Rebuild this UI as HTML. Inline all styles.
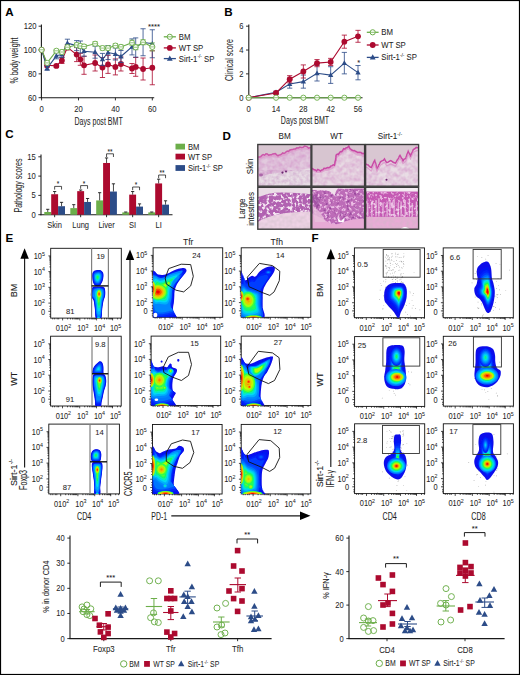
<!DOCTYPE html>
<html><head><meta charset="utf-8"><style>
html,body{margin:0;padding:0;background:#fff;}
svg{display:block;font-family:"Liberation Sans", sans-serif;fill:#1e1e1e;}
text{stroke:#1e1e1e;stroke-width:0.05px;}
.bt text{stroke-width:0.1px;}
</style></head><body>
<svg width="520" height="675" viewBox="0 0 520 675">
<defs>
<filter id="bl" x="-5%" y="-5%" width="110%" height="110%"><feGaussianBlur stdDeviation="0.55"/></filter>
<filter id="bl2"><feGaussianBlur stdDeviation="0.35"/></filter>
<filter id="tp" x="0" y="0" width="100%" height="100%" color-interpolation-filters="sRGB"><feTurbulence type="fractalNoise" baseFrequency="0.22" numOctaves="2" seed="2"/><feColorMatrix type="matrix" values="0 0 0 0 0.78 0 0 0 0 0.43 0 0 0 0 0.73 0.75 0 0 0 -0.22"/><feComposite in2="SourceGraphic" operator="in"/></filter>
<filter id="tp2" x="0" y="0" width="100%" height="100%" color-interpolation-filters="sRGB"><feTurbulence type="fractalNoise" baseFrequency="0.3" numOctaves="2" seed="5"/><feColorMatrix type="matrix" values="0 0 0 0 0.63 0 0 0 0 0.27 0 0 0 0 0.63 1 0 0 0 -0.3"/><feComposite in2="SourceGraphic" operator="in"/></filter>
<filter id="tw" x="0" y="0" width="100%" height="100%" color-interpolation-filters="sRGB"><feTurbulence type="fractalNoise" baseFrequency="0.3" numOctaves="2" seed="9"/><feColorMatrix type="matrix" values="0 0 0 0 0.98 0 0 0 0 0.94 0 0 0 0 0.97 1.38 0 0 0 -0.41"/><feComposite in2="SourceGraphic" operator="in"/></filter>
<filter id="tg" x="0" y="0" width="100%" height="100%" color-interpolation-filters="sRGB"><feTurbulence type="fractalNoise" baseFrequency="0.3" numOctaves="1" seed="11"/><feColorMatrix type="matrix" values="0 0 0 0 0.78 0 0 0 0 0.73 0 0 0 0 0.76 0.87 0 0 0 -0.26"/><feComposite in2="SourceGraphic" operator="in"/></filter>
<filter id="th" x="0" y="0" width="100%" height="100%" color-interpolation-filters="sRGB"><feTurbulence type="fractalNoise" baseFrequency="0.3" numOctaves="2" seed="4"/><feColorMatrix type="matrix" values="0 0 0 0 0.96 0 0 0 0 0.9 0 0 0 0 0.95 6 0 0 0 -3.0"/><feGaussianBlur stdDeviation="0.35"/><feComposite in2="SourceGraphic" operator="in"/></filter>
<filter id="th2" x="0" y="0" width="100%" height="100%" color-interpolation-filters="sRGB"><feTurbulence type="fractalNoise" baseFrequency="0.35" numOctaves="2" seed="8"/><feColorMatrix type="matrix" values="0 0 0 0 0.93 0 0 0 0 0.75 0 0 0 0 0.9 5 0 0 0 -2.5"/><feGaussianBlur stdDeviation="0.3"/><feComposite in2="SourceGraphic" operator="in"/></filter>
<filter id="td" x="0" y="0" width="100%" height="100%" color-interpolation-filters="sRGB"><feTurbulence type="fractalNoise" baseFrequency="0.3" numOctaves="2" seed="13"/><feColorMatrix type="matrix" values="0 0 0 0 0.5 0 0 0 0 0.18 0 0 0 0 0.55 4 0 0 0 -2.2"/><feComposite in2="SourceGraphic" operator="in"/></filter>
<clipPath id="c1"><rect x="257.8" y="144.5" width="53.2" height="41.7"/></clipPath>
<clipPath id="c2"><rect x="311.8" y="144.5" width="52.8" height="41.7"/></clipPath>
<clipPath id="c3"><rect x="365.6" y="144.5" width="53" height="41.7"/></clipPath>
<clipPath id="c4"><rect x="257.8" y="187.3" width="53.2" height="41.9"/></clipPath>
<clipPath id="c5"><rect x="311.8" y="187.3" width="52.8" height="41.9"/></clipPath>
<clipPath id="c6"><rect x="365.6" y="187.3" width="53" height="41.9"/></clipPath>
<clipPath id="c7"><rect x="50.7" y="248.3" width="70.6" height="69.8"/></clipPath>
<clipPath id="c8"><rect x="50.6" y="336.2" width="70.6" height="69.8"/></clipPath>
<clipPath id="c9"><rect x="48.8" y="424.1" width="70.6" height="69.8"/></clipPath>
<clipPath id="c10"><rect x="153.1" y="247.8" width="69.6" height="69.5"/></clipPath>
<clipPath id="c11"><rect x="241.2" y="247.8" width="69.6" height="69.5"/></clipPath>
<clipPath id="c12"><rect x="151.1" y="336.1" width="69.6" height="69.5"/></clipPath>
<clipPath id="c13"><rect x="241.2" y="336.1" width="69.6" height="69.5"/></clipPath>
<clipPath id="c14"><rect x="152.5" y="424.5" width="69.6" height="69.5"/></clipPath>
<clipPath id="c15"><rect x="241.2" y="424.4" width="69.6" height="69.5"/></clipPath>
<clipPath id="c16"><rect x="354.4" y="247.9" width="70.1" height="69.8"/></clipPath>
<clipPath id="c17"><rect x="443.2" y="247.9" width="70.1" height="69.8"/></clipPath>
<clipPath id="c18"><rect x="354.6" y="336.6" width="70.1" height="69.8"/></clipPath>
<clipPath id="c19"><rect x="443.3" y="336.3" width="70.1" height="69.8"/></clipPath>
<clipPath id="c20"><rect x="354.6" y="423.8" width="70.1" height="69.8"/></clipPath>
<clipPath id="c21"><rect x="443.3" y="423.8" width="70.1" height="69.8"/></clipPath>
</defs>
<rect x="0" y="0" width="520" height="675" fill="#fff"/>
<text x="5.3" y="15.9" font-size="11.6" font-weight="bold" fill="#000">A</text>
<text x="224.3" y="15.7" font-size="11.6" font-weight="bold" fill="#000">B</text>
<text x="5.3" y="138.3" font-size="11.6" font-weight="bold" fill="#000">C</text>
<text x="222.6" y="139.7" font-size="11.6" font-weight="bold" fill="#000">D</text>
<text x="5.6" y="242.3" font-size="11.6" font-weight="bold" fill="#000">E</text>
<text x="311.4" y="242.1" font-size="11.6" font-weight="bold" fill="#000">F</text>
<line x1="41.4" y1="24.5" x2="41.4" y2="98.2" stroke="#1a1a1a" stroke-width="1.1"/>
<line x1="40.9" y1="97.7" x2="154.2" y2="97.7" stroke="#1a1a1a" stroke-width="1.1"/>
<line x1="38.6" y1="97.7" x2="41.4" y2="97.7" stroke="#1a1a1a" stroke-width="0.9"/>
<text transform="translate(36.4 97.7) scale(0.9 1)" font-size="8.5" text-anchor="end" dy="3.02">60</text>
<line x1="38.6" y1="73.87" x2="41.4" y2="73.87" stroke="#1a1a1a" stroke-width="0.9"/>
<text transform="translate(36.4 73.87) scale(0.9 1)" font-size="8.5" text-anchor="end" dy="3.02">80</text>
<line x1="38.6" y1="50.03" x2="41.4" y2="50.03" stroke="#1a1a1a" stroke-width="0.9"/>
<text transform="translate(36.4 50.03) scale(0.9 1)" font-size="8.5" text-anchor="end" dy="3.02">100</text>
<line x1="38.6" y1="26.2" x2="41.4" y2="26.2" stroke="#1a1a1a" stroke-width="0.9"/>
<text transform="translate(36.4 26.2) scale(0.9 1)" font-size="8.5" text-anchor="end" dy="3.02">120</text>
<line x1="41.6" y1="97.7" x2="41.6" y2="100.4" stroke="#1a1a1a" stroke-width="0.9"/>
<text transform="translate(41.6 108.5) scale(0.9 1)" font-size="8.5" text-anchor="middle" dy="3.02">0</text>
<line x1="78.5" y1="97.7" x2="78.5" y2="100.4" stroke="#1a1a1a" stroke-width="0.9"/>
<text transform="translate(78.5 108.5) scale(0.9 1)" font-size="8.5" text-anchor="middle" dy="3.02">20</text>
<line x1="115.4" y1="97.7" x2="115.4" y2="100.4" stroke="#1a1a1a" stroke-width="0.9"/>
<text transform="translate(115.4 108.5) scale(0.9 1)" font-size="8.5" text-anchor="middle" dy="3.02">40</text>
<line x1="152.3" y1="97.7" x2="152.3" y2="100.4" stroke="#1a1a1a" stroke-width="0.9"/>
<text transform="translate(152.3 108.5) scale(0.9 1)" font-size="8.5" text-anchor="middle" dy="3.02">60</text>
<text transform="translate(14.2 60.5) rotate(-90) scale(0.7 1)" font-size="10.1" text-anchor="middle" dy="3.59">% body weight</text>
<text transform="translate(98.6 121.3) scale(0.7 1)" font-size="10.1" text-anchor="middle" dy="3.59">Days post BMT</text>
<text transform="translate(154 26.6)" font-size="7.8" text-anchor="middle" dy="2.77">****</text>
<path d="M47.14 63.3V67.3M44.54 63.3H49.74M44.54 67.3H49.74" stroke="#ac0a2f" stroke-width="0.9" opacity="0.9" fill="none"/>
<path d="M56.36 64.4V67.4M53.76 64.4H58.96M53.76 67.4H58.96" stroke="#ac0a2f" stroke-width="0.9" opacity="0.9" fill="none"/>
<path d="M61.89 57.5V63.5M59.29 57.5H64.49M59.29 63.5H64.49" stroke="#ac0a2f" stroke-width="0.9" opacity="0.9" fill="none"/>
<path d="M67.43 44.9V49.9M64.83 44.9H70.03M64.83 49.9H70.03" stroke="#ac0a2f" stroke-width="0.9" opacity="0.9" fill="none"/>
<path d="M76.66 47.6V61.6M74.06 47.6H79.25M74.06 61.6H79.25" stroke="#ac0a2f" stroke-width="0.9" opacity="0.9" fill="none"/>
<path d="M80.34 53.3V65.3M77.75 53.3H82.94M77.75 65.3H82.94" stroke="#ac0a2f" stroke-width="0.9" opacity="0.9" fill="none"/>
<path d="M84.03 56.3V74.3M81.44 56.3H86.63M81.44 74.3H86.63" stroke="#ac0a2f" stroke-width="0.9" opacity="0.9" fill="none"/>
<path d="M95.11 55V71M92.51 55H97.7M92.51 71H97.7" stroke="#ac0a2f" stroke-width="0.9" opacity="0.9" fill="none"/>
<path d="M102.48 57.5V77.5M99.89 57.5H105.08M99.89 77.5H105.08" stroke="#ac0a2f" stroke-width="0.9" opacity="0.9" fill="none"/>
<path d="M108.02 55.4V73.4M105.42 55.4H110.62M105.42 73.4H110.62" stroke="#ac0a2f" stroke-width="0.9" opacity="0.9" fill="none"/>
<path d="M115.4 58.9V74.9M112.8 58.9H118M112.8 74.9H118" stroke="#ac0a2f" stroke-width="0.9" opacity="0.9" fill="none"/>
<path d="M120.94 57V71M118.34 57H123.53M118.34 71H123.53" stroke="#ac0a2f" stroke-width="0.9" opacity="0.9" fill="none"/>
<path d="M132 63.5V73.5M129.41 63.5H134.6M129.41 73.5H134.6" stroke="#ac0a2f" stroke-width="0.9" opacity="0.9" fill="none"/>
<path d="M135.69 57.5V76.3M133.09 57.5H138.29M133.09 76.3H138.29" stroke="#ac0a2f" stroke-width="0.9" opacity="0.9" fill="none"/>
<path d="M143.07 58V80M140.47 58H145.67M140.47 80H145.67" stroke="#ac0a2f" stroke-width="0.9" opacity="0.9" fill="none"/>
<path d="M152.3 50.75V84.75M149.7 50.75H154.9M149.7 84.75H154.9" stroke="#ac0a2f" stroke-width="0.9" opacity="0.9" fill="none"/>
<polyline points="41.6,49.8 47.14,65.3 56.36,65.9 61.89,60.5 67.43,47.4 76.66,54.6 80.34,59.3 84.03,65.3 95.11,63 102.48,67.5 108.02,64.4 115.4,66.9 120.94,64 132,68.5 135.69,66.9 143.07,69 152.3,67.75" fill="none" stroke="#ac0a2f" stroke-width="1.1"/>
<circle cx="41.6" cy="49.8" r="2.9" fill="#ac0a2f" stroke="none" stroke-width="1"/>
<circle cx="47.14" cy="65.3" r="2.9" fill="#ac0a2f" stroke="none" stroke-width="1"/>
<circle cx="56.36" cy="65.9" r="2.9" fill="#ac0a2f" stroke="none" stroke-width="1"/>
<circle cx="61.89" cy="60.5" r="2.9" fill="#ac0a2f" stroke="none" stroke-width="1"/>
<circle cx="67.43" cy="47.4" r="2.9" fill="#ac0a2f" stroke="none" stroke-width="1"/>
<circle cx="76.66" cy="54.6" r="2.9" fill="#ac0a2f" stroke="none" stroke-width="1"/>
<circle cx="80.34" cy="59.3" r="2.9" fill="#ac0a2f" stroke="none" stroke-width="1"/>
<circle cx="84.03" cy="65.3" r="2.9" fill="#ac0a2f" stroke="none" stroke-width="1"/>
<circle cx="95.11" cy="63" r="2.9" fill="#ac0a2f" stroke="none" stroke-width="1"/>
<circle cx="102.48" cy="67.5" r="2.9" fill="#ac0a2f" stroke="none" stroke-width="1"/>
<circle cx="108.02" cy="64.4" r="2.9" fill="#ac0a2f" stroke="none" stroke-width="1"/>
<circle cx="115.4" cy="66.9" r="2.9" fill="#ac0a2f" stroke="none" stroke-width="1"/>
<circle cx="120.94" cy="64" r="2.9" fill="#ac0a2f" stroke="none" stroke-width="1"/>
<circle cx="132" cy="68.5" r="2.9" fill="#ac0a2f" stroke="none" stroke-width="1"/>
<circle cx="135.69" cy="66.9" r="2.9" fill="#ac0a2f" stroke="none" stroke-width="1"/>
<circle cx="143.07" cy="69" r="2.9" fill="#ac0a2f" stroke="none" stroke-width="1"/>
<circle cx="152.3" cy="67.75" r="2.9" fill="#ac0a2f" stroke="none" stroke-width="1"/>
<path d="M47.14 66.3V70.3M44.54 66.3H49.74M44.54 70.3H49.74" stroke="#2c4c88" stroke-width="0.9" opacity="0.9" fill="none"/>
<path d="M56.36 52.8V58.8M53.76 52.8H58.96M53.76 58.8H58.96" stroke="#2c4c88" stroke-width="0.9" opacity="0.9" fill="none"/>
<path d="M61.89 51.6V57.6M59.29 51.6H64.49M59.29 57.6H64.49" stroke="#2c4c88" stroke-width="0.9" opacity="0.9" fill="none"/>
<path d="M67.43 39.2V47.2M64.83 39.2H70.03M64.83 47.2H70.03" stroke="#2c4c88" stroke-width="0.9" opacity="0.9" fill="none"/>
<path d="M76.66 40.6V50.6M74.06 40.6H79.25M74.06 50.6H79.25" stroke="#2c4c88" stroke-width="0.9" opacity="0.9" fill="none"/>
<path d="M80.34 41V53M77.75 41H82.94M77.75 53H82.94" stroke="#2c4c88" stroke-width="0.9" opacity="0.9" fill="none"/>
<path d="M84.03 46.2V56.2M81.44 46.2H86.63M81.44 56.2H86.63" stroke="#2c4c88" stroke-width="0.9" opacity="0.9" fill="none"/>
<path d="M95.11 46.2V58.2M92.51 46.2H97.7M92.51 58.2H97.7" stroke="#2c4c88" stroke-width="0.9" opacity="0.9" fill="none"/>
<path d="M102.48 53.4V65.4M99.89 53.4H105.08M99.89 65.4H105.08" stroke="#2c4c88" stroke-width="0.9" opacity="0.9" fill="none"/>
<path d="M108.02 45.5V59.5M105.42 45.5H110.62M105.42 59.5H110.62" stroke="#2c4c88" stroke-width="0.9" opacity="0.9" fill="none"/>
<path d="M115.4 48V60M112.8 48H118M112.8 60H118" stroke="#2c4c88" stroke-width="0.9" opacity="0.9" fill="none"/>
<path d="M120.94 50.5V62.5M118.34 50.5H123.53M118.34 62.5H123.53" stroke="#2c4c88" stroke-width="0.9" opacity="0.9" fill="none"/>
<path d="M132 38.9V54.9M129.41 38.9H134.6M129.41 54.9H134.6" stroke="#2c4c88" stroke-width="0.9" opacity="0.9" fill="none"/>
<path d="M135.69 37.9V57.1M133.09 37.9H138.29M133.09 57.1H138.29" stroke="#2c4c88" stroke-width="0.9" opacity="0.9" fill="none"/>
<path d="M143.07 28.75V55.75M140.47 28.75H145.67M140.47 55.75H145.67" stroke="#2c4c88" stroke-width="0.9" opacity="0.9" fill="none"/>
<path d="M152.3 29.75V57.75M149.7 29.75H154.9M149.7 57.75H154.9" stroke="#2c4c88" stroke-width="0.9" opacity="0.9" fill="none"/>
<polyline points="41.6,49.8 47.14,68.3 56.36,55.8 61.89,54.6 67.43,43.2 76.66,45.6 80.34,47 84.03,51.2 95.11,52.2 102.48,59.4 108.02,52.5 115.4,54 120.94,56.5 132,46.9 135.69,47.5 143.07,42.25 152.3,43.75" fill="none" stroke="#2c4c88" stroke-width="1.1"/>
<path d="M41.6 46.95L44.24 51.7L38.96 51.7Z" fill="#2c4c88"/>
<path d="M47.14 65.45L49.78 70.2L44.5 70.2Z" fill="#2c4c88"/>
<path d="M56.36 52.95L59 57.7L53.72 57.7Z" fill="#2c4c88"/>
<path d="M61.89 51.75L64.53 56.5L59.25 56.5Z" fill="#2c4c88"/>
<path d="M67.43 40.35L70.07 45.1L64.79 45.1Z" fill="#2c4c88"/>
<path d="M76.66 42.75L79.3 47.5L74.02 47.5Z" fill="#2c4c88"/>
<path d="M80.34 44.15L82.98 48.9L77.7 48.9Z" fill="#2c4c88"/>
<path d="M84.03 48.35L86.67 53.1L81.39 53.1Z" fill="#2c4c88"/>
<path d="M95.11 49.35L97.75 54.1L92.47 54.1Z" fill="#2c4c88"/>
<path d="M102.48 56.55L105.12 61.3L99.84 61.3Z" fill="#2c4c88"/>
<path d="M108.02 49.65L110.66 54.4L105.38 54.4Z" fill="#2c4c88"/>
<path d="M115.4 51.15L118.04 55.9L112.76 55.9Z" fill="#2c4c88"/>
<path d="M120.94 53.65L123.58 58.4L118.3 58.4Z" fill="#2c4c88"/>
<path d="M132 44.05L134.64 48.8L129.37 48.8Z" fill="#2c4c88"/>
<path d="M135.69 44.65L138.33 49.4L133.06 49.4Z" fill="#2c4c88"/>
<path d="M143.07 39.4L145.71 44.15L140.44 44.15Z" fill="#2c4c88"/>
<path d="M152.3 40.9L154.94 45.65L149.66 45.65Z" fill="#2c4c88"/>
<path d="M47.14 61.4V64.4M44.54 61.4H49.74M44.54 64.4H49.74" stroke="#6cae4a" stroke-width="0.9" opacity="0.9" fill="none"/>
<path d="M56.36 49.3V52.3M53.76 49.3H58.96M53.76 52.3H58.96" stroke="#6cae4a" stroke-width="0.9" opacity="0.9" fill="none"/>
<path d="M61.89 50V54M59.29 50H64.49M59.29 54H64.49" stroke="#6cae4a" stroke-width="0.9" opacity="0.9" fill="none"/>
<path d="M67.43 45.2V49.2M64.83 45.2H70.03M64.83 49.2H70.03" stroke="#6cae4a" stroke-width="0.9" opacity="0.9" fill="none"/>
<path d="M76.66 43V47M74.06 43H79.25M74.06 47H79.25" stroke="#6cae4a" stroke-width="0.9" opacity="0.9" fill="none"/>
<path d="M80.34 44V48M77.75 44H82.94M77.75 48H82.94" stroke="#6cae4a" stroke-width="0.9" opacity="0.9" fill="none"/>
<path d="M84.03 44.5V48.5M81.44 44.5H86.63M81.44 48.5H86.63" stroke="#6cae4a" stroke-width="0.9" opacity="0.9" fill="none"/>
<path d="M95.11 41.75V45.75M92.51 41.75H97.7M92.51 45.75H97.7" stroke="#6cae4a" stroke-width="0.9" opacity="0.9" fill="none"/>
<path d="M102.48 46.1V50.1M99.89 46.1H105.08M99.89 50.1H105.08" stroke="#6cae4a" stroke-width="0.9" opacity="0.9" fill="none"/>
<path d="M108.02 46.1V50.1M105.42 46.1H110.62M105.42 50.1H110.62" stroke="#6cae4a" stroke-width="0.9" opacity="0.9" fill="none"/>
<path d="M115.4 43.6V47.6M112.8 43.6H118M112.8 47.6H118" stroke="#6cae4a" stroke-width="0.9" opacity="0.9" fill="none"/>
<path d="M120.94 44.9V48.9M118.34 44.9H123.53M118.34 48.9H123.53" stroke="#6cae4a" stroke-width="0.9" opacity="0.9" fill="none"/>
<path d="M132 40.25V45.25M129.41 40.25H134.6M129.41 45.25H134.6" stroke="#6cae4a" stroke-width="0.9" opacity="0.9" fill="none"/>
<path d="M135.69 44.75V49.75M133.09 44.75H138.29M133.09 49.75H138.29" stroke="#6cae4a" stroke-width="0.9" opacity="0.9" fill="none"/>
<path d="M143.07 39.75V44.75M140.47 39.75H145.67M140.47 44.75H145.67" stroke="#6cae4a" stroke-width="0.9" opacity="0.9" fill="none"/>
<path d="M152.3 42.9V50.9M149.7 42.9H154.9M149.7 50.9H154.9" stroke="#6cae4a" stroke-width="0.9" opacity="0.9" fill="none"/>
<polyline points="41.6,49.8 47.14,62.9 56.36,50.8 61.89,52 67.43,47.2 76.66,45 80.34,46 84.03,46.5 95.11,43.75 102.48,48.1 108.02,48.1 115.4,45.6 120.94,46.9 132,42.75 135.69,47.25 143.07,42.25 152.3,46.9" fill="none" stroke="#6cae4a" stroke-width="1.1"/>
<circle cx="41.6" cy="49.8" r="2.6" fill="white" stroke="#6cae4a" stroke-width="0.9"/>
<line x1="39" y1="49.8" x2="44.2" y2="49.8" stroke="#6cae4a" stroke-width="0.7"/>
<circle cx="47.14" cy="62.9" r="2.6" fill="white" stroke="#6cae4a" stroke-width="0.9"/>
<line x1="44.54" y1="62.9" x2="49.74" y2="62.9" stroke="#6cae4a" stroke-width="0.7"/>
<circle cx="56.36" cy="50.8" r="2.6" fill="white" stroke="#6cae4a" stroke-width="0.9"/>
<line x1="53.76" y1="50.8" x2="58.96" y2="50.8" stroke="#6cae4a" stroke-width="0.7"/>
<circle cx="61.89" cy="52" r="2.6" fill="white" stroke="#6cae4a" stroke-width="0.9"/>
<line x1="59.29" y1="52" x2="64.49" y2="52" stroke="#6cae4a" stroke-width="0.7"/>
<circle cx="67.43" cy="47.2" r="2.6" fill="white" stroke="#6cae4a" stroke-width="0.9"/>
<line x1="64.83" y1="47.2" x2="70.03" y2="47.2" stroke="#6cae4a" stroke-width="0.7"/>
<circle cx="76.66" cy="45" r="2.6" fill="white" stroke="#6cae4a" stroke-width="0.9"/>
<line x1="74.06" y1="45" x2="79.25" y2="45" stroke="#6cae4a" stroke-width="0.7"/>
<circle cx="80.34" cy="46" r="2.6" fill="white" stroke="#6cae4a" stroke-width="0.9"/>
<line x1="77.75" y1="46" x2="82.94" y2="46" stroke="#6cae4a" stroke-width="0.7"/>
<circle cx="84.03" cy="46.5" r="2.6" fill="white" stroke="#6cae4a" stroke-width="0.9"/>
<line x1="81.44" y1="46.5" x2="86.63" y2="46.5" stroke="#6cae4a" stroke-width="0.7"/>
<circle cx="95.11" cy="43.75" r="2.6" fill="white" stroke="#6cae4a" stroke-width="0.9"/>
<line x1="92.51" y1="43.75" x2="97.7" y2="43.75" stroke="#6cae4a" stroke-width="0.7"/>
<circle cx="102.48" cy="48.1" r="2.6" fill="white" stroke="#6cae4a" stroke-width="0.9"/>
<line x1="99.89" y1="48.1" x2="105.08" y2="48.1" stroke="#6cae4a" stroke-width="0.7"/>
<circle cx="108.02" cy="48.1" r="2.6" fill="white" stroke="#6cae4a" stroke-width="0.9"/>
<line x1="105.42" y1="48.1" x2="110.62" y2="48.1" stroke="#6cae4a" stroke-width="0.7"/>
<circle cx="115.4" cy="45.6" r="2.6" fill="white" stroke="#6cae4a" stroke-width="0.9"/>
<line x1="112.8" y1="45.6" x2="118" y2="45.6" stroke="#6cae4a" stroke-width="0.7"/>
<circle cx="120.94" cy="46.9" r="2.6" fill="white" stroke="#6cae4a" stroke-width="0.9"/>
<line x1="118.34" y1="46.9" x2="123.53" y2="46.9" stroke="#6cae4a" stroke-width="0.7"/>
<circle cx="132" cy="42.75" r="2.6" fill="white" stroke="#6cae4a" stroke-width="0.9"/>
<line x1="129.41" y1="42.75" x2="134.6" y2="42.75" stroke="#6cae4a" stroke-width="0.7"/>
<circle cx="135.69" cy="47.25" r="2.6" fill="white" stroke="#6cae4a" stroke-width="0.9"/>
<line x1="133.09" y1="47.25" x2="138.29" y2="47.25" stroke="#6cae4a" stroke-width="0.7"/>
<circle cx="143.07" cy="42.25" r="2.6" fill="white" stroke="#6cae4a" stroke-width="0.9"/>
<line x1="140.47" y1="42.25" x2="145.67" y2="42.25" stroke="#6cae4a" stroke-width="0.7"/>
<circle cx="152.3" cy="46.9" r="2.6" fill="white" stroke="#6cae4a" stroke-width="0.9"/>
<line x1="149.7" y1="46.9" x2="154.9" y2="46.9" stroke="#6cae4a" stroke-width="0.7"/>
<line x1="163.8" y1="36.8" x2="175.9" y2="36.8" stroke="#6cae4a" stroke-width="1.3"/>
<circle cx="169.8" cy="36.8" r="2.6" fill="white" stroke="#6cae4a" stroke-width="1"/>
<line x1="167.2" y1="36.8" x2="172.4" y2="36.8" stroke="#6cae4a" stroke-width="0.8"/>
<text transform="translate(178.8 36.8) scale(0.95 1)" font-size="8.2" dy="2.91">BM</text>
<line x1="163.8" y1="47.9" x2="175.9" y2="47.9" stroke="#ac0a2f" stroke-width="1.3"/>
<circle cx="169.8" cy="47.9" r="2.9" fill="#ac0a2f" stroke="none" stroke-width="1"/>
<text transform="translate(178.8 47.9) scale(0.95 1)" font-size="8.2" dy="2.91">WT SP</text>
<line x1="163.8" y1="58.6" x2="175.9" y2="58.6" stroke="#2c4c88" stroke-width="1.3"/>
<path d="M169.8 55.47L172.7 60.69L166.9 60.69Z" fill="#2c4c88"/>
<text transform="translate(178.8 58.6) scale(0.95 1)" font-size="8.2" dy="2.91">Sirt-1<tspan font-size="5.08" dy="-3.28">-/-</tspan><tspan dy="3.28"> SP</tspan></text>
<line x1="248.8" y1="24.5" x2="248.8" y2="98.2" stroke="#1a1a1a" stroke-width="1.1"/>
<line x1="248.3" y1="97.7" x2="362.5" y2="97.7" stroke="#1a1a1a" stroke-width="1.1"/>
<line x1="246" y1="97.7" x2="248.8" y2="97.7" stroke="#1a1a1a" stroke-width="0.9"/>
<text transform="translate(243.5 97.7) scale(0.9 1)" font-size="8.5" text-anchor="end" dy="3.02">0</text>
<line x1="246" y1="73.86" x2="248.8" y2="73.86" stroke="#1a1a1a" stroke-width="0.9"/>
<text transform="translate(243.5 73.86) scale(0.9 1)" font-size="8.5" text-anchor="end" dy="3.02">2</text>
<line x1="246" y1="50.02" x2="248.8" y2="50.02" stroke="#1a1a1a" stroke-width="0.9"/>
<text transform="translate(243.5 50.02) scale(0.9 1)" font-size="8.5" text-anchor="end" dy="3.02">4</text>
<line x1="246" y1="26.18" x2="248.8" y2="26.18" stroke="#1a1a1a" stroke-width="0.9"/>
<text transform="translate(243.5 26.18) scale(0.9 1)" font-size="8.5" text-anchor="end" dy="3.02">6</text>
<line x1="248.7" y1="97.7" x2="248.7" y2="100.4" stroke="#1a1a1a" stroke-width="0.9"/>
<text transform="translate(248.7 108.5) scale(0.9 1)" font-size="8.5" text-anchor="middle" dy="3.02">0</text>
<line x1="276.03" y1="97.7" x2="276.03" y2="100.4" stroke="#1a1a1a" stroke-width="0.9"/>
<text transform="translate(276.03 108.5) scale(0.9 1)" font-size="8.5" text-anchor="middle" dy="3.02">14</text>
<line x1="303.36" y1="97.7" x2="303.36" y2="100.4" stroke="#1a1a1a" stroke-width="0.9"/>
<text transform="translate(303.36 108.5) scale(0.9 1)" font-size="8.5" text-anchor="middle" dy="3.02">28</text>
<line x1="330.68" y1="97.7" x2="330.68" y2="100.4" stroke="#1a1a1a" stroke-width="0.9"/>
<text transform="translate(330.68 108.5) scale(0.9 1)" font-size="8.5" text-anchor="middle" dy="3.02">42</text>
<line x1="358.01" y1="97.7" x2="358.01" y2="100.4" stroke="#1a1a1a" stroke-width="0.9"/>
<text transform="translate(358.01 108.5) scale(0.9 1)" font-size="8.5" text-anchor="middle" dy="3.02">56</text>
<text transform="translate(229.4 60) rotate(-90) scale(0.7 1)" font-size="10.1" text-anchor="middle" dy="3.59">Clinical score</text>
<text transform="translate(305 120.2) scale(0.7 1)" font-size="10.1" text-anchor="middle" dy="3.59">Days post BMT</text>
<path d="M276.03 91.14V93.53M273.43 91.14H278.63M273.43 93.53H278.63" stroke="#2c4c88" stroke-width="0.9" opacity="0.9" fill="none"/>
<path d="M289.69 79.82V88.16M287.09 79.82H292.29M287.09 88.16H292.29" stroke="#2c4c88" stroke-width="0.9" opacity="0.9" fill="none"/>
<path d="M303.36 75.05V88.16M300.76 75.05H305.96M300.76 88.16H305.96" stroke="#2c4c88" stroke-width="0.9" opacity="0.9" fill="none"/>
<path d="M317.02 65.52V81.01M314.42 65.52H319.62M314.42 81.01H319.62" stroke="#2c4c88" stroke-width="0.9" opacity="0.9" fill="none"/>
<path d="M330.68 66.71V83.4M328.08 66.71H333.28M328.08 83.4H333.28" stroke="#2c4c88" stroke-width="0.9" opacity="0.9" fill="none"/>
<path d="M344.35 52.4V73.86M341.75 52.4H346.95M341.75 73.86H346.95" stroke="#2c4c88" stroke-width="0.9" opacity="0.9" fill="none"/>
<path d="M358.01 65.52V79.82M355.41 65.52H360.61M355.41 79.82H360.61" stroke="#2c4c88" stroke-width="0.9" opacity="0.9" fill="none"/>
<polyline points="248.7,97.7 276.03,92.34 289.69,83.99 303.36,81.61 317.02,73.26 330.68,75.05 344.35,63.13 358.01,72.67" fill="none" stroke="#2c4c88" stroke-width="1.1"/>
<path d="M248.7 94.85L251.34 99.6L246.06 99.6Z" fill="#2c4c88"/>
<path d="M276.03 89.48L278.67 94.24L273.39 94.24Z" fill="#2c4c88"/>
<path d="M289.69 81.14L292.33 85.89L287.05 85.89Z" fill="#2c4c88"/>
<path d="M303.36 78.76L306 83.51L300.72 83.51Z" fill="#2c4c88"/>
<path d="M317.02 70.41L319.66 75.16L314.38 75.16Z" fill="#2c4c88"/>
<path d="M330.68 72.2L333.32 76.95L328.04 76.95Z" fill="#2c4c88"/>
<path d="M344.35 60.28L346.99 65.03L341.71 65.03Z" fill="#2c4c88"/>
<path d="M358.01 69.82L360.65 74.57L355.37 74.57Z" fill="#2c4c88"/>
<path d="M276.03 91.74V94.12M273.43 91.74H278.63M273.43 94.12H278.63" stroke="#ac0a2f" stroke-width="0.9" opacity="0.9" fill="none"/>
<path d="M289.69 75.65V82.8M287.09 75.65H292.29M287.09 82.8H292.29" stroke="#ac0a2f" stroke-width="0.9" opacity="0.9" fill="none"/>
<path d="M303.36 64.92V78.03M300.76 64.92H305.96M300.76 78.03H305.96" stroke="#ac0a2f" stroke-width="0.9" opacity="0.9" fill="none"/>
<path d="M317.02 59.56V66.71M314.42 59.56H319.62M314.42 66.71H319.62" stroke="#ac0a2f" stroke-width="0.9" opacity="0.9" fill="none"/>
<path d="M330.68 58.36V65.52M328.08 58.36H333.28M328.08 65.52H333.28" stroke="#ac0a2f" stroke-width="0.9" opacity="0.9" fill="none"/>
<path d="M344.35 35.12V48.23M341.75 35.12H346.95M341.75 48.23H346.95" stroke="#ac0a2f" stroke-width="0.9" opacity="0.9" fill="none"/>
<path d="M358.01 30.35V42.27M355.41 30.35H360.61M355.41 42.27H360.61" stroke="#ac0a2f" stroke-width="0.9" opacity="0.9" fill="none"/>
<polyline points="248.7,97.7 276.03,92.93 289.69,79.22 303.36,71.48 317.02,63.13 330.68,61.94 344.35,41.68 358.01,36.31" fill="none" stroke="#ac0a2f" stroke-width="1.1"/>
<circle cx="248.7" cy="97.7" r="2.9" fill="#ac0a2f" stroke="none" stroke-width="1"/>
<circle cx="276.03" cy="92.93" r="2.9" fill="#ac0a2f" stroke="none" stroke-width="1"/>
<circle cx="289.69" cy="79.22" r="2.9" fill="#ac0a2f" stroke="none" stroke-width="1"/>
<circle cx="303.36" cy="71.48" r="2.9" fill="#ac0a2f" stroke="none" stroke-width="1"/>
<circle cx="317.02" cy="63.13" r="2.9" fill="#ac0a2f" stroke="none" stroke-width="1"/>
<circle cx="330.68" cy="61.94" r="2.9" fill="#ac0a2f" stroke="none" stroke-width="1"/>
<circle cx="344.35" cy="41.68" r="2.9" fill="#ac0a2f" stroke="none" stroke-width="1"/>
<circle cx="358.01" cy="36.31" r="2.9" fill="#ac0a2f" stroke="none" stroke-width="1"/>
<polyline points="248.7,97.7 276.03,97.7 289.69,97.7 303.36,97.7 317.02,97.7 330.68,97.7 344.35,97.7 358.01,97.7" fill="none" stroke="#6cae4a" stroke-width="1.1"/>
<circle cx="248.7" cy="97.7" r="2.6" fill="white" stroke="#6cae4a" stroke-width="0.9"/>
<line x1="246.1" y1="97.7" x2="251.3" y2="97.7" stroke="#6cae4a" stroke-width="0.7"/>
<circle cx="276.03" cy="97.7" r="2.6" fill="white" stroke="#6cae4a" stroke-width="0.9"/>
<line x1="273.43" y1="97.7" x2="278.63" y2="97.7" stroke="#6cae4a" stroke-width="0.7"/>
<circle cx="289.69" cy="97.7" r="2.6" fill="white" stroke="#6cae4a" stroke-width="0.9"/>
<line x1="287.09" y1="97.7" x2="292.29" y2="97.7" stroke="#6cae4a" stroke-width="0.7"/>
<circle cx="303.36" cy="97.7" r="2.6" fill="white" stroke="#6cae4a" stroke-width="0.9"/>
<line x1="300.76" y1="97.7" x2="305.96" y2="97.7" stroke="#6cae4a" stroke-width="0.7"/>
<circle cx="317.02" cy="97.7" r="2.6" fill="white" stroke="#6cae4a" stroke-width="0.9"/>
<line x1="314.42" y1="97.7" x2="319.62" y2="97.7" stroke="#6cae4a" stroke-width="0.7"/>
<circle cx="330.68" cy="97.7" r="2.6" fill="white" stroke="#6cae4a" stroke-width="0.9"/>
<line x1="328.08" y1="97.7" x2="333.28" y2="97.7" stroke="#6cae4a" stroke-width="0.7"/>
<circle cx="344.35" cy="97.7" r="2.6" fill="white" stroke="#6cae4a" stroke-width="0.9"/>
<line x1="341.75" y1="97.7" x2="346.95" y2="97.7" stroke="#6cae4a" stroke-width="0.7"/>
<circle cx="358.01" cy="97.7" r="2.6" fill="white" stroke="#6cae4a" stroke-width="0.9"/>
<line x1="355.41" y1="97.7" x2="360.61" y2="97.7" stroke="#6cae4a" stroke-width="0.7"/>
<text transform="translate(358.6 62.5)" font-size="7.5" text-anchor="middle" dy="2.66">*</text>
<line x1="366.8" y1="32.3" x2="378.6" y2="32.3" stroke="#6cae4a" stroke-width="1.3"/>
<circle cx="372.7" cy="32.3" r="2.6" fill="white" stroke="#6cae4a" stroke-width="1"/>
<line x1="370.1" y1="32.3" x2="375.3" y2="32.3" stroke="#6cae4a" stroke-width="0.8"/>
<text transform="translate(381.3 32.3) scale(0.95 1)" font-size="8.2" dy="2.91">BM</text>
<line x1="366.8" y1="45" x2="378.6" y2="45" stroke="#ac0a2f" stroke-width="1.3"/>
<circle cx="372.7" cy="45" r="2.9" fill="#ac0a2f" stroke="none" stroke-width="1"/>
<text transform="translate(381.3 45) scale(0.95 1)" font-size="8.2" dy="2.91">WT SP</text>
<line x1="366.8" y1="57.4" x2="378.6" y2="57.4" stroke="#2c4c88" stroke-width="1.3"/>
<path d="M372.7 54.27L375.6 59.49L369.8 59.49Z" fill="#2c4c88"/>
<text transform="translate(381.3 57.4) scale(0.95 1)" font-size="8.2" dy="2.91">Sirt-1<tspan font-size="5.08" dy="-3.28">-/-</tspan><tspan dy="3.28"> SP</tspan></text>
<line x1="41" y1="154.5" x2="41" y2="215.2" stroke="#1a1a1a" stroke-width="1.1"/>
<line x1="40.5" y1="214.7" x2="172.5" y2="214.7" stroke="#1a1a1a" stroke-width="1.1"/>
<line x1="38.3" y1="214.7" x2="41" y2="214.7" stroke="#1a1a1a" stroke-width="0.9"/>
<text transform="translate(35.8 214.7) scale(0.9 1)" font-size="8.5" text-anchor="end" dy="3.02">0</text>
<line x1="38.3" y1="195.4" x2="41" y2="195.4" stroke="#1a1a1a" stroke-width="0.9"/>
<text transform="translate(35.8 195.4) scale(0.9 1)" font-size="8.5" text-anchor="end" dy="3.02">5</text>
<line x1="38.3" y1="176.1" x2="41" y2="176.1" stroke="#1a1a1a" stroke-width="0.9"/>
<text transform="translate(35.8 176.1) scale(0.9 1)" font-size="8.5" text-anchor="end" dy="3.02">10</text>
<line x1="38.3" y1="156.8" x2="41" y2="156.8" stroke="#1a1a1a" stroke-width="0.9"/>
<text transform="translate(35.8 156.8) scale(0.9 1)" font-size="8.5" text-anchor="end" dy="3.02">15</text>
<text transform="translate(18.6 185.5) rotate(-90) scale(0.7 1)" font-size="10.1" text-anchor="middle" dy="3.59">Pathology scores</text>
<rect x="44.3" y="212" width="6.9" height="2.7" fill="#6cae4a" stroke="none" stroke-width="1"/>
<line x1="47.75" y1="209.3" x2="47.75" y2="212" stroke="#1a1a1a" stroke-width="0.8"/>
<line x1="46.15" y1="209.3" x2="49.35" y2="209.3" stroke="#1a1a1a" stroke-width="0.9"/>
<rect x="51.2" y="194.24" width="6.9" height="20.46" fill="#ac0a2f" stroke="none" stroke-width="1"/>
<line x1="54.65" y1="191.54" x2="54.65" y2="194.24" stroke="#1a1a1a" stroke-width="0.8"/>
<line x1="53.05" y1="191.54" x2="56.25" y2="191.54" stroke="#1a1a1a" stroke-width="0.9"/>
<rect x="58.1" y="206.21" width="6.9" height="8.49" fill="#2c4c88" stroke="none" stroke-width="1"/>
<line x1="61.55" y1="202.35" x2="61.55" y2="206.21" stroke="#1a1a1a" stroke-width="0.8"/>
<line x1="59.95" y1="202.35" x2="63.15" y2="202.35" stroke="#1a1a1a" stroke-width="0.9"/>
<line x1="54.65" y1="214.7" x2="54.65" y2="217.2" stroke="#1a1a1a" stroke-width="0.9"/>
<text transform="translate(54.65 225) scale(0.8 1)" font-size="9.4" text-anchor="middle" dy="3.34">Skin</text>
<path d="M54.65 189.6V186.4H61.55V189.6" fill="none" stroke="#222" stroke-width="0.8"/>
<text transform="translate(58.1 184.1)" font-size="6.5" text-anchor="middle" dy="2.31">*</text>
<rect x="70.3" y="208.14" width="6.9" height="6.56" fill="#6cae4a" stroke="none" stroke-width="1"/>
<line x1="73.75" y1="204.66" x2="73.75" y2="208.14" stroke="#1a1a1a" stroke-width="0.8"/>
<line x1="72.15" y1="204.66" x2="75.35" y2="204.66" stroke="#1a1a1a" stroke-width="0.9"/>
<rect x="77.2" y="191.15" width="6.9" height="23.55" fill="#ac0a2f" stroke="none" stroke-width="1"/>
<line x1="80.65" y1="190" x2="80.65" y2="191.15" stroke="#1a1a1a" stroke-width="0.8"/>
<line x1="79.05" y1="190" x2="82.25" y2="190" stroke="#1a1a1a" stroke-width="0.9"/>
<rect x="84.1" y="201.96" width="6.9" height="12.74" fill="#2c4c88" stroke="none" stroke-width="1"/>
<line x1="87.55" y1="198.49" x2="87.55" y2="201.96" stroke="#1a1a1a" stroke-width="0.8"/>
<line x1="85.95" y1="198.49" x2="89.15" y2="198.49" stroke="#1a1a1a" stroke-width="0.9"/>
<line x1="80.65" y1="214.7" x2="80.65" y2="217.2" stroke="#1a1a1a" stroke-width="0.9"/>
<text transform="translate(80.65 225) scale(0.8 1)" font-size="9.4" text-anchor="middle" dy="3.34">Lung</text>
<path d="M80.65 188.8V185.6H87.55V188.8" fill="none" stroke="#222" stroke-width="0.8"/>
<text transform="translate(84.1 183.3)" font-size="6.5" text-anchor="middle" dy="2.31">*</text>
<rect x="96.2" y="200.42" width="6.9" height="14.28" fill="#6cae4a" stroke="none" stroke-width="1"/>
<line x1="99.65" y1="192.7" x2="99.65" y2="200.42" stroke="#1a1a1a" stroke-width="0.8"/>
<line x1="98.05" y1="192.7" x2="101.25" y2="192.7" stroke="#1a1a1a" stroke-width="0.9"/>
<rect x="103.1" y="162.98" width="6.9" height="51.72" fill="#ac0a2f" stroke="none" stroke-width="1"/>
<line x1="106.55" y1="157.96" x2="106.55" y2="162.98" stroke="#1a1a1a" stroke-width="0.8"/>
<line x1="104.95" y1="157.96" x2="108.15" y2="157.96" stroke="#1a1a1a" stroke-width="0.9"/>
<rect x="110" y="191.54" width="6.9" height="23.16" fill="#2c4c88" stroke="none" stroke-width="1"/>
<line x1="113.45" y1="183.82" x2="113.45" y2="191.54" stroke="#1a1a1a" stroke-width="0.8"/>
<line x1="111.85" y1="183.82" x2="115.05" y2="183.82" stroke="#1a1a1a" stroke-width="0.9"/>
<line x1="106.55" y1="214.7" x2="106.55" y2="217.2" stroke="#1a1a1a" stroke-width="0.9"/>
<text transform="translate(106.55 225) scale(0.8 1)" font-size="9.4" text-anchor="middle" dy="3.34">Liver</text>
<path d="M106.55 157V153.8H113.45V157" fill="none" stroke="#222" stroke-width="0.8"/>
<text transform="translate(110 151.5)" font-size="6.5" text-anchor="middle" dy="2.31">**</text>
<rect x="122.3" y="212.38" width="6.9" height="2.32" fill="#6cae4a" stroke="none" stroke-width="1"/>
<line x1="125.75" y1="212" x2="125.75" y2="212.38" stroke="#1a1a1a" stroke-width="0.8"/>
<line x1="124.15" y1="212" x2="127.35" y2="212" stroke="#1a1a1a" stroke-width="0.9"/>
<rect x="129.2" y="194.63" width="6.9" height="20.07" fill="#ac0a2f" stroke="none" stroke-width="1"/>
<line x1="132.65" y1="191.54" x2="132.65" y2="194.63" stroke="#1a1a1a" stroke-width="0.8"/>
<line x1="131.05" y1="191.54" x2="134.25" y2="191.54" stroke="#1a1a1a" stroke-width="0.9"/>
<rect x="136.1" y="206.59" width="6.9" height="8.11" fill="#2c4c88" stroke="none" stroke-width="1"/>
<line x1="139.55" y1="203.89" x2="139.55" y2="206.59" stroke="#1a1a1a" stroke-width="0.8"/>
<line x1="137.95" y1="203.89" x2="141.15" y2="203.89" stroke="#1a1a1a" stroke-width="0.9"/>
<line x1="132.65" y1="214.7" x2="132.65" y2="217.2" stroke="#1a1a1a" stroke-width="0.9"/>
<text transform="translate(132.65 225) scale(0.8 1)" font-size="9.4" text-anchor="middle" dy="3.34">SI</text>
<path d="M132.65 190.2V187H139.55V190.2" fill="none" stroke="#222" stroke-width="0.8"/>
<text transform="translate(136.1 184.7)" font-size="6.5" text-anchor="middle" dy="2.31">*</text>
<rect x="148.3" y="212.38" width="6.9" height="2.32" fill="#6cae4a" stroke="none" stroke-width="1"/>
<line x1="151.75" y1="212" x2="151.75" y2="212.38" stroke="#1a1a1a" stroke-width="0.8"/>
<line x1="150.15" y1="212" x2="153.35" y2="212" stroke="#1a1a1a" stroke-width="0.9"/>
<rect x="155.2" y="183.43" width="6.9" height="31.27" fill="#ac0a2f" stroke="none" stroke-width="1"/>
<line x1="158.65" y1="179.19" x2="158.65" y2="183.43" stroke="#1a1a1a" stroke-width="0.8"/>
<line x1="157.05" y1="179.19" x2="160.25" y2="179.19" stroke="#1a1a1a" stroke-width="0.9"/>
<rect x="162.1" y="204.66" width="6.9" height="10.04" fill="#2c4c88" stroke="none" stroke-width="1"/>
<line x1="165.55" y1="200.8" x2="165.55" y2="204.66" stroke="#1a1a1a" stroke-width="0.8"/>
<line x1="163.95" y1="200.8" x2="167.15" y2="200.8" stroke="#1a1a1a" stroke-width="0.9"/>
<line x1="158.65" y1="214.7" x2="158.65" y2="217.2" stroke="#1a1a1a" stroke-width="0.9"/>
<text transform="translate(158.65 225) scale(0.8 1)" font-size="9.4" text-anchor="middle" dy="3.34">LI</text>
<path d="M158.65 178.2V175H165.55V178.2" fill="none" stroke="#222" stroke-width="0.8"/>
<text transform="translate(162.1 172.7)" font-size="6.5" text-anchor="middle" dy="2.31">**</text>
<rect x="175.5" y="143.7" width="9.5" height="5.8" fill="#6cae4a" stroke="none" stroke-width="1"/>
<text transform="translate(188 146.6) scale(0.93 1)" font-size="8.2" dy="2.91">BM</text>
<rect x="175.5" y="153.7" width="9.5" height="5.8" fill="#ac0a2f" stroke="none" stroke-width="1"/>
<text transform="translate(188 156.6) scale(0.93 1)" font-size="8.2" dy="2.91">WT SP</text>
<rect x="175.5" y="165.1" width="9.5" height="5.8" fill="#2c4c88" stroke="none" stroke-width="1"/>
<text transform="translate(188 168) scale(0.93 1)" font-size="8.2" dy="2.91">Sirt-1<tspan font-size="5.08" dy="-3.28">-/-</tspan><tspan dy="3.28"> SP</tspan></text>
<text transform="translate(284.7 136.2) scale(0.95 1)" font-size="8.6" text-anchor="middle" dy="3.05">BM</text>
<text transform="translate(336.6 136.2) scale(0.95 1)" font-size="8.6" text-anchor="middle" dy="3.05">WT</text>
<text transform="translate(390 136.2) scale(0.95 1)" font-size="8.6" text-anchor="middle" dy="3.05">Sirt-1<tspan font-size="5.33" dy="-3.44">-/-</tspan></text>
<text transform="translate(250.4 166.4) rotate(-90) scale(0.95 1)" font-size="8.4" text-anchor="middle" dy="2.98">Skin</text>
<text transform="translate(242.3 208.8) rotate(-90) scale(0.95 1)" font-size="8.4" text-anchor="middle" dy="2.98">Large</text>
<text transform="translate(251.1 208.8) rotate(-90) scale(0.95 1)" font-size="8.4" text-anchor="middle" dy="2.98">intestines</text>
<g clip-path="url(#c1)">
<rect x="257.8" y="144.5" width="53.2" height="41.7" fill="#e8dee5" stroke="none" stroke-width="1"/>
<path d="M256 157.5L259.6 157L263.1 155.3L266 154.1L270 154.7L274 153.5L278 155.3L282.7 153.5L287.3 151.8L290.8 149.5L295.4 148.3L300 147.2L304.6 146.6L309.8 147.8L312 148L312 144L256 144Z" fill="#d8c6d1"/>
<path d="M256 157.5L259.6 157L263.1 155.3L266 154.1L270 154.7L274 153.5L278 155.3L282.7 153.5L287.3 151.8L290.8 149.5L295.4 148.3L300 147.2L304.6 146.6L309.8 147.8L312 148L312 168L300 170L290 171L280 172.5L270 174L262 176L256 178Z" fill="#e2cade"/>
<path d="M256 157.5L259.6 157L263.1 155.3L266 154.1L270 154.7L274 153.5L278 155.3L282.7 153.5L287.3 151.8L290.8 149.5L295.4 148.3L300 147.2L304.6 146.6L309.8 147.8L312 148L312 168L300 170L290 171L280 172.5L270 174L262 176L256 178Z" fill="#fff" filter="url(#tp)"/>
<path d="M256 157.5L259.6 157L263.1 155.3L266 154.1L270 154.7L274 153.5L278 155.3L282.7 153.5L287.3 151.8L290.8 149.5L295.4 148.3L300 147.2L304.6 146.6L309.8 147.8L312 148" fill="none" stroke="#dc9ccc" stroke-width="2.4" transform="translate(0 1.6)" opacity="0.8"/>
<path d="M256 157.1L257.2 157.4L258.4 157L259.6 157.1L260.8 156.6L261.9 155.3L263.1 154.6L264.6 155.2L266 153.8L267.3 153.9L268.7 155.2L270 154.7L271.3 154.8L272.7 153.9L274 153.7L275.3 153.6L276.7 154.9L278 155.8L279.2 154.9L280.4 154.7L281.5 154.2L282.7 152.9L283.9 153.4L285 152.8L286.1 151.9L287.3 151.1L288.5 151.5L289.6 150.2L290.8 149.8L292.3 149.6L293.9 149L295.4 148.9L296.9 147.8L298.5 148L300 147.1L301.5 147.6L303.1 147.3L304.6 146L305.9 146.4L307.2 146.8L308.5 148.2L309.8 147.7L312 148" fill="none" stroke="#cc58aa" stroke-width="1.5"/>
<rect x="257.8" y="170" width="53.2" height="17" fill="#fff" filter="url(#tp2)" opacity="0.45"/>
<circle cx="282.5" cy="172.6" r="1.1" fill="#6a2470"/><circle cx="286" cy="171.6" r="1" fill="#6a2470"/><ellipse cx="261" cy="175" rx="2" ry="1.4" fill="#9a4a98" opacity="0.7"/>
</g>
<g clip-path="url(#c2)">
<rect x="311.8" y="144.5" width="52.8" height="41.7" fill="#e8dae3" stroke="none" stroke-width="1"/>
<path d="M310 167L313 168.5L316.5 170.2L320.5 170.3L324 168.8L327.5 168L331 166.8L334.4 164.5L335.6 160L336.1 155.8L339.6 153L343.6 148.9L348.8 146.6L351 149L353.4 150.1L357.5 153L361 152.8L363.2 154.1L366 154L366 144L310 144Z" fill="#d7c5d0"/>
<path d="M310 167L313 168.5L316.5 170.2L320.5 170.3L324 168.8L327.5 168L331 166.8L334.4 164.5L335.6 160L336.1 155.8L339.6 153L343.6 148.9L348.8 146.6L351 149L353.4 150.1L357.5 153L361 152.8L363.2 154.1L366 154L366 186.5L310 186.5Z" fill="#fff" filter="url(#tp)"/>
<path d="M310 167L313 168.5L316.5 170.2L320.5 170.3L324 168.8L327.5 168L331 166.8L334.4 164.5L335.6 160L336.1 155.8L339.6 153L343.6 148.9L348.8 146.6L351 149L353.4 150.1L357.5 153L361 152.8L363.2 154.1L366 154" fill="none" stroke="#dc9ccc" stroke-width="2.4" transform="translate(0 1.6)" opacity="0.8"/>
<path d="M310 167.2L311.5 168.1L313 169L314.2 169.8L315.3 170L316.5 170.9L317.8 169.5L319.2 170.2L320.5 171L321.7 170L322.8 169.9L324 168.2L325.8 168.4L327.5 167.6L328.7 167.7L329.8 167.3L331 166L332.1 165.6L333.3 164.9L334.4 165.2L334.8 163.4L335.2 161L335.6 160.5L335.8 158L335.9 157.4L336.1 155.2L337.3 154.1L338.4 154.5L339.6 152.5L340.6 151.5L341.6 151.7L342.6 150.5L343.6 148.6L344.9 149.1L346.2 147.8L347.5 147.5L348.8 146.1L349.9 148.5L351 149.3L352.2 150.3L353.4 150.7L354.4 150.5L355.4 151.3L356.5 151.7L357.5 152.4L359.2 152.2L361 152.5L362.1 153.6L363.2 153.3L364.6 154.3L366 154" fill="none" stroke="#c94aa6" stroke-width="1.5"/>
</g>
<g clip-path="url(#c3)">
<rect x="365.6" y="144.5" width="53" height="41.7" fill="#e9dde5" stroke="none" stroke-width="1"/>
<path d="M364 164L367.2 164.5L371.2 168L374.7 160.5L377 168.5L380.5 162.2L384.5 159.3L386.8 162.8L390.8 161L395.5 163.3L400 155.3L403 160.5L405.8 158.2L408.2 151.2L410.5 155.8L413.3 149.5L416.2 147.8L420 147L420 144L364 144Z" fill="#d9c7d2"/>
<path d="M364 164L367.2 164.5L371.2 168L374.7 160.5L377 168.5L380.5 162.2L384.5 159.3L386.8 162.8L390.8 161L395.5 163.3L400 155.3L403 160.5L405.8 158.2L408.2 151.2L410.5 155.8L413.3 149.5L416.2 147.8L420 147L420 186.5L364 186.5Z" fill="#fff" filter="url(#tp)"/>
<path d="M364 163.8L365.6 163.9L367.2 164.7L368.2 164.9L369.2 166.3L370.2 167L371.2 167.6L371.8 166.8L372.4 165L372.9 164.2L373.5 162.6L374.1 161.3L374.7 160.4L375.1 162.2L375.5 162.8L375.9 164.2L376.2 166L376.6 167.6L377 168.6L377.6 167.3L378.2 166.9L378.8 164.9L379.3 164.7L379.9 163L380.5 161.8L381.5 161.1L382.5 160.6L383.5 160.3L384.5 159L385.3 160.5L386 161.8L386.8 162.7L388.1 162.2L389.5 161.2L390.8 160.6L392 161.3L393.1 162.3L394.3 162.7L395.5 163.1L396.1 162.2L396.8 161L397.4 159.7L398.1 159L398.7 157.8L399.4 156.2L400 155.4L400.6 156.4L401.2 157.8L401.8 158.6L402.4 159.2L403 161L403.9 159.4L404.9 158.9L405.8 158.5L406.2 156.7L406.6 155.9L407 154.2L407.4 153.7L407.8 152.6L408.2 151.3L408.8 152.7L409.4 153.3L409.9 154.8L410.5 155.9L411.1 154.6L411.6 153.2L412.2 152.4L412.7 151.2L413.3 149.5L414.8 148.8L416.2 147.4L417.5 147.7L418.7 147.4L420 147" fill="none" stroke="#c94aa6" stroke-width="1.5"/>
<path d="M364 164L367.2 164.5L371.2 168L374.7 160.5L377 168.5L380.5 162.2L384.5 159.3L386.8 162.8L390.8 161L395.5 163.3L400 155.3L403 160.5L405.8 158.2L408.2 151.2L410.5 155.8L413.3 149.5L416.2 147.8L420 147" fill="none" stroke="#d88cc4" stroke-width="1.2" transform="translate(0 3)" opacity="0.7"/>
<circle cx="386.5" cy="179.8" r="1" fill="#6a2470"/>
</g>
<g clip-path="url(#c4)">
<rect x="257.8" y="187.3" width="53.2" height="41.9" fill="#efd3e6" stroke="none" stroke-width="1"/>
<rect x="257.8" y="187.3" width="53.2" height="9" fill="#eadde6"/>
<path d="M256 198C 265 194, 275 192, 283 192.5C 292 192.6, 302 193, 312 194.5L312 211.5C 300 212, 290 212.5, 283 213.5C 272 215, 262 219, 256 223Z" fill="#b466b4"/>
<path d="M256 198C 265 194, 275 192, 283 192.5C 292 192.6, 302 193, 312 194.5L312 211.5C 300 212, 290 212.5, 283 213.5C 272 215, 262 219, 256 223Z" fill="#fff" filter="url(#tp2)" opacity="0.6"/>
<path d="M256 198C 265 194, 275 192, 283 192.5C 292 192.6, 302 193, 312 194.5L312 211.5C 300 212, 290 212.5, 283 213.5C 272 215, 262 219, 256 223Z" fill="#fff" filter="url(#th)"/>
<path d="M256 223C 262 219, 272 215, 283 213.5C 290 212.5, 300 212, 312 211.5L312 230L256 230Z" fill="#fff" filter="url(#tg)"/>
</g>
<g clip-path="url(#c5)">
<rect x="311.8" y="187.3" width="52.8" height="41.9" fill="#bd6cb8" stroke="none" stroke-width="1"/>
<rect x="311.8" y="187.3" width="52.8" height="41.9" fill="#fff" filter="url(#th2)"/>
<rect x="311.8" y="187.3" width="52.8" height="41.9" fill="#fff" filter="url(#td)" opacity="0.6"/>
<path d="M310 187L366 187L366 188.5C 355 188.5, 345 189, 338 188.5C 336 190, 335.5 193, 334.5 196C 333 194, 331 191, 326 190.5C 320 190, 314 190, 310 190Z" fill="#efe0ea"/>
<path d="M312 197L316 194L320 200L317 210Z" fill="#8a3c92" opacity="0.5"/>
<path d="M310 212C 316 216, 322 218, 328 222C 334 226, 340 224, 346 221C 352 219, 358 219, 366 219L366 230L310 230Z" fill="#e7aad5"/>
<path d="M312 205L320 212L326 222L315 222Z" fill="#e8c0dc" opacity="0.8"/>
<path d="M337.5 217.5L341 221L344.5 217.5L343.5 222.5L338.5 222Z" fill="#fff"/>
</g>
<g clip-path="url(#c6)">
<rect x="365.6" y="187.3" width="53" height="41.9" fill="#e9acd6" stroke="none" stroke-width="1"/>
<rect x="365.6" y="187.3" width="53" height="4.5" fill="#f3ecf1"/>
<rect x="365.6" y="191.6" width="53" height="25.3" fill="#c459b3"/>
<rect x="365.6" y="191.6" width="53" height="25.3" fill="#fff" filter="url(#th2)"/>
<path d="M367.8 203V216.5M371.9 201.5V216.5M376 200V216.5M378.9 198.5V216.5M383 203V216.5M387.1 201.5V216.5M390 200V216.5M394.1 198.5V216.5M398.2 203V216.5M401.1 201.5V216.5M405.2 200V216.5M409.3 198.5V216.5M412.2 203V216.5M416.3 201.5V216.5" stroke="#f2e0ee" stroke-width="1" opacity="0.9"/>
<rect x="365.6" y="217" width="53" height="12.5" fill="#fff" filter="url(#tg)"/>
<path d="M400 229.5C 403 226, 407 226, 410 229.5Z" fill="#fff"/>
</g>
<rect x="257.8" y="144.5" width="53.2" height="41.7" fill="none" stroke="#3c3c3c" stroke-width="1.4"/>
<rect x="257.8" y="187.3" width="53.2" height="41.9" fill="none" stroke="#3c3c3c" stroke-width="1.4"/>
<rect x="311.8" y="144.5" width="52.8" height="41.7" fill="none" stroke="#3c3c3c" stroke-width="1.4"/>
<rect x="311.8" y="187.3" width="52.8" height="41.9" fill="none" stroke="#3c3c3c" stroke-width="1.4"/>
<rect x="365.6" y="144.5" width="53" height="41.7" fill="none" stroke="#3c3c3c" stroke-width="1.4"/>
<rect x="365.6" y="187.3" width="53" height="41.9" fill="none" stroke="#3c3c3c" stroke-width="1.4"/>
<line x1="24.6" y1="252.2" x2="24.6" y2="467.5" stroke="#1a1a1a" stroke-width="1.15"/>
<path d="M24.6 248.2L28.8 258.7L20.4 258.7Z" fill="#000"/>
<line x1="130" y1="253.4" x2="130" y2="468.7" stroke="#1a1a1a" stroke-width="1.15"/>
<path d="M130 249.4L134.2 259.9L125.8 259.9Z" fill="#000"/>
<line x1="330.8" y1="252.8" x2="330.8" y2="467.1" stroke="#1a1a1a" stroke-width="1.15"/>
<path d="M330.8 248.8L335 259.3L326.6 259.3Z" fill="#000"/>
<line x1="171.3" y1="515.8" x2="302" y2="515.8" stroke="#1a1a1a" stroke-width="1.15"/>
<path d="M310.5 515.8L300 511.6L300 520Z" fill="#000"/>
<text transform="translate(159.2 516.5) scale(0.68 1)" font-size="10.2" text-anchor="middle" dy="3.62">PD-1</text>
<text transform="translate(84.2 516.5) scale(0.7 1)" font-size="10.2" text-anchor="middle" dy="3.62">CD4</text>
<text transform="translate(389.7 516.5) scale(0.7 1)" font-size="10.2" text-anchor="middle" dy="3.62">CD4</text>
<text transform="translate(478.5 516.5) scale(0.7 1)" font-size="10.2" text-anchor="middle" dy="3.62">CD8</text>
<g class="bt">
<text transform="translate(13.5 290.4) rotate(-90) scale(0.97 1)" font-size="9.3" text-anchor="middle" dy="3.3">BM</text>
<text transform="translate(13.6 378.8) rotate(-90) scale(0.97 1)" font-size="9.3" text-anchor="middle" dy="3.3">WT</text>
<text transform="translate(13.6 472.5) rotate(-90) scale(0.97 1)" font-size="9.3" text-anchor="middle" dy="3.3">Sirt-1<tspan font-size="5.77" dy="-3.72">-/-</tspan></text>
<text transform="translate(23.9 480) rotate(-90) scale(0.72 1)" font-size="10" text-anchor="middle" dy="3.55">Foxp3</text>
<text transform="translate(128.9 483.7) rotate(-90) scale(0.72 1)" font-size="10" text-anchor="middle" dy="3.55">CXCR5</text>
<text transform="translate(319.3 290.3) rotate(-90) scale(0.97 1)" font-size="9.3" text-anchor="middle" dy="3.3">BM</text>
<text transform="translate(319.4 379.5) rotate(-90) scale(0.97 1)" font-size="9.3" text-anchor="middle" dy="3.3">WT</text>
<text transform="translate(319.2 473.8) rotate(-90) scale(0.97 1)" font-size="9.3" text-anchor="middle" dy="3.3">Sirt-1<tspan font-size="5.77" dy="-3.72">-/-</tspan></text>
<text transform="translate(330.9 478.7) rotate(-90) scale(0.72 1)" font-size="10" text-anchor="middle" dy="3.55">IFN-γ</text>
</g>
<text transform="translate(188.2 241.2) scale(0.9 1)" font-size="9.6" text-anchor="middle" dy="3.41">Tfr</text>
<text transform="translate(276.7 241.2) scale(0.9 1)" font-size="9.6" text-anchor="middle" dy="3.41">Tfh</text>
<rect x="50.7" y="248.3" width="70.6" height="69.8" fill="none" stroke="#111" stroke-width="0.9"/>
<text transform="translate(44.9 255.9) scale(0.86 1)" font-size="8.6" text-anchor="end" dy="3.05">10<tspan font-size="6.19" dy="-3.44">5</tspan></text>
<text transform="translate(44.9 271.6) scale(0.86 1)" font-size="8.6" text-anchor="end" dy="3.05">10<tspan font-size="6.19" dy="-3.44">4</tspan></text>
<text transform="translate(44.9 287.3) scale(0.86 1)" font-size="8.6" text-anchor="end" dy="3.05">10<tspan font-size="6.19" dy="-3.44">3</tspan></text>
<text transform="translate(44.9 303.1) scale(0.86 1)" font-size="8.6" text-anchor="end" dy="3.05">10<tspan font-size="6.19" dy="-3.44">2</tspan></text>
<text transform="translate(45.1 311.9) scale(0.86 1)" font-size="8.6" text-anchor="end" dy="3.05">0</text>
<path d="M48.4 255.9H50.7M48.4 271.6H50.7M48.4 287.3H50.7M48.4 303.1H50.7M48.4 311.3H50.7M49.4 266.9H50.7M49.4 264.1H50.7M49.4 262.1H50.7M49.4 260.6H50.7M49.4 259.4H50.7M49.4 258.3H50.7M49.4 257.4H50.7M49.4 256.6H50.7M49.4 282.6H50.7M49.4 279.8H50.7M49.4 277.8H50.7M49.4 276.3H50.7M49.4 275.1H50.7M49.4 274H50.7M49.4 273.1H50.7M49.4 272.3H50.7M49.4 298.3H50.7M49.4 295.5H50.7M49.4 293.5H50.7M49.4 292H50.7M49.4 290.8H50.7M49.4 289.7H50.7M49.4 288.8H50.7M49.4 288H50.7M49.4 306.3H50.7M49.4 308.8H50.7M49.4 314.3H50.7M49.4 316.3H50.7M62.6 318.1V320.4M67.6 318.1V319.4M70.5 318.1V319.4M72.5 318.1V319.4M74.1 318.1V319.4M75.4 318.1V319.4M76.5 318.1V319.4M77.5 318.1V319.4M78.3 318.1V319.4M79.8 318.1V320.4M84.8 318.1V319.4M87.7 318.1V319.4M89.7 318.1V319.4M91.3 318.1V319.4M92.6 318.1V319.4M93.7 318.1V319.4M94.7 318.1V319.4M95.5 318.1V319.4M96.6 318.1V320.4M101.6 318.1V319.4M104.5 318.1V319.4M106.5 318.1V319.4M108.1 318.1V319.4M109.4 318.1V319.4M110.5 318.1V319.4M111.5 318.1V319.4M112.3 318.1V319.4M112.6 318.1V320.4M117.6 318.1V319.4M120.5 318.1V319.4M52.7 318.1V319.4M54.7 318.1V319.4M57.2 318.1V319.4M58.7 318.1V319.4" stroke="#111" stroke-width="0.75" fill="none"/>
<text transform="translate(57.9 327.9) scale(0.86 1)" font-size="8.6" text-anchor="middle" dy="3.05">0</text>
<text transform="translate(65.6 327.9) scale(0.86 1)" font-size="8.6" text-anchor="middle" dy="3.05">10<tspan font-size="6.19" dy="-3.44">2</tspan></text>
<text transform="translate(82.8 327.9) scale(0.86 1)" font-size="8.6" text-anchor="middle" dy="3.05">10<tspan font-size="6.19" dy="-3.44">3</tspan></text>
<text transform="translate(99.6 327.9) scale(0.86 1)" font-size="8.6" text-anchor="middle" dy="3.05">10<tspan font-size="6.19" dy="-3.44">4</tspan></text>
<text transform="translate(115.6 327.9) scale(0.86 1)" font-size="8.6" text-anchor="middle" dy="3.05">10<tspan font-size="6.19" dy="-3.44">5</tspan></text>
<g clip-path="url(#c7)"><g filter="url(#bl)">
<path d="M92.3 275C92.4 273.2 92.7 272.3 93.5 271.5C94.3 270.7 95.8 270.3 97 270.1C98.2 269.9 100 269.8 101 270.4C102 271 103 272.1 103.3 273.5C103.6 274.9 103.4 277.4 103.1 279C102.8 280.6 102.2 281.9 101.6 283C101 284.1 100.6 285.3 99.6 285.8C98.6 286.3 96.6 286.4 95.5 285.8C94.4 285.2 93.5 283.8 93 282C92.5 280.2 92.2 276.8 92.3 275Z" fill="#0a0aeb"/>
<path d="M92.6 275.1C92.6 273.4 93 272.6 93.7 271.8C94.4 271 95.8 270.6 97 270.4C98.2 270.3 99.8 270.2 100.8 270.7C101.8 271.3 102.7 272.3 103 273.7C103.4 275 103.1 277.4 102.8 278.9C102.6 280.4 102 281.6 101.4 282.7C100.8 283.8 100.5 284.9 99.5 285.4C98.5 285.8 96.6 286 95.6 285.4C94.6 284.8 93.7 283.5 93.2 281.8C92.7 280.1 92.5 276.8 92.6 275.1Z" fill="#0616f3"/>
<path d="M92.9 275.3C93 273.7 93.3 272.9 94 272.2C94.7 271.5 96 271.1 97.1 271C98.2 270.8 99.7 270.7 100.6 271.2C101.5 271.7 102.3 272.7 102.6 273.9C102.9 275.2 102.7 277.4 102.4 278.8C102.2 280.2 101.6 281.3 101.1 282.3C100.6 283.3 100.3 284.4 99.4 284.8C98.5 285.2 96.7 285.3 95.8 284.8C94.8 284.2 94 283 93.6 281.4C93.1 279.8 92.9 276.8 92.9 275.3Z" fill="#0222fb"/>
<path d="M93.4 275.4C93.4 274.1 93.7 273.3 94.3 272.7C95 272 96.1 271.7 97.1 271.5C98.1 271.4 99.5 271.3 100.3 271.8C101.1 272.2 101.9 273.1 102.1 274.3C102.4 275.4 102.2 277.4 102 278.6C101.8 279.9 101.2 280.9 100.8 281.8C100.3 282.7 100 283.7 99.2 284C98.4 284.4 96.8 284.6 95.9 284C95.1 283.5 94.4 282.5 93.9 281C93.5 279.6 93.3 276.8 93.4 275.4Z" fill="#003cff"/>
<path d="M93.9 275.7C93.9 274.4 94.2 273.8 94.7 273.2C95.3 272.6 96.3 272.3 97.2 272.2C98.1 272.1 99.3 272 100 272.4C100.7 272.8 101.4 273.6 101.6 274.6C101.9 275.6 101.7 277.4 101.5 278.5C101.3 279.6 100.8 280.5 100.4 281.3C100 282.1 99.7 282.9 99 283.3C98.3 283.6 96.9 283.7 96.1 283.3C95.3 282.8 94.7 281.8 94.4 280.6C94 279.3 93.8 276.9 93.9 275.7Z" fill="#0064ff"/>
<path d="M94.4 275.9C94.4 274.8 94.6 274.2 95.1 273.8C95.6 273.3 96.5 273 97.2 272.9C98 272.8 99 272.7 99.7 273.1C100.3 273.4 100.8 274.1 101 275C101.3 275.8 101.1 277.3 100.9 278.3C100.8 279.2 100.4 280 100 280.7C99.7 281.4 99.4 282.1 98.8 282.4C98.2 282.7 97 282.8 96.3 282.4C95.7 282 95.1 281.2 94.8 280.1C94.5 279 94.3 276.9 94.4 275.9Z" fill="#008dff"/>
<path d="M95 276.1C95 275.2 95.2 274.8 95.6 274.4C95.9 274 96.7 273.8 97.3 273.7C97.9 273.6 98.8 273.5 99.3 273.8C99.8 274.1 100.3 274.6 100.4 275.4C100.6 276.1 100.5 277.3 100.3 278.1C100.2 278.9 99.9 279.5 99.6 280.1C99.3 280.7 99.1 281.3 98.6 281.5C98.1 281.7 97.1 281.8 96.6 281.5C96 281.2 95.6 280.5 95.3 279.6C95 278.7 94.9 277 95 276.1Z" fill="#00b9fa"/>
<path d="M95.5 276.3C95.6 275.7 95.7 275.3 96 275C96.3 274.7 96.9 274.5 97.4 274.5C97.9 274.4 98.5 274.3 98.9 274.6C99.3 274.8 99.7 275.2 99.8 275.8C99.9 276.3 99.8 277.3 99.7 277.9C99.6 278.5 99.4 279 99.1 279.4C98.9 279.9 98.8 280.3 98.4 280.5C98 280.7 97.2 280.8 96.8 280.5C96.4 280.3 96 279.8 95.8 279.1C95.6 278.4 95.5 277 95.5 276.3Z" fill="#01e2ee"/>
<path d="M96.2 276.6C96.2 276.1 96.3 275.9 96.5 275.7C96.7 275.4 97.1 275.3 97.4 275.3C97.8 275.2 98.2 275.2 98.5 275.4C98.8 275.5 99 275.8 99.1 276.2C99.2 276.6 99.2 277.3 99.1 277.7C99 278.1 98.8 278.5 98.7 278.8C98.5 279.1 98.4 279.4 98.1 279.5C97.9 279.7 97.3 279.7 97 279.5C96.7 279.4 96.5 279 96.4 278.5C96.2 278 96.1 277.1 96.2 276.6Z" fill="#0bf299"/>
<path d="M96.8 276.9C96.8 276.6 96.9 276.5 97 276.3C97.1 276.2 97.3 276.2 97.5 276.1C97.7 276.1 98 276.1 98.1 276.2C98.3 276.3 98.4 276.4 98.5 276.6C98.5 276.9 98.5 277.2 98.4 277.5C98.4 277.7 98.3 277.9 98.2 278.1C98.1 278.2 98.1 278.4 97.9 278.5C97.7 278.6 97.4 278.6 97.3 278.5C97.1 278.4 97 278.2 96.9 277.9C96.8 277.7 96.8 277.1 96.8 276.9Z" fill="#21ff4a"/>
<path d="M91.2 291C91.5 289.5 91.5 288 92.6 287.2C93.7 286.4 96.1 286.4 98 286.4C99.9 286.4 102.8 286.4 104 287.2C105.2 288 105 289.5 105.2 291C105.4 292.5 105.3 294.7 105 296.3C104.7 297.9 104.1 298.5 103.6 300.6C103.1 302.8 102.6 306.2 102.2 309.2C101.8 312.2 102.2 317.2 101.2 318.8C100.2 320.4 97 320.4 96 318.8C95 317.2 95.3 312.2 94.9 309.2C94.5 306.2 94.2 302.8 93.6 300.6C92.9 298.5 91.4 297.9 91 296.3C90.6 294.7 90.9 292.5 91.2 291Z" fill="#0a0aeb"/>
<path d="M91.6 291.3C91.9 289.8 91.9 288.4 92.9 287.7C94 287 96.3 286.9 98 286.9C99.8 286.9 102.6 287 103.7 287.7C104.8 288.4 104.7 289.8 104.8 291.3C105 292.7 104.9 294.8 104.7 296.3C104.4 297.8 103.8 298.3 103.3 300.3C102.9 302.4 102.4 305.6 102 308.5C101.6 311.3 102 316 101.1 317.5C100.1 319 97.1 319 96.2 317.5C95.2 316 95.5 311.3 95.1 308.5C94.7 305.6 94.5 302.4 93.9 300.3C93.3 298.3 91.8 297.8 91.4 296.3C91.1 294.8 91.4 292.7 91.6 291.3Z" fill="#0616f3"/>
<path d="M92.1 291.6C92.3 290.2 92.3 288.9 93.3 288.2C94.3 287.5 96.4 287.5 98.1 287.5C99.8 287.5 102.4 287.5 103.4 288.2C104.5 288.9 104.3 290.2 104.5 291.6C104.6 292.9 104.5 294.8 104.3 296.3C104.1 297.7 103.5 298.2 103.1 300.1C102.6 302 102.2 305 101.8 307.7C101.5 310.4 101.8 314.8 100.9 316.2C100 317.7 97.2 317.7 96.3 316.2C95.4 314.8 95.7 310.4 95.3 307.7C95 305 94.8 302 94.2 300.1C93.6 298.2 92.2 297.7 91.9 296.3C91.5 294.8 91.8 292.9 92.1 291.6Z" fill="#0222fb"/>
<path d="M92.5 291.8C92.7 290.6 92.7 289.3 93.6 288.7C94.6 288 96.6 288 98.1 288C99.7 288 102.1 288 103.1 288.7C104.1 289.3 104 290.6 104.1 291.8C104.3 293.1 104.2 294.9 104 296.2C103.7 297.6 103.2 298 102.8 299.8C102.4 301.6 102 304.5 101.6 307C101.3 309.5 101.7 313.6 100.8 315C99.9 316.3 97.3 316.3 96.5 315C95.6 313.6 95.9 309.5 95.6 307C95.2 304.5 95 301.6 94.5 299.8C93.9 298 92.6 297.6 92.3 296.2C92 294.9 92.3 293.1 92.5 291.8Z" fill="#003cff"/>
<path d="M92.9 292.1C93.1 290.9 93.1 289.8 94 289.2C94.9 288.6 96.7 288.6 98.2 288.6C99.7 288.6 101.9 288.6 102.8 289.2C103.8 289.8 103.6 290.9 103.8 292.1C103.9 293.3 103.8 295 103.6 296.2C103.4 297.5 102.9 297.9 102.5 299.6C102.2 301.2 101.7 303.9 101.4 306.2C101.1 308.6 101.5 312.5 100.7 313.7C99.9 314.9 97.4 314.9 96.6 313.7C95.8 312.5 96.1 308.6 95.8 306.2C95.5 303.9 95.3 301.2 94.8 299.6C94.3 297.9 93.1 297.5 92.7 296.2C92.4 295 92.7 293.3 92.9 292.1Z" fill="#0064ff"/>
<path d="M93.3 292.4C93.5 291.3 93.5 290.2 94.3 289.7C95.2 289.1 96.9 289.1 98.2 289.1C99.6 289.1 101.7 289.1 102.5 289.7C103.4 290.2 103.3 291.3 103.4 292.4C103.5 293.5 103.5 295.1 103.3 296.2C103.1 297.4 102.6 297.8 102.3 299.3C101.9 300.9 101.5 303.3 101.2 305.5C101 307.7 101.3 311.3 100.5 312.4C99.8 313.6 97.5 313.6 96.8 312.4C96 311.3 96.3 307.7 96 305.5C95.7 303.3 95.5 300.9 95.1 299.3C94.6 297.8 93.5 297.4 93.2 296.2C92.9 295.1 93.1 293.5 93.3 292.4Z" fill="#008cff"/>
<path d="M94.6 290C95.3 288.7 97.5 288.2 98.8 288.2C100.1 288.2 101.9 288.7 102.6 290C103.3 291.3 103 293.5 102.8 296C102.6 298.5 101.7 301.5 101.3 305C100.9 308.5 101.1 315 100.4 317C99.7 319 97.9 319 97.2 317C96.5 315 96.5 308.5 96 305C95.5 301.5 94.6 298.5 94.4 296C94.2 293.5 93.9 291.3 94.6 290Z" fill="#008cff"/>
<path d="M95.3 291C95.9 289.9 97.7 289.5 98.8 289.5C99.9 289.5 101.4 289.9 102 291C102.5 292.1 102.3 293.9 102.1 296C102 298.1 101.2 300.6 100.9 303.5C100.6 306.4 100.7 311.9 100.1 313.5C99.6 315.2 98.1 315.2 97.5 313.5C96.9 311.9 96.9 306.4 96.5 303.5C96.1 300.6 95.3 298.1 95.1 296C94.9 293.9 94.7 292.1 95.3 291Z" fill="#00b5fa"/>
<path d="M95.9 291.8C96.4 290.9 97.9 290.6 98.8 290.6C99.7 290.6 101 290.9 101.4 291.8C101.9 292.7 101.7 294.3 101.6 296C101.4 297.7 100.8 299.8 100.5 302.2C100.3 304.7 100.4 309.2 99.9 310.6C99.4 311.9 98.2 311.9 97.7 310.6C97.2 309.2 97.2 304.7 96.9 302.2C96.5 299.8 95.9 297.7 95.8 296C95.6 294.3 95.4 292.7 95.9 291.8Z" fill="#00dff5"/>
<path d="M96.5 292.7C96.9 291.9 98.1 291.6 98.8 291.6C99.5 291.6 100.5 291.9 100.9 292.7C101.3 293.4 101.2 294.6 101 296C100.9 297.4 100.4 299.1 100.2 301C100 303 100.1 306.6 99.7 307.7C99.3 308.8 98.3 308.8 97.9 307.7C97.5 306.6 97.5 303 97.2 301C97 299.1 96.5 297.4 96.3 296C96.2 294.6 96 293.4 96.5 292.7Z" fill="#09efaa"/>
<path d="M97 293.4C97.3 292.9 98.2 292.7 98.8 292.7C99.4 292.7 100.1 292.9 100.4 293.4C100.7 294 100.6 294.9 100.5 296C100.4 297.1 100 298.4 99.9 299.8C99.7 301.3 99.8 304.1 99.5 305C99.2 305.8 98.4 305.8 98.1 305C97.8 304.1 97.8 301.3 97.6 299.8C97.4 298.4 97 297.1 96.9 296C96.8 294.9 96.7 294 97 293.4Z" fill="#13fd59"/>
<path d="M97.5 294.2C97.8 293.8 98.4 293.7 98.8 293.7C99.2 293.7 99.7 293.8 99.9 294.2C100.1 294.6 100.1 295.2 100 296C99.9 296.8 99.7 297.6 99.5 298.7C99.4 299.8 99.5 301.7 99.3 302.3C99.1 302.9 98.5 302.9 98.3 302.3C98.1 301.7 98.1 299.8 98 298.7C97.8 297.6 97.6 296.8 97.5 296C97.4 295.2 97.3 294.6 97.5 294.2Z" fill="#62ff2b"/>
<path d="M101.4 294C101.4 294.5 101.3 295.1 101.2 295.6C101.1 296.1 100.9 296.6 100.7 297C100.5 297.3 100.3 297.7 100 297.9C99.7 298.1 99.4 298.2 99.1 298.2C98.8 298.2 98.5 298.1 98.2 297.9C97.9 297.7 97.7 297.3 97.5 297C97.3 296.6 97.1 296.1 97 295.6C96.9 295.1 96.8 294.5 96.8 294C96.8 293.5 96.9 292.9 97 292.4C97.1 291.9 97.3 291.4 97.5 291C97.7 290.7 97.9 290.3 98.2 290.1C98.5 289.9 98.8 289.8 99.1 289.8C99.4 289.8 99.7 289.9 100 290.1C100.3 290.3 100.5 290.7 100.7 291C100.9 291.4 101.1 291.9 101.2 292.4C101.3 292.9 101.4 293.5 101.4 294Z" fill="#62ff2b"/>
<path d="M100.9 294C100.9 294.4 100.9 294.9 100.8 295.3C100.7 295.7 100.5 296 100.4 296.3C100.2 296.6 100 296.9 99.8 297.1C99.6 297.2 99.3 297.3 99.1 297.3C98.9 297.3 98.6 297.2 98.4 297.1C98.2 296.9 98 296.6 97.8 296.3C97.7 296 97.5 295.7 97.4 295.3C97.3 294.9 97.3 294.4 97.3 294C97.3 293.6 97.3 293.1 97.4 292.7C97.5 292.3 97.7 292 97.8 291.7C98 291.4 98.2 291.1 98.4 290.9C98.6 290.8 98.9 290.7 99.1 290.7C99.3 290.7 99.6 290.8 99.8 290.9C100 291.1 100.2 291.4 100.4 291.7C100.5 292 100.7 292.3 100.8 292.7C100.9 293.1 100.9 293.6 100.9 294Z" fill="#c1fb00"/>
<path d="M100.4 294C100.4 294.3 100.4 294.6 100.3 294.9C100.3 295.2 100.2 295.5 100 295.7C99.9 295.9 99.8 296.1 99.6 296.2C99.5 296.3 99.3 296.4 99.1 296.4C98.9 296.4 98.7 296.3 98.6 296.2C98.4 296.1 98.3 295.9 98.2 295.7C98 295.5 97.9 295.2 97.9 294.9C97.8 294.6 97.8 294.3 97.8 294C97.8 293.7 97.8 293.4 97.9 293.1C97.9 292.8 98 292.5 98.2 292.3C98.3 292.1 98.4 291.9 98.6 291.8C98.7 291.7 98.9 291.6 99.1 291.6C99.3 291.6 99.5 291.7 99.6 291.8C99.8 291.9 99.9 292.1 100 292.3C100.2 292.5 100.3 292.8 100.3 293.1C100.4 293.4 100.4 293.7 100.4 294Z" fill="#edba00"/>
<path d="M99.9 294C99.9 294.2 99.9 294.4 99.9 294.6C99.8 294.8 99.8 294.9 99.7 295.1C99.6 295.2 99.5 295.3 99.4 295.4C99.3 295.5 99.2 295.5 99.1 295.5C99 295.5 98.9 295.5 98.8 295.4C98.7 295.3 98.6 295.2 98.5 295.1C98.4 294.9 98.4 294.8 98.3 294.6C98.3 294.4 98.3 294.2 98.3 294C98.3 293.8 98.3 293.6 98.3 293.4C98.4 293.2 98.4 293.1 98.5 292.9C98.6 292.8 98.7 292.7 98.8 292.6C98.9 292.5 99 292.5 99.1 292.5C99.2 292.5 99.3 292.5 99.4 292.6C99.5 292.7 99.6 292.8 99.7 292.9C99.8 293.1 99.8 293.2 99.9 293.4C99.9 293.6 99.9 293.8 99.9 294Z" fill="#fb6400"/>
<path d="M99.4 294C99.4 294.1 99.4 294.2 99.4 294.2C99.4 294.3 99.4 294.4 99.3 294.4C99.3 294.5 99.3 294.6 99.2 294.6C99.2 294.6 99.1 294.6 99.1 294.6C99.1 294.6 99 294.6 99 294.6C98.9 294.6 98.9 294.5 98.9 294.4C98.8 294.4 98.8 294.3 98.8 294.2C98.8 294.2 98.8 294.1 98.8 294C98.8 293.9 98.8 293.8 98.8 293.8C98.8 293.7 98.8 293.6 98.9 293.6C98.9 293.5 98.9 293.4 99 293.4C99 293.4 99.1 293.4 99.1 293.4C99.1 293.4 99.2 293.4 99.2 293.4C99.3 293.4 99.3 293.5 99.3 293.6C99.4 293.6 99.4 293.7 99.4 293.8C99.4 293.8 99.4 293.9 99.4 294Z" fill="#f50000"/>
<path d="M100.1 317.5C100.1 317.7 100.1 317.8 100 318C99.9 318.1 99.8 318.2 99.6 318.3C99.5 318.5 99.3 318.6 99.1 318.6C98.9 318.7 98.7 318.7 98.5 318.7C98.3 318.7 98.1 318.7 97.9 318.6C97.7 318.6 97.5 318.5 97.4 318.3C97.2 318.2 97.1 318.1 97 318C96.9 317.8 96.9 317.7 96.9 317.5C96.9 317.3 96.9 317.2 97 317C97.1 316.9 97.2 316.8 97.4 316.7C97.5 316.5 97.7 316.4 97.9 316.4C98.1 316.3 98.3 316.3 98.5 316.3C98.7 316.3 98.9 316.3 99.1 316.4C99.3 316.4 99.5 316.5 99.6 316.7C99.8 316.8 99.9 316.9 100 317C100.1 317.2 100.1 317.3 100.1 317.5Z" fill="#006bff"/>
<path d="M99.8 317.5C99.8 317.6 99.8 317.8 99.7 317.9C99.7 318 99.6 318.1 99.4 318.2C99.3 318.3 99.2 318.4 99 318.4C98.8 318.5 98.7 318.5 98.5 318.5C98.3 318.5 98.2 318.5 98 318.4C97.8 318.4 97.7 318.3 97.6 318.2C97.4 318.1 97.3 318 97.3 317.9C97.2 317.8 97.2 317.6 97.2 317.5C97.2 317.4 97.2 317.2 97.3 317.1C97.3 317 97.4 316.9 97.6 316.8C97.7 316.7 97.8 316.6 98 316.6C98.2 316.5 98.3 316.5 98.5 316.5C98.7 316.5 98.8 316.5 99 316.6C99.2 316.6 99.3 316.7 99.4 316.8C99.6 316.9 99.7 317 99.7 317.1C99.8 317.2 99.8 317.4 99.8 317.5Z" fill="#008eff"/>
<path d="M99.5 317.5C99.5 317.6 99.5 317.7 99.5 317.8C99.4 317.9 99.3 318 99.2 318.1C99.1 318.1 99 318.2 98.9 318.2C98.8 318.3 98.6 318.3 98.5 318.3C98.4 318.3 98.2 318.3 98.1 318.2C98 318.2 97.9 318.1 97.8 318.1C97.7 318 97.6 317.9 97.5 317.8C97.5 317.7 97.5 317.6 97.5 317.5C97.5 317.4 97.5 317.3 97.5 317.2C97.6 317.1 97.7 317 97.8 316.9C97.9 316.9 98 316.8 98.1 316.8C98.2 316.7 98.4 316.7 98.5 316.7C98.6 316.7 98.8 316.7 98.9 316.8C99 316.8 99.1 316.9 99.2 316.9C99.3 317 99.4 317.1 99.5 317.2C99.5 317.3 99.5 317.4 99.5 317.5Z" fill="#00b3fa"/>
<path d="M99.3 317.5C99.3 317.6 99.2 317.7 99.2 317.7C99.2 317.8 99.1 317.9 99 317.9C99 318 98.9 318 98.8 318C98.7 318.1 98.6 318.1 98.5 318.1C98.4 318.1 98.3 318.1 98.2 318C98.1 318 98 318 98 317.9C97.9 317.9 97.8 317.8 97.8 317.7C97.8 317.7 97.7 317.6 97.7 317.5C97.7 317.4 97.8 317.3 97.8 317.3C97.8 317.2 97.9 317.1 98 317.1C98 317 98.1 317 98.2 317C98.3 316.9 98.4 316.9 98.5 316.9C98.6 316.9 98.7 316.9 98.8 317C98.9 317 99 317 99 317.1C99.1 317.1 99.2 317.2 99.2 317.3C99.2 317.3 99.3 317.4 99.3 317.5Z" fill="#00d9f6"/>
<path d="M99 317.5C99 317.5 99 317.6 98.9 317.6C98.9 317.7 98.9 317.7 98.8 317.8C98.8 317.8 98.7 317.8 98.7 317.8C98.6 317.9 98.6 317.9 98.5 317.9C98.4 317.9 98.4 317.9 98.3 317.8C98.3 317.8 98.2 317.8 98.2 317.8C98.1 317.7 98.1 317.7 98.1 317.6C98 317.6 98 317.5 98 317.5C98 317.5 98 317.4 98.1 317.4C98.1 317.3 98.1 317.3 98.2 317.2C98.2 317.2 98.3 317.2 98.3 317.2C98.4 317.1 98.4 317.1 98.5 317.1C98.6 317.1 98.6 317.1 98.7 317.2C98.7 317.2 98.8 317.2 98.8 317.2C98.9 317.3 98.9 317.3 98.9 317.4C99 317.4 99 317.5 99 317.5Z" fill="#07ecba"/>
</g></g>
<line x1="91.6" y1="248.3" x2="91.6" y2="318.1" stroke="#808080" stroke-width="1.2"/>
<line x1="108.4" y1="248.3" x2="108.4" y2="318.1" stroke="#808080" stroke-width="1.2"/>
<line x1="91.6" y1="285.9" x2="108.4" y2="285.9" stroke="#111" stroke-width="1.4"/>
<text transform="translate(100.6 255.9)" font-size="7.6" text-anchor="middle" dy="2.7">19</text>
<text transform="translate(70.3 311.2)" font-size="7.6" text-anchor="middle" dy="2.7">81</text>
<rect x="50.6" y="336.2" width="70.6" height="69.8" fill="none" stroke="#111" stroke-width="0.9"/>
<text transform="translate(44.8 343.8) scale(0.86 1)" font-size="8.6" text-anchor="end" dy="3.05">10<tspan font-size="6.19" dy="-3.44">5</tspan></text>
<text transform="translate(44.8 359.5) scale(0.86 1)" font-size="8.6" text-anchor="end" dy="3.05">10<tspan font-size="6.19" dy="-3.44">4</tspan></text>
<text transform="translate(44.8 375.2) scale(0.86 1)" font-size="8.6" text-anchor="end" dy="3.05">10<tspan font-size="6.19" dy="-3.44">3</tspan></text>
<text transform="translate(44.8 391) scale(0.86 1)" font-size="8.6" text-anchor="end" dy="3.05">10<tspan font-size="6.19" dy="-3.44">2</tspan></text>
<text transform="translate(45 399.8) scale(0.86 1)" font-size="8.6" text-anchor="end" dy="3.05">0</text>
<path d="M48.3 343.8H50.6M48.3 359.5H50.6M48.3 375.2H50.6M48.3 391H50.6M48.3 399.2H50.6M49.3 354.8H50.6M49.3 352H50.6M49.3 350H50.6M49.3 348.5H50.6M49.3 347.3H50.6M49.3 346.2H50.6M49.3 345.3H50.6M49.3 344.5H50.6M49.3 370.5H50.6M49.3 367.7H50.6M49.3 365.7H50.6M49.3 364.2H50.6M49.3 363H50.6M49.3 361.9H50.6M49.3 361H50.6M49.3 360.2H50.6M49.3 386.2H50.6M49.3 383.4H50.6M49.3 381.4H50.6M49.3 379.9H50.6M49.3 378.7H50.6M49.3 377.6H50.6M49.3 376.7H50.6M49.3 375.9H50.6M49.3 394.2H50.6M49.3 396.7H50.6M49.3 402.2H50.6M49.3 404.2H50.6M62.5 406V408.3M67.5 406V407.3M70.4 406V407.3M72.4 406V407.3M74 406V407.3M75.3 406V407.3M76.4 406V407.3M77.4 406V407.3M78.2 406V407.3M79.7 406V408.3M84.7 406V407.3M87.6 406V407.3M89.6 406V407.3M91.2 406V407.3M92.5 406V407.3M93.6 406V407.3M94.6 406V407.3M95.4 406V407.3M96.5 406V408.3M101.5 406V407.3M104.4 406V407.3M106.4 406V407.3M108 406V407.3M109.3 406V407.3M110.4 406V407.3M111.4 406V407.3M112.2 406V407.3M112.5 406V408.3M117.5 406V407.3M120.4 406V407.3M52.6 406V407.3M54.6 406V407.3M57.1 406V407.3M58.6 406V407.3" stroke="#111" stroke-width="0.75" fill="none"/>
<text transform="translate(57.8 415.8) scale(0.86 1)" font-size="8.6" text-anchor="middle" dy="3.05">0</text>
<text transform="translate(65.5 415.8) scale(0.86 1)" font-size="8.6" text-anchor="middle" dy="3.05">10<tspan font-size="6.19" dy="-3.44">2</tspan></text>
<text transform="translate(82.7 415.8) scale(0.86 1)" font-size="8.6" text-anchor="middle" dy="3.05">10<tspan font-size="6.19" dy="-3.44">3</tspan></text>
<text transform="translate(99.5 415.8) scale(0.86 1)" font-size="8.6" text-anchor="middle" dy="3.05">10<tspan font-size="6.19" dy="-3.44">4</tspan></text>
<text transform="translate(115.5 415.8) scale(0.86 1)" font-size="8.6" text-anchor="middle" dy="3.05">10<tspan font-size="6.19" dy="-3.44">5</tspan></text>
<g clip-path="url(#c8)"><g filter="url(#bl)">
<path d="M92.6 370C92.8 368.7 93.6 367.2 94.5 366C95.4 364.8 97.1 363.3 98 362.5C98.9 361.7 99.3 361.2 100 361.2C100.7 361.1 101.5 361.4 102 362.2C102.5 363 103.1 364.4 103.3 366C103.5 367.6 103.5 370.2 103.4 371.5C103.3 372.8 104.2 373.2 102.5 373.6C100.8 374 94.7 374.2 93 373.6C91.3 373 92.3 371.3 92.6 370Z" fill="#0a0aeb"/>
<path d="M93 369.9C93.2 368.8 93.9 367.4 94.8 366.2C95.6 365 97.2 363.7 98 362.9C98.9 362.2 99.3 361.7 99.9 361.7C100.5 361.7 101.3 361.9 101.8 362.6C102.3 363.4 102.8 364.7 103 366.2C103.2 367.6 103.2 370.2 103.1 371.3C103 372.5 103.9 373 102.2 373.3C100.6 373.6 94.9 373.9 93.4 373.3C91.8 372.7 92.7 371.1 93 369.9Z" fill="#0616f3"/>
<path d="M93.5 369.8C93.7 368.8 94.4 367.5 95.1 366.5C95.9 365.4 97.3 364.2 98.1 363.5C98.9 362.8 99.2 362.5 99.8 362.4C100.3 362.4 101 362.6 101.5 363.3C101.9 363.9 102.3 365.2 102.5 366.5C102.7 367.8 102.7 370 102.6 371.1C102.5 372.2 103.3 372.6 101.9 372.9C100.4 373.2 95.3 373.4 93.9 372.9C92.5 372.4 93.3 370.9 93.5 369.8Z" fill="#0222fb"/>
<path d="M94.2 369.7C94.4 368.8 94.9 367.7 95.6 366.8C96.2 365.9 97.5 364.8 98.1 364.2C98.8 363.6 99.1 363.3 99.6 363.3C100.1 363.2 100.7 363.4 101.1 364C101.5 364.6 101.9 365.7 102 366.8C102.2 367.9 102.2 369.9 102.1 370.8C102 371.8 102.7 372.1 101.4 372.4C100.2 372.6 95.7 372.8 94.5 372.4C93.3 371.9 94 370.7 94.2 369.7Z" fill="#003bff"/>
<path d="M94.9 369.6C95 368.8 95.5 367.9 96 367.2C96.6 366.4 97.6 365.5 98.2 365C98.8 364.5 99 364.2 99.4 364.2C99.8 364.2 100.3 364.3 100.6 364.8C101 365.3 101.3 366.2 101.4 367.2C101.6 368.1 101.6 369.8 101.5 370.5C101.4 371.3 102 371.6 101 371.8C99.9 372 96.1 372.2 95.1 371.8C94.1 371.5 94.7 370.4 94.9 369.6Z" fill="#0063ff"/>
<path d="M95.6 369.5C95.8 368.9 96.1 368.2 96.6 367.5C97 366.9 97.8 366.2 98.3 365.9C98.7 365.5 98.9 365.3 99.2 365.2C99.5 365.2 99.9 365.3 100.2 365.7C100.5 366.1 100.7 366.8 100.8 367.5C100.9 368.3 100.9 369.6 100.9 370.2C100.8 370.8 101.3 371.1 100.4 371.2C99.6 371.4 96.6 371.5 95.8 371.2C95 370.9 95.5 370.1 95.6 369.5Z" fill="#008aff"/>
<path d="M96.5 369.3C96.5 368.9 96.8 368.4 97.1 368C97.4 367.5 98 367 98.3 366.8C98.6 366.5 98.8 366.3 99 366.3C99.2 366.3 99.5 366.4 99.7 366.7C99.9 366.9 100.1 367.4 100.2 368C100.2 368.5 100.2 369.4 100.2 369.9C100.1 370.3 100.5 370.5 99.9 370.6C99.3 370.7 97.2 370.8 96.6 370.6C96 370.4 96.4 369.8 96.5 369.3Z" fill="#00b6fa"/>
<path d="M97.3 369.2C97.4 368.9 97.5 368.6 97.7 368.4C97.9 368.1 98.2 367.9 98.4 367.7C98.6 367.5 98.7 367.4 98.8 367.4C98.9 367.4 99.1 367.5 99.2 367.6C99.3 367.8 99.4 368.1 99.5 368.4C99.5 368.7 99.5 369.2 99.5 369.5C99.5 369.8 99.6 369.9 99.3 369.9C99 370 97.7 370 97.4 369.9C97.1 369.8 97.3 369.5 97.3 369.2Z" fill="#00e1f5"/>
<path d="M92.6 377C92.8 375.2 92.9 374.7 94 374.2C95.1 373.7 97.2 373.9 99 374C100.8 374.1 103.3 373.6 104.5 374.6C105.7 375.6 106 378.1 106.2 380C106.4 381.9 106 384.2 105.6 386C105.2 387.8 104.5 389.2 104 391C103.5 392.8 103.2 395 102.8 397C102.4 399 101.7 401.4 101.4 403C101.1 404.6 101.8 405.9 100.8 406.5C99.8 407.1 96.6 407.4 95.6 406.5C94.6 405.6 95.3 403.4 95 401C94.7 398.6 94 394.7 93.6 392C93.2 389.3 92.7 387.5 92.5 385C92.3 382.5 92.3 378.8 92.6 377Z" fill="#0a0aeb"/>
<path d="M93 377.4C93.2 375.7 93.3 375.2 94.3 374.7C95.3 374.3 97.4 374.5 99 374.6C100.7 374.6 103.1 374.2 104.2 375.1C105.4 376.1 105.7 378.4 105.8 380.2C106 382 105.6 384.2 105.3 385.9C104.9 387.6 104.2 388.9 103.7 390.6C103.3 392.3 103 394.4 102.6 396.3C102.2 398.2 101.6 400.4 101.3 401.9C101 403.4 101.6 404.7 100.7 405.2C99.8 405.8 96.7 406.1 95.8 405.2C94.9 404.4 95.6 402.3 95.3 400C94.9 397.8 94.3 394.1 93.9 391.6C93.5 389 93 387.3 92.9 384.9C92.7 382.6 92.8 379.1 93 377.4Z" fill="#0616f3"/>
<path d="M93.4 377.8C93.6 376.2 93.7 375.7 94.6 375.3C95.6 374.9 97.5 375.1 99.1 375.1C100.6 375.2 102.9 374.8 103.9 375.7C105 376.5 105.3 378.8 105.4 380.4C105.6 382.1 105.2 384.1 104.9 385.8C104.6 387.4 103.9 388.6 103.5 390.2C103.1 391.8 102.8 393.8 102.4 395.5C102 397.3 101.5 399.5 101.2 400.9C100.9 402.3 101.5 403.5 100.7 404C99.8 404.5 96.9 404.8 96 404C95.2 403.2 95.8 401.2 95.5 399.1C95.2 396.9 94.6 393.5 94.3 391.1C93.9 388.7 93.4 387.1 93.3 384.9C93.1 382.7 93.2 379.4 93.4 377.8Z" fill="#0222fb"/>
<path d="M93.8 378.2C94 376.7 94 376.3 94.9 375.8C95.8 375.4 97.6 375.6 99.1 375.7C100.5 375.7 102.7 375.3 103.7 376.2C104.7 377 104.9 379.1 105.1 380.7C105.2 382.3 104.9 384.1 104.6 385.7C104.3 387.2 103.6 388.3 103.2 389.8C102.9 391.3 102.6 393.2 102.2 394.8C101.9 396.5 101.4 398.5 101.1 399.8C100.8 401.1 101.4 402.2 100.6 402.7C99.8 403.2 97.1 403.5 96.3 402.7C95.5 402 96 400.2 95.8 398.1C95.5 396.1 94.9 392.9 94.6 390.7C94.2 388.4 93.8 386.9 93.7 384.8C93.5 382.8 93.6 379.7 93.8 378.2Z" fill="#003cff"/>
<path d="M94.1 378.6C94.3 377.2 94.4 376.8 95.2 376.4C96.1 376 97.8 376.2 99.1 376.2C100.5 376.3 102.4 375.9 103.4 376.7C104.3 377.5 104.6 379.4 104.7 380.9C104.8 382.4 104.5 384.1 104.2 385.6C103.9 387 103.4 388 103 389.4C102.6 390.9 102.4 392.5 102.1 394.1C101.7 395.6 101.2 397.5 101 398.7C100.7 400 101.3 401 100.5 401.5C99.8 401.9 97.2 402.2 96.5 401.5C95.7 400.7 96.3 399.1 96 397.2C95.7 395.3 95.2 392.3 94.9 390.2C94.6 388.1 94.2 386.7 94.1 384.8C93.9 382.8 94 380 94.1 378.6Z" fill="#0064ff"/>
<path d="M94.5 379C94.7 377.7 94.8 377.3 95.5 376.9C96.3 376.6 97.9 376.8 99.1 376.8C100.4 376.8 102.2 376.5 103.1 377.2C104 378 104.2 379.8 104.3 381.1C104.5 382.5 104.2 384.1 103.9 385.4C103.6 386.8 103.1 387.7 102.7 389C102.4 390.4 102.2 391.9 101.9 393.4C101.6 394.8 101.1 396.5 100.9 397.7C100.6 398.8 101.1 399.8 100.4 400.2C99.7 400.6 97.4 400.9 96.7 400.2C96 399.5 96.5 398 96.3 396.2C96 394.5 95.6 391.7 95.3 389.8C95 387.8 94.6 386.5 94.5 384.7C94.3 382.9 94.4 380.3 94.5 379Z" fill="#008cff"/>
<path d="M94.5 376.5C95.3 375.1 98 375.5 99.5 375.6C101 375.7 102.9 375.6 103.6 377C104.3 378.4 104 381.5 103.8 384C103.6 386.5 102.7 389.7 102.2 392C101.7 394.3 101.6 397 100.8 398C100 399 98.4 399 97.6 398C96.8 397 96.5 394.3 96 392C95.5 389.7 94.8 386.6 94.6 384C94.3 381.4 93.7 377.9 94.5 376.5Z" fill="#008cff"/>
<path d="M95.3 377.6C96 376.4 98.2 376.7 99.5 376.8C100.8 376.9 102.3 376.8 102.9 378C103.5 379.2 103.3 381.7 103.1 383.8C102.9 385.9 102.2 388.6 101.8 390.5C101.3 392.5 101.2 394.7 100.6 395.5C99.9 396.4 98.6 396.4 97.9 395.5C97.2 394.7 97 392.5 96.6 390.5C96.2 388.6 95.6 386 95.4 383.8C95.2 381.7 94.6 378.7 95.3 377.6Z" fill="#00b5fa"/>
<path d="M96 378.5C96.6 377.5 98.4 377.8 99.5 377.9C100.6 377.9 101.8 377.9 102.3 378.8C102.8 379.8 102.6 382 102.5 383.7C102.3 385.4 101.7 387.6 101.4 389.2C101 390.9 100.9 392.7 100.4 393.4C99.9 394.1 98.7 394.1 98.2 393.4C97.6 392.7 97.4 390.9 97.1 389.2C96.7 387.6 96.3 385.5 96.1 383.7C95.9 381.9 95.5 379.5 96 378.5Z" fill="#00dff5"/>
<path d="M96.7 379.4C97.2 378.6 98.7 378.8 99.5 378.9C100.3 378.9 101.4 378.9 101.8 379.7C102.2 380.4 102 382.2 101.9 383.6C101.8 385 101.3 386.7 101 388C100.7 389.3 100.7 390.8 100.2 391.4C99.8 391.9 98.9 391.9 98.4 391.4C98 390.8 97.8 389.3 97.5 388C97.3 386.7 96.9 385 96.8 383.6C96.6 382.1 96.3 380.2 96.7 379.4Z" fill="#09efaa"/>
<path d="M97.4 380.2C97.7 379.6 98.9 379.8 99.5 379.8C100.1 379.9 100.9 379.8 101.3 380.4C101.6 381 101.4 382.4 101.3 383.4C101.2 384.5 100.9 385.8 100.7 386.8C100.4 387.8 100.4 389 100.1 389.4C99.7 389.8 99 389.8 98.7 389.4C98.3 389 98.2 387.8 98 386.8C97.8 385.8 97.5 384.5 97.4 383.4C97.3 382.3 97 380.8 97.4 380.2Z" fill="#13fd59"/>
<path d="M98 381.1C98.2 380.6 99 380.8 99.5 380.8C100 380.8 100.5 380.8 100.7 381.2C100.9 381.6 100.9 382.6 100.8 383.3C100.7 384.1 100.5 385 100.3 385.7C100.2 386.4 100.1 387.2 99.9 387.5C99.7 387.8 99.2 387.8 98.9 387.5C98.7 387.2 98.6 386.4 98.5 385.7C98.3 385 98.1 384.1 98 383.3C98 382.5 97.8 381.5 98 381.1Z" fill="#62ff2b"/>
<path d="M101.9 380.5C101.9 381 101.8 381.5 101.7 381.9C101.6 382.3 101.4 382.7 101.2 383C101 383.4 100.8 383.7 100.5 383.8C100.2 384 99.9 384.1 99.6 384.1C99.3 384.1 99 384 98.7 383.8C98.4 383.7 98.2 383.4 98 383C97.8 382.7 97.6 382.3 97.5 381.9C97.4 381.5 97.3 381 97.3 380.5C97.3 380 97.4 379.5 97.5 379.1C97.6 378.7 97.8 378.3 98 378C98.2 377.6 98.4 377.3 98.7 377.2C99 377 99.3 376.9 99.6 376.9C99.9 376.9 100.2 377 100.5 377.2C100.8 377.3 101 377.6 101.2 378C101.4 378.3 101.6 378.7 101.7 379.1C101.8 379.5 101.9 380 101.9 380.5Z" fill="#62ff2b"/>
<path d="M101.4 380.5C101.4 380.9 101.4 381.3 101.3 381.6C101.2 381.9 101 382.2 100.9 382.5C100.7 382.8 100.5 383 100.3 383.1C100.1 383.3 99.8 383.3 99.6 383.3C99.4 383.3 99.1 383.3 98.9 383.1C98.7 383 98.5 382.8 98.3 382.5C98.2 382.2 98 381.9 97.9 381.6C97.8 381.3 97.8 380.9 97.8 380.5C97.8 380.1 97.8 379.7 97.9 379.4C98 379.1 98.2 378.8 98.3 378.5C98.5 378.2 98.7 378 98.9 377.9C99.1 377.7 99.4 377.7 99.6 377.7C99.8 377.7 100.1 377.7 100.3 377.9C100.5 378 100.7 378.2 100.9 378.5C101 378.8 101.2 379.1 101.3 379.4C101.4 379.7 101.4 380.1 101.4 380.5Z" fill="#c1fb00"/>
<path d="M100.9 380.5C100.9 380.8 100.9 381 100.8 381.3C100.8 381.5 100.7 381.8 100.5 382C100.4 382.2 100.3 382.3 100.1 382.4C100 382.5 99.8 382.6 99.6 382.6C99.4 382.6 99.2 382.5 99.1 382.4C98.9 382.3 98.8 382.2 98.7 382C98.5 381.8 98.4 381.5 98.4 381.3C98.3 381 98.3 380.8 98.3 380.5C98.3 380.2 98.3 380 98.4 379.7C98.4 379.5 98.5 379.2 98.7 379C98.8 378.8 98.9 378.7 99.1 378.6C99.2 378.5 99.4 378.4 99.6 378.4C99.8 378.4 100 378.5 100.1 378.6C100.3 378.7 100.4 378.8 100.5 379C100.7 379.2 100.8 379.5 100.8 379.7C100.9 380 100.9 380.2 100.9 380.5Z" fill="#edba00"/>
<path d="M100.4 380.5C100.4 380.7 100.4 380.8 100.4 381C100.3 381.2 100.3 381.3 100.2 381.4C100.1 381.5 100 381.6 99.9 381.7C99.8 381.8 99.7 381.8 99.6 381.8C99.5 381.8 99.4 381.8 99.3 381.7C99.2 381.6 99.1 381.5 99 381.4C98.9 381.3 98.9 381.2 98.8 381C98.8 380.8 98.8 380.7 98.8 380.5C98.8 380.3 98.8 380.2 98.8 380C98.9 379.8 98.9 379.7 99 379.6C99.1 379.5 99.2 379.4 99.3 379.3C99.4 379.2 99.5 379.2 99.6 379.2C99.7 379.2 99.8 379.2 99.9 379.3C100 379.4 100.1 379.5 100.2 379.6C100.3 379.7 100.3 379.8 100.4 380C100.4 380.2 100.4 380.3 100.4 380.5Z" fill="#fb6400"/>
<path d="M99.9 380.5C99.9 380.6 99.9 380.6 99.9 380.7C99.9 380.8 99.9 380.8 99.8 380.9C99.8 380.9 99.8 381 99.7 381C99.7 381 99.6 381 99.6 381C99.6 381 99.5 381 99.5 381C99.4 381 99.4 380.9 99.4 380.9C99.3 380.8 99.3 380.8 99.3 380.7C99.3 380.6 99.3 380.6 99.3 380.5C99.3 380.4 99.3 380.4 99.3 380.3C99.3 380.2 99.3 380.2 99.4 380.1C99.4 380.1 99.4 380 99.5 380C99.5 380 99.6 380 99.6 380C99.6 380 99.7 380 99.7 380C99.8 380 99.8 380.1 99.8 380.1C99.9 380.2 99.9 380.2 99.9 380.3C99.9 380.4 99.9 380.4 99.9 380.5Z" fill="#f50000"/>
</g></g>
<line x1="92" y1="336.2" x2="92" y2="406" stroke="#808080" stroke-width="1.2"/>
<line x1="108.25" y1="336.2" x2="108.25" y2="406" stroke="#808080" stroke-width="1.2"/>
<line x1="92" y1="373.75" x2="108.25" y2="373.75" stroke="#111" stroke-width="1.4"/>
<text transform="translate(100.2 344.5)" font-size="7.6" text-anchor="middle" dy="2.7">9.8</text>
<text transform="translate(70 399.5)" font-size="7.6" text-anchor="middle" dy="2.7">91</text>
<rect x="48.8" y="424.1" width="70.6" height="69.8" fill="none" stroke="#111" stroke-width="0.9"/>
<text transform="translate(43 431.7) scale(0.86 1)" font-size="8.6" text-anchor="end" dy="3.05">10<tspan font-size="6.19" dy="-3.44">5</tspan></text>
<text transform="translate(43 447.4) scale(0.86 1)" font-size="8.6" text-anchor="end" dy="3.05">10<tspan font-size="6.19" dy="-3.44">4</tspan></text>
<text transform="translate(43 463.1) scale(0.86 1)" font-size="8.6" text-anchor="end" dy="3.05">10<tspan font-size="6.19" dy="-3.44">3</tspan></text>
<text transform="translate(43 478.9) scale(0.86 1)" font-size="8.6" text-anchor="end" dy="3.05">10<tspan font-size="6.19" dy="-3.44">2</tspan></text>
<text transform="translate(43.2 487.7) scale(0.86 1)" font-size="8.6" text-anchor="end" dy="3.05">0</text>
<path d="M46.5 431.7H48.8M46.5 447.4H48.8M46.5 463.1H48.8M46.5 478.9H48.8M46.5 487.1H48.8M47.5 442.7H48.8M47.5 439.9H48.8M47.5 437.9H48.8M47.5 436.4H48.8M47.5 435.2H48.8M47.5 434.1H48.8M47.5 433.2H48.8M47.5 432.4H48.8M47.5 458.4H48.8M47.5 455.6H48.8M47.5 453.6H48.8M47.5 452.1H48.8M47.5 450.9H48.8M47.5 449.8H48.8M47.5 448.9H48.8M47.5 448.1H48.8M47.5 474.1H48.8M47.5 471.3H48.8M47.5 469.3H48.8M47.5 467.8H48.8M47.5 466.6H48.8M47.5 465.5H48.8M47.5 464.6H48.8M47.5 463.8H48.8M47.5 482.1H48.8M47.5 484.6H48.8M47.5 490.1H48.8M47.5 492.1H48.8M60.7 493.9V496.2M65.7 493.9V495.2M68.6 493.9V495.2M70.6 493.9V495.2M72.2 493.9V495.2M73.5 493.9V495.2M74.6 493.9V495.2M75.6 493.9V495.2M76.4 493.9V495.2M77.9 493.9V496.2M82.9 493.9V495.2M85.8 493.9V495.2M87.8 493.9V495.2M89.4 493.9V495.2M90.7 493.9V495.2M91.8 493.9V495.2M92.8 493.9V495.2M93.6 493.9V495.2M94.7 493.9V496.2M99.7 493.9V495.2M102.6 493.9V495.2M104.6 493.9V495.2M106.2 493.9V495.2M107.5 493.9V495.2M108.6 493.9V495.2M109.6 493.9V495.2M110.4 493.9V495.2M110.7 493.9V496.2M115.7 493.9V495.2M118.6 493.9V495.2M50.8 493.9V495.2M52.8 493.9V495.2M55.3 493.9V495.2M56.8 493.9V495.2" stroke="#111" stroke-width="0.75" fill="none"/>
<text transform="translate(56 503.7) scale(0.86 1)" font-size="8.6" text-anchor="middle" dy="3.05">0</text>
<text transform="translate(63.7 503.7) scale(0.86 1)" font-size="8.6" text-anchor="middle" dy="3.05">10<tspan font-size="6.19" dy="-3.44">2</tspan></text>
<text transform="translate(80.9 503.7) scale(0.86 1)" font-size="8.6" text-anchor="middle" dy="3.05">10<tspan font-size="6.19" dy="-3.44">3</tspan></text>
<text transform="translate(97.7 503.7) scale(0.86 1)" font-size="8.6" text-anchor="middle" dy="3.05">10<tspan font-size="6.19" dy="-3.44">4</tspan></text>
<text transform="translate(113.7 503.7) scale(0.86 1)" font-size="8.6" text-anchor="middle" dy="3.05">10<tspan font-size="6.19" dy="-3.44">5</tspan></text>
<g clip-path="url(#c9)"><g filter="url(#bl)">
<path d="M90.9 455C91.1 453.8 91.5 452 92.3 451C93.1 450 94.6 449.4 95.8 449.2C97 449 98.6 449.3 99.5 450C100.4 450.7 101 452.2 101.2 453.5C101.5 454.8 101.3 456.7 101 458C100.7 459.3 100.9 460.8 99.5 461.4C98.1 462 93.9 461.9 92.5 461.4C91.1 460.9 91.3 459.6 91 458.5C90.7 457.4 90.7 456.2 90.9 455Z" fill="#0a0aeb"/>
<path d="M91.1 455C91.3 453.8 91.7 452.1 92.5 451.2C93.2 450.3 94.7 449.7 95.8 449.5C96.9 449.3 98.5 449.6 99.3 450.3C100.2 450.9 100.7 452.3 100.9 453.6C101.2 454.9 101 456.6 100.7 457.9C100.5 459.1 100.7 460.6 99.3 461.1C98 461.6 94 461.6 92.7 461.1C91.3 460.6 91.5 459.4 91.2 458.3C91 457.3 90.9 456.2 91.1 455Z" fill="#0616f3"/>
<path d="M91.5 455C91.7 453.9 92 452.4 92.7 451.5C93.4 450.7 94.7 450.1 95.8 449.9C96.9 449.8 98.3 450 99.1 450.6C99.8 451.3 100.3 452.5 100.6 453.7C100.8 454.9 100.6 456.5 100.4 457.7C100.1 458.8 100.3 460.2 99.1 460.7C97.8 461.2 94.1 461.1 92.9 460.7C91.7 460.2 91.8 459 91.6 458.1C91.3 457.2 91.3 456.1 91.5 455Z" fill="#0222fb"/>
<path d="M91.9 455C92.1 454 92.4 452.6 93 451.9C93.7 451.1 94.8 450.6 95.8 450.4C96.8 450.3 98 450.5 98.7 451.1C99.5 451.6 99.9 452.8 100.1 453.8C100.3 454.9 100.2 456.4 99.9 457.4C99.7 458.5 99.9 459.7 98.7 460.1C97.6 460.6 94.3 460.5 93.2 460.1C92 459.8 92.2 458.7 92 457.8C91.8 457 91.7 456 91.9 455Z" fill="#003cff"/>
<path d="M92.4 455.1C92.5 454.2 92.8 452.9 93.3 452.2C93.9 451.6 95 451.1 95.8 451C96.6 450.9 97.8 451 98.4 451.5C99 452 99.4 453.1 99.6 454C99.8 454.9 99.7 456.2 99.5 457.2C99.3 458.1 99.4 459.2 98.4 459.6C97.4 460 94.5 459.9 93.5 459.6C92.5 459.2 92.6 458.3 92.4 457.5C92.2 456.8 92.2 455.9 92.4 455.1Z" fill="#0064ff"/>
<path d="M92.8 455.1C93 454.3 93.2 453.2 93.7 452.7C94.2 452.1 95.1 451.7 95.8 451.6C96.5 451.5 97.5 451.6 98 452.1C98.6 452.5 98.9 453.4 99.1 454.2C99.2 455 99.1 456.1 98.9 456.9C98.8 457.7 98.9 458.6 98 458.9C97.2 459.3 94.7 459.2 93.8 458.9C93 458.7 93.1 457.8 92.9 457.2C92.7 456.5 92.7 455.8 92.8 455.1Z" fill="#008dff"/>
<path d="M93.4 455.1C93.5 454.5 93.6 453.6 94.1 453.1C94.5 452.6 95.2 452.3 95.8 452.2C96.4 452.1 97.2 452.3 97.6 452.6C98.1 453 98.4 453.7 98.5 454.4C98.6 455 98.5 455.9 98.4 456.6C98.2 457.3 98.3 458 97.6 458.3C96.9 458.6 94.9 458.5 94.2 458.3C93.4 458 93.5 457.4 93.4 456.8C93.3 456.3 93.3 455.7 93.4 455.1Z" fill="#00b9fa"/>
<path d="M93.9 455.1C94 454.6 94.1 453.9 94.4 453.6C94.8 453.2 95.3 452.9 95.8 452.9C96.3 452.8 96.9 452.9 97.2 453.2C97.6 453.5 97.8 454 97.9 454.5C98 455.1 97.9 455.8 97.8 456.3C97.7 456.8 97.8 457.4 97.2 457.6C96.7 457.8 95.1 457.8 94.5 457.6C94 457.4 94 456.9 93.9 456.5C93.8 456.1 93.8 455.6 93.9 455.1Z" fill="#01e2ee"/>
<path d="M94.5 455.1C94.5 454.8 94.6 454.3 94.9 454.1C95.1 453.8 95.5 453.6 95.8 453.6C96.1 453.5 96.6 453.6 96.8 453.8C97 454 97.2 454.4 97.3 454.7C97.3 455.1 97.3 455.6 97.2 456C97.1 456.3 97.2 456.7 96.8 456.9C96.4 457 95.3 457 94.9 456.9C94.5 456.7 94.6 456.4 94.5 456.1C94.4 455.8 94.4 455.5 94.5 455.1Z" fill="#0bf299"/>
<path d="M95.1 455.2C95.1 455 95.2 454.7 95.3 454.6C95.4 454.4 95.6 454.3 95.8 454.3C96 454.3 96.2 454.3 96.4 454.4C96.5 454.5 96.6 454.7 96.6 454.9C96.6 455.1 96.6 455.4 96.6 455.6C96.5 455.8 96.6 456 96.4 456.1C96.1 456.2 95.5 456.2 95.3 456.1C95.1 456.1 95.1 455.9 95.1 455.7C95 455.5 95 455.4 95.1 455.2Z" fill="#21ff4a"/>
<path d="M91.8 465C91.9 463.4 92.1 462.7 93 462.2C93.9 461.7 95.6 462 97 462C98.4 462 100.7 461.6 101.6 462.4C102.5 463.2 102.5 465.1 102.5 467C102.5 468.9 102.1 471.5 101.8 474C101.5 476.5 101.1 479.7 100.8 482C100.5 484.3 100.3 485.9 100.2 488C100.1 490.1 101 493.4 100 494.5C99 495.6 95.4 495.6 94.5 494.5C93.6 493.4 94.5 490.4 94.4 488C94.3 485.6 94.1 482.7 93.8 480C93.5 477.3 92.9 474.5 92.6 472C92.3 469.5 91.7 466.6 91.8 465Z" fill="#0a0aeb"/>
<path d="M92.1 465.5C92.2 464 92.4 463.3 93.2 462.9C94.1 462.4 95.7 462.6 97 462.7C98.4 462.7 100.5 462.3 101.4 463C102.2 463.8 102.2 465.6 102.2 467.4C102.2 469.2 101.8 471.6 101.5 474C101.3 476.4 100.9 479.3 100.6 481.6C100.4 483.8 100.2 485.2 100 487.2C99.9 489.2 100.7 492.3 99.8 493.4C99 494.4 95.5 494.4 94.7 493.4C93.8 492.3 94.7 489.5 94.6 487.2C94.5 484.9 94.3 482.2 94 479.7C93.7 477.1 93.2 474.5 92.9 472.1C92.5 469.8 92 467 92.1 465.5Z" fill="#0616f3"/>
<path d="M92.4 466C92.5 464.6 92.7 464 93.5 463.5C94.3 463.1 95.8 463.3 97 463.3C98.3 463.4 100.3 463 101.1 463.7C101.9 464.4 101.9 466.1 101.9 467.8C101.9 469.5 101.5 471.8 101.3 474C101 476.2 100.6 479 100.4 481.1C100.2 483.2 100 484.6 99.9 486.4C99.8 488.3 100.5 491.2 99.7 492.2C98.9 493.2 95.6 493.2 94.8 492.2C94 491.2 94.8 488.6 94.7 486.4C94.6 484.3 94.5 481.7 94.2 479.3C93.9 477 93.4 474.4 93.1 472.2C92.8 470 92.4 467.5 92.4 466Z" fill="#0222fb"/>
<path d="M92.7 466.5C92.8 465.2 93 464.6 93.7 464.2C94.4 463.8 95.9 464 97.1 464C98.2 464 100.1 463.7 100.9 464.3C101.6 465 101.6 466.6 101.6 468.2C101.7 469.8 101.3 471.9 101 474C100.8 476.1 100.4 478.7 100.2 480.7C100 482.6 99.8 483.9 99.7 485.6C99.6 487.4 100.3 490.2 99.5 491.1C98.8 492 95.7 492 95 491.1C94.2 490.2 95 487.7 94.9 485.6C94.8 483.6 94.6 481.2 94.4 479C94.1 476.8 93.7 474.4 93.4 472.3C93.1 470.3 92.7 467.9 92.7 466.5Z" fill="#003cff"/>
<path d="M93 467C93.1 465.7 93.3 465.2 94 464.8C94.6 464.5 96 464.7 97.1 464.7C98.2 464.7 99.9 464.4 100.6 465C101.3 465.6 101.3 467.1 101.3 468.6C101.4 470.1 101 472.1 100.8 474C100.6 475.9 100.2 478.4 100 480.2C99.8 482 99.7 483.2 99.6 484.9C99.4 486.5 100.1 489.1 99.4 489.9C98.7 490.7 95.9 490.7 95.1 489.9C94.4 489.1 95.1 486.7 95 484.9C95 483 94.8 480.7 94.6 478.7C94.4 476.6 93.9 474.4 93.7 472.4C93.4 470.5 93 468.3 93 467Z" fill="#0064ff"/>
<path d="M93.3 467.5C93.4 466.3 93.6 465.9 94.2 465.5C94.8 465.1 96.1 465.3 97.1 465.4C98.1 465.4 99.7 465 100.4 465.6C101.1 466.2 101 467.6 101 469C101.1 470.4 100.7 472.2 100.5 474C100.3 475.8 100 478.1 99.8 479.8C99.6 481.4 99.5 482.6 99.4 484.1C99.3 485.6 99.9 488 99.2 488.8C98.6 489.5 96 489.5 95.3 488.8C94.6 488 95.3 485.8 95.2 484.1C95.1 482.3 95 480.2 94.8 478.3C94.6 476.4 94.2 474.4 93.9 472.6C93.7 470.8 93.3 468.7 93.3 467.5Z" fill="#008cff"/>
<path d="M93.8 465C94.3 463.6 96.2 463.8 97.3 463.8C98.4 463.8 100.1 463.6 100.6 465C101.1 466.4 100.7 469.5 100.5 472C100.3 474.5 99.7 476.7 99.4 480C99.1 483.3 99.4 490 98.8 492C98.2 494 96.5 494 96 492C95.5 490 95.8 483.3 95.5 480C95.2 476.7 94.8 474.5 94.5 472C94.2 469.5 93.3 466.4 93.8 465Z" fill="#008cff"/>
<path d="M94.4 466.2C94.8 465 96.4 465.1 97.3 465.1C98.2 465.1 99.6 465 100.1 466.2C100.5 467.3 100.1 469.9 100 472C99.8 474.1 99.3 475.9 99.1 478.7C98.8 481.5 99 487 98.6 488.7C98.1 490.4 96.7 490.4 96.2 488.7C95.8 487 96 481.5 95.8 478.7C95.6 475.9 95.2 474.1 95 472C94.7 469.9 94 467.3 94.4 466.2Z" fill="#00b5fa"/>
<path d="M94.9 467.1C95.2 466.2 96.5 466.3 97.3 466.3C98.1 466.3 99.2 466.2 99.6 467.1C100 468.1 99.7 470.3 99.5 472C99.4 473.7 99 475.2 98.8 477.5C98.6 479.9 98.7 484.5 98.3 485.9C97.9 487.2 96.8 487.2 96.4 485.9C96 484.5 96.2 479.9 96.1 477.5C95.9 475.2 95.6 473.7 95.4 472C95.2 470.3 94.6 468.1 94.9 467.1Z" fill="#00dff5"/>
<path d="M95.3 468.1C95.6 467.3 96.7 467.4 97.3 467.4C97.9 467.4 98.8 467.3 99.1 468.1C99.4 468.9 99.2 470.6 99.1 472C99 473.4 98.6 474.6 98.5 476.5C98.3 478.3 98.5 482 98.1 483.2C97.8 484.3 96.9 484.3 96.6 483.2C96.3 482 96.4 478.3 96.3 476.5C96.2 474.6 95.9 473.4 95.7 472C95.6 470.6 95.1 468.9 95.3 468.1Z" fill="#09efaa"/>
<path d="M95.8 469C96 468.4 96.8 468.5 97.3 468.5C97.8 468.5 98.5 468.4 98.7 469C98.9 469.6 98.8 470.9 98.7 472C98.6 473.1 98.3 474 98.2 475.4C98.1 476.8 98.2 479.7 97.9 480.5C97.7 481.4 97 481.4 96.7 480.5C96.5 479.7 96.6 476.8 96.5 475.4C96.4 474 96.2 473.1 96.1 472C96 470.9 95.6 469.6 95.8 469Z" fill="#13fd59"/>
<path d="M96.2 469.9C96.4 469.5 97 469.5 97.3 469.5C97.6 469.5 98.1 469.5 98.3 469.9C98.4 470.3 98.3 471.2 98.3 472C98.2 472.8 98 473.4 97.9 474.4C97.8 475.4 97.9 477.4 97.8 478C97.6 478.6 97.1 478.6 96.9 478C96.7 477.4 96.8 475.4 96.8 474.4C96.7 473.4 96.5 472.8 96.5 472C96.4 471.2 96.1 470.3 96.2 469.9Z" fill="#62ff2b"/>
<path d="M99.4 469.8C99.4 470.3 99.3 470.8 99.2 471.3C99.1 471.7 99 472.1 98.8 472.5C98.6 472.8 98.4 473.1 98.1 473.3C97.9 473.5 97.6 473.6 97.3 473.6C97 473.6 96.7 473.5 96.5 473.3C96.2 473.1 96 472.8 95.8 472.5C95.6 472.1 95.5 471.7 95.4 471.3C95.3 470.8 95.2 470.3 95.2 469.8C95.2 469.3 95.3 468.8 95.4 468.3C95.5 467.9 95.6 467.5 95.8 467.1C96 466.8 96.2 466.5 96.5 466.3C96.7 466.1 97 466 97.3 466C97.6 466 97.9 466.1 98.1 466.3C98.4 466.5 98.6 466.8 98.8 467.1C99 467.5 99.1 467.9 99.2 468.3C99.3 468.8 99.4 469.3 99.4 469.8Z" fill="#62ff2b"/>
<path d="M99 469.8C99 470.2 98.9 470.6 98.8 470.9C98.7 471.3 98.6 471.6 98.5 471.9C98.3 472.2 98.1 472.4 97.9 472.6C97.7 472.7 97.5 472.8 97.3 472.8C97.1 472.8 96.9 472.7 96.7 472.6C96.5 472.4 96.3 472.2 96.1 471.9C96 471.6 95.9 471.3 95.8 470.9C95.7 470.6 95.6 470.2 95.6 469.8C95.6 469.4 95.7 469 95.8 468.7C95.9 468.3 96 468 96.1 467.7C96.3 467.4 96.5 467.2 96.7 467C96.9 466.9 97.1 466.8 97.3 466.8C97.5 466.8 97.7 466.9 97.9 467C98.1 467.2 98.3 467.4 98.5 467.7C98.6 468 98.7 468.3 98.8 468.7C98.9 469 99 469.4 99 469.8Z" fill="#c1fb00"/>
<path d="M98.5 469.8C98.5 470.1 98.5 470.4 98.4 470.6C98.4 470.9 98.3 471.1 98.2 471.3C98 471.5 97.9 471.7 97.8 471.8C97.6 471.9 97.5 472 97.3 472C97.1 472 97 471.9 96.8 471.8C96.7 471.7 96.6 471.5 96.4 471.3C96.3 471.1 96.2 470.9 96.2 470.6C96.1 470.4 96.1 470.1 96.1 469.8C96.1 469.5 96.1 469.2 96.2 469C96.2 468.7 96.3 468.5 96.4 468.3C96.6 468.1 96.7 467.9 96.8 467.8C97 467.7 97.1 467.6 97.3 467.6C97.5 467.6 97.6 467.7 97.8 467.8C97.9 467.9 98 468.1 98.2 468.3C98.3 468.5 98.4 468.7 98.4 469C98.5 469.2 98.5 469.5 98.5 469.8Z" fill="#edba00"/>
<path d="M98.1 469.8C98.1 470 98 470.2 98 470.3C98 470.5 97.9 470.6 97.8 470.8C97.8 470.9 97.7 471 97.6 471.1C97.5 471.1 97.4 471.2 97.3 471.2C97.2 471.2 97.1 471.1 97 471.1C96.9 471 96.8 470.9 96.8 470.8C96.7 470.6 96.6 470.5 96.6 470.3C96.6 470.2 96.5 470 96.5 469.8C96.5 469.6 96.6 469.4 96.6 469.3C96.6 469.1 96.7 469 96.8 468.8C96.8 468.7 96.9 468.6 97 468.5C97.1 468.5 97.2 468.4 97.3 468.4C97.4 468.4 97.5 468.5 97.6 468.5C97.7 468.6 97.8 468.7 97.8 468.8C97.9 469 98 469.1 98 469.3C98 469.4 98.1 469.6 98.1 469.8Z" fill="#fb6400"/>
<path d="M97.6 469.8C97.6 469.9 97.6 470 97.6 470C97.6 470.1 97.6 470.2 97.5 470.2C97.5 470.3 97.5 470.3 97.4 470.3C97.4 470.4 97.3 470.4 97.3 470.4C97.3 470.4 97.2 470.4 97.2 470.3C97.1 470.3 97.1 470.3 97.1 470.2C97 470.2 97 470.1 97 470C97 470 97 469.9 97 469.8C97 469.7 97 469.6 97 469.6C97 469.5 97 469.4 97.1 469.4C97.1 469.3 97.1 469.3 97.2 469.3C97.2 469.2 97.3 469.2 97.3 469.2C97.3 469.2 97.4 469.2 97.4 469.3C97.5 469.3 97.5 469.3 97.5 469.4C97.6 469.4 97.6 469.5 97.6 469.6C97.6 469.6 97.6 469.7 97.6 469.8Z" fill="#f50000"/>
<path d="M98.8 493.6C98.8 493.8 98.8 493.9 98.7 494.1C98.6 494.2 98.5 494.3 98.3 494.4C98.2 494.6 98 494.7 97.8 494.7C97.6 494.8 97.4 494.8 97.2 494.8C97 494.8 96.8 494.8 96.6 494.7C96.4 494.7 96.2 494.6 96.1 494.4C95.9 494.3 95.8 494.2 95.7 494.1C95.6 493.9 95.6 493.8 95.6 493.6C95.6 493.4 95.6 493.3 95.7 493.1C95.8 493 95.9 492.9 96.1 492.8C96.2 492.6 96.4 492.5 96.6 492.5C96.8 492.4 97 492.4 97.2 492.4C97.4 492.4 97.6 492.4 97.8 492.5C98 492.5 98.2 492.6 98.3 492.8C98.5 492.9 98.6 493 98.7 493.1C98.8 493.3 98.8 493.4 98.8 493.6Z" fill="#006bff"/>
<path d="M98.5 493.6C98.5 493.7 98.5 493.9 98.4 494C98.4 494.1 98.3 494.2 98.1 494.3C98 494.4 97.9 494.5 97.7 494.5C97.5 494.6 97.4 494.6 97.2 494.6C97 494.6 96.9 494.6 96.7 494.5C96.5 494.5 96.4 494.4 96.3 494.3C96.1 494.2 96 494.1 96 494C95.9 493.9 95.9 493.7 95.9 493.6C95.9 493.5 95.9 493.3 96 493.2C96 493.1 96.1 493 96.3 492.9C96.4 492.8 96.5 492.7 96.7 492.7C96.9 492.6 97 492.6 97.2 492.6C97.4 492.6 97.5 492.6 97.7 492.7C97.9 492.7 98 492.8 98.1 492.9C98.3 493 98.4 493.1 98.4 493.2C98.5 493.3 98.5 493.5 98.5 493.6Z" fill="#0095fe"/>
<path d="M98.2 493.6C98.2 493.7 98.2 493.8 98.2 493.9C98.1 494 98 494.1 97.9 494.2C97.8 494.2 97.7 494.3 97.6 494.3C97.5 494.4 97.3 494.4 97.2 494.4C97.1 494.4 96.9 494.4 96.8 494.3C96.7 494.3 96.6 494.2 96.5 494.2C96.4 494.1 96.3 494 96.2 493.9C96.2 493.8 96.2 493.7 96.2 493.6C96.2 493.5 96.2 493.4 96.2 493.3C96.3 493.2 96.4 493.1 96.5 493C96.6 493 96.7 492.9 96.8 492.9C96.9 492.8 97.1 492.8 97.2 492.8C97.3 492.8 97.5 492.8 97.6 492.9C97.7 492.9 97.8 493 97.9 493C98 493.1 98.1 493.2 98.2 493.3C98.2 493.4 98.2 493.5 98.2 493.6Z" fill="#00c3f9"/>
<path d="M98 493.6C98 493.7 97.9 493.8 97.9 493.8C97.9 493.9 97.8 494 97.7 494C97.7 494.1 97.6 494.1 97.5 494.1C97.4 494.2 97.3 494.2 97.2 494.2C97.1 494.2 97 494.2 96.9 494.1C96.8 494.1 96.7 494.1 96.7 494C96.6 494 96.5 493.9 96.5 493.8C96.5 493.8 96.4 493.7 96.4 493.6C96.4 493.5 96.5 493.4 96.5 493.4C96.5 493.3 96.6 493.2 96.7 493.2C96.7 493.1 96.8 493.1 96.9 493.1C97 493 97.1 493 97.2 493C97.3 493 97.4 493 97.5 493.1C97.6 493.1 97.7 493.1 97.7 493.2C97.8 493.2 97.9 493.3 97.9 493.4C97.9 493.4 98 493.5 98 493.6Z" fill="#04e6d8"/>
<path d="M97.7 493.6C97.7 493.6 97.7 493.7 97.6 493.7C97.6 493.8 97.6 493.8 97.5 493.9C97.5 493.9 97.4 493.9 97.4 493.9C97.3 494 97.3 494 97.2 494C97.1 494 97.1 494 97 493.9C97 493.9 96.9 493.9 96.9 493.9C96.8 493.8 96.8 493.8 96.8 493.7C96.7 493.7 96.7 493.6 96.7 493.6C96.7 493.6 96.7 493.5 96.8 493.5C96.8 493.4 96.8 493.4 96.9 493.3C96.9 493.3 97 493.3 97 493.3C97.1 493.2 97.1 493.2 97.2 493.2C97.3 493.2 97.3 493.2 97.4 493.3C97.4 493.3 97.5 493.3 97.5 493.3C97.6 493.4 97.6 493.4 97.6 493.5C97.7 493.5 97.7 493.6 97.7 493.6Z" fill="#0ef67f"/>
</g></g>
<line x1="90" y1="424.1" x2="90" y2="493.9" stroke="#808080" stroke-width="1.2"/>
<line x1="107" y1="424.1" x2="107" y2="493.9" stroke="#808080" stroke-width="1.2"/>
<line x1="90" y1="461.8" x2="107" y2="461.8" stroke="#111" stroke-width="1.4"/>
<text transform="translate(99.5 432)" font-size="7.6" text-anchor="middle" dy="2.7">14</text>
<text transform="translate(67 487.6)" font-size="7.6" text-anchor="middle" dy="2.7">87</text>
<rect x="153.1" y="247.8" width="69.6" height="69.5" fill="none" stroke="#111" stroke-width="0.9"/>
<text transform="translate(147.3 255.4) scale(0.86 1)" font-size="8.6" text-anchor="end" dy="3.05">10<tspan font-size="6.19" dy="-3.44">5</tspan></text>
<text transform="translate(147.3 271.1) scale(0.86 1)" font-size="8.6" text-anchor="end" dy="3.05">10<tspan font-size="6.19" dy="-3.44">4</tspan></text>
<text transform="translate(147.3 286.8) scale(0.86 1)" font-size="8.6" text-anchor="end" dy="3.05">10<tspan font-size="6.19" dy="-3.44">3</tspan></text>
<text transform="translate(147.3 302.6) scale(0.86 1)" font-size="8.6" text-anchor="end" dy="3.05">10<tspan font-size="6.19" dy="-3.44">2</tspan></text>
<text transform="translate(147.5 311.4) scale(0.86 1)" font-size="8.6" text-anchor="end" dy="3.05">0</text>
<path d="M150.8 255.4H153.1M150.8 271.1H153.1M150.8 286.8H153.1M150.8 302.6H153.1M150.8 310.8H153.1M151.8 266.4H153.1M151.8 263.6H153.1M151.8 261.6H153.1M151.8 260.1H153.1M151.8 258.9H153.1M151.8 257.8H153.1M151.8 256.9H153.1M151.8 256.1H153.1M151.8 282.1H153.1M151.8 279.3H153.1M151.8 277.3H153.1M151.8 275.8H153.1M151.8 274.6H153.1M151.8 273.5H153.1M151.8 272.6H153.1M151.8 271.8H153.1M151.8 297.8H153.1M151.8 295H153.1M151.8 293H153.1M151.8 291.5H153.1M151.8 290.3H153.1M151.8 289.2H153.1M151.8 288.3H153.1M151.8 287.5H153.1M151.8 305.8H153.1M151.8 308.3H153.1M151.8 313.8H153.1M151.8 315.8H153.1M165 317.3V319.6M170 317.3V318.6M172.9 317.3V318.6M174.9 317.3V318.6M176.5 317.3V318.6M177.8 317.3V318.6M178.9 317.3V318.6M179.9 317.3V318.6M180.7 317.3V318.6M182.2 317.3V319.6M187.2 317.3V318.6M190.1 317.3V318.6M192.1 317.3V318.6M193.7 317.3V318.6M195 317.3V318.6M196.1 317.3V318.6M197.1 317.3V318.6M197.9 317.3V318.6M199 317.3V319.6M204 317.3V318.6M206.9 317.3V318.6M208.9 317.3V318.6M210.5 317.3V318.6M211.8 317.3V318.6M212.9 317.3V318.6M213.9 317.3V318.6M214.7 317.3V318.6M215 317.3V319.6M220 317.3V318.6M155.1 317.3V318.6M157.1 317.3V318.6M159.6 317.3V318.6M161.1 317.3V318.6" stroke="#111" stroke-width="0.75" fill="none"/>
<text transform="translate(160.3 327.1) scale(0.86 1)" font-size="8.6" text-anchor="middle" dy="3.05">0</text>
<text transform="translate(168 327.1) scale(0.86 1)" font-size="8.6" text-anchor="middle" dy="3.05">10<tspan font-size="6.19" dy="-3.44">2</tspan></text>
<text transform="translate(185.2 327.1) scale(0.86 1)" font-size="8.6" text-anchor="middle" dy="3.05">10<tspan font-size="6.19" dy="-3.44">3</tspan></text>
<text transform="translate(202 327.1) scale(0.86 1)" font-size="8.6" text-anchor="middle" dy="3.05">10<tspan font-size="6.19" dy="-3.44">4</tspan></text>
<text transform="translate(218 327.1) scale(0.86 1)" font-size="8.6" text-anchor="middle" dy="3.05">10<tspan font-size="6.19" dy="-3.44">5</tspan></text>
<g clip-path="url(#c10)"><g filter="url(#bl)">
<path d="M152 274C153 266.7 156.3 274.2 158 274.4C159.7 274.5 160.9 275 162.3 274.9C163.7 274.8 165 274.6 166.6 274C168.2 273.4 170 272.2 171.7 271.4C173.4 270.6 175.1 269.9 176.9 269.3C178.7 268.7 181 268.1 182.5 268C184 267.9 185.3 268.3 185.9 268.9C186.5 269.5 186.7 270.4 186.3 271.4C186 272.4 184.8 273.6 183.8 274.9C182.8 276.2 181.5 277.6 180.3 279.2C179.2 280.8 177.8 282.4 176.9 284.3C176 286.2 175.1 288.3 174.7 290.3C174.3 292.3 174.4 294.3 174.3 296.3C174.2 298.3 174.1 300.3 173.9 302.3C173.7 304.3 173 306.5 173 308.4C173 310.3 173.5 311.9 173.9 313.5C174.3 315.1 179.2 317.2 175.6 318C171.9 318.8 155.9 325.3 152 318C148.1 310.7 151 281.3 152 274Z" fill="#0a0aeb"/>
<path d="M152.7 275.1C153.6 268.2 156.7 275.3 158.3 275.5C159.9 275.6 161 276 162.3 275.9C163.7 275.9 164.9 275.6 166.4 275.1C167.9 274.5 169.6 273.4 171.2 272.6C172.8 271.9 174.4 271.2 176.1 270.7C177.8 270.1 179.9 269.5 181.3 269.4C182.7 269.4 183.9 269.8 184.5 270.3C185.1 270.8 185.2 271.7 184.9 272.6C184.6 273.6 183.5 274.7 182.6 275.9C181.6 277.1 180.3 278.5 179.3 280C178.2 281.4 176.9 283 176.1 284.8C175.2 286.5 174.4 288.5 174 290.4C173.6 292.3 173.7 294.2 173.6 296C173.5 297.9 173.4 299.8 173.2 301.7C173 303.6 172.4 305.7 172.4 307.4C172.4 309.2 172.8 310.7 173.2 312.2C173.7 313.7 178.3 315.7 174.8 316.4C171.4 317.1 156.4 323.3 152.7 316.4C149 309.5 151.7 281.9 152.7 275.1Z" fill="#0616f3"/>
<path d="M153.3 276.2C154.2 269.8 157.1 276.4 158.6 276.5C160.1 276.6 161.1 277 162.4 277C163.6 276.9 164.8 276.7 166.2 276.2C167.5 275.6 169.1 274.6 170.7 273.9C172.2 273.2 173.6 272.5 175.2 272C176.8 271.5 178.8 270.9 180.2 270.9C181.5 270.8 182.6 271.2 183.2 271.7C183.7 272.2 183.8 273 183.5 273.9C183.2 274.8 182.2 275.8 181.3 277C180.4 278.1 179.2 279.4 178.2 280.7C177.2 282.1 176.1 283.6 175.2 285.2C174.4 286.9 173.7 288.7 173.3 290.5C172.9 292.3 173.1 294 172.9 295.8C172.8 297.5 172.8 299.3 172.6 301.1C172.4 302.8 171.8 304.8 171.8 306.4C171.8 308.1 172.2 309.5 172.6 310.9C173 312.3 177.3 314.2 174.1 314.9C170.9 315.5 156.8 321.3 153.3 314.9C149.9 308.4 152.4 282.6 153.3 276.2Z" fill="#0221fb"/>
<path d="M154 277.2C154.8 271.3 157.5 277.4 158.9 277.6C160.3 277.7 161.3 278 162.4 278C163.6 277.9 164.7 277.7 166 277.2C167.2 276.8 168.7 275.8 170.1 275.1C171.5 274.5 172.9 273.9 174.4 273.4C175.9 272.9 177.8 272.4 179 272.3C180.2 272.3 181.3 272.6 181.8 273.1C182.3 273.5 182.4 274.3 182.1 275.1C181.8 275.9 180.9 276.9 180.1 278C179.2 279 178.1 280.2 177.2 281.5C176.2 282.8 175.2 284.2 174.4 285.7C173.6 287.2 172.9 289 172.6 290.6C172.2 292.2 172.4 293.9 172.3 295.5C172.2 297.2 172.1 298.8 171.9 300.4C171.8 302.1 171.2 303.9 171.2 305.4C171.2 307 171.6 308.3 171.9 309.6C172.3 310.9 176.3 312.7 173.3 313.3C170.3 313.9 157.2 319.3 154 313.3C150.8 307.3 153.2 283.2 154 277.2Z" fill="#0039ff"/>
<path d="M154.6 278.3C155.4 272.8 157.9 278.5 159.2 278.6C160.5 278.7 161.4 279.1 162.5 279C163.6 279 164.5 278.8 165.7 278.3C166.9 277.9 168.3 276.9 169.6 276.3C170.9 275.7 172.2 275.2 173.6 274.7C174.9 274.3 176.7 273.8 177.8 273.8C179 273.7 179.9 274 180.4 274.4C180.9 274.9 181 275.6 180.7 276.3C180.4 277.1 179.6 278 178.8 279C178 280 177 281.1 176.1 282.3C175.3 283.5 174.3 284.7 173.6 286.1C172.9 287.6 172.2 289.2 171.9 290.7C171.6 292.2 171.7 293.7 171.6 295.3C171.5 296.8 171.4 298.3 171.3 299.8C171.1 301.4 170.6 303 170.6 304.5C170.6 305.9 171 307.1 171.3 308.3C171.6 309.6 175.3 311.2 172.6 311.8C169.8 312.3 157.6 317.3 154.6 311.8C151.7 306.2 153.9 283.8 154.6 278.3Z" fill="#0060ff"/>
<path d="M155.3 279.4C156 274.3 158.3 279.6 159.5 279.7C160.7 279.8 161.5 280.1 162.5 280C163.5 280 164.4 279.8 165.5 279.4C166.6 279 167.9 278.1 169.1 277.6C170.3 277 171.5 276.5 172.7 276.1C174 275.7 175.6 275.2 176.7 275.2C177.7 275.2 178.6 275.4 179 275.8C179.5 276.2 179.6 276.9 179.3 277.6C179.1 278.3 178.3 279.1 177.6 280C176.9 280.9 175.9 281.9 175.1 283C174.3 284.1 173.4 285.3 172.7 286.6C172.1 287.9 171.5 289.4 171.2 290.8C170.9 292.2 171 293.6 170.9 295C170.8 296.4 170.8 297.8 170.6 299.2C170.5 300.6 170 302.2 170 303.5C170 304.8 170.3 305.9 170.6 307.1C170.9 308.2 174.4 309.7 171.8 310.2C169.3 310.7 158.1 315.3 155.3 310.2C152.5 305.1 154.6 284.5 155.3 279.4Z" fill="#0086ff"/>
<path d="M152 277C153.3 272.8 157.8 278 160 278C162.2 278 163.3 277.7 165 277C166.7 276.3 168.2 274.8 170 274C171.8 273.2 174 272.6 176 272C178 271.4 181 270.4 182 270.5C183 270.6 182.8 271.4 182 272.5C181.2 273.6 178.4 275.2 177 277C175.6 278.8 174.3 280.7 173.5 283C172.7 285.3 172.4 288.2 172 291C171.6 293.8 171.7 297.5 171 300C170.3 302.5 169.8 305 168 306C166.2 307 162.7 306.5 160 306C157.3 305.5 153.3 307.8 152 303C150.7 298.2 150.7 281.2 152 277Z" fill="#0086ff"/>
<path d="M153.2 278.7C154.3 275.1 158.2 279.6 160.1 279.6C162 279.6 163 279.3 164.5 278.7C165.9 278.1 167.2 276.8 168.8 276.1C170.4 275.3 172.3 274.8 174.1 274.3C175.8 273.8 178.4 273 179.3 273C180.1 273.1 180 273.8 179.3 274.8C178.6 275.7 176.2 277.2 174.9 278.7C173.7 280.2 172.6 281.9 171.9 283.9C171.2 285.9 170.9 288.4 170.6 290.9C170.2 293.3 170.3 296.5 169.7 298.7C169.1 300.9 168.7 303.1 167.1 303.9C165.5 304.8 162.5 304.4 160.1 303.9C157.8 303.5 154.3 305.5 153.2 301.3C152 297.1 152 282.3 153.2 278.7Z" fill="#00affb"/>
<path d="M154.2 280.1C155.2 277 158.6 280.9 160.2 280.9C161.9 280.9 162.8 280.6 164 280.1C165.3 279.6 166.4 278.5 167.8 277.9C169.2 277.2 170.9 276.8 172.4 276.4C173.9 275.9 176.2 275.2 176.9 275.2C177.7 275.3 177.6 275.9 176.9 276.7C176.3 277.6 174.2 278.8 173.1 280.1C172.1 281.5 171.1 282.9 170.5 284.7C169.8 286.5 169.7 288.6 169.3 290.8C169 292.9 169.1 295.7 168.6 297.6C168.1 299.5 167.7 301.4 166.3 302.1C164.9 302.9 162.3 302.5 160.2 302.1C158.2 301.8 155.2 303.5 154.2 299.9C153.2 296.2 153.2 283.3 154.2 280.1Z" fill="#00d9f6"/>
<path d="M155.1 281.5C156 278.8 158.9 282.2 160.3 282.2C161.8 282.2 162.5 282 163.6 281.5C164.7 281.1 165.7 280.1 166.9 279.6C168.1 279 169.5 278.7 170.8 278.3C172.1 277.9 174 277.2 174.7 277.3C175.3 277.3 175.2 277.9 174.7 278.6C174.1 279.3 172.3 280.4 171.4 281.5C170.5 282.7 169.7 283.9 169.1 285.4C168.6 287 168.4 288.8 168.2 290.7C167.9 292.5 168 294.9 167.5 296.5C167.1 298.1 166.8 299.8 165.6 300.4C164.4 301.1 162.1 300.8 160.3 300.4C158.6 300.1 156 301.6 155.1 298.5C154.3 295.3 154.3 284.2 155.1 281.5Z" fill="#08edb4"/>
<path d="M156.1 282.9C156.8 280.6 159.3 283.4 160.5 283.4C161.6 283.4 162.3 283.2 163.2 282.9C164.1 282.5 164.9 281.7 165.9 281.2C166.9 280.8 168.1 280.4 169.2 280.1C170.3 279.8 172 279.3 172.5 279.3C173.1 279.3 173 279.8 172.5 280.4C172.1 281 170.6 281.9 169.8 282.9C169 283.8 168.3 284.9 167.9 286.2C167.4 287.4 167.3 289 167 290.5C166.8 292.1 166.9 294.1 166.5 295.5C166.1 296.9 165.8 298.2 164.8 298.8C163.8 299.3 161.9 299.1 160.5 298.8C159 298.5 156.8 299.8 156.1 297.1C155.3 294.5 155.3 285.2 156.1 282.9Z" fill="#12fb64"/>
<path d="M157 284.2C157.6 282.3 159.6 284.6 160.6 284.6C161.5 284.6 162 284.5 162.8 284.2C163.5 283.9 164.2 283.2 165 282.8C165.9 282.5 166.8 282.2 167.7 281.9C168.6 281.7 170 281.2 170.4 281.3C170.9 281.3 170.8 281.7 170.4 282.2C170 282.6 168.8 283.4 168.2 284.2C167.5 285 167 285.8 166.6 286.9C166.2 287.9 166.1 289.2 165.9 290.4C165.7 291.7 165.8 293.4 165.5 294.5C165.2 295.6 165 296.7 164.1 297.2C163.3 297.6 161.7 297.4 160.6 297.2C159.4 296.9 157.6 298 157 295.8C156.4 293.7 156.4 286 157 284.2Z" fill="#58ff30"/>
<path d="M157.8 285.4C158.3 284 159.9 285.8 160.7 285.8C161.4 285.8 161.8 285.7 162.4 285.4C163 285.2 163.5 284.7 164.2 284.4C164.8 284.1 165.6 283.9 166.2 283.7C166.9 283.5 168 283.1 168.3 283.2C168.7 283.2 168.6 283.5 168.3 283.9C168.1 284.3 167.1 284.8 166.6 285.4C166.1 286.1 165.7 286.7 165.4 287.6C165.1 288.4 165 289.4 164.8 290.4C164.7 291.3 164.7 292.6 164.5 293.5C164.3 294.4 164.1 295.2 163.4 295.6C162.8 296 161.6 295.8 160.7 295.6C159.7 295.4 158.3 296.2 157.8 294.6C157.4 292.9 157.4 286.9 157.8 285.4Z" fill="#b1ff06"/>
<path d="M167.4 292C167.4 293.1 167.2 294.2 166.7 295.2C166.2 296.1 165.5 297.1 164.7 297.8C163.8 298.6 162.7 299.2 161.6 299.6C160.5 300 159.2 300.2 158 300.2C156.8 300.2 155.5 300 154.4 299.6C153.3 299.2 152.2 298.6 151.3 297.8C150.5 297.1 149.8 296.1 149.3 295.2C148.8 294.2 148.6 293.1 148.6 292C148.6 290.9 148.8 289.8 149.3 288.8C149.8 287.9 150.5 286.9 151.3 286.2C152.2 285.4 153.3 284.8 154.4 284.4C155.5 284 156.8 283.8 158 283.8C159.2 283.8 160.5 284 161.6 284.4C162.7 284.8 163.8 285.4 164.7 286.2C165.5 286.9 166.2 287.9 166.7 288.8C167.2 289.8 167.4 290.9 167.4 292Z" fill="#0ef67f"/>
<path d="M166.9 292C166.9 293 166.7 294.1 166.2 295C165.8 295.9 165.1 296.8 164.3 297.5C163.5 298.2 162.5 298.8 161.4 299.2C160.4 299.6 159.1 299.8 158 299.8C156.9 299.8 155.6 299.6 154.6 299.2C153.5 298.8 152.5 298.2 151.7 297.5C150.9 296.8 150.2 295.9 149.8 295C149.3 294.1 149.1 293 149.1 292C149.1 291 149.3 289.9 149.8 289C150.2 288.1 150.9 287.2 151.7 286.5C152.5 285.8 153.5 285.2 154.6 284.8C155.6 284.4 156.9 284.2 158 284.2C159.1 284.2 160.4 284.4 161.4 284.8C162.5 285.2 163.5 285.8 164.3 286.5C165.1 287.2 165.8 288.1 166.2 289C166.7 289.9 166.9 291 166.9 292Z" fill="#37ff40"/>
<path d="M166 292C166 292.9 165.8 293.8 165.4 294.7C165 295.5 164.4 296.3 163.6 296.9C162.9 297.6 162 298.1 161.1 298.4C160.1 298.8 159 299 158 299C157 299 155.9 298.8 154.9 298.4C154 298.1 153.1 297.6 152.4 296.9C151.6 296.3 151 295.5 150.6 294.7C150.2 293.8 150 292.9 150 292C150 291.1 150.2 290.2 150.6 289.3C151 288.5 151.6 287.7 152.4 287.1C153.1 286.4 154 285.9 154.9 285.6C155.9 285.2 157 285 158 285C159 285 160.1 285.2 161.1 285.6C162 285.9 162.9 286.4 163.6 287.1C164.4 287.7 165 288.5 165.4 289.3C165.8 290.2 166 291.1 166 292Z" fill="#8eff17"/>
<path d="M164.8 292C164.8 292.8 164.6 293.6 164.2 294.3C163.9 295 163.4 295.6 162.8 296.2C162.2 296.7 161.4 297.2 160.6 297.5C159.8 297.8 158.9 297.9 158 297.9C157.1 297.9 156.2 297.8 155.4 297.5C154.6 297.2 153.8 296.7 153.2 296.2C152.6 295.6 152.1 295 151.8 294.3C151.4 293.6 151.2 292.8 151.2 292C151.2 291.2 151.4 290.4 151.8 289.7C152.1 289 152.6 288.4 153.2 287.8C153.8 287.3 154.6 286.8 155.4 286.5C156.2 286.2 157.1 286.1 158 286.1C158.9 286.1 159.8 286.2 160.6 286.5C161.4 286.8 162.2 287.3 162.8 287.8C163.4 288.4 163.9 289 164.2 289.7C164.6 290.4 164.8 291.2 164.8 292Z" fill="#d0e500"/>
<path d="M163.3 292C163.3 292.6 163.2 293.2 162.9 293.8C162.7 294.3 162.2 294.9 161.8 295.3C161.3 295.7 160.7 296.1 160 296.3C159.4 296.5 158.7 296.7 158 296.7C157.3 296.7 156.6 296.5 156 296.3C155.3 296.1 154.7 295.7 154.2 295.3C153.8 294.9 153.3 294.3 153.1 293.8C152.8 293.2 152.7 292.6 152.7 292C152.7 291.4 152.8 290.8 153.1 290.2C153.3 289.7 153.8 289.1 154.2 288.7C154.7 288.3 155.3 287.9 156 287.7C156.6 287.5 157.3 287.3 158 287.3C158.7 287.3 159.4 287.5 160 287.7C160.7 287.9 161.3 288.3 161.8 288.7C162.2 289.1 162.7 289.7 162.9 290.2C163.2 290.8 163.3 291.4 163.3 292Z" fill="#f7ac00"/>
<path d="M161.7 292C161.7 292.4 161.6 292.9 161.4 293.2C161.2 293.6 160.9 294 160.6 294.3C160.3 294.6 159.8 294.8 159.4 295C159 295.1 158.5 295.2 158 295.2C157.5 295.2 157 295.1 156.6 295C156.2 294.8 155.7 294.6 155.4 294.3C155.1 294 154.8 293.6 154.6 293.2C154.4 292.9 154.3 292.4 154.3 292C154.3 291.6 154.4 291.1 154.6 290.8C154.8 290.4 155.1 290 155.4 289.7C155.7 289.4 156.2 289.2 156.6 289C157 288.9 157.5 288.8 158 288.8C158.5 288.8 159 288.9 159.4 289C159.8 289.2 160.3 289.4 160.6 289.7C160.9 290 161.2 290.4 161.4 290.8C161.6 291.1 161.7 291.6 161.7 292Z" fill="#fb5900"/>
<path d="M159.9 292C159.9 292.2 159.8 292.4 159.7 292.6C159.6 292.8 159.5 293 159.3 293.2C159.2 293.3 158.9 293.4 158.7 293.5C158.5 293.6 158.2 293.6 158 293.6C157.8 293.6 157.5 293.6 157.3 293.5C157.1 293.4 156.8 293.3 156.7 293.2C156.5 293 156.4 292.8 156.3 292.6C156.2 292.4 156.1 292.2 156.1 292C156.1 291.8 156.2 291.6 156.3 291.4C156.4 291.2 156.5 291 156.7 290.8C156.8 290.7 157.1 290.6 157.3 290.5C157.5 290.4 157.8 290.4 158 290.4C158.2 290.4 158.5 290.4 158.7 290.5C158.9 290.6 159.2 290.7 159.3 290.8C159.5 291 159.6 291.2 159.7 291.4C159.8 291.6 159.9 291.8 159.9 292Z" fill="#f50000"/>
<path d="M155.6 289C155.6 290 155.5 291.1 155.4 292C155.3 292.9 155.1 293.8 154.8 294.5C154.6 295.2 154.3 295.8 154 296.2C153.7 296.6 153.3 296.8 153 296.8C152.7 296.8 152.3 296.6 152 296.2C151.7 295.8 151.4 295.2 151.2 294.5C150.9 293.8 150.7 292.9 150.6 292C150.5 291.1 150.4 290 150.4 289C150.4 288 150.5 286.9 150.6 286C150.7 285.1 150.9 284.2 151.2 283.5C151.4 282.8 151.7 282.2 152 281.8C152.3 281.4 152.7 281.2 153 281.2C153.3 281.2 153.7 281.4 154 281.8C154.3 282.2 154.6 282.8 154.8 283.5C155.1 284.2 155.3 285.1 155.4 286C155.5 286.9 155.6 288 155.6 289Z" fill="#62ff2b"/>
<path d="M155.3 289C155.3 289.9 155.3 290.9 155.2 291.7C155 292.5 154.9 293.3 154.7 294C154.4 294.6 154.2 295.1 153.9 295.5C153.6 295.8 153.3 296 153 296C152.7 296 152.4 295.8 152.1 295.5C151.8 295.1 151.6 294.6 151.3 294C151.1 293.3 151 292.5 150.8 291.7C150.7 290.9 150.7 289.9 150.7 289C150.7 288.1 150.7 287.1 150.8 286.3C151 285.5 151.1 284.7 151.3 284C151.6 283.4 151.8 282.9 152.1 282.5C152.4 282.2 152.7 282 153 282C153.3 282 153.6 282.2 153.9 282.5C154.2 282.9 154.4 283.4 154.7 284C154.9 284.7 155 285.5 155.2 286.3C155.3 287.1 155.3 288.1 155.3 289Z" fill="#c1fb00"/>
<path d="M154.9 289C154.9 289.7 154.8 290.5 154.7 291.1C154.6 291.8 154.5 292.5 154.3 293C154.2 293.5 153.9 293.9 153.7 294.2C153.5 294.4 153.2 294.6 153 294.6C152.8 294.6 152.5 294.4 152.3 294.2C152.1 293.9 151.8 293.5 151.7 293C151.5 292.5 151.4 291.8 151.3 291.1C151.2 290.5 151.1 289.7 151.1 289C151.1 288.3 151.2 287.5 151.3 286.9C151.4 286.2 151.5 285.5 151.7 285C151.8 284.5 152.1 284.1 152.3 283.8C152.5 283.6 152.8 283.4 153 283.4C153.2 283.4 153.5 283.6 153.7 283.8C153.9 284.1 154.2 284.5 154.3 285C154.5 285.5 154.6 286.2 154.7 286.9C154.8 287.5 154.9 288.3 154.9 289Z" fill="#edba00"/>
<path d="M154.2 289C154.2 289.5 154.2 290 154.2 290.4C154.1 290.9 154 291.3 153.9 291.6C153.8 292 153.6 292.3 153.5 292.5C153.3 292.6 153.2 292.7 153 292.7C152.8 292.7 152.7 292.6 152.5 292.5C152.4 292.3 152.2 292 152.1 291.6C152 291.3 151.9 290.9 151.8 290.4C151.8 290 151.8 289.5 151.8 289C151.8 288.5 151.8 288 151.8 287.6C151.9 287.1 152 286.7 152.1 286.4C152.2 286 152.4 285.7 152.5 285.5C152.7 285.4 152.8 285.3 153 285.3C153.2 285.3 153.3 285.4 153.5 285.5C153.6 285.7 153.8 286 153.9 286.4C154 286.7 154.1 287.1 154.2 287.6C154.2 288 154.2 288.5 154.2 289Z" fill="#fb6400"/>
<path d="M153.5 289C153.5 289.2 153.5 289.4 153.5 289.6C153.5 289.8 153.4 290 153.4 290.1C153.3 290.2 153.3 290.4 153.2 290.4C153.1 290.5 153.1 290.6 153 290.6C152.9 290.6 152.9 290.5 152.8 290.4C152.7 290.4 152.7 290.2 152.6 290.1C152.6 290 152.5 289.8 152.5 289.6C152.5 289.4 152.5 289.2 152.5 289C152.5 288.8 152.5 288.6 152.5 288.4C152.5 288.2 152.6 288 152.6 287.9C152.7 287.8 152.7 287.6 152.8 287.6C152.9 287.5 152.9 287.4 153 287.4C153.1 287.4 153.1 287.5 153.2 287.6C153.3 287.6 153.3 287.8 153.4 287.9C153.4 288 153.5 288.2 153.5 288.4C153.5 288.6 153.5 288.8 153.5 289Z" fill="#f50000"/>
<path d="M171.3 283.2C171.3 283.6 171.2 284 171.1 284.3C171 284.7 170.8 285.1 170.5 285.3C170.3 285.6 170 285.8 169.7 286C169.4 286.1 169 286.2 168.7 286.2C168.4 286.2 168 286.1 167.7 286C167.4 285.8 167.1 285.6 166.9 285.3C166.6 285.1 166.4 284.7 166.3 284.3C166.2 284 166.1 283.6 166.1 283.2C166.1 282.8 166.2 282.4 166.3 282.1C166.4 281.7 166.6 281.3 166.9 281.1C167.1 280.8 167.4 280.6 167.7 280.4C168 280.3 168.4 280.2 168.7 280.2C169 280.2 169.4 280.3 169.7 280.4C170 280.6 170.3 280.8 170.5 281.1C170.8 281.3 171 281.7 171.1 282.1C171.2 282.4 171.3 282.8 171.3 283.2Z" fill="#07ecba"/>
<path d="M170.6 283.2C170.6 283.5 170.6 283.8 170.5 284C170.4 284.3 170.2 284.6 170.1 284.8C169.9 285 169.7 285.1 169.4 285.2C169.2 285.3 168.9 285.4 168.7 285.4C168.5 285.4 168.2 285.3 168 285.2C167.7 285.1 167.5 285 167.3 284.8C167.2 284.6 167 284.3 166.9 284C166.8 283.8 166.8 283.5 166.8 283.2C166.8 282.9 166.8 282.6 166.9 282.4C167 282.1 167.2 281.8 167.3 281.6C167.5 281.4 167.7 281.3 168 281.2C168.2 281.1 168.5 281 168.7 281C168.9 281 169.2 281.1 169.4 281.2C169.7 281.3 169.9 281.4 170.1 281.6C170.2 281.8 170.4 282.1 170.5 282.4C170.6 282.6 170.6 282.9 170.6 283.2Z" fill="#10f970"/>
<path d="M170.1 283.2C170.1 283.4 170.1 283.6 170 283.8C169.9 284 169.8 284.2 169.7 284.3C169.6 284.5 169.4 284.6 169.2 284.7C169.1 284.8 168.9 284.8 168.7 284.8C168.5 284.8 168.3 284.8 168.2 284.7C168 284.6 167.8 284.5 167.7 284.3C167.6 284.2 167.5 284 167.4 283.8C167.3 283.6 167.3 283.4 167.3 283.2C167.3 283 167.3 282.8 167.4 282.6C167.5 282.4 167.6 282.2 167.7 282.1C167.8 281.9 168 281.8 168.2 281.7C168.3 281.6 168.5 281.6 168.7 281.6C168.9 281.6 169.1 281.6 169.2 281.7C169.4 281.8 169.6 281.9 169.7 282.1C169.8 282.2 169.9 282.4 170 282.6C170.1 282.8 170.1 283 170.1 283.2Z" fill="#42ff3a"/>
<path d="M169.6 283.2C169.6 283.3 169.6 283.5 169.6 283.6C169.5 283.7 169.5 283.9 169.4 284C169.3 284.1 169.2 284.2 169.1 284.2C169 284.3 168.8 284.3 168.7 284.3C168.6 284.3 168.4 284.3 168.3 284.2C168.2 284.2 168.1 284.1 168 284C167.9 283.9 167.9 283.7 167.8 283.6C167.8 283.5 167.8 283.3 167.8 283.2C167.8 283.1 167.8 282.9 167.8 282.8C167.9 282.7 167.9 282.5 168 282.4C168.1 282.3 168.2 282.2 168.3 282.2C168.4 282.1 168.6 282.1 168.7 282.1C168.8 282.1 169 282.1 169.1 282.2C169.2 282.2 169.3 282.3 169.4 282.4C169.5 282.5 169.5 282.7 169.6 282.8C169.6 282.9 169.6 283.1 169.6 283.2Z" fill="#94ff14"/>
<path d="M169.2 283.2C169.2 283.3 169.2 283.4 169.2 283.4C169.2 283.5 169.1 283.6 169.1 283.6C169 283.7 169 283.7 168.9 283.8C168.8 283.8 168.8 283.8 168.7 283.8C168.6 283.8 168.6 283.8 168.5 283.8C168.4 283.7 168.4 283.7 168.3 283.6C168.3 283.6 168.2 283.5 168.2 283.4C168.2 283.4 168.2 283.3 168.2 283.2C168.2 283.1 168.2 283 168.2 283C168.2 282.9 168.3 282.8 168.3 282.8C168.4 282.7 168.4 282.7 168.5 282.6C168.6 282.6 168.6 282.6 168.7 282.6C168.8 282.6 168.8 282.6 168.9 282.6C169 282.7 169 282.7 169.1 282.8C169.1 282.8 169.2 282.9 169.2 283C169.2 283 169.2 283.1 169.2 283.2Z" fill="#d0e500"/>
<ellipse cx="155.4" cy="315" rx="2" ry="2.2" fill="#fff"/>
</g></g>
<path d="M168.7 268.6L181.2 264.2L190.7 264.6L193.3 276.3L190.7 285.9L183.7 291.9L176 290.2L166.4 284.1L165.2 278.1Z" fill="none" stroke="#111" stroke-width="0.9"/>
<text transform="translate(196.5 255.2)" font-size="7.6" text-anchor="middle" dy="2.7">24</text>
<rect x="241.2" y="247.8" width="69.6" height="69.5" fill="none" stroke="#111" stroke-width="0.9"/>
<text transform="translate(235.4 255.4) scale(0.86 1)" font-size="8.6" text-anchor="end" dy="3.05">10<tspan font-size="6.19" dy="-3.44">5</tspan></text>
<text transform="translate(235.4 271.1) scale(0.86 1)" font-size="8.6" text-anchor="end" dy="3.05">10<tspan font-size="6.19" dy="-3.44">4</tspan></text>
<text transform="translate(235.4 286.8) scale(0.86 1)" font-size="8.6" text-anchor="end" dy="3.05">10<tspan font-size="6.19" dy="-3.44">3</tspan></text>
<text transform="translate(235.4 302.6) scale(0.86 1)" font-size="8.6" text-anchor="end" dy="3.05">10<tspan font-size="6.19" dy="-3.44">2</tspan></text>
<text transform="translate(235.6 311.4) scale(0.86 1)" font-size="8.6" text-anchor="end" dy="3.05">0</text>
<path d="M238.9 255.4H241.2M238.9 271.1H241.2M238.9 286.8H241.2M238.9 302.6H241.2M238.9 310.8H241.2M239.9 266.4H241.2M239.9 263.6H241.2M239.9 261.6H241.2M239.9 260.1H241.2M239.9 258.9H241.2M239.9 257.8H241.2M239.9 256.9H241.2M239.9 256.1H241.2M239.9 282.1H241.2M239.9 279.3H241.2M239.9 277.3H241.2M239.9 275.8H241.2M239.9 274.6H241.2M239.9 273.5H241.2M239.9 272.6H241.2M239.9 271.8H241.2M239.9 297.8H241.2M239.9 295H241.2M239.9 293H241.2M239.9 291.5H241.2M239.9 290.3H241.2M239.9 289.2H241.2M239.9 288.3H241.2M239.9 287.5H241.2M239.9 305.8H241.2M239.9 308.3H241.2M239.9 313.8H241.2M239.9 315.8H241.2M253.1 317.3V319.6M258.1 317.3V318.6M261 317.3V318.6M263 317.3V318.6M264.6 317.3V318.6M265.9 317.3V318.6M267 317.3V318.6M268 317.3V318.6M268.8 317.3V318.6M270.3 317.3V319.6M275.3 317.3V318.6M278.2 317.3V318.6M280.2 317.3V318.6M281.8 317.3V318.6M283.1 317.3V318.6M284.2 317.3V318.6M285.2 317.3V318.6M286 317.3V318.6M287.1 317.3V319.6M292.1 317.3V318.6M295 317.3V318.6M297 317.3V318.6M298.6 317.3V318.6M299.9 317.3V318.6M301 317.3V318.6M302 317.3V318.6M302.8 317.3V318.6M303.1 317.3V319.6M308.1 317.3V318.6M243.2 317.3V318.6M245.2 317.3V318.6M247.7 317.3V318.6M249.2 317.3V318.6" stroke="#111" stroke-width="0.75" fill="none"/>
<text transform="translate(248.4 327.1) scale(0.86 1)" font-size="8.6" text-anchor="middle" dy="3.05">0</text>
<text transform="translate(256.1 327.1) scale(0.86 1)" font-size="8.6" text-anchor="middle" dy="3.05">10<tspan font-size="6.19" dy="-3.44">2</tspan></text>
<text transform="translate(273.3 327.1) scale(0.86 1)" font-size="8.6" text-anchor="middle" dy="3.05">10<tspan font-size="6.19" dy="-3.44">3</tspan></text>
<text transform="translate(290.1 327.1) scale(0.86 1)" font-size="8.6" text-anchor="middle" dy="3.05">10<tspan font-size="6.19" dy="-3.44">4</tspan></text>
<text transform="translate(306.1 327.1) scale(0.86 1)" font-size="8.6" text-anchor="middle" dy="3.05">10<tspan font-size="6.19" dy="-3.44">5</tspan></text>
<g clip-path="url(#c11)"><g filter="url(#bl)">
<path d="M240.5 272.3C241 265.8 242.3 277.9 243.4 279.2C244.5 280.5 246.2 280.1 246.9 280C247.6 279.9 246.8 279 247.7 278.3C248.5 277.6 250.7 276 252 275.7C253.3 275.4 254.2 277.3 255.5 276.6C256.8 275.9 258.1 272.8 259.7 271.4C261.3 270 262.9 268.9 264.9 268C266.9 267.1 270.1 266.3 271.8 266.3C273.5 266.3 274.5 267 274.8 268C275.1 269 274.8 270.4 273.9 272.3C273 274.2 270.5 277.2 269.2 279.2C267.9 281.2 266.8 282.4 265.8 284.3C264.8 286.2 263.7 288 263.2 290.3C262.7 292.6 262.8 295.2 262.7 298.1C262.6 301 262.6 304.2 262.7 307.5C262.8 310.8 266.9 316.2 263.2 318C259.5 319.8 244.3 325.6 240.5 318C236.7 310.4 240 278.8 240.5 272.3Z" fill="#0a0aeb"/>
<path d="M241.7 274.6C242.1 268.8 243.3 279.6 244.3 280.8C245.2 281.9 246.8 281.6 247.4 281.5C248.1 281.4 247.4 280.6 248.1 280C248.9 279.3 250.8 277.9 252 277.6C253.2 277.4 254 279.1 255.2 278.4C256.3 277.8 257.5 275.1 258.9 273.8C260.3 272.5 261.8 271.5 263.6 270.7C265.4 269.9 268.3 269.2 269.8 269.2C271.3 269.2 272.2 269.8 272.5 270.7C272.8 271.6 272.5 272.9 271.7 274.6C270.9 276.2 268.7 279 267.5 280.8C266.3 282.6 265.3 283.7 264.4 285.4C263.5 287 262.5 288.7 262.1 290.8C261.6 292.8 261.7 295.2 261.6 297.8C261.6 300.4 261.6 303.3 261.6 306.2C261.7 309.2 265.4 314.1 262.1 315.7C258.8 317.3 245.1 322.6 241.7 315.7C238.2 308.8 241.2 280.4 241.7 274.6Z" fill="#0616f3"/>
<path d="M242.8 276.8C243.2 271.7 244.3 281.3 245.1 282.4C246 283.4 247.3 283.1 247.9 283C248.5 282.9 247.9 282.2 248.6 281.6C249.2 281.1 251 279.8 252 279.6C253 279.3 253.8 280.9 254.8 280.3C255.8 279.7 256.9 277.3 258.2 276.1C259.4 275 260.7 274.1 262.3 273.4C263.9 272.7 266.5 272 267.8 272C269.2 272 270 272.6 270.2 273.4C270.5 274.2 270.3 275.3 269.5 276.8C268.8 278.3 266.8 280.8 265.8 282.4C264.7 284 263.8 285 263 286.4C262.2 287.9 261.4 289.4 261 291.2C260.5 293.1 260.6 295.2 260.6 297.5C260.5 299.8 260.5 302.3 260.6 305C260.6 307.7 263.9 312 261 313.4C258 314.8 245.8 319.5 242.8 313.4C239.8 307.3 242.4 282 242.8 276.8Z" fill="#0222fb"/>
<path d="M243.9 279.1C244.3 274.6 245.2 283 246 283.9C246.7 284.8 247.9 284.6 248.4 284.5C248.9 284.4 248.4 283.8 249 283.3C249.6 282.8 251.1 281.7 252 281.5C252.9 281.3 253.6 282.6 254.4 282.1C255.3 281.6 256.3 279.5 257.4 278.5C258.5 277.5 259.6 276.7 261 276.1C262.4 275.5 264.7 274.9 265.9 274.9C267 274.9 267.7 275.4 268 276.1C268.2 276.8 268 277.8 267.3 279.1C266.7 280.4 265 282.5 264 283.9C263.1 285.3 262.4 286.2 261.7 287.5C261 288.8 260.2 290.1 259.8 291.7C259.5 293.3 259.5 295.2 259.5 297.2C259.4 299.2 259.4 301.4 259.5 303.8C259.5 306.1 262.4 309.9 259.8 311.1C257.2 312.3 246.6 316.4 243.9 311.1C241.3 305.8 243.6 283.6 243.9 279.1Z" fill="#003eff"/>
<path d="M271.3 272.3C271.3 272.6 271.2 272.8 271.1 273.1C270.9 273.3 270.7 273.5 270.4 273.7C270.2 273.9 269.8 274.1 269.4 274.1C269.1 274.2 268.7 274.3 268.3 274.3C267.9 274.3 267.5 274.2 267.2 274.1C266.8 274.1 266.4 273.9 266.2 273.7C265.9 273.5 265.7 273.3 265.5 273.1C265.4 272.8 265.3 272.6 265.3 272.3C265.3 272 265.4 271.8 265.5 271.5C265.7 271.3 265.9 271.1 266.2 270.9C266.4 270.7 266.8 270.5 267.2 270.5C267.5 270.4 267.9 270.3 268.3 270.3C268.7 270.3 269.1 270.4 269.4 270.5C269.8 270.5 270.2 270.7 270.4 270.9C270.7 271.1 270.9 271.3 271.1 271.5C271.2 271.8 271.3 272 271.3 272.3Z" fill="#0033ff"/>
<path d="M270.3 272.3C270.3 272.5 270.2 272.7 270.2 272.8C270.1 273 269.9 273.1 269.7 273.2C269.5 273.4 269.3 273.5 269.1 273.5C268.8 273.6 268.6 273.6 268.3 273.6C268 273.6 267.8 273.6 267.5 273.5C267.3 273.5 267.1 273.4 266.9 273.2C266.7 273.1 266.5 273 266.4 272.8C266.4 272.7 266.3 272.5 266.3 272.3C266.3 272.1 266.4 271.9 266.4 271.8C266.5 271.6 266.7 271.5 266.9 271.4C267.1 271.2 267.3 271.1 267.5 271.1C267.8 271 268 271 268.3 271C268.6 271 268.8 271 269.1 271.1C269.3 271.1 269.5 271.2 269.7 271.4C269.9 271.5 270.1 271.6 270.2 271.8C270.2 271.9 270.3 272.1 270.3 272.3Z" fill="#0058ff"/>
<path d="M269.6 272.3C269.6 272.4 269.5 272.5 269.5 272.6C269.4 272.7 269.3 272.8 269.2 272.9C269.1 273 268.9 273 268.8 273.1C268.6 273.1 268.5 273.1 268.3 273.1C268.1 273.1 268 273.1 267.8 273.1C267.7 273 267.5 273 267.4 272.9C267.3 272.8 267.2 272.7 267.1 272.6C267.1 272.5 267 272.4 267 272.3C267 272.2 267.1 272.1 267.1 272C267.2 271.9 267.3 271.8 267.4 271.7C267.5 271.6 267.7 271.6 267.8 271.5C268 271.5 268.1 271.5 268.3 271.5C268.5 271.5 268.6 271.5 268.8 271.5C268.9 271.6 269.1 271.6 269.2 271.7C269.3 271.8 269.4 271.9 269.5 272C269.5 272.1 269.6 272.2 269.6 272.3Z" fill="#007dff"/>
<path d="M268.9 272.3C268.9 272.4 268.9 272.4 268.9 272.5C268.8 272.5 268.8 272.5 268.7 272.6C268.7 272.6 268.6 272.7 268.5 272.7C268.5 272.7 268.4 272.7 268.3 272.7C268.2 272.7 268.1 272.7 268.1 272.7C268 272.7 267.9 272.6 267.9 272.6C267.8 272.5 267.8 272.5 267.7 272.5C267.7 272.4 267.7 272.4 267.7 272.3C267.7 272.2 267.7 272.2 267.7 272.1C267.8 272.1 267.8 272.1 267.9 272C267.9 272 268 271.9 268.1 271.9C268.1 271.9 268.2 271.9 268.3 271.9C268.4 271.9 268.5 271.9 268.5 271.9C268.6 271.9 268.7 272 268.7 272C268.8 272.1 268.8 272.1 268.9 272.1C268.9 272.2 268.9 272.2 268.9 272.3Z" fill="#00a4fc"/>
<path d="M240.5 286C241.8 281 245.4 287.3 248 288C250.6 288.7 253.8 289.2 256 290C258.2 290.8 260.1 290.5 261 293C261.9 295.5 261.4 300.8 261.5 305C261.6 309.2 265 315.8 261.5 318C258 320.2 244 323.3 240.5 318C237 312.7 239.2 291 240.5 286Z" fill="#004fff"/>
<path d="M241.4 287.7C242.5 283.3 245.8 288.9 248.1 289.5C250.3 290.1 253.2 290.5 255.2 291.2C257.1 292 258.8 291.7 259.6 293.9C260.4 296.1 260 300.9 260 304.5C260.1 308.2 263.1 314.2 260 316.1C256.9 318 244.5 320.8 241.4 316.1C238.3 311.4 240.3 292.1 241.4 287.7Z" fill="#0075ff"/>
<path d="M242.2 289.2C243.2 285.2 246.1 290.2 248.1 290.7C250.1 291.3 252.7 291.7 254.4 292.3C256.1 293 257.6 292.7 258.4 294.7C259.1 296.7 258.7 300.9 258.8 304.2C258.8 307.4 261.5 312.7 258.8 314.4C256 316.1 244.9 318.6 242.2 314.4C239.4 310.2 241.2 293.1 242.2 289.2Z" fill="#009cfd"/>
<path d="M242.9 290.5C243.8 287.1 246.4 291.5 248.2 291.9C250 292.4 252.2 292.8 253.7 293.3C255.2 293.9 256.6 293.7 257.2 295.4C257.8 297.2 257.5 300.9 257.6 303.8C257.6 306.7 260 311.3 257.6 312.8C255.1 314.4 245.4 316.6 242.9 312.8C240.5 309.1 242.1 294 242.9 290.5Z" fill="#00c6f8"/>
<path d="M243.6 291.9C244.4 288.9 246.6 292.7 248.2 293.1C249.8 293.5 251.7 293.8 253.1 294.3C254.4 294.8 255.5 294.6 256.1 296.1C256.6 297.7 256.3 300.9 256.4 303.4C256.4 306 258.5 310 256.4 311.3C254.3 312.6 245.8 314.6 243.6 311.3C241.5 308.1 242.9 294.9 243.6 291.9Z" fill="#03e6d8"/>
<path d="M244.3 293.2C245 290.6 246.9 293.9 248.2 294.2C249.6 294.6 251.3 294.8 252.4 295.3C253.5 295.7 254.5 295.5 255 296.8C255.5 298.1 255.2 300.9 255.3 303.1C255.3 305.2 257.1 308.7 255.3 309.8C253.4 311 246.2 312.6 244.3 309.8C242.5 307.1 243.7 295.8 244.3 293.2Z" fill="#0df588"/>
<path d="M245 294.5C245.6 292.3 247.2 295.1 248.3 295.4C249.4 295.6 250.8 295.9 251.8 296.2C252.7 296.6 253.5 296.4 253.9 297.5C254.3 298.6 254.1 300.9 254.1 302.7C254.2 304.5 255.7 307.4 254.1 308.4C252.6 309.3 246.5 310.7 245 308.4C243.5 306.1 244.5 296.7 245 294.5Z" fill="#30ff43"/>
<path d="M245.7 295.8C246.1 294 247.4 296.2 248.3 296.4C249.2 296.7 250.4 296.9 251.1 297.1C251.9 297.4 252.6 297.3 252.9 298.2C253.2 299.1 253 300.9 253.1 302.4C253.1 303.9 254.3 306.2 253.1 306.9C251.8 307.7 246.9 308.8 245.7 306.9C244.5 305.1 245.3 297.5 245.7 295.8Z" fill="#8aff19"/>
<path d="M255.6 300.5C255.6 301.6 255.4 302.9 255 303.9C254.6 305 254.1 306.1 253.4 306.9C252.8 307.7 251.9 308.4 251.1 308.8C250.2 309.3 249.2 309.5 248.3 309.5C247.4 309.5 246.4 309.3 245.5 308.8C244.7 308.4 243.8 307.7 243.2 306.9C242.5 306.1 242 305 241.6 303.9C241.2 302.9 241.1 301.6 241.1 300.5C241.1 299.4 241.2 298.1 241.6 297.1C242 296 242.5 294.9 243.2 294.1C243.8 293.3 244.7 292.6 245.5 292.2C246.4 291.7 247.4 291.5 248.3 291.5C249.2 291.5 250.2 291.7 251.1 292.2C251.9 292.6 252.8 293.3 253.4 294.1C254.1 294.9 254.6 296 255 297.1C255.4 298.1 255.6 299.4 255.6 300.5Z" fill="#0ef67f"/>
<path d="M254.8 300.5C254.8 301.5 254.6 302.6 254.3 303.6C254 304.6 253.5 305.5 252.9 306.2C252.3 307 251.6 307.6 250.8 308C250 308.4 249.1 308.6 248.3 308.6C247.5 308.6 246.6 308.4 245.8 308C245 307.6 244.3 307 243.7 306.2C243.1 305.5 242.6 304.6 242.3 303.6C242 302.6 241.8 301.5 241.8 300.5C241.8 299.5 242 298.4 242.3 297.4C242.6 296.4 243.1 295.5 243.7 294.8C244.3 294 245 293.4 245.8 293C246.6 292.6 247.5 292.4 248.3 292.4C249.1 292.4 250 292.6 250.8 293C251.6 293.4 252.3 294 252.9 294.8C253.5 295.5 254 296.4 254.3 297.4C254.6 298.4 254.8 299.5 254.8 300.5Z" fill="#42ff3a"/>
<path d="M253.5 300.5C253.5 301.3 253.4 302.2 253.1 303C252.8 303.7 252.4 304.5 252 305.1C251.5 305.6 250.9 306.1 250.3 306.5C249.7 306.8 249 307 248.3 307C247.6 307 246.9 306.8 246.3 306.5C245.7 306.1 245.1 305.6 244.6 305.1C244.2 304.5 243.8 303.7 243.5 303C243.2 302.2 243.1 301.3 243.1 300.5C243.1 299.7 243.2 298.8 243.5 298C243.8 297.3 244.2 296.5 244.6 295.9C245.1 295.4 245.7 294.9 246.3 294.5C246.9 294.2 247.6 294 248.3 294C249 294 249.7 294.2 250.3 294.5C250.9 294.9 251.5 295.4 252 295.9C252.4 296.5 252.8 297.3 253.1 298C253.4 298.8 253.5 299.7 253.5 300.5Z" fill="#a4ff0c"/>
<path d="M251.8 300.5C251.8 301.1 251.7 301.6 251.5 302.2C251.3 302.7 251.1 303.2 250.8 303.6C250.4 303.9 250 304.3 249.6 304.5C249.2 304.7 248.7 304.8 248.3 304.8C247.9 304.8 247.4 304.7 247 304.5C246.6 304.3 246.2 303.9 245.8 303.6C245.5 303.2 245.3 302.7 245.1 302.2C244.9 301.6 244.8 301.1 244.8 300.5C244.8 299.9 244.9 299.4 245.1 298.8C245.3 298.3 245.5 297.8 245.8 297.4C246.2 297.1 246.6 296.7 247 296.5C247.4 296.3 247.9 296.2 248.3 296.2C248.7 296.2 249.2 296.3 249.6 296.5C250 296.7 250.4 297.1 250.8 297.4C251.1 297.8 251.3 298.3 251.5 298.8C251.7 299.4 251.8 299.9 251.8 300.5Z" fill="#ded000"/>
<path d="M249.8 300.5C249.8 300.7 249.7 301 249.6 301.2C249.6 301.4 249.5 301.6 249.3 301.8C249.2 301.9 249 302.1 248.9 302.2C248.7 302.3 248.5 302.3 248.3 302.3C248.1 302.3 247.9 302.3 247.7 302.2C247.6 302.1 247.4 301.9 247.3 301.8C247.1 301.6 247 301.4 247 301.2C246.9 301 246.9 300.7 246.9 300.5C246.9 300.3 246.9 300 247 299.8C247 299.6 247.1 299.4 247.3 299.2C247.4 299.1 247.6 298.9 247.7 298.8C247.9 298.7 248.1 298.7 248.3 298.7C248.5 298.7 248.7 298.7 248.9 298.8C249 298.9 249.2 299.1 249.3 299.2C249.5 299.4 249.6 299.6 249.6 299.8C249.7 300 249.8 300.3 249.8 300.5Z" fill="#fd8500"/>
<path d="M243.6 296.3C243.6 297 243.6 297.7 243.5 298.3C243.3 298.9 243.2 299.5 243 300C242.7 300.4 242.5 300.9 242.2 301.1C241.9 301.4 241.6 301.5 241.3 301.5C241 301.5 240.7 301.4 240.4 301.1C240.1 300.9 239.9 300.4 239.6 300C239.4 299.5 239.3 298.9 239.1 298.3C239 297.7 239 297 239 296.3C239 295.6 239 294.9 239.1 294.3C239.3 293.7 239.4 293.1 239.6 292.6C239.9 292.2 240.1 291.7 240.4 291.5C240.7 291.2 241 291.1 241.3 291.1C241.6 291.1 241.9 291.2 242.2 291.5C242.5 291.7 242.7 292.2 243 292.6C243.2 293.1 243.3 293.7 243.5 294.3C243.6 294.9 243.6 295.6 243.6 296.3Z" fill="#62ff2b"/>
<path d="M243.4 296.3C243.4 296.9 243.3 297.5 243.2 298.1C243.1 298.6 243 299.2 242.8 299.6C242.6 300 242.4 300.4 242.1 300.6C241.9 300.9 241.6 301 241.3 301C241 301 240.7 300.9 240.5 300.6C240.2 300.4 240 300 239.8 299.6C239.6 299.2 239.5 298.6 239.4 298.1C239.3 297.5 239.2 296.9 239.2 296.3C239.2 295.7 239.3 295.1 239.4 294.5C239.5 294 239.6 293.4 239.8 293C240 292.6 240.2 292.2 240.5 292C240.7 291.7 241 291.6 241.3 291.6C241.6 291.6 241.9 291.7 242.1 292C242.4 292.2 242.6 292.6 242.8 293C243 293.4 243.1 294 243.2 294.5C243.3 295.1 243.4 295.7 243.4 296.3Z" fill="#c1fb00"/>
<path d="M243 296.3C243 296.8 242.9 297.3 242.9 297.7C242.8 298.2 242.6 298.6 242.5 298.9C242.3 299.3 242.1 299.6 241.9 299.7C241.7 299.9 241.5 300 241.3 300C241.1 300 240.9 299.9 240.7 299.7C240.5 299.6 240.3 299.3 240.1 298.9C240 298.6 239.8 298.2 239.7 297.7C239.7 297.3 239.6 296.8 239.6 296.3C239.6 295.8 239.7 295.3 239.7 294.9C239.8 294.4 240 294 240.1 293.7C240.3 293.3 240.5 293 240.7 292.9C240.9 292.7 241.1 292.6 241.3 292.6C241.5 292.6 241.7 292.7 241.9 292.9C242.1 293 242.3 293.3 242.5 293.7C242.6 294 242.8 294.4 242.9 294.9C242.9 295.3 243 295.8 243 296.3Z" fill="#edba00"/>
<path d="M242.4 296.3C242.4 296.6 242.4 297 242.3 297.3C242.3 297.6 242.2 297.8 242.1 298.1C242 298.3 241.9 298.5 241.7 298.6C241.6 298.7 241.4 298.8 241.3 298.8C241.2 298.8 241 298.7 240.9 298.6C240.7 298.5 240.6 298.3 240.5 298.1C240.4 297.8 240.3 297.6 240.3 297.3C240.2 297 240.2 296.6 240.2 296.3C240.2 296 240.2 295.6 240.3 295.3C240.3 295 240.4 294.8 240.5 294.5C240.6 294.3 240.7 294.1 240.9 294C241 293.9 241.2 293.8 241.3 293.8C241.4 293.8 241.6 293.9 241.7 294C241.9 294.1 242 294.3 242.1 294.5C242.2 294.8 242.3 295 242.3 295.3C242.4 295.6 242.4 296 242.4 296.3Z" fill="#fb6400"/>
<path d="M241.8 296.3C241.8 296.4 241.8 296.6 241.7 296.7C241.7 296.8 241.7 296.9 241.6 297C241.6 297.1 241.5 297.2 241.5 297.3C241.4 297.3 241.4 297.3 241.3 297.3C241.2 297.3 241.2 297.3 241.1 297.3C241.1 297.2 241 297.1 241 297C240.9 296.9 240.9 296.8 240.9 296.7C240.8 296.6 240.8 296.4 240.8 296.3C240.8 296.2 240.8 296 240.9 295.9C240.9 295.8 240.9 295.7 241 295.6C241 295.5 241.1 295.4 241.1 295.3C241.2 295.3 241.2 295.3 241.3 295.3C241.4 295.3 241.4 295.3 241.5 295.3C241.5 295.4 241.6 295.5 241.6 295.6C241.7 295.7 241.7 295.8 241.7 295.9C241.8 296 241.8 296.2 241.8 296.3Z" fill="#f50000"/>
<path d="M250.6 298.9C250.6 299.2 250.5 299.6 250.3 299.9C250.2 300.2 250 300.5 249.7 300.7C249.5 301 249.1 301.2 248.8 301.3C248.5 301.4 248.1 301.5 247.7 301.5C247.3 301.5 246.9 301.4 246.6 301.3C246.3 301.2 245.9 301 245.7 300.7C245.4 300.5 245.2 300.2 245.1 299.9C244.9 299.6 244.8 299.2 244.8 298.9C244.8 298.6 244.9 298.2 245.1 297.9C245.2 297.6 245.4 297.3 245.7 297.1C245.9 296.8 246.3 296.6 246.6 296.5C246.9 296.4 247.3 296.3 247.7 296.3C248.1 296.3 248.5 296.4 248.8 296.5C249.1 296.6 249.5 296.8 249.7 297.1C250 297.3 250.2 297.6 250.3 297.9C250.5 298.2 250.6 298.6 250.6 298.9Z" fill="#d0e500"/>
<path d="M250.1 298.9C250.1 299.2 250.1 299.5 249.9 299.7C249.8 300 249.6 300.3 249.4 300.5C249.2 300.7 248.9 300.8 248.6 300.9C248.3 301 248 301.1 247.7 301.1C247.4 301.1 247.1 301 246.8 300.9C246.5 300.8 246.2 300.7 246 300.5C245.8 300.3 245.6 300 245.5 299.7C245.3 299.5 245.3 299.2 245.3 298.9C245.3 298.6 245.3 298.3 245.5 298.1C245.6 297.8 245.8 297.5 246 297.3C246.2 297.1 246.5 297 246.8 296.9C247.1 296.8 247.4 296.7 247.7 296.7C248 296.7 248.3 296.8 248.6 296.9C248.9 297 249.2 297.1 249.4 297.3C249.6 297.5 249.8 297.8 249.9 298.1C250.1 298.3 250.1 298.6 250.1 298.9Z" fill="#f7ac00"/>
<path d="M249.3 298.9C249.3 299.1 249.3 299.3 249.2 299.5C249.1 299.6 249 299.8 248.8 299.9C248.7 300.1 248.5 300.2 248.3 300.3C248.1 300.3 247.9 300.4 247.7 300.4C247.5 300.4 247.3 300.3 247.1 300.3C246.9 300.2 246.7 300.1 246.6 299.9C246.4 299.8 246.3 299.6 246.2 299.5C246.1 299.3 246.1 299.1 246.1 298.9C246.1 298.7 246.1 298.5 246.2 298.3C246.3 298.2 246.4 298 246.6 297.9C246.7 297.7 246.9 297.6 247.1 297.5C247.3 297.5 247.5 297.4 247.7 297.4C247.9 297.4 248.1 297.5 248.3 297.5C248.5 297.6 248.7 297.7 248.8 297.9C249 298 249.1 298.2 249.2 298.3C249.3 298.5 249.3 298.7 249.3 298.9Z" fill="#fb5900"/>
<path d="M248.3 298.9C248.3 299 248.3 299 248.2 299.1C248.2 299.2 248.2 299.2 248.1 299.3C248.1 299.3 248 299.4 247.9 299.4C247.9 299.4 247.8 299.4 247.7 299.4C247.6 299.4 247.5 299.4 247.5 299.4C247.4 299.4 247.3 299.3 247.3 299.3C247.2 299.2 247.2 299.2 247.2 299.1C247.1 299 247.1 299 247.1 298.9C247.1 298.8 247.1 298.8 247.2 298.7C247.2 298.6 247.2 298.6 247.3 298.5C247.3 298.5 247.4 298.4 247.5 298.4C247.5 298.4 247.6 298.4 247.7 298.4C247.8 298.4 247.9 298.4 247.9 298.4C248 298.4 248.1 298.5 248.1 298.5C248.2 298.6 248.2 298.6 248.2 298.7C248.3 298.8 248.3 298.8 248.3 298.9Z" fill="#f50000"/>
<path d="M262.2 317.6C262.2 317.9 262 318.2 261.5 318.5C261.1 318.7 260.4 319 259.7 319.2C258.9 319.4 257.9 319.6 256.8 319.7C255.8 319.8 254.6 319.9 253.5 319.9C252.4 319.9 251.2 319.8 250.2 319.7C249.1 319.6 248.1 319.4 247.3 319.2C246.6 319 245.9 318.7 245.5 318.5C245 318.2 244.8 317.9 244.8 317.6C244.8 317.3 245 317 245.5 316.7C245.9 316.5 246.6 316.2 247.3 316C248.1 315.8 249.1 315.6 250.2 315.5C251.2 315.4 252.4 315.4 253.5 315.4C254.6 315.4 255.8 315.4 256.8 315.5C257.9 315.6 258.9 315.8 259.7 316C260.4 316.2 261.1 316.5 261.5 316.7C262 317 262.2 317.3 262.2 317.6Z" fill="#0ef67f"/>
<path d="M261.7 317.6C261.7 317.9 261.5 318.2 261.1 318.4C260.7 318.7 260.1 318.9 259.3 319.1C258.6 319.3 257.6 319.5 256.6 319.6C255.7 319.7 254.5 319.7 253.5 319.7C252.5 319.7 251.3 319.7 250.4 319.6C249.4 319.5 248.4 319.3 247.7 319.1C246.9 318.9 246.3 318.7 245.9 318.4C245.5 318.2 245.3 317.9 245.3 317.6C245.3 317.3 245.5 317 245.9 316.8C246.3 316.5 246.9 316.3 247.7 316.1C248.4 315.9 249.4 315.7 250.4 315.6C251.3 315.5 252.5 315.5 253.5 315.5C254.5 315.5 255.7 315.5 256.6 315.6C257.6 315.7 258.6 315.9 259.3 316.1C260.1 316.3 260.7 316.5 261.1 316.8C261.5 317 261.7 317.3 261.7 317.6Z" fill="#37ff40"/>
<path d="M260.9 317.6C260.9 317.8 260.7 318.1 260.3 318.3C259.9 318.6 259.4 318.8 258.7 318.9C258 319.1 257.2 319.3 256.3 319.4C255.4 319.5 254.4 319.5 253.5 319.5C252.6 319.5 251.6 319.5 250.7 319.4C249.8 319.3 249 319.1 248.3 318.9C247.6 318.8 247.1 318.6 246.7 318.3C246.3 318.1 246.1 317.8 246.1 317.6C246.1 317.4 246.3 317.1 246.7 316.9C247.1 316.6 247.6 316.4 248.3 316.3C249 316.1 249.8 315.9 250.7 315.8C251.6 315.7 252.6 315.7 253.5 315.7C254.4 315.7 255.4 315.7 256.3 315.8C257.2 315.9 258 316.1 258.7 316.3C259.4 316.4 259.9 316.6 260.3 316.9C260.7 317.1 260.9 317.4 260.9 317.6Z" fill="#8eff17"/>
<path d="M259.7 317.6C259.7 317.8 259.6 318 259.3 318.2C259 318.4 258.5 318.6 257.9 318.7C257.3 318.9 256.6 319 255.9 319.1C255.2 319.2 254.3 319.2 253.5 319.2C252.7 319.2 251.8 319.2 251.1 319.1C250.4 319 249.7 318.9 249.1 318.7C248.5 318.6 248 318.4 247.7 318.2C247.4 318 247.3 317.8 247.3 317.6C247.3 317.4 247.4 317.2 247.7 317C248 316.8 248.5 316.6 249.1 316.5C249.7 316.3 250.4 316.2 251.1 316.1C251.8 316 252.7 316 253.5 316C254.3 316 255.2 316 255.9 316.1C256.6 316.2 257.3 316.3 257.9 316.5C258.5 316.6 259 316.8 259.3 317C259.6 317.2 259.7 317.4 259.7 317.6Z" fill="#d0e500"/>
<path d="M258.4 317.6C258.4 317.8 258.3 317.9 258 318.1C257.8 318.2 257.4 318.4 257 318.5C256.5 318.6 256 318.7 255.4 318.8C254.8 318.8 254.1 318.9 253.5 318.9C252.9 318.9 252.2 318.8 251.6 318.8C251 318.7 250.5 318.6 250 318.5C249.6 318.4 249.2 318.2 249 318.1C248.7 317.9 248.6 317.8 248.6 317.6C248.6 317.4 248.7 317.3 249 317.1C249.2 317 249.6 316.8 250 316.7C250.5 316.6 251 316.5 251.6 316.4C252.2 316.4 252.9 316.3 253.5 316.3C254.1 316.3 254.8 316.4 255.4 316.4C256 316.5 256.5 316.6 257 316.7C257.4 316.8 257.8 317 258 317.1C258.3 317.3 258.4 317.4 258.4 317.6Z" fill="#f7ac00"/>
<path d="M256.9 317.6C256.9 317.7 256.8 317.8 256.6 317.9C256.5 318 256.2 318.1 255.9 318.2C255.6 318.3 255.2 318.4 254.8 318.4C254.4 318.5 253.9 318.5 253.5 318.5C253.1 318.5 252.6 318.5 252.2 318.4C251.8 318.4 251.4 318.3 251.1 318.2C250.8 318.1 250.5 318 250.4 317.9C250.2 317.8 250.1 317.7 250.1 317.6C250.1 317.5 250.2 317.4 250.4 317.3C250.5 317.2 250.8 317.1 251.1 317C251.4 316.9 251.8 316.8 252.2 316.8C252.6 316.7 253.1 316.7 253.5 316.7C253.9 316.7 254.4 316.7 254.8 316.8C255.2 316.8 255.6 316.9 255.9 317C256.2 317.1 256.5 317.2 256.6 317.3C256.8 317.4 256.9 317.5 256.9 317.6Z" fill="#fb5900"/>
<path d="M255.2 317.6C255.2 317.7 255.2 317.7 255.1 317.8C255 317.8 254.9 317.9 254.7 317.9C254.6 318 254.4 318 254.2 318C254 318 253.7 318.1 253.5 318.1C253.3 318.1 253 318 252.8 318C252.6 318 252.4 318 252.3 317.9C252.1 317.9 252 317.8 251.9 317.8C251.8 317.7 251.8 317.7 251.8 317.6C251.8 317.5 251.8 317.5 251.9 317.4C252 317.4 252.1 317.3 252.3 317.3C252.4 317.2 252.6 317.2 252.8 317.2C253 317.2 253.3 317.2 253.5 317.2C253.7 317.2 254 317.2 254.2 317.2C254.4 317.2 254.6 317.2 254.7 317.3C254.9 317.3 255 317.4 255.1 317.4C255.2 317.5 255.2 317.5 255.2 317.6Z" fill="#f50000"/>
</g></g>
<path d="M247.3 277.2L259.4 263.4L272.4 265.6L279.8 271.2L279.3 280.7L274.1 291.9L269.8 295.4L262.9 292.8L249 286.7Z" fill="none" stroke="#111" stroke-width="0.9"/>
<text transform="translate(280.2 255.4)" font-size="7.6" text-anchor="middle" dy="2.7">14</text>
<rect x="151.1" y="336.1" width="69.6" height="69.5" fill="none" stroke="#111" stroke-width="0.9"/>
<text transform="translate(145.3 343.7) scale(0.86 1)" font-size="8.6" text-anchor="end" dy="3.05">10<tspan font-size="6.19" dy="-3.44">5</tspan></text>
<text transform="translate(145.3 359.4) scale(0.86 1)" font-size="8.6" text-anchor="end" dy="3.05">10<tspan font-size="6.19" dy="-3.44">4</tspan></text>
<text transform="translate(145.3 375.1) scale(0.86 1)" font-size="8.6" text-anchor="end" dy="3.05">10<tspan font-size="6.19" dy="-3.44">3</tspan></text>
<text transform="translate(145.3 390.9) scale(0.86 1)" font-size="8.6" text-anchor="end" dy="3.05">10<tspan font-size="6.19" dy="-3.44">2</tspan></text>
<text transform="translate(145.5 399.7) scale(0.86 1)" font-size="8.6" text-anchor="end" dy="3.05">0</text>
<path d="M148.8 343.7H151.1M148.8 359.4H151.1M148.8 375.1H151.1M148.8 390.9H151.1M148.8 399.1H151.1M149.8 354.7H151.1M149.8 351.9H151.1M149.8 349.9H151.1M149.8 348.4H151.1M149.8 347.2H151.1M149.8 346.1H151.1M149.8 345.2H151.1M149.8 344.4H151.1M149.8 370.4H151.1M149.8 367.6H151.1M149.8 365.6H151.1M149.8 364.1H151.1M149.8 362.9H151.1M149.8 361.8H151.1M149.8 360.9H151.1M149.8 360.1H151.1M149.8 386.1H151.1M149.8 383.3H151.1M149.8 381.3H151.1M149.8 379.8H151.1M149.8 378.6H151.1M149.8 377.5H151.1M149.8 376.6H151.1M149.8 375.8H151.1M149.8 394.1H151.1M149.8 396.6H151.1M149.8 402.1H151.1M149.8 404.1H151.1M163 405.6V407.9M168 405.6V406.9M170.9 405.6V406.9M172.9 405.6V406.9M174.5 405.6V406.9M175.8 405.6V406.9M176.9 405.6V406.9M177.9 405.6V406.9M178.7 405.6V406.9M180.2 405.6V407.9M185.2 405.6V406.9M188.1 405.6V406.9M190.1 405.6V406.9M191.7 405.6V406.9M193 405.6V406.9M194.1 405.6V406.9M195.1 405.6V406.9M195.9 405.6V406.9M197 405.6V407.9M202 405.6V406.9M204.9 405.6V406.9M206.9 405.6V406.9M208.5 405.6V406.9M209.8 405.6V406.9M210.9 405.6V406.9M211.9 405.6V406.9M212.7 405.6V406.9M213 405.6V407.9M218 405.6V406.9M153.1 405.6V406.9M155.1 405.6V406.9M157.6 405.6V406.9M159.1 405.6V406.9" stroke="#111" stroke-width="0.75" fill="none"/>
<text transform="translate(158.3 415.4) scale(0.86 1)" font-size="8.6" text-anchor="middle" dy="3.05">0</text>
<text transform="translate(166 415.4) scale(0.86 1)" font-size="8.6" text-anchor="middle" dy="3.05">10<tspan font-size="6.19" dy="-3.44">2</tspan></text>
<text transform="translate(183.2 415.4) scale(0.86 1)" font-size="8.6" text-anchor="middle" dy="3.05">10<tspan font-size="6.19" dy="-3.44">3</tspan></text>
<text transform="translate(200 415.4) scale(0.86 1)" font-size="8.6" text-anchor="middle" dy="3.05">10<tspan font-size="6.19" dy="-3.44">4</tspan></text>
<text transform="translate(216 415.4) scale(0.86 1)" font-size="8.6" text-anchor="middle" dy="3.05">10<tspan font-size="6.19" dy="-3.44">5</tspan></text>
<g clip-path="url(#c12)"><g filter="url(#bl)">
<path d="M150.5 362C151 355.4 152.1 365.4 153.4 366.3C154.8 367.2 157 367.2 158.6 367.2C160.2 367.2 161.5 366.3 162.9 366.3C164.3 366.3 166.1 367.6 167.2 367.2C168.3 366.8 169 364.2 169.7 363.7C170.4 363.2 171.1 363.6 171.5 364.2C171.9 364.8 171.5 366.4 172.3 367.2C173.2 368 175.9 368 176.6 368.9C177.3 369.8 177.2 370.7 176.6 372.3C176 373.9 173.9 376 173.2 378.3C172.5 380.6 172.3 383.9 172.3 386C172.3 388.1 172.6 390.1 173.2 391.2C173.8 392.3 175.7 392 175.8 392.9C175.9 393.8 174.6 395.1 174 396.4C173.4 397.7 172.2 399 172.3 400.6C172.5 402.2 178.5 405.1 174.9 406C171.3 406.9 154.6 413.3 150.5 406C146.4 398.7 150 368.6 150.5 362Z" fill="#0a0aeb"/>
<path d="M151.3 363.6C151.7 357.5 152.7 366.8 154 367.6C155.2 368.4 157.3 368.4 158.8 368.4C160.2 368.4 161.4 367.6 162.8 367.6C164.1 367.6 165.7 368.8 166.7 368.4C167.8 368 168.4 365.6 169 365.1C169.7 364.7 170.3 365.1 170.7 365.6C171.1 366.1 170.7 367.7 171.5 368.4C172.2 369.1 174.8 369.2 175.4 370C176.1 370.7 176 371.7 175.4 373.1C174.9 374.6 172.9 376.5 172.3 378.7C171.6 380.8 171.5 383.8 171.5 385.8C171.5 387.8 171.7 389.5 172.3 390.6C172.8 391.6 174.6 391.4 174.7 392.2C174.8 393 173.6 394.2 173 395.4C172.5 396.6 171.3 397.8 171.5 399.3C171.6 400.8 177.2 403.4 173.9 404.3C170.5 405.1 155 411.1 151.3 404.3C147.5 397.5 150.8 369.7 151.3 363.6Z" fill="#0617f4"/>
<path d="M152.1 365.1C152.5 359.5 153.4 368.1 154.5 368.8C155.7 369.5 157.6 369.6 159 369.6C160.3 369.6 161.4 368.8 162.6 368.8C163.8 368.8 165.3 369.9 166.3 369.6C167.2 369.2 167.8 367 168.4 366.6C169 366.2 169.6 366.5 169.9 367C170.3 367.5 169.9 368.9 170.6 369.6C171.3 370.2 173.7 370.3 174.3 371C174.9 371.7 174.7 372.6 174.3 373.9C173.8 375.2 172 377.1 171.4 379C170.8 380.9 170.6 383.7 170.6 385.6C170.6 387.4 170.9 389 171.4 390C171.9 390.9 173.5 390.7 173.6 391.4C173.7 392.2 172.5 393.3 172.1 394.4C171.6 395.5 170.5 396.6 170.6 398C170.7 399.3 175.9 401.8 172.8 402.6C169.7 403.3 155.5 408.8 152.1 402.6C148.6 396.3 151.7 370.8 152.1 365.1Z" fill="#0125fd"/>
<path d="M152.9 366.7C153.2 361.6 154.1 369.4 155.1 370.1C156.2 370.7 157.9 370.8 159.1 370.8C160.4 370.8 161.4 370.1 162.5 370.1C163.6 370.1 164.9 371.1 165.8 370.8C166.7 370.4 167.2 368.4 167.7 368C168.3 367.7 168.8 368 169.1 368.4C169.5 368.9 169.1 370.1 169.8 370.8C170.4 371.4 172.5 371.4 173.1 372.1C173.6 372.7 173.5 373.5 173.1 374.7C172.7 375.9 171 377.6 170.5 379.4C169.9 381.1 169.8 383.7 169.8 385.3C169.8 387 170 388.5 170.5 389.4C170.9 390.2 172.4 390 172.5 390.7C172.6 391.3 171.5 392.4 171.1 393.4C170.6 394.4 169.6 395.4 169.8 396.6C169.9 397.9 174.6 400.1 171.8 400.8C169 401.5 156 406.5 152.9 400.8C149.7 395.1 152.5 371.9 152.9 366.7Z" fill="#0049ff"/>
<path d="M153.7 368.3C154 363.7 154.7 370.7 155.7 371.3C156.6 371.9 158.2 371.9 159.3 371.9C160.4 371.9 161.3 371.3 162.3 371.3C163.3 371.3 164.5 372.2 165.3 371.9C166.1 371.6 166.6 369.8 167.1 369.5C167.6 369.1 168 369.4 168.3 369.8C168.7 370.2 168.3 371.4 168.9 371.9C169.5 372.5 171.4 372.5 171.9 373.1C172.4 373.7 172.3 374.4 171.9 375.5C171.5 376.6 170 378.1 169.5 379.7C169 381.3 168.9 383.6 168.9 385.1C168.9 386.6 169.1 387.9 169.5 388.7C169.9 389.5 171.3 389.3 171.4 389.9C171.5 390.5 170.5 391.5 170.1 392.4C169.7 393.3 168.8 394.2 168.9 395.3C169 396.4 173.3 398.5 170.7 399.1C168.2 399.7 156.5 404.2 153.7 399.1C150.8 394 153.3 372.9 153.7 368.3Z" fill="#0076ff"/>
<path d="M150.5 370C151.8 366 155.9 371.9 158 372C160.1 372.1 161.3 370.8 163 370.5C164.7 370.2 166.5 370.2 168 370C169.5 369.8 171 368.7 172 369C173 369.3 174.3 370.5 174 372C173.7 373.5 170.9 375.7 170 378C169.1 380.3 168.5 383.8 168.5 386C168.5 388.2 170.2 389.2 170 391C169.8 392.8 169 395.8 167 397C165 398.2 160.8 398.2 158 398C155.2 397.8 151.8 400.7 150.5 396C149.2 391.3 149.2 374 150.5 370Z" fill="#0086ff"/>
<path d="M151.7 371.6C152.8 368.1 156.4 373.2 158.3 373.3C160.1 373.4 161.2 372.3 162.6 372C164.1 371.7 165.7 371.8 167 371.6C168.3 371.3 169.6 370.4 170.4 370.7C171.3 371 172.5 372 172.2 373.3C171.9 374.6 169.5 376.5 168.7 378.5C167.9 380.5 167.4 383.6 167.4 385.5C167.4 387.4 168.9 388.2 168.7 389.8C168.5 391.4 167.8 394 166.1 395.1C164.4 396.1 160.7 396.1 158.3 395.9C155.9 395.8 152.8 398.2 151.7 394.2C150.6 390.1 150.6 375 151.7 371.6Z" fill="#00affb"/>
<path d="M152.8 372.9C153.7 369.9 156.9 374.4 158.5 374.4C160.1 374.5 161 373.5 162.3 373.3C163.5 373 164.9 373.1 166.1 372.9C167.2 372.7 168.3 371.9 169.1 372.1C169.9 372.4 170.9 373.3 170.6 374.4C170.4 375.6 168.3 377.2 167.6 379C166.9 380.7 166.4 383.4 166.4 385C166.4 386.7 167.8 387.4 167.6 388.8C167.4 390.2 166.8 392.5 165.3 393.4C163.8 394.3 160.6 394.3 158.5 394.1C156.4 394 153.7 396.2 152.8 392.6C151.8 389.1 151.8 375.9 152.8 372.9Z" fill="#00d9f6"/>
<path d="M153.8 374.2C154.6 371.6 157.3 375.4 158.7 375.5C160.1 375.5 160.9 374.7 162 374.5C163 374.3 164.2 374.3 165.2 374.2C166.2 374 167.2 373.3 167.8 373.5C168.5 373.7 169.3 374.5 169.1 375.5C168.9 376.5 167.1 377.9 166.5 379.4C165.9 380.9 165.5 383.2 165.5 384.6C165.5 386 166.7 386.7 166.5 387.9C166.4 389.1 165.9 391 164.6 391.8C163.3 392.5 160.5 392.5 158.7 392.4C156.9 392.3 154.6 394.2 153.8 391.1C153 388.1 153 376.8 153.8 374.2Z" fill="#08edb4"/>
<path d="M154.8 375.4C155.5 373.2 157.8 376.5 158.9 376.5C160 376.6 160.7 375.9 161.6 375.7C162.6 375.5 163.6 375.6 164.4 375.4C165.2 375.3 166 374.7 166.6 374.9C167.1 375 167.9 375.7 167.7 376.5C167.5 377.3 166 378.5 165.5 379.8C165 381.1 164.7 383 164.7 384.2C164.7 385.4 165.6 385.9 165.5 386.9C165.4 387.9 164.9 389.6 163.8 390.2C162.7 390.9 160.4 390.9 158.9 390.8C157.4 390.7 155.5 392.2 154.8 389.7C154.1 387.1 154.1 377.6 154.8 375.4Z" fill="#12fb64"/>
<path d="M155.7 376.6C156.3 374.8 158.2 377.5 159.1 377.5C160 377.6 160.6 377 161.3 376.8C162.1 376.7 162.9 376.7 163.6 376.6C164.3 376.5 164.9 376 165.4 376.2C165.8 376.3 166.4 376.8 166.3 377.5C166.1 378.2 164.9 379.2 164.5 380.2C164.1 381.3 163.8 382.8 163.8 383.8C163.8 384.8 164.6 385.2 164.5 386C164.4 386.9 164 388.2 163.1 388.7C162.2 389.2 160.3 389.2 159.1 389.2C157.9 389.1 156.3 390.4 155.7 388.3C155.2 386.2 155.2 378.4 155.7 376.6Z" fill="#58ff30"/>
<path d="M156.7 377.8C157.1 376.4 158.6 378.5 159.3 378.5C160 378.5 160.5 378.1 161.1 378C161.6 377.9 162.3 377.9 162.8 377.8C163.3 377.7 163.8 377.3 164.2 377.4C164.5 377.6 165 378 164.9 378.5C164.8 379 163.8 379.8 163.5 380.6C163.2 381.4 163 382.6 163 383.4C163 384.2 163.6 384.5 163.5 385.1C163.4 385.8 163.1 386.8 162.4 387.2C161.8 387.7 160.3 387.7 159.3 387.6C158.3 387.5 157.1 388.5 156.7 386.9C156.2 385.3 156.2 379.2 156.7 377.8Z" fill="#b1ff06"/>
<path d="M166 380C166 381 165.8 382 165.5 382.9C165.2 383.8 164.7 384.6 164.1 385.3C163.5 386 162.8 386.6 162 386.9C161.2 387.3 160.3 387.5 159.5 387.5C158.7 387.5 157.8 387.3 157 386.9C156.2 386.6 155.5 386 154.9 385.3C154.3 384.6 153.8 383.8 153.5 382.9C153.2 382 153 381 153 380C153 379 153.2 378 153.5 377.1C153.8 376.2 154.3 375.4 154.9 374.7C155.5 374 156.2 373.4 157 373.1C157.8 372.7 158.7 372.5 159.5 372.5C160.3 372.5 161.2 372.7 162 373.1C162.8 373.4 163.5 374 164.1 374.7C164.7 375.4 165.2 376.2 165.5 377.1C165.8 378 166 379 166 380Z" fill="#0ef67f"/>
<path d="M165.4 380C165.4 380.9 165.2 381.8 164.9 382.6C164.6 383.4 164.2 384.2 163.7 384.8C163.1 385.4 162.4 385.9 161.7 386.2C161.1 386.6 160.2 386.8 159.5 386.8C158.8 386.8 157.9 386.6 157.3 386.2C156.6 385.9 155.9 385.4 155.3 384.8C154.8 384.2 154.4 383.4 154.1 382.6C153.8 381.8 153.6 380.9 153.6 380C153.6 379.1 153.8 378.2 154.1 377.4C154.4 376.6 154.8 375.8 155.3 375.2C155.9 374.6 156.6 374.1 157.3 373.8C157.9 373.4 158.8 373.2 159.5 373.2C160.2 373.2 161.1 373.4 161.7 373.8C162.4 374.1 163.1 374.6 163.7 375.2C164.2 375.8 164.6 376.6 164.9 377.4C165.2 378.2 165.4 379.1 165.4 380Z" fill="#42ff3a"/>
<path d="M164.2 380C164.2 380.7 164.1 381.4 163.8 382.1C163.6 382.7 163.2 383.3 162.8 383.8C162.4 384.3 161.8 384.7 161.3 385C160.7 385.2 160.1 385.4 159.5 385.4C158.9 385.4 158.3 385.2 157.7 385C157.2 384.7 156.6 384.3 156.2 383.8C155.8 383.3 155.4 382.7 155.2 382.1C154.9 381.4 154.8 380.7 154.8 380C154.8 379.3 154.9 378.6 155.2 377.9C155.4 377.3 155.8 376.7 156.2 376.2C156.6 375.7 157.2 375.3 157.7 375C158.3 374.8 158.9 374.6 159.5 374.6C160.1 374.6 160.7 374.8 161.3 375C161.8 375.3 162.4 375.7 162.8 376.2C163.2 376.7 163.6 377.3 163.8 377.9C164.1 378.6 164.2 379.3 164.2 380Z" fill="#a4ff0c"/>
<path d="M162.6 380C162.6 380.5 162.5 381 162.4 381.4C162.2 381.8 162 382.2 161.7 382.5C161.4 382.9 161.1 383.2 160.7 383.3C160.3 383.5 159.9 383.6 159.5 383.6C159.1 383.6 158.7 383.5 158.3 383.3C157.9 383.2 157.6 382.9 157.3 382.5C157 382.2 156.8 381.8 156.6 381.4C156.5 381 156.4 380.5 156.4 380C156.4 379.5 156.5 379 156.6 378.6C156.8 378.2 157 377.8 157.3 377.5C157.6 377.1 157.9 376.8 158.3 376.7C158.7 376.5 159.1 376.4 159.5 376.4C159.9 376.4 160.3 376.5 160.7 376.7C161.1 376.8 161.4 377.1 161.7 377.5C162 377.8 162.2 378.2 162.4 378.6C162.5 379 162.6 379.5 162.6 380Z" fill="#ded000"/>
<path d="M160.8 380C160.8 380.2 160.8 380.4 160.7 380.6C160.6 380.8 160.5 380.9 160.4 381.1C160.3 381.2 160.2 381.3 160 381.4C159.8 381.5 159.7 381.5 159.5 381.5C159.3 381.5 159.2 381.5 159 381.4C158.8 381.3 158.7 381.2 158.6 381.1C158.5 380.9 158.4 380.8 158.3 380.6C158.2 380.4 158.2 380.2 158.2 380C158.2 379.8 158.2 379.6 158.3 379.4C158.4 379.2 158.5 379.1 158.6 378.9C158.7 378.8 158.8 378.7 159 378.6C159.2 378.5 159.3 378.5 159.5 378.5C159.7 378.5 159.8 378.5 160 378.6C160.2 378.7 160.3 378.8 160.4 378.9C160.5 379.1 160.6 379.2 160.7 379.4C160.8 379.6 160.8 379.8 160.8 380Z" fill="#fd8500"/>
<path d="M154.3 380C154.3 380.9 154.2 381.9 154.1 382.7C153.9 383.6 153.7 384.4 153.4 385.1C153.1 385.7 152.8 386.3 152.4 386.6C152.1 387 151.7 387.1 151.3 387.1C150.9 387.1 150.5 387 150.2 386.6C149.8 386.3 149.5 385.7 149.2 385.1C148.9 384.4 148.7 383.6 148.5 382.7C148.4 381.9 148.3 380.9 148.3 380C148.3 379.1 148.4 378.1 148.5 377.3C148.7 376.4 148.9 375.6 149.2 374.9C149.5 374.3 149.8 373.7 150.2 373.4C150.5 373 150.9 372.9 151.3 372.9C151.7 372.9 152.1 373 152.4 373.4C152.8 373.7 153.1 374.3 153.4 374.9C153.7 375.6 153.9 376.4 154.1 377.3C154.2 378.1 154.3 379.1 154.3 380Z" fill="#62ff2b"/>
<path d="M154 380C154 380.8 153.9 381.7 153.8 382.5C153.7 383.2 153.4 384 153.2 384.6C153 385.1 152.6 385.6 152.3 385.9C152 386.3 151.6 386.4 151.3 386.4C151 386.4 150.6 386.3 150.3 385.9C150 385.6 149.6 385.1 149.4 384.6C149.2 384 148.9 383.2 148.8 382.5C148.7 381.7 148.6 380.8 148.6 380C148.6 379.2 148.7 378.3 148.8 377.5C148.9 376.8 149.2 376 149.4 375.4C149.6 374.9 150 374.4 150.3 374.1C150.6 373.7 151 373.6 151.3 373.6C151.6 373.6 152 373.7 152.3 374.1C152.6 374.4 153 374.9 153.2 375.4C153.4 376 153.7 376.8 153.8 377.5C153.9 378.3 154 379.2 154 380Z" fill="#c1fb00"/>
<path d="M153.4 380C153.4 380.7 153.4 381.4 153.3 382C153.2 382.6 153 383.2 152.8 383.6C152.6 384.1 152.4 384.5 152.1 384.7C151.9 385 151.6 385.1 151.3 385.1C151 385.1 150.7 385 150.5 384.7C150.2 384.5 150 384.1 149.8 383.6C149.6 383.2 149.4 382.6 149.3 382C149.2 381.4 149.2 380.7 149.2 380C149.2 379.3 149.2 378.6 149.3 378C149.4 377.4 149.6 376.8 149.8 376.4C150 375.9 150.2 375.5 150.5 375.3C150.7 375 151 374.9 151.3 374.9C151.6 374.9 151.9 375 152.1 375.3C152.4 375.5 152.6 375.9 152.8 376.4C153 376.8 153.2 377.4 153.3 378C153.4 378.6 153.4 379.3 153.4 380Z" fill="#edba00"/>
<path d="M152.7 380C152.7 380.4 152.7 380.9 152.6 381.3C152.6 381.7 152.4 382.1 152.3 382.4C152.2 382.7 152 383 151.8 383.2C151.7 383.3 151.5 383.4 151.3 383.4C151.1 383.4 150.9 383.3 150.8 383.2C150.6 383 150.4 382.7 150.3 382.4C150.2 382.1 150 381.7 150 381.3C149.9 380.9 149.9 380.4 149.9 380C149.9 379.6 149.9 379.1 150 378.7C150 378.3 150.2 377.9 150.3 377.6C150.4 377.3 150.6 377 150.8 376.8C150.9 376.7 151.1 376.6 151.3 376.6C151.5 376.6 151.7 376.7 151.8 376.8C152 377 152.2 377.3 152.3 377.6C152.4 377.9 152.6 378.3 152.6 378.7C152.7 379.1 152.7 379.6 152.7 380Z" fill="#fb6400"/>
<path d="M151.9 380C151.9 380.2 151.9 380.4 151.9 380.5C151.8 380.7 151.8 380.9 151.7 381C151.7 381.1 151.6 381.3 151.5 381.3C151.5 381.4 151.4 381.4 151.3 381.4C151.2 381.4 151.1 381.4 151.1 381.3C151 381.3 150.9 381.1 150.9 381C150.8 380.9 150.8 380.7 150.7 380.5C150.7 380.4 150.7 380.2 150.7 380C150.7 379.8 150.7 379.6 150.7 379.5C150.8 379.3 150.8 379.1 150.9 379C150.9 378.9 151 378.7 151.1 378.7C151.1 378.6 151.2 378.6 151.3 378.6C151.4 378.6 151.5 378.6 151.5 378.7C151.6 378.7 151.7 378.9 151.7 379C151.8 379.1 151.8 379.3 151.9 379.5C151.9 379.6 151.9 379.8 151.9 380Z" fill="#f50000"/>
<path d="M166.2 387.8C166.2 388 166.2 388.2 166.1 388.4C166 388.6 165.9 388.8 165.7 388.9C165.6 389.1 165.4 389.2 165.2 389.3C165 389.4 164.8 389.4 164.6 389.4C164.4 389.4 164.2 389.4 164 389.3C163.8 389.2 163.6 389.1 163.5 388.9C163.3 388.8 163.2 388.6 163.1 388.4C163 388.2 163 388 163 387.8C163 387.6 163 387.4 163.1 387.2C163.2 387 163.3 386.8 163.5 386.7C163.6 386.5 163.8 386.4 164 386.3C164.2 386.2 164.4 386.2 164.6 386.2C164.8 386.2 165 386.2 165.2 386.3C165.4 386.4 165.6 386.5 165.7 386.7C165.9 386.8 166 387 166.1 387.2C166.2 387.4 166.2 387.6 166.2 387.8Z" fill="#0ef67f"/>
<path d="M166 387.8C166 388 165.9 388.2 165.9 388.3C165.8 388.5 165.7 388.6 165.6 388.8C165.4 388.9 165.3 389 165.1 389.1C165 389.1 164.8 389.2 164.6 389.2C164.4 389.2 164.2 389.1 164.1 389.1C163.9 389 163.8 388.9 163.6 388.8C163.5 388.6 163.4 388.5 163.3 388.3C163.3 388.2 163.2 388 163.2 387.8C163.2 387.6 163.3 387.4 163.3 387.3C163.4 387.1 163.5 387 163.6 386.8C163.8 386.7 163.9 386.6 164.1 386.5C164.2 386.5 164.4 386.4 164.6 386.4C164.8 386.4 165 386.5 165.1 386.5C165.3 386.6 165.4 386.7 165.6 386.8C165.7 387 165.8 387.1 165.9 387.3C165.9 387.4 166 387.6 166 387.8Z" fill="#37ff40"/>
<path d="M165.5 387.8C165.5 387.9 165.5 388 165.4 388.1C165.4 388.3 165.3 388.4 165.2 388.4C165.2 388.5 165.1 388.6 164.9 388.6C164.8 388.7 164.7 388.7 164.6 388.7C164.5 388.7 164.4 388.7 164.3 388.6C164.1 388.6 164 388.5 164 388.4C163.9 388.4 163.8 388.3 163.8 388.1C163.7 388 163.7 387.9 163.7 387.8C163.7 387.7 163.7 387.6 163.8 387.5C163.8 387.3 163.9 387.2 164 387.2C164 387.1 164.1 387 164.3 387C164.4 386.9 164.5 386.9 164.6 386.9C164.7 386.9 164.8 386.9 164.9 387C165.1 387 165.2 387.1 165.2 387.2C165.3 387.2 165.4 387.3 165.4 387.5C165.5 387.6 165.5 387.7 165.5 387.8Z" fill="#8eff17"/>
<path d="M164.9 387.8C164.9 387.8 164.9 387.9 164.9 387.9C164.9 388 164.9 388 164.8 388C164.8 388.1 164.8 388.1 164.7 388.1C164.7 388.1 164.6 388.1 164.6 388.1C164.6 388.1 164.5 388.1 164.5 388.1C164.4 388.1 164.4 388.1 164.4 388C164.3 388 164.3 388 164.3 387.9C164.3 387.9 164.3 387.8 164.3 387.8C164.3 387.8 164.3 387.7 164.3 387.7C164.3 387.6 164.3 387.6 164.4 387.6C164.4 387.5 164.4 387.5 164.5 387.5C164.5 387.5 164.6 387.5 164.6 387.5C164.6 387.5 164.7 387.5 164.7 387.5C164.8 387.5 164.8 387.5 164.8 387.6C164.9 387.6 164.9 387.6 164.9 387.7C164.9 387.7 164.9 387.8 164.9 387.8Z" fill="#d0e500"/>
<path d="M173.1 371C173.1 371.3 173 371.7 172.9 372C172.8 372.3 172.6 372.5 172.4 372.8C172.1 373 171.9 373.2 171.6 373.3C171.3 373.4 170.9 373.5 170.6 373.5C170.3 373.5 169.9 373.4 169.6 373.3C169.3 373.2 169.1 373 168.8 372.8C168.6 372.5 168.4 372.3 168.3 372C168.2 371.7 168.1 371.3 168.1 371C168.1 370.7 168.2 370.3 168.3 370C168.4 369.7 168.6 369.5 168.8 369.2C169.1 369 169.3 368.8 169.6 368.7C169.9 368.6 170.3 368.5 170.6 368.5C170.9 368.5 171.3 368.6 171.6 368.7C171.9 368.8 172.1 369 172.4 369.2C172.6 369.5 172.8 369.7 172.9 370C173 370.3 173.1 370.7 173.1 371Z" fill="#00e1f5"/>
<path d="M172.4 371C172.4 371.2 172.4 371.5 172.3 371.7C172.2 371.9 172.1 372.1 171.9 372.3C171.7 372.5 171.5 372.6 171.3 372.7C171.1 372.8 170.8 372.8 170.6 372.8C170.4 372.8 170.1 372.8 169.9 372.7C169.7 372.6 169.5 372.5 169.3 372.3C169.1 372.1 169 371.9 168.9 371.7C168.8 371.5 168.8 371.2 168.8 371C168.8 370.8 168.8 370.5 168.9 370.3C169 370.1 169.1 369.9 169.3 369.7C169.5 369.5 169.7 369.4 169.9 369.3C170.1 369.2 170.4 369.2 170.6 369.2C170.8 369.2 171.1 369.2 171.3 369.3C171.5 369.4 171.7 369.5 171.9 369.7C172.1 369.9 172.2 370.1 172.3 370.3C172.4 370.5 172.4 370.8 172.4 371Z" fill="#0bf19d"/>
<path d="M172 371C172 371.2 171.9 371.4 171.8 371.5C171.8 371.7 171.7 371.8 171.6 372C171.4 372.1 171.3 372.2 171.1 372.2C171 372.3 170.8 372.4 170.6 372.4C170.4 372.4 170.2 372.3 170.1 372.2C169.9 372.2 169.8 372.1 169.6 372C169.5 371.8 169.4 371.7 169.4 371.5C169.3 371.4 169.2 371.2 169.2 371C169.2 370.8 169.3 370.6 169.4 370.5C169.4 370.3 169.5 370.2 169.6 370C169.8 369.9 169.9 369.8 170.1 369.8C170.2 369.7 170.4 369.6 170.6 369.6C170.8 369.6 171 369.7 171.1 369.8C171.3 369.8 171.4 369.9 171.6 370C171.7 370.2 171.8 370.3 171.8 370.5C171.9 370.6 172 370.8 172 371Z" fill="#21ff4a"/>
<path d="M171.5 371C171.5 371.1 171.5 371.2 171.4 371.3C171.4 371.5 171.3 371.6 171.2 371.6C171.2 371.7 171.1 371.8 170.9 371.8C170.8 371.9 170.7 371.9 170.6 371.9C170.5 371.9 170.4 371.9 170.3 371.8C170.1 371.8 170 371.7 170 371.6C169.9 371.6 169.8 371.5 169.8 371.3C169.7 371.2 169.7 371.1 169.7 371C169.7 370.9 169.7 370.8 169.8 370.7C169.8 370.5 169.9 370.4 170 370.4C170 370.3 170.1 370.2 170.3 370.2C170.4 370.1 170.5 370.1 170.6 370.1C170.7 370.1 170.8 370.1 170.9 370.2C171.1 370.2 171.2 370.3 171.2 370.4C171.3 370.4 171.4 370.5 171.4 370.7C171.5 370.8 171.5 370.9 171.5 371Z" fill="#83ff1c"/>
<path d="M171.1 371C171.1 371.1 171.1 371.1 171.1 371.2C171 371.3 171 371.3 171 371.4C170.9 371.4 170.9 371.4 170.8 371.5C170.7 371.5 170.7 371.5 170.6 371.5C170.5 371.5 170.5 371.5 170.4 371.5C170.3 371.4 170.3 371.4 170.2 371.4C170.2 371.3 170.2 371.3 170.1 371.2C170.1 371.1 170.1 371.1 170.1 371C170.1 370.9 170.1 370.9 170.1 370.8C170.2 370.7 170.2 370.7 170.2 370.6C170.3 370.6 170.3 370.6 170.4 370.5C170.5 370.5 170.5 370.5 170.6 370.5C170.7 370.5 170.7 370.5 170.8 370.5C170.9 370.6 170.9 370.6 171 370.6C171 370.7 171 370.7 171.1 370.8C171.1 370.9 171.1 370.9 171.1 371Z" fill="#d0e500"/>
<path d="M169.2 405.7C169.2 406 169.1 406.3 168.7 406.6C168.3 406.8 167.8 407.1 167.1 407.3C166.5 407.5 165.6 407.7 164.8 407.8C163.9 407.9 162.9 407.9 162 407.9C161.1 407.9 160.1 407.9 159.2 407.8C158.4 407.7 157.5 407.5 156.9 407.3C156.2 407.1 155.7 406.8 155.3 406.6C154.9 406.3 154.8 406 154.8 405.7C154.8 405.4 154.9 405.1 155.3 404.8C155.7 404.6 156.2 404.3 156.9 404.1C157.5 403.9 158.4 403.7 159.2 403.6C160.1 403.5 161.1 403.4 162 403.4C162.9 403.4 163.9 403.5 164.8 403.6C165.6 403.7 166.5 403.9 167.1 404.1C167.8 404.3 168.3 404.6 168.7 404.8C169.1 405.1 169.2 405.4 169.2 405.7Z" fill="#0ef67f"/>
<path d="M168.9 405.7C168.9 406 168.7 406.3 168.3 406.5C168 406.8 167.5 407 166.8 407.2C166.2 407.4 165.4 407.6 164.6 407.7C163.8 407.8 162.9 407.8 162 407.8C161.1 407.8 160.2 407.8 159.4 407.7C158.6 407.6 157.8 407.4 157.2 407.2C156.5 407 156 406.8 155.7 406.5C155.3 406.3 155.1 406 155.1 405.7C155.1 405.4 155.3 405.1 155.7 404.9C156 404.6 156.5 404.4 157.2 404.2C157.8 404 158.6 403.8 159.4 403.7C160.2 403.6 161.1 403.6 162 403.6C162.9 403.6 163.8 403.6 164.6 403.7C165.4 403.8 166.2 404 166.8 404.2C167.5 404.4 168 404.6 168.3 404.9C168.7 405.1 168.9 405.4 168.9 405.7Z" fill="#37ff40"/>
<path d="M168.1 405.7C168.1 405.9 168 406.2 167.7 406.4C167.4 406.7 166.9 406.9 166.3 407C165.8 407.2 165.1 407.4 164.3 407.5C163.6 407.6 162.8 407.6 162 407.6C161.2 407.6 160.4 407.6 159.7 407.5C158.9 407.4 158.2 407.2 157.7 407C157.1 406.9 156.6 406.7 156.3 406.4C156 406.2 155.9 405.9 155.9 405.7C155.9 405.5 156 405.2 156.3 405C156.6 404.7 157.1 404.5 157.7 404.4C158.2 404.2 158.9 404 159.7 403.9C160.4 403.8 161.2 403.8 162 403.8C162.8 403.8 163.6 403.8 164.3 403.9C165.1 404 165.8 404.2 166.3 404.4C166.9 404.5 167.4 404.7 167.7 405C168 405.2 168.1 405.5 168.1 405.7Z" fill="#8eff17"/>
<path d="M167.2 405.7C167.2 405.9 167.1 406.1 166.8 406.3C166.5 406.5 166.1 406.7 165.7 406.8C165.2 407 164.6 407.1 164 407.2C163.4 407.3 162.7 407.3 162 407.3C161.3 407.3 160.6 407.3 160 407.2C159.4 407.1 158.8 407 158.3 406.8C157.9 406.7 157.5 406.5 157.2 406.3C156.9 406.1 156.8 405.9 156.8 405.7C156.8 405.5 156.9 405.3 157.2 405.1C157.5 404.9 157.9 404.7 158.3 404.6C158.8 404.4 159.4 404.3 160 404.2C160.6 404.1 161.3 404.1 162 404.1C162.7 404.1 163.4 404.1 164 404.2C164.6 404.3 165.2 404.4 165.7 404.6C166.1 404.7 166.5 404.9 166.8 405.1C167.1 405.3 167.2 405.5 167.2 405.7Z" fill="#d0e500"/>
<path d="M166.1 405.7C166.1 405.9 166 406 165.8 406.2C165.6 406.3 165.3 406.5 164.9 406.6C164.5 406.7 164 406.8 163.6 406.9C163.1 406.9 162.5 407 162 407C161.5 407 160.9 406.9 160.4 406.9C160 406.8 159.5 406.7 159.1 406.6C158.7 406.5 158.4 406.3 158.2 406.2C158 406 157.9 405.9 157.9 405.7C157.9 405.5 158 405.4 158.2 405.2C158.4 405.1 158.7 404.9 159.1 404.8C159.5 404.7 160 404.6 160.4 404.5C160.9 404.5 161.5 404.4 162 404.4C162.5 404.4 163.1 404.5 163.6 404.5C164 404.6 164.5 404.7 164.9 404.8C165.3 404.9 165.6 405.1 165.8 405.2C166 405.4 166.1 405.5 166.1 405.7Z" fill="#f7ac00"/>
<path d="M164.8 405.7C164.8 405.8 164.8 405.9 164.6 406C164.5 406.1 164.3 406.2 164 406.3C163.8 406.4 163.4 406.5 163.1 406.5C162.8 406.6 162.4 406.6 162 406.6C161.6 406.6 161.2 406.6 160.9 406.5C160.6 406.5 160.2 406.4 160 406.3C159.7 406.2 159.5 406.1 159.4 406C159.2 405.9 159.2 405.8 159.2 405.7C159.2 405.6 159.2 405.5 159.4 405.4C159.5 405.3 159.7 405.2 160 405.1C160.2 405 160.6 404.9 160.9 404.9C161.2 404.8 161.6 404.8 162 404.8C162.4 404.8 162.8 404.8 163.1 404.9C163.4 404.9 163.8 405 164 405.1C164.3 405.2 164.5 405.3 164.6 405.4C164.8 405.5 164.8 405.6 164.8 405.7Z" fill="#fb5900"/>
<path d="M163.4 405.7C163.4 405.8 163.4 405.8 163.3 405.9C163.3 405.9 163.2 406 163 406C162.9 406.1 162.7 406.1 162.6 406.1C162.4 406.1 162.2 406.1 162 406.1C161.8 406.1 161.6 406.1 161.4 406.1C161.3 406.1 161.1 406.1 161 406C160.8 406 160.7 405.9 160.7 405.9C160.6 405.8 160.6 405.8 160.6 405.7C160.6 405.6 160.6 405.6 160.7 405.5C160.7 405.5 160.8 405.4 161 405.4C161.1 405.3 161.3 405.3 161.4 405.3C161.6 405.3 161.8 405.2 162 405.2C162.2 405.2 162.4 405.3 162.6 405.3C162.7 405.3 162.9 405.3 163 405.4C163.2 405.4 163.3 405.5 163.3 405.5C163.4 405.6 163.4 405.6 163.4 405.7Z" fill="#f50000"/>
<path d="M162.6 361.6C162.6 361.7 162.6 361.9 162.5 362C162.5 362.1 162.4 362.2 162.3 362.3C162.2 362.4 162.1 362.5 162 362.5C161.9 362.6 161.7 362.6 161.6 362.6C161.5 362.6 161.3 362.6 161.2 362.5C161.1 362.5 161 362.4 160.9 362.3C160.8 362.2 160.7 362.1 160.7 362C160.6 361.9 160.6 361.7 160.6 361.6C160.6 361.5 160.6 361.3 160.7 361.2C160.7 361.1 160.8 361 160.9 360.9C161 360.8 161.1 360.7 161.2 360.7C161.3 360.6 161.5 360.6 161.6 360.6C161.7 360.6 161.9 360.6 162 360.7C162.1 360.7 162.2 360.8 162.3 360.9C162.4 361 162.5 361.1 162.5 361.2C162.6 361.3 162.6 361.5 162.6 361.6Z" fill="#0a0aeb"/>
<path d="M161.8 361.6C161.8 361.6 161.8 361.7 161.8 361.7C161.8 361.7 161.8 361.7 161.7 361.7C161.7 361.8 161.7 361.8 161.7 361.8C161.7 361.8 161.6 361.8 161.6 361.8C161.6 361.8 161.5 361.8 161.5 361.8C161.5 361.8 161.5 361.8 161.5 361.7C161.4 361.7 161.4 361.7 161.4 361.7C161.4 361.7 161.4 361.6 161.4 361.6C161.4 361.6 161.4 361.5 161.4 361.5C161.4 361.5 161.4 361.5 161.5 361.5C161.5 361.4 161.5 361.4 161.5 361.4C161.5 361.4 161.6 361.4 161.6 361.4C161.6 361.4 161.7 361.4 161.7 361.4C161.7 361.4 161.7 361.4 161.7 361.5C161.8 361.5 161.8 361.5 161.8 361.5C161.8 361.5 161.8 361.6 161.8 361.6Z" fill="#0712f1"/>
<path d="M179.4 360.3C179.4 360.5 179.4 360.7 179.3 360.8C179.3 361 179.2 361.2 179.1 361.3C179 361.4 178.9 361.5 178.7 361.6C178.6 361.7 178.4 361.7 178.3 361.7C178.2 361.7 178 361.7 177.9 361.6C177.7 361.5 177.6 361.4 177.5 361.3C177.4 361.2 177.3 361 177.3 360.8C177.2 360.7 177.2 360.5 177.2 360.3C177.2 360.1 177.2 359.9 177.3 359.8C177.3 359.6 177.4 359.4 177.5 359.3C177.6 359.2 177.7 359.1 177.9 359C178 358.9 178.2 358.9 178.3 358.9C178.4 358.9 178.6 358.9 178.7 359C178.9 359.1 179 359.2 179.1 359.3C179.2 359.4 179.3 359.6 179.3 359.8C179.4 359.9 179.4 360.1 179.4 360.3Z" fill="#0a0aeb"/>
<path d="M178.5 360.3C178.5 360.3 178.5 360.4 178.5 360.4C178.5 360.4 178.5 360.5 178.5 360.5C178.4 360.5 178.4 360.5 178.4 360.6C178.4 360.6 178.3 360.6 178.3 360.6C178.3 360.6 178.2 360.6 178.2 360.6C178.2 360.5 178.2 360.5 178.1 360.5C178.1 360.5 178.1 360.4 178.1 360.4C178.1 360.4 178.1 360.3 178.1 360.3C178.1 360.3 178.1 360.2 178.1 360.2C178.1 360.2 178.1 360.1 178.1 360.1C178.2 360.1 178.2 360.1 178.2 360C178.2 360 178.3 360 178.3 360C178.3 360 178.4 360 178.4 360C178.4 360.1 178.4 360.1 178.5 360.1C178.5 360.1 178.5 360.2 178.5 360.2C178.5 360.2 178.5 360.3 178.5 360.3Z" fill="#0712f1"/>
<ellipse cx="156.4" cy="399.8" rx="1.8" ry="1.2" fill="#fff"/>
</g></g>
<path d="M163.2 367.4L168.3 356.9L178.4 352.3L188.5 352.3L191.5 364.4L188.5 375.5L181.4 380.5L172.3 377.1L163.8 372.5Z" fill="none" stroke="#111" stroke-width="0.9"/>
<text transform="translate(194.5 343.6)" font-size="7.6" text-anchor="middle" dy="2.7">15</text>
<rect x="241.2" y="336.1" width="69.6" height="69.5" fill="none" stroke="#111" stroke-width="0.9"/>
<text transform="translate(235.4 343.7) scale(0.86 1)" font-size="8.6" text-anchor="end" dy="3.05">10<tspan font-size="6.19" dy="-3.44">5</tspan></text>
<text transform="translate(235.4 359.4) scale(0.86 1)" font-size="8.6" text-anchor="end" dy="3.05">10<tspan font-size="6.19" dy="-3.44">4</tspan></text>
<text transform="translate(235.4 375.1) scale(0.86 1)" font-size="8.6" text-anchor="end" dy="3.05">10<tspan font-size="6.19" dy="-3.44">3</tspan></text>
<text transform="translate(235.4 390.9) scale(0.86 1)" font-size="8.6" text-anchor="end" dy="3.05">10<tspan font-size="6.19" dy="-3.44">2</tspan></text>
<text transform="translate(235.6 399.7) scale(0.86 1)" font-size="8.6" text-anchor="end" dy="3.05">0</text>
<path d="M238.9 343.7H241.2M238.9 359.4H241.2M238.9 375.1H241.2M238.9 390.9H241.2M238.9 399.1H241.2M239.9 354.7H241.2M239.9 351.9H241.2M239.9 349.9H241.2M239.9 348.4H241.2M239.9 347.2H241.2M239.9 346.1H241.2M239.9 345.2H241.2M239.9 344.4H241.2M239.9 370.4H241.2M239.9 367.6H241.2M239.9 365.6H241.2M239.9 364.1H241.2M239.9 362.9H241.2M239.9 361.8H241.2M239.9 360.9H241.2M239.9 360.1H241.2M239.9 386.1H241.2M239.9 383.3H241.2M239.9 381.3H241.2M239.9 379.8H241.2M239.9 378.6H241.2M239.9 377.5H241.2M239.9 376.6H241.2M239.9 375.8H241.2M239.9 394.1H241.2M239.9 396.6H241.2M239.9 402.1H241.2M239.9 404.1H241.2M253.1 405.6V407.9M258.1 405.6V406.9M261 405.6V406.9M263 405.6V406.9M264.6 405.6V406.9M265.9 405.6V406.9M267 405.6V406.9M268 405.6V406.9M268.8 405.6V406.9M270.3 405.6V407.9M275.3 405.6V406.9M278.2 405.6V406.9M280.2 405.6V406.9M281.8 405.6V406.9M283.1 405.6V406.9M284.2 405.6V406.9M285.2 405.6V406.9M286 405.6V406.9M287.1 405.6V407.9M292.1 405.6V406.9M295 405.6V406.9M297 405.6V406.9M298.6 405.6V406.9M299.9 405.6V406.9M301 405.6V406.9M302 405.6V406.9M302.8 405.6V406.9M303.1 405.6V407.9M308.1 405.6V406.9M243.2 405.6V406.9M245.2 405.6V406.9M247.7 405.6V406.9M249.2 405.6V406.9" stroke="#111" stroke-width="0.75" fill="none"/>
<text transform="translate(248.4 415.4) scale(0.86 1)" font-size="8.6" text-anchor="middle" dy="3.05">0</text>
<text transform="translate(256.1 415.4) scale(0.86 1)" font-size="8.6" text-anchor="middle" dy="3.05">10<tspan font-size="6.19" dy="-3.44">2</tspan></text>
<text transform="translate(273.3 415.4) scale(0.86 1)" font-size="8.6" text-anchor="middle" dy="3.05">10<tspan font-size="6.19" dy="-3.44">3</tspan></text>
<text transform="translate(290.1 415.4) scale(0.86 1)" font-size="8.6" text-anchor="middle" dy="3.05">10<tspan font-size="6.19" dy="-3.44">4</tspan></text>
<text transform="translate(306.1 415.4) scale(0.86 1)" font-size="8.6" text-anchor="middle" dy="3.05">10<tspan font-size="6.19" dy="-3.44">5</tspan></text>
<g clip-path="url(#c13)"><g filter="url(#bl)">
<path d="M240.5 359.9C241.3 352.7 243.8 362.3 245.2 362.9C246.5 363.5 247.3 363.7 248.6 363.7C249.9 363.7 251.2 363.5 252.9 362.9C254.6 362.3 256.8 361.2 258.9 360.3C261 359.4 263.6 358.4 265.8 357.7C268 357 270.6 356.4 271.8 356.4C273 356.4 273.1 356.3 273 357.7C272.9 359.1 271.8 362.3 270.9 364.6C270 366.9 268.6 369.5 267.5 371.5C266.4 373.5 264.9 374.8 264 376.6C263.1 378.5 262.4 380.5 261.9 382.6C261.4 384.8 261.2 387.2 261 389.5C260.8 391.8 260.5 394.4 260.6 396.4C260.7 398.4 261.1 399.9 261.5 401.5C261.9 403.1 266.7 405.2 263.2 406C259.7 406.8 244.3 413.7 240.5 406C236.7 398.3 239.7 367.1 240.5 359.9Z" fill="#0a0aeb"/>
<path d="M241.4 361.6C242.1 355 244.5 363.8 245.7 364.4C247 365 247.7 365.1 248.9 365.1C250 365.1 251.2 364.9 252.8 364.4C254.4 363.9 256.4 362.8 258.4 362C260.4 361.2 262.8 360.2 264.8 359.6C266.8 359 269.2 358.4 270.3 358.4C271.4 358.4 271.6 358.3 271.4 359.6C271.3 360.9 270.3 363.9 269.5 366C268.6 368.1 267.4 370.5 266.3 372.4C265.3 374.2 264 375.4 263.1 377.1C262.2 378.8 261.6 380.6 261.2 382.6C260.7 384.6 260.5 386.9 260.3 389C260.1 391.1 259.9 393.5 260 395.4C260 397.2 260.4 398.6 260.8 400.1C261.2 401.6 265.6 403.6 262.4 404.3C259.1 405 244.9 411.4 241.4 404.3C237.9 397.2 240.6 368.3 241.4 361.6Z" fill="#0617f4"/>
<path d="M242.2 363.4C242.9 357.3 245.1 365.4 246.2 365.9C247.4 366.5 248 366.6 249.1 366.6C250.2 366.6 251.3 366.4 252.8 365.9C254.2 365.4 256 364.4 257.9 363.7C259.7 363 261.9 362 263.7 361.5C265.6 360.9 267.8 360.4 268.8 360.4C269.8 360.4 270 360.3 269.9 361.5C269.7 362.7 268.8 365.4 268.1 367.4C267.3 369.3 266.2 371.5 265.2 373.2C264.2 374.9 263 376 262.2 377.6C261.4 379.1 260.8 380.8 260.4 382.7C260 384.5 259.8 386.6 259.6 388.5C259.5 390.5 259.2 392.7 259.3 394.4C259.4 396.1 259.7 397.4 260.1 398.7C260.4 400.1 264.5 401.9 261.5 402.6C258.5 403.2 245.4 409.1 242.2 402.6C239 396 241.6 369.5 242.2 363.4Z" fill="#0125fd"/>
<path d="M243.1 365.1C243.7 359.5 245.7 366.9 246.7 367.4C247.8 367.9 248.4 368 249.4 368C250.4 368 251.4 367.9 252.7 367.4C254 367 255.7 366.1 257.3 365.4C259 364.7 261 363.9 262.7 363.4C264.4 362.9 266.4 362.4 267.3 362.4C268.3 362.4 268.4 362.3 268.3 363.4C268.2 364.5 267.4 367 266.6 368.7C265.9 370.5 264.9 372.5 264 374.1C263.1 375.6 262 376.6 261.3 378C260.6 379.5 260.1 381 259.7 382.7C259.3 384.4 259.1 386.3 259 388C258.8 389.8 258.6 391.8 258.7 393.4C258.7 394.9 259 396.1 259.4 397.3C259.7 398.6 263.4 400.2 260.7 400.8C258 401.4 246 406.8 243.1 400.8C240.2 394.9 242.5 370.7 243.1 365.1Z" fill="#0049ff"/>
<path d="M243.9 366.8C244.5 361.8 246.3 368.5 247.2 368.9C248.2 369.4 248.7 369.5 249.6 369.5C250.5 369.5 251.4 369.3 252.6 368.9C253.8 368.5 255.3 367.7 256.8 367.1C258.3 366.5 260.2 365.7 261.7 365.3C263.2 364.8 265 364.4 265.9 364.4C266.7 364.4 266.8 364.3 266.7 365.3C266.6 366.2 265.9 368.5 265.2 370.1C264.6 371.7 263.7 373.5 262.9 374.9C262 376.4 261.1 377.2 260.4 378.5C259.7 379.8 259.3 381.2 258.9 382.7C258.6 384.2 258.5 385.9 258.3 387.6C258.1 389.2 258 391 258 392.4C258.1 393.8 258.3 394.8 258.6 395.9C259 397.1 262.3 398.6 259.8 399.1C257.4 399.6 246.6 404.5 243.9 399.1C241.3 393.7 243.4 371.9 243.9 366.8Z" fill="#0076ff"/>
<path d="M249 367C250 365.4 253.5 366.8 256 366C258.5 365.2 261.7 363.1 264 362C266.3 360.9 269.3 358.8 270 359.5C270.7 360.2 269.3 363.8 268 366C266.7 368.2 264 371.2 262 373C260 374.8 258 376.6 256 377C254 377.4 251.2 377.2 250 375.5C248.8 373.8 248 368.6 249 367Z" fill="#0086ff"/>
<path d="M250.2 367.4C251 366 254.1 367.2 256.3 366.5C258.4 365.8 261.2 364 263.2 363C265.3 362.1 267.9 360.3 268.4 360.9C269 361.4 267.9 364.6 266.7 366.5C265.5 368.5 263.2 371 261.5 372.6C259.7 374.2 258 375.7 256.3 376.1C254.5 376.5 252.1 376.2 251 374.8C250 373.3 249.3 368.8 250.2 367.4Z" fill="#00affb"/>
<path d="M251.2 367.7C251.9 366.5 254.6 367.6 256.5 367C258.4 366.3 260.8 364.8 262.5 363.9C264.3 363.1 266.6 361.5 267.1 362C267.6 362.5 266.6 365.3 265.6 367C264.6 368.7 262.5 370.9 261 372.3C259.5 373.7 258 375 256.5 375.3C255 375.6 252.8 375.4 251.9 374.2C251.1 372.9 250.4 368.9 251.2 367.7Z" fill="#00d9f6"/>
<path d="M252.1 368C252.8 367 255.1 367.9 256.7 367.4C258.3 366.9 260.4 365.5 261.9 364.8C263.4 364.1 265.4 362.7 265.8 363.2C266.3 363.6 265.4 365.9 264.5 367.4C263.6 368.9 261.9 370.8 260.6 372C259.3 373.1 258 374.3 256.7 374.6C255.4 374.8 253.5 374.7 252.8 373.6C252 372.5 251.5 369.1 252.1 368Z" fill="#08edb4"/>
<path d="M253.1 368.4C253.6 367.5 255.5 368.3 256.9 367.8C258.3 367.3 260 366.2 261.3 365.6C262.6 365 264.2 363.9 264.6 364.2C265 364.6 264.2 366.6 263.5 367.8C262.8 369 261.3 370.6 260.2 371.6C259.1 372.7 258 373.6 256.9 373.8C255.8 374.1 254.3 373.9 253.6 373C253 372.1 252.5 369.2 253.1 368.4Z" fill="#12fb64"/>
<path d="M254 368.7C254.4 367.9 256 368.6 257.1 368.2C258.2 367.8 259.6 366.9 260.7 366.4C261.7 365.9 263.1 365 263.4 365.3C263.7 365.6 263.1 367.2 262.5 368.2C261.9 369.2 260.7 370.5 259.8 371.3C258.9 372.2 258 373 257.1 373.1C256.2 373.3 254.9 373.2 254.4 372.5C253.9 371.7 253.5 369.4 254 368.7Z" fill="#58ff30"/>
<path d="M254.8 368.9C255.2 368.4 256.4 368.9 257.3 368.6C258.2 368.3 259.3 367.6 260.1 367.2C260.9 366.8 262 366.1 262.2 366.3C262.4 366.6 262 367.8 261.5 368.6C261 369.4 260.1 370.4 259.4 371.1C258.7 371.7 258 372.3 257.3 372.4C256.6 372.6 255.6 372.5 255.2 371.9C254.8 371.3 254.5 369.5 254.8 368.9Z" fill="#b1ff06"/>
<path d="M240.5 366C241.8 361.3 245.4 368 248 370C250.6 372 254.2 375.5 256 378C257.8 380.5 258.6 382.2 259 385C259.4 387.8 259.2 392.7 258.5 395C257.8 397.3 256.8 398.3 255 399C253.2 399.7 250.4 399.2 248 399C245.6 398.8 241.8 403.5 240.5 398C239.2 392.5 239.2 370.7 240.5 366Z" fill="#0086ff"/>
<path d="M241.3 368.2C242.4 364.1 245.6 369.9 247.9 371.7C250.1 373.4 253.2 376.5 254.8 378.6C256.4 380.8 257.1 382.3 257.4 384.7C257.8 387.2 257.6 391.4 257 393.4C256.4 395.5 255.5 396.3 254 396.9C252.4 397.5 250 397.1 247.9 396.9C245.8 396.8 242.4 400.8 241.3 396.1C240.3 391.3 240.3 372.3 241.3 368.2Z" fill="#00affb"/>
<path d="M242.1 370.1C243 366.6 245.8 371.6 247.8 373.1C249.7 374.7 252.4 377.3 253.8 379.2C255.2 381.1 255.8 382.4 256.1 384.5C256.4 386.7 256.2 390.3 255.7 392.1C255.2 393.9 254.4 394.6 253.1 395.1C251.7 395.6 249.6 395.3 247.8 395.1C245.9 395 243 398.5 242.1 394.4C241.1 390.2 241.1 373.6 242.1 370.1Z" fill="#00d9f6"/>
<path d="M242.8 371.9C243.6 368.9 246 373.2 247.7 374.5C249.3 375.8 251.7 378.1 252.9 379.7C254.1 381.4 254.5 382.5 254.8 384.3C255.1 386.1 254.9 389.3 254.5 390.8C254.1 392.3 253.4 393 252.2 393.4C251.1 393.9 249.2 393.5 247.7 393.4C246.1 393.3 243.6 396.4 242.8 392.8C241.9 389.2 241.9 375 242.8 371.9Z" fill="#08edb4"/>
<path d="M243.4 373.7C244.1 371.1 246.1 374.8 247.5 375.9C249 377 250.9 378.9 251.9 380.3C252.9 381.6 253.4 382.5 253.6 384.1C253.8 385.7 253.7 388.3 253.3 389.6C252.9 390.9 252.4 391.4 251.4 391.8C250.4 392.1 248.9 391.9 247.5 391.8C246.2 391.7 244.1 394.2 243.4 391.2C242.7 388.2 242.7 376.2 243.4 373.7Z" fill="#12fb64"/>
<path d="M244.1 375.4C244.6 373.3 246.3 376.3 247.4 377.2C248.6 378.1 250.2 379.6 251 380.8C251.9 381.9 252.2 382.6 252.4 383.9C252.6 385.2 252.5 387.3 252.2 388.4C251.9 389.4 251.4 389.9 250.6 390.2C249.8 390.5 248.5 390.2 247.4 390.2C246.4 390.1 244.6 392.2 244.1 389.7C243.5 387.3 243.5 377.5 244.1 375.4Z" fill="#58ff30"/>
<path d="M244.7 377.1C245.2 375.4 246.4 377.8 247.3 378.4C248.3 379.1 249.5 380.4 250.2 381.2C250.8 382.1 251.1 382.7 251.2 383.7C251.3 384.7 251.3 386.4 251 387.2C250.8 388 250.4 388.4 249.8 388.6C249.2 388.8 248.2 388.7 247.3 388.6C246.5 388.5 245.2 390.2 244.7 388.2C244.3 386.3 244.3 378.7 244.7 377.1Z" fill="#b1ff06"/>
<path d="M255.2 383C255.2 384.2 255.1 385.6 254.7 386.7C254.3 387.9 253.8 389 253.1 389.9C252.5 390.8 251.6 391.5 250.8 392C249.9 392.5 248.9 392.8 248 392.8C247.1 392.8 246.1 392.5 245.2 392C244.4 391.5 243.5 390.8 242.9 389.9C242.2 389 241.7 387.9 241.3 386.7C240.9 385.6 240.8 384.2 240.8 383C240.8 381.8 240.9 380.4 241.3 379.3C241.7 378.1 242.2 377 242.9 376.1C243.5 375.2 244.4 374.5 245.2 374C246.1 373.5 247.1 373.2 248 373.2C248.9 373.2 249.9 373.5 250.8 374C251.6 374.5 252.5 375.2 253.1 376.1C253.8 377 254.3 378.1 254.7 379.3C255.1 380.4 255.2 381.8 255.2 383Z" fill="#21ff4a"/>
<path d="M254.5 383C254.5 384.1 254.3 385.3 254 386.4C253.7 387.4 253.2 388.4 252.6 389.2C252 390 251.3 390.7 250.5 391.1C249.7 391.5 248.8 391.8 248 391.8C247.2 391.8 246.3 391.5 245.5 391.1C244.7 390.7 244 390 243.4 389.2C242.8 388.4 242.3 387.4 242 386.4C241.7 385.3 241.5 384.1 241.5 383C241.5 381.9 241.7 380.7 242 379.6C242.3 378.6 242.8 377.6 243.4 376.8C244 376 244.7 375.3 245.5 374.9C246.3 374.5 247.2 374.2 248 374.2C248.8 374.2 249.7 374.5 250.5 374.9C251.3 375.3 252 376 252.6 376.8C253.2 377.6 253.7 378.6 254 379.6C254.3 380.7 254.5 381.9 254.5 383Z" fill="#73ff23"/>
<path d="M253.2 383C253.2 383.9 253.1 384.9 252.8 385.7C252.5 386.5 252.1 387.3 251.7 387.9C251.2 388.6 250.6 389.1 250 389.5C249.4 389.8 248.7 390 248 390C247.3 390 246.6 389.8 246 389.5C245.4 389.1 244.8 388.6 244.3 387.9C243.9 387.3 243.5 386.5 243.2 385.7C242.9 384.9 242.8 383.9 242.8 383C242.8 382.1 242.9 381.1 243.2 380.3C243.5 379.5 243.9 378.7 244.3 378.1C244.8 377.4 245.4 376.9 246 376.5C246.6 376.2 247.3 376 248 376C248.7 376 249.4 376.2 250 376.5C250.6 376.9 251.2 377.4 251.7 378.1C252.1 378.7 252.5 379.5 252.8 380.3C253.1 381.1 253.2 382.1 253.2 383Z" fill="#c1fb00"/>
<path d="M251.5 383C251.5 383.6 251.4 384.2 251.2 384.8C251 385.3 250.8 385.9 250.5 386.3C250.1 386.7 249.7 387.1 249.3 387.3C248.9 387.6 248.4 387.7 248 387.7C247.6 387.7 247.1 387.6 246.7 387.3C246.3 387.1 245.9 386.7 245.5 386.3C245.2 385.9 245 385.3 244.8 384.8C244.6 384.2 244.5 383.6 244.5 383C244.5 382.4 244.6 381.8 244.8 381.2C245 380.7 245.2 380.1 245.5 379.7C245.9 379.3 246.3 378.9 246.7 378.7C247.1 378.4 247.6 378.3 248 378.3C248.4 378.3 248.9 378.4 249.3 378.7C249.7 378.9 250.1 379.3 250.5 379.7C250.8 380.1 251 380.7 251.2 381.2C251.4 381.8 251.5 382.4 251.5 383Z" fill="#e6c500"/>
<path d="M249.4 383C249.4 383.2 249.4 383.5 249.3 383.7C249.3 384 249.2 384.2 249 384.4C248.9 384.6 248.7 384.7 248.6 384.8C248.4 384.9 248.2 384.9 248 384.9C247.8 384.9 247.6 384.9 247.4 384.8C247.3 384.7 247.1 384.6 247 384.4C246.8 384.2 246.7 384 246.7 383.7C246.6 383.5 246.6 383.2 246.6 383C246.6 382.8 246.6 382.5 246.7 382.3C246.7 382 246.8 381.8 247 381.6C247.1 381.4 247.3 381.3 247.4 381.2C247.6 381.1 247.8 381.1 248 381.1C248.2 381.1 248.4 381.1 248.6 381.2C248.7 381.3 248.9 381.4 249 381.6C249.2 381.8 249.3 382 249.3 382.3C249.4 382.5 249.4 382.8 249.4 383Z" fill="#fd8500"/>
<path d="M244.3 378C244.3 379.7 244.2 381.4 244 383C243.9 384.5 243.7 386 243.4 387.2C243.2 388.4 242.8 389.4 242.5 390C242.2 390.6 241.8 391 241.4 391C241 391 240.6 390.6 240.3 390C240 389.4 239.6 388.4 239.4 387.2C239.1 386 238.9 384.5 238.8 383C238.6 381.4 238.5 379.7 238.5 378C238.5 376.3 238.6 374.6 238.8 373C238.9 371.5 239.1 370 239.4 368.8C239.6 367.6 240 366.6 240.3 366C240.6 365.4 241 365 241.4 365C241.8 365 242.2 365.4 242.5 366C242.8 366.6 243.2 367.6 243.4 368.8C243.7 370 243.9 371.5 244 373C244.2 374.6 244.3 376.3 244.3 378Z" fill="#62ff2b"/>
<path d="M244 378C244 379.5 243.9 381.1 243.8 382.5C243.7 383.9 243.5 385.2 243.2 386.3C243 387.3 242.7 388.2 242.4 388.8C242.1 389.4 241.7 389.7 241.4 389.7C241.1 389.7 240.7 389.4 240.4 388.8C240.1 388.2 239.8 387.3 239.6 386.3C239.3 385.2 239.1 383.9 239 382.5C238.9 381.1 238.8 379.5 238.8 378C238.8 376.5 238.9 374.9 239 373.5C239.1 372.1 239.3 370.8 239.6 369.7C239.8 368.7 240.1 367.8 240.4 367.2C240.7 366.6 241.1 366.3 241.4 366.3C241.7 366.3 242.1 366.6 242.4 367.2C242.7 367.8 243 368.7 243.2 369.7C243.5 370.8 243.7 372.1 243.8 373.5C243.9 374.9 244 376.5 244 378Z" fill="#c1fb00"/>
<path d="M243.5 378C243.5 379.2 243.4 380.5 243.3 381.6C243.2 382.7 243 383.8 242.9 384.6C242.7 385.4 242.4 386.2 242.2 386.6C241.9 387.1 241.7 387.3 241.4 387.3C241.1 387.3 240.9 387.1 240.6 386.6C240.4 386.2 240.1 385.4 239.9 384.6C239.8 383.8 239.6 382.7 239.5 381.6C239.4 380.5 239.3 379.2 239.3 378C239.3 376.8 239.4 375.5 239.5 374.4C239.6 373.3 239.8 372.2 239.9 371.4C240.1 370.6 240.4 369.8 240.6 369.4C240.9 368.9 241.1 368.7 241.4 368.7C241.7 368.7 241.9 368.9 242.2 369.4C242.4 369.8 242.7 370.6 242.9 371.4C243 372.2 243.2 373.3 243.3 374.4C243.4 375.5 243.5 376.8 243.5 378Z" fill="#edba00"/>
<path d="M242.8 378C242.8 378.8 242.7 379.7 242.7 380.4C242.6 381.1 242.5 381.9 242.4 382.4C242.2 383 242.1 383.5 241.9 383.8C241.8 384.1 241.6 384.2 241.4 384.2C241.2 384.2 241 384.1 240.9 383.8C240.7 383.5 240.6 383 240.4 382.4C240.3 381.9 240.2 381.1 240.1 380.4C240.1 379.7 240 378.8 240 378C240 377.2 240.1 376.3 240.1 375.6C240.2 374.9 240.3 374.1 240.4 373.6C240.6 373 240.7 372.5 240.9 372.2C241 371.9 241.2 371.8 241.4 371.8C241.6 371.8 241.8 371.9 241.9 372.2C242.1 372.5 242.2 373 242.4 373.6C242.5 374.1 242.6 374.9 242.7 375.6C242.7 376.3 242.8 377.2 242.8 378Z" fill="#fb6400"/>
<path d="M242 378C242 378.3 242 378.7 241.9 379C241.9 379.3 241.9 379.6 241.8 379.8C241.8 380.1 241.7 380.3 241.6 380.4C241.6 380.5 241.5 380.6 241.4 380.6C241.3 380.6 241.2 380.5 241.2 380.4C241.1 380.3 241 380.1 241 379.8C240.9 379.6 240.9 379.3 240.9 379C240.8 378.7 240.8 378.3 240.8 378C240.8 377.7 240.8 377.3 240.9 377C240.9 376.7 240.9 376.4 241 376.2C241 375.9 241.1 375.7 241.2 375.6C241.2 375.5 241.3 375.4 241.4 375.4C241.5 375.4 241.6 375.5 241.6 375.6C241.7 375.7 241.8 375.9 241.8 376.2C241.9 376.4 241.9 376.7 241.9 377C242 377.3 242 377.7 242 378Z" fill="#f50000"/>
<path d="M250.9 381.8C250.9 382.1 250.9 382.4 250.8 382.7C250.6 383 250.5 383.2 250.3 383.5C250 383.7 249.8 383.8 249.5 384C249.2 384.1 248.9 384.1 248.6 384.1C248.3 384.1 248 384.1 247.7 384C247.4 383.8 247.2 383.7 246.9 383.5C246.7 383.2 246.6 383 246.4 382.7C246.3 382.4 246.3 382.1 246.3 381.8C246.3 381.5 246.3 381.2 246.4 380.9C246.6 380.6 246.7 380.4 246.9 380.1C247.2 379.9 247.4 379.8 247.7 379.6C248 379.5 248.3 379.5 248.6 379.5C248.9 379.5 249.2 379.5 249.5 379.6C249.8 379.8 250 379.9 250.3 380.1C250.5 380.4 250.6 380.6 250.8 380.9C250.9 381.2 250.9 381.5 250.9 381.8Z" fill="#d0e500"/>
<path d="M250.6 381.8C250.6 382.1 250.5 382.3 250.4 382.6C250.3 382.8 250.2 383 250 383.2C249.8 383.4 249.6 383.5 249.4 383.6C249.1 383.7 248.9 383.8 248.6 383.8C248.3 383.8 248.1 383.7 247.8 383.6C247.6 383.5 247.4 383.4 247.2 383.2C247 383 246.9 382.8 246.8 382.6C246.7 382.3 246.6 382.1 246.6 381.8C246.6 381.5 246.7 381.3 246.8 381C246.9 380.8 247 380.6 247.2 380.4C247.4 380.2 247.6 380.1 247.8 380C248.1 379.9 248.3 379.8 248.6 379.8C248.9 379.8 249.1 379.9 249.4 380C249.6 380.1 249.8 380.2 250 380.4C250.2 380.6 250.3 380.8 250.4 381C250.5 381.3 250.6 381.5 250.6 381.8Z" fill="#f7ac00"/>
<path d="M249.9 381.8C249.9 382 249.9 382.1 249.8 382.3C249.8 382.5 249.7 382.6 249.5 382.7C249.4 382.9 249.3 383 249.1 383C248.9 383.1 248.8 383.1 248.6 383.1C248.4 383.1 248.3 383.1 248.1 383C247.9 383 247.8 382.9 247.7 382.7C247.5 382.6 247.4 382.5 247.4 382.3C247.3 382.1 247.3 382 247.3 381.8C247.3 381.6 247.3 381.5 247.4 381.3C247.4 381.1 247.5 381 247.7 380.9C247.8 380.7 247.9 380.6 248.1 380.6C248.3 380.5 248.4 380.5 248.6 380.5C248.8 380.5 248.9 380.5 249.1 380.6C249.3 380.6 249.4 380.7 249.5 380.9C249.7 381 249.8 381.1 249.8 381.3C249.9 381.5 249.9 381.6 249.9 381.8Z" fill="#fb5900"/>
<path d="M249.1 381.8C249.1 381.9 249.1 381.9 249 382C249 382 249 382.1 248.9 382.1C248.9 382.2 248.8 382.2 248.8 382.2C248.7 382.3 248.7 382.3 248.6 382.3C248.5 382.3 248.5 382.3 248.4 382.2C248.4 382.2 248.3 382.2 248.3 382.1C248.2 382.1 248.2 382 248.2 382C248.1 381.9 248.1 381.9 248.1 381.8C248.1 381.7 248.1 381.7 248.2 381.6C248.2 381.6 248.2 381.5 248.3 381.5C248.3 381.4 248.4 381.4 248.4 381.4C248.5 381.3 248.5 381.3 248.6 381.3C248.7 381.3 248.7 381.3 248.8 381.4C248.8 381.4 248.9 381.4 248.9 381.5C249 381.5 249 381.6 249 381.6C249.1 381.7 249.1 381.7 249.1 381.8Z" fill="#f50000"/>
<path d="M251.2 386.9C251.2 387.1 251.2 387.3 251.1 387.5C251 387.7 250.8 387.9 250.7 388C250.5 388.2 250.3 388.3 250.1 388.4C249.9 388.5 249.6 388.5 249.4 388.5C249.2 388.5 248.9 388.5 248.7 388.4C248.5 388.3 248.3 388.2 248.1 388C248 387.9 247.8 387.7 247.7 387.5C247.6 387.3 247.6 387.1 247.6 386.9C247.6 386.7 247.6 386.5 247.7 386.3C247.8 386.1 248 385.9 248.1 385.8C248.3 385.6 248.5 385.5 248.7 385.4C248.9 385.3 249.2 385.3 249.4 385.3C249.6 385.3 249.9 385.3 250.1 385.4C250.3 385.5 250.5 385.6 250.7 385.8C250.8 385.9 251 386.1 251.1 386.3C251.2 386.5 251.2 386.7 251.2 386.9Z" fill="#d0e500"/>
<path d="M250.9 386.9C250.9 387.1 250.9 387.3 250.8 387.4C250.7 387.6 250.6 387.7 250.5 387.9C250.3 388 250.2 388.1 250 388.2C249.8 388.2 249.6 388.3 249.4 388.3C249.2 388.3 249 388.2 248.8 388.2C248.6 388.1 248.5 388 248.3 387.9C248.2 387.7 248.1 387.6 248 387.4C247.9 387.3 247.9 387.1 247.9 386.9C247.9 386.7 247.9 386.5 248 386.4C248.1 386.2 248.2 386.1 248.3 385.9C248.5 385.8 248.6 385.7 248.8 385.6C249 385.6 249.2 385.5 249.4 385.5C249.6 385.5 249.8 385.6 250 385.6C250.2 385.7 250.3 385.8 250.5 385.9C250.6 386.1 250.7 386.2 250.8 386.4C250.9 386.5 250.9 386.7 250.9 386.9Z" fill="#f7ac00"/>
<path d="M250.4 386.9C250.4 387 250.4 387.1 250.3 387.2C250.3 387.4 250.2 387.5 250.1 387.5C250 387.6 249.9 387.7 249.8 387.7C249.7 387.8 249.5 387.8 249.4 387.8C249.3 387.8 249.1 387.8 249 387.7C248.9 387.7 248.8 387.6 248.7 387.5C248.6 387.5 248.5 387.4 248.5 387.2C248.4 387.1 248.4 387 248.4 386.9C248.4 386.8 248.4 386.7 248.5 386.6C248.5 386.4 248.6 386.3 248.7 386.3C248.8 386.2 248.9 386.1 249 386.1C249.1 386 249.3 386 249.4 386C249.5 386 249.7 386 249.8 386.1C249.9 386.1 250 386.2 250.1 386.3C250.2 386.3 250.3 386.4 250.3 386.6C250.4 386.7 250.4 386.8 250.4 386.9Z" fill="#fb5900"/>
<path d="M249.8 386.9C249.8 386.9 249.8 387 249.7 387C249.7 387.1 249.7 387.1 249.7 387.1C249.6 387.2 249.6 387.2 249.5 387.2C249.5 387.2 249.4 387.2 249.4 387.2C249.4 387.2 249.3 387.2 249.3 387.2C249.2 387.2 249.2 387.2 249.1 387.1C249.1 387.1 249.1 387.1 249.1 387C249 387 249 386.9 249 386.9C249 386.9 249 386.8 249.1 386.8C249.1 386.7 249.1 386.7 249.1 386.7C249.2 386.6 249.2 386.6 249.3 386.6C249.3 386.6 249.4 386.6 249.4 386.6C249.4 386.6 249.5 386.6 249.5 386.6C249.6 386.6 249.6 386.6 249.7 386.7C249.7 386.7 249.7 386.7 249.7 386.8C249.8 386.8 249.8 386.9 249.8 386.9Z" fill="#f50000"/>
<path d="M261.7 405.8C261.7 406.1 261.5 406.4 261.1 406.7C260.7 407 260.1 407.3 259.3 407.5C258.6 407.7 257.7 407.9 256.8 408C255.8 408.1 254.7 408.2 253.7 408.2C252.7 408.2 251.6 408.1 250.6 408C249.7 407.9 248.8 407.7 248.1 407.5C247.3 407.3 246.7 407 246.3 406.7C245.9 406.4 245.7 406.1 245.7 405.8C245.7 405.5 245.9 405.2 246.3 404.9C246.7 404.6 247.3 404.3 248.1 404.1C248.8 403.9 249.7 403.7 250.6 403.6C251.6 403.5 252.7 403.4 253.7 403.4C254.7 403.4 255.8 403.5 256.8 403.6C257.7 403.7 258.6 403.9 259.3 404.1C260.1 404.3 260.7 404.6 261.1 404.9C261.5 405.2 261.7 405.5 261.7 405.8Z" fill="#0ef67f"/>
<path d="M261.2 405.8C261.2 406.1 261 406.4 260.7 406.7C260.3 406.9 259.7 407.2 259 407.4C258.4 407.6 257.5 407.8 256.6 407.9C255.7 408 254.7 408.1 253.7 408.1C252.7 408.1 251.7 408 250.8 407.9C249.9 407.8 249 407.6 248.4 407.4C247.7 407.2 247.1 406.9 246.7 406.7C246.4 406.4 246.2 406.1 246.2 405.8C246.2 405.5 246.4 405.2 246.7 404.9C247.1 404.7 247.7 404.4 248.4 404.2C249 404 249.9 403.8 250.8 403.7C251.7 403.6 252.7 403.5 253.7 403.5C254.7 403.5 255.7 403.6 256.6 403.7C257.5 403.8 258.4 404 259 404.2C259.7 404.4 260.3 404.7 260.7 404.9C261 405.2 261.2 405.5 261.2 405.8Z" fill="#37ff40"/>
<path d="M260.4 405.8C260.4 406.1 260.3 406.3 259.9 406.6C259.6 406.8 259.1 407.1 258.5 407.2C257.9 407.4 257.1 407.6 256.3 407.7C255.5 407.8 254.6 407.8 253.7 407.8C252.8 407.8 251.9 407.8 251.1 407.7C250.3 407.6 249.5 407.4 248.9 407.2C248.3 407.1 247.8 406.8 247.5 406.6C247.1 406.3 247 406.1 247 405.8C247 405.5 247.1 405.3 247.5 405C247.8 404.8 248.3 404.5 248.9 404.4C249.5 404.2 250.3 404 251.1 403.9C251.9 403.8 252.8 403.8 253.7 403.8C254.6 403.8 255.5 403.8 256.3 403.9C257.1 404 257.9 404.2 258.5 404.4C259.1 404.5 259.6 404.8 259.9 405C260.3 405.3 260.4 405.5 260.4 405.8Z" fill="#8eff17"/>
<path d="M259.4 405.8C259.4 406 259.3 406.3 259 406.5C258.7 406.7 258.3 406.9 257.7 407C257.2 407.2 256.6 407.3 255.9 407.4C255.2 407.5 254.4 407.5 253.7 407.5C253 407.5 252.2 407.5 251.5 407.4C250.8 407.3 250.2 407.2 249.7 407C249.1 406.9 248.7 406.7 248.4 406.5C248.1 406.3 248 406 248 405.8C248 405.6 248.1 405.3 248.4 405.1C248.7 404.9 249.1 404.7 249.7 404.6C250.2 404.4 250.8 404.3 251.5 404.2C252.2 404.1 253 404.1 253.7 404.1C254.4 404.1 255.2 404.1 255.9 404.2C256.6 404.3 257.2 404.4 257.7 404.6C258.3 404.7 258.7 404.9 259 405.1C259.3 405.3 259.4 405.6 259.4 405.8Z" fill="#d0e500"/>
<path d="M258.2 405.8C258.2 406 258.1 406.2 257.9 406.3C257.6 406.5 257.3 406.6 256.9 406.8C256.5 406.9 256 407 255.4 407.1C254.9 407.1 254.3 407.2 253.7 407.2C253.1 407.2 252.5 407.1 252 407.1C251.4 407 250.9 406.9 250.5 406.8C250.1 406.6 249.8 406.5 249.5 406.3C249.3 406.2 249.2 406 249.2 405.8C249.2 405.6 249.3 405.4 249.5 405.3C249.8 405.1 250.1 405 250.5 404.8C250.9 404.7 251.4 404.6 252 404.5C252.5 404.5 253.1 404.4 253.7 404.4C254.3 404.4 254.9 404.5 255.4 404.5C256 404.6 256.5 404.7 256.9 404.8C257.3 405 257.6 405.1 257.9 405.3C258.1 405.4 258.2 405.6 258.2 405.8Z" fill="#f7ac00"/>
<path d="M256.8 405.8C256.8 405.9 256.7 406 256.6 406.2C256.4 406.3 256.2 406.4 255.9 406.5C255.6 406.5 255.3 406.6 254.9 406.7C254.5 406.7 254.1 406.7 253.7 406.7C253.3 406.7 252.9 406.7 252.5 406.7C252.1 406.6 251.8 406.5 251.5 406.5C251.2 406.4 251 406.3 250.8 406.2C250.7 406 250.6 405.9 250.6 405.8C250.6 405.7 250.7 405.6 250.8 405.4C251 405.3 251.2 405.2 251.5 405.1C251.8 405.1 252.1 405 252.5 404.9C252.9 404.9 253.3 404.9 253.7 404.9C254.1 404.9 254.5 404.9 254.9 404.9C255.3 405 255.6 405.1 255.9 405.1C256.2 405.2 256.4 405.3 256.6 405.4C256.7 405.6 256.8 405.7 256.8 405.8Z" fill="#fb5900"/>
<path d="M255.3 405.8C255.3 405.9 255.3 405.9 255.2 406C255.1 406 255 406.1 254.8 406.1C254.7 406.2 254.5 406.2 254.3 406.2C254.1 406.3 253.9 406.3 253.7 406.3C253.5 406.3 253.3 406.3 253.1 406.2C252.9 406.2 252.7 406.2 252.6 406.1C252.4 406.1 252.3 406 252.2 406C252.1 405.9 252.1 405.9 252.1 405.8C252.1 405.7 252.1 405.7 252.2 405.6C252.3 405.6 252.4 405.5 252.6 405.5C252.7 405.4 252.9 405.4 253.1 405.4C253.3 405.3 253.5 405.3 253.7 405.3C253.9 405.3 254.1 405.3 254.3 405.4C254.5 405.4 254.7 405.4 254.8 405.5C255 405.5 255.1 405.6 255.2 405.6C255.3 405.7 255.3 405.7 255.3 405.8Z" fill="#f50000"/>
</g></g>
<path d="M247.2 366.4L258.3 351.3L272.5 352.9L279.1 357.7L279.9 369.4L274.5 380.5L268.4 383.6L261.3 380.5L248.8 374.5Z" fill="none" stroke="#111" stroke-width="0.9"/>
<text transform="translate(277.9 342.4)" font-size="7.6" text-anchor="middle" dy="2.7">27</text>
<rect x="152.5" y="424.5" width="69.6" height="69.5" fill="none" stroke="#111" stroke-width="0.9"/>
<text transform="translate(146.7 432.1) scale(0.86 1)" font-size="8.6" text-anchor="end" dy="3.05">10<tspan font-size="6.19" dy="-3.44">5</tspan></text>
<text transform="translate(146.7 447.8) scale(0.86 1)" font-size="8.6" text-anchor="end" dy="3.05">10<tspan font-size="6.19" dy="-3.44">4</tspan></text>
<text transform="translate(146.7 463.5) scale(0.86 1)" font-size="8.6" text-anchor="end" dy="3.05">10<tspan font-size="6.19" dy="-3.44">3</tspan></text>
<text transform="translate(146.7 479.3) scale(0.86 1)" font-size="8.6" text-anchor="end" dy="3.05">10<tspan font-size="6.19" dy="-3.44">2</tspan></text>
<text transform="translate(146.9 488.1) scale(0.86 1)" font-size="8.6" text-anchor="end" dy="3.05">0</text>
<path d="M150.2 432.1H152.5M150.2 447.8H152.5M150.2 463.5H152.5M150.2 479.3H152.5M150.2 487.5H152.5M151.2 443.1H152.5M151.2 440.3H152.5M151.2 438.3H152.5M151.2 436.8H152.5M151.2 435.6H152.5M151.2 434.5H152.5M151.2 433.6H152.5M151.2 432.8H152.5M151.2 458.8H152.5M151.2 456H152.5M151.2 454H152.5M151.2 452.5H152.5M151.2 451.3H152.5M151.2 450.2H152.5M151.2 449.3H152.5M151.2 448.5H152.5M151.2 474.5H152.5M151.2 471.7H152.5M151.2 469.7H152.5M151.2 468.2H152.5M151.2 467H152.5M151.2 465.9H152.5M151.2 465H152.5M151.2 464.2H152.5M151.2 482.5H152.5M151.2 485H152.5M151.2 490.5H152.5M151.2 492.5H152.5M164.4 494V496.3M169.4 494V495.3M172.3 494V495.3M174.3 494V495.3M175.9 494V495.3M177.2 494V495.3M178.3 494V495.3M179.3 494V495.3M180.1 494V495.3M181.6 494V496.3M186.6 494V495.3M189.5 494V495.3M191.5 494V495.3M193.1 494V495.3M194.4 494V495.3M195.5 494V495.3M196.5 494V495.3M197.3 494V495.3M198.4 494V496.3M203.4 494V495.3M206.3 494V495.3M208.3 494V495.3M209.9 494V495.3M211.2 494V495.3M212.3 494V495.3M213.3 494V495.3M214.1 494V495.3M214.4 494V496.3M219.4 494V495.3M154.5 494V495.3M156.5 494V495.3M159 494V495.3M160.5 494V495.3" stroke="#111" stroke-width="0.75" fill="none"/>
<text transform="translate(159.7 503.8) scale(0.86 1)" font-size="8.6" text-anchor="middle" dy="3.05">0</text>
<text transform="translate(167.4 503.8) scale(0.86 1)" font-size="8.6" text-anchor="middle" dy="3.05">10<tspan font-size="6.19" dy="-3.44">2</tspan></text>
<text transform="translate(184.6 503.8) scale(0.86 1)" font-size="8.6" text-anchor="middle" dy="3.05">10<tspan font-size="6.19" dy="-3.44">3</tspan></text>
<text transform="translate(201.4 503.8) scale(0.86 1)" font-size="8.6" text-anchor="middle" dy="3.05">10<tspan font-size="6.19" dy="-3.44">4</tspan></text>
<text transform="translate(217.4 503.8) scale(0.86 1)" font-size="8.6" text-anchor="middle" dy="3.05">10<tspan font-size="6.19" dy="-3.44">5</tspan></text>
<g clip-path="url(#c14)"><g filter="url(#bl)">
<path d="M152 448.9C152.7 441.8 154.9 450.9 156.2 451.6C157.5 452.3 158.6 453.3 159.8 453.3C161 453.3 161.7 452.3 163.3 451.6C164.9 450.9 167.5 449.8 169.6 449.3C171.7 448.8 174.2 449 175.8 448.4C177.4 447.8 178.1 445.9 179.3 445.8C180.6 445.7 182.6 446.7 183.3 447.6C184.1 448.5 184.3 449.8 183.8 451.1C183.3 452.4 181.2 453.7 180.2 455.6C179.2 457.5 178.3 460.6 177.6 462.7C176.9 464.8 176.2 466.2 175.8 468C175.4 469.8 175.2 471.2 174.9 473.3C174.6 475.4 174.2 478.3 174 480.4C173.8 482.5 173.6 484.3 174 485.8C174.4 487.3 176.1 487.9 176.7 489.3C177.3 490.7 181.7 493.4 177.6 494.2C173.5 495 156.3 501.8 152 494.2C147.7 486.6 151.3 456 152 448.9Z" fill="#0a0aeb"/>
<path d="M152.8 450.5C153.4 443.9 155.4 452.3 156.6 453C157.8 453.7 158.9 454.6 160 454.6C161.1 454.6 161.7 453.6 163.2 453C164.7 452.4 167.1 451.3 169 450.9C171 450.4 173.3 450.6 174.8 450C176.3 449.5 176.8 447.7 178 447.6C179.2 447.5 181 448.5 181.7 449.3C182.4 450.1 182.6 451.3 182.2 452.5C181.7 453.8 179.8 454.9 178.8 456.7C177.9 458.5 177.1 461.3 176.4 463.2C175.8 465.2 175.2 466.5 174.8 468.1C174.3 469.8 174.2 471.1 173.9 473.1C173.7 475 173.2 477.7 173.1 479.6C173 481.5 172.7 483.2 173.1 484.6C173.5 486 175 486.6 175.6 487.9C176.2 489.1 180.2 491.6 176.4 492.4C172.6 493.1 156.7 499.4 152.8 492.4C148.8 485.4 152.1 457 152.8 450.5Z" fill="#0617f4"/>
<path d="M153.5 452.1C154.1 446 156 453.7 157.1 454.4C158.2 455 159.1 455.8 160.1 455.8C161.1 455.8 161.7 454.9 163.1 454.4C164.5 453.8 166.7 452.9 168.5 452.4C170.2 452 172.4 452.1 173.7 451.6C175.1 451.1 175.6 449.5 176.7 449.4C177.8 449.3 179.5 450.2 180.1 451C180.7 451.7 181 452.8 180.5 453.9C180.1 455.1 178.3 456.1 177.5 457.8C176.6 459.4 175.9 462 175.3 463.8C174.6 465.6 174.1 466.8 173.7 468.3C173.3 469.8 173.2 471 173 472.8C172.7 474.6 172.3 477.1 172.2 478.8C172.1 480.6 171.8 482.2 172.2 483.4C172.6 484.7 174 485.2 174.5 486.4C175 487.6 178.8 489.9 175.3 490.6C171.8 491.3 157.1 497 153.5 490.6C149.9 484.2 152.9 458.1 153.5 452.1Z" fill="#0125fd"/>
<path d="M154.2 453.6C154.8 448.1 156.5 455.2 157.5 455.7C158.5 456.3 159.4 457.1 160.3 457.1C161.2 457.1 161.7 456.3 163 455.7C164.3 455.2 166.3 454.4 167.9 454C169.5 453.5 171.4 453.7 172.7 453.3C173.9 452.8 174.4 451.3 175.4 451.2C176.4 451.1 177.9 452 178.5 452.6C179.1 453.3 179.3 454.3 178.9 455.4C178.5 456.4 176.9 457.3 176.1 458.8C175.3 460.3 174.7 462.7 174.1 464.3C173.5 465.9 173 467.1 172.7 468.4C172.3 469.8 172.2 471 172 472.6C171.8 474.2 171.4 476.4 171.3 478.1C171.2 479.7 171 481.1 171.3 482.2C171.6 483.4 172.9 483.9 173.4 485C173.9 486 177.3 488.1 174.1 488.8C170.9 489.4 157.6 494.6 154.2 488.8C150.9 482.9 153.7 459.1 154.2 453.6Z" fill="#0049ff"/>
<path d="M155 455.2C155.5 450.3 157 456.6 157.9 457.1C158.8 457.6 159.6 458.3 160.5 458.3C161.3 458.3 161.8 457.6 162.9 457.1C164.1 456.7 165.9 455.9 167.3 455.5C168.8 455.1 170.5 455.3 171.7 454.9C172.8 454.5 173.2 453.2 174.1 453.1C175 453 176.4 453.7 176.9 454.3C177.4 454.9 177.6 455.8 177.3 456.8C176.9 457.7 175.5 458.6 174.7 459.9C174 461.3 173.4 463.4 172.9 464.9C172.4 466.3 172 467.4 171.7 468.6C171.3 469.8 171.2 470.9 171 472.3C170.8 473.8 170.5 475.8 170.4 477.3C170.3 478.7 170.1 480 170.4 481.1C170.7 482.1 171.9 482.5 172.3 483.5C172.7 484.5 175.8 486.4 172.9 486.9C170 487.5 158 492.2 155 486.9C152 481.7 154.5 460.2 155 455.2Z" fill="#0076ff"/>
<path d="M152 456C153.3 452.7 157.5 458 160 458C162.5 458 165 457 167 456C169 455 170.2 453 172 452C173.8 451 176.5 450.2 178 450C179.5 449.8 181.2 449.7 181 451C180.8 452.3 178.3 455.5 177 458C175.7 460.5 174 463.3 173 466C172 468.7 171.5 471.3 171 474C170.5 476.7 170.7 479.8 170 482C169.3 484.2 168.7 486.7 167 487C165.3 487.3 162 485.2 160 484C158 482.8 156.3 481 155 480C153.7 479 152.5 482 152 478C151.5 474 150.7 459.3 152 456Z" fill="#0086ff"/>
<path d="M153.2 457.6C154.3 454.7 158 459.3 160.1 459.3C162.3 459.3 164.5 458.4 166.2 457.6C168 456.7 169 454.9 170.6 454.1C172.2 453.2 174.5 452.5 175.8 452.3C177.1 452.2 178.6 452 178.4 453.2C178.3 454.4 176.1 457.1 174.9 459.3C173.8 461.5 172.3 463.9 171.4 466.3C170.6 468.6 170.1 470.9 169.7 473.2C169.3 475.5 169.4 478.3 168.8 480.2C168.3 482.1 167.7 484.2 166.2 484.5C164.8 484.8 161.9 482.9 160.1 481.9C158.4 480.9 156.9 479.3 155.8 478.4C154.6 477.6 153.6 480.2 153.2 476.7C152.7 473.2 152 460.5 153.2 457.6Z" fill="#00affb"/>
<path d="M154.2 458.9C155.2 456.4 158.3 460.4 160.2 460.4C162.1 460.4 164 459.7 165.5 458.9C167.1 458.1 167.9 456.6 169.3 455.9C170.7 455.1 172.8 454.5 173.9 454.4C175 454.2 176.3 454.1 176.2 455.1C176 456.1 174.1 458.5 173.1 460.4C172.1 462.3 170.9 464.5 170.1 466.5C169.3 468.5 169 470.5 168.6 472.5C168.2 474.6 168.3 477 167.8 478.6C167.3 480.3 166.8 482.2 165.5 482.4C164.3 482.7 161.8 481 160.2 480.1C158.7 479.2 157.5 477.9 156.5 477.1C155.4 476.3 154.6 478.6 154.2 475.6C153.8 472.5 153.2 461.4 154.2 458.9Z" fill="#00d9f6"/>
<path d="M155.1 460.2C156 458 158.7 461.5 160.3 461.5C162 461.5 163.6 460.8 164.9 460.2C166.2 459.5 167 458.2 168.2 457.6C169.4 456.9 171.1 456.4 172.1 456.3C173.1 456.2 174.1 456.1 174 456.9C173.9 457.8 172.3 459.9 171.4 461.5C170.6 463.1 169.5 465 168.8 466.7C168.2 468.4 167.8 470.2 167.5 471.9C167.2 473.6 167.3 475.7 166.9 477.1C166.4 478.5 166 480.2 164.9 480.4C163.8 480.6 161.7 479.2 160.3 478.4C159 477.7 158 476.5 157.1 475.8C156.2 475.2 155.5 477.1 155.1 474.5C154.8 471.9 154.3 462.4 155.1 460.2Z" fill="#08edb4"/>
<path d="M156.1 461.4C156.8 459.6 159.1 462.5 160.5 462.5C161.8 462.5 163.2 462 164.3 461.4C165.4 460.9 166 459.8 167 459.2C168 458.7 169.5 458.2 170.3 458.1C171.2 458 172.1 457.9 172 458.7C171.9 459.4 170.5 461.1 169.8 462.5C169 463.9 168.1 465.4 167.6 466.9C167 468.4 166.8 469.8 166.5 471.3C166.2 472.8 166.3 474.5 165.9 475.7C165.6 476.9 165.2 478.2 164.3 478.4C163.4 478.6 161.5 477.4 160.5 476.8C159.4 476.1 158.4 475.1 157.7 474.6C157 474 156.3 475.7 156.1 473.5C155.8 471.3 155.3 463.2 156.1 461.4Z" fill="#12fb64"/>
<path d="M157 462.6C157.6 461.1 159.4 463.5 160.6 463.5C161.7 463.5 162.8 463.1 163.7 462.6C164.6 462.2 165.1 461.3 165.9 460.8C166.8 460.4 167.9 460 168.6 459.9C169.3 459.9 170 459.8 170 460.4C169.9 461 168.8 462.4 168.2 463.5C167.6 464.6 166.8 465.9 166.4 467.1C165.9 468.3 165.7 469.5 165.5 470.7C165.3 471.9 165.3 473.3 165 474.3C164.7 475.2 164.4 476.4 163.7 476.5C162.9 476.7 161.4 475.7 160.6 475.2C159.7 474.7 158.9 473.8 158.3 473.4C157.7 472.9 157.2 474.3 157 472.5C156.7 470.7 156.4 464.1 157 462.6Z" fill="#58ff30"/>
<path d="M157.8 463.8C158.3 462.6 159.8 464.5 160.7 464.5C161.5 464.5 162.4 464.2 163.1 463.8C163.8 463.4 164.2 462.8 164.8 462.4C165.5 462 166.4 461.8 166.9 461.7C167.5 461.6 168.1 461.6 168 462.1C167.9 462.5 167.1 463.6 166.6 464.5C166.1 465.4 165.5 466.4 165.2 467.3C164.8 468.2 164.7 469.2 164.5 470.1C164.3 471 164.4 472.1 164.2 472.9C163.9 473.7 163.7 474.5 163.1 474.6C162.5 474.8 161.3 474 160.7 473.6C160 473.2 159.4 472.6 158.9 472.2C158.4 471.8 158 472.9 157.8 471.5C157.7 470.1 157.4 465 157.8 463.8Z" fill="#b1ff06"/>
<path d="M167.3 469.5C167.3 470.3 167.1 471.1 166.9 471.8C166.6 472.5 166.1 473.2 165.6 473.7C165.1 474.3 164.4 474.8 163.7 475C163 475.3 162.2 475.5 161.5 475.5C160.8 475.5 160 475.3 159.3 475C158.6 474.8 157.9 474.3 157.4 473.7C156.9 473.2 156.4 472.5 156.1 471.8C155.9 471.1 155.7 470.3 155.7 469.5C155.7 468.7 155.9 467.9 156.1 467.2C156.4 466.5 156.9 465.8 157.4 465.3C157.9 464.7 158.6 464.2 159.3 464C160 463.7 160.8 463.5 161.5 463.5C162.2 463.5 163 463.7 163.7 464C164.4 464.2 165.1 464.7 165.6 465.3C166.1 465.8 166.6 466.5 166.9 467.2C167.1 467.9 167.3 468.7 167.3 469.5Z" fill="#0ef67f"/>
<path d="M166.7 469.5C166.7 470.2 166.6 470.9 166.3 471.6C166.1 472.2 165.7 472.8 165.2 473.3C164.7 473.8 164.1 474.2 163.5 474.5C162.9 474.8 162.2 474.9 161.5 474.9C160.8 474.9 160.1 474.8 159.5 474.5C158.9 474.2 158.3 473.8 157.8 473.3C157.3 472.8 156.9 472.2 156.7 471.6C156.4 470.9 156.3 470.2 156.3 469.5C156.3 468.8 156.4 468.1 156.7 467.4C156.9 466.8 157.3 466.2 157.8 465.7C158.3 465.2 158.9 464.8 159.5 464.5C160.1 464.2 160.8 464.1 161.5 464.1C162.2 464.1 162.9 464.2 163.5 464.5C164.1 464.8 164.7 465.2 165.2 465.7C165.7 466.2 166.1 466.8 166.3 467.4C166.6 468.1 166.7 468.8 166.7 469.5Z" fill="#42ff3a"/>
<path d="M165.7 469.5C165.7 470 165.5 470.6 165.3 471.1C165.1 471.7 164.8 472.2 164.4 472.5C164.1 472.9 163.6 473.3 163.1 473.5C162.6 473.7 162 473.8 161.5 473.8C161 473.8 160.4 473.7 159.9 473.5C159.4 473.3 158.9 472.9 158.6 472.5C158.2 472.2 157.9 471.7 157.7 471.1C157.5 470.6 157.3 470 157.3 469.5C157.3 469 157.5 468.4 157.7 467.9C157.9 467.3 158.2 466.8 158.6 466.5C158.9 466.1 159.4 465.7 159.9 465.5C160.4 465.3 161 465.2 161.5 465.2C162 465.2 162.6 465.3 163.1 465.5C163.6 465.7 164.1 466.1 164.4 466.5C164.8 466.8 165.1 467.3 165.3 467.9C165.5 468.4 165.7 469 165.7 469.5Z" fill="#a4ff0c"/>
<path d="M164.3 469.5C164.3 469.9 164.2 470.3 164.1 470.6C163.9 470.9 163.7 471.3 163.5 471.5C163.2 471.8 162.9 472 162.6 472.2C162.2 472.3 161.9 472.4 161.5 472.4C161.1 472.4 160.8 472.3 160.4 472.2C160.1 472 159.8 471.8 159.5 471.5C159.3 471.3 159.1 470.9 158.9 470.6C158.8 470.3 158.7 469.9 158.7 469.5C158.7 469.1 158.8 468.7 158.9 468.4C159.1 468.1 159.3 467.7 159.5 467.5C159.8 467.2 160.1 467 160.4 466.8C160.8 466.7 161.1 466.6 161.5 466.6C161.9 466.6 162.2 466.7 162.6 466.8C162.9 467 163.2 467.2 163.5 467.5C163.7 467.7 163.9 468.1 164.1 468.4C164.2 468.7 164.3 469.1 164.3 469.5Z" fill="#ded000"/>
<path d="M162.7 469.5C162.7 469.7 162.6 469.8 162.6 470C162.5 470.1 162.4 470.2 162.3 470.3C162.2 470.5 162.1 470.6 161.9 470.6C161.8 470.7 161.6 470.7 161.5 470.7C161.4 470.7 161.2 470.7 161.1 470.6C160.9 470.6 160.8 470.5 160.7 470.3C160.6 470.2 160.5 470.1 160.4 470C160.4 469.8 160.3 469.7 160.3 469.5C160.3 469.3 160.4 469.2 160.4 469C160.5 468.9 160.6 468.8 160.7 468.7C160.8 468.5 160.9 468.4 161.1 468.4C161.2 468.3 161.4 468.3 161.5 468.3C161.6 468.3 161.8 468.3 161.9 468.4C162.1 468.4 162.2 468.5 162.3 468.7C162.4 468.8 162.5 468.9 162.6 469C162.6 469.2 162.7 469.3 162.7 469.5Z" fill="#fd8500"/>
<path d="M155.4 466C155.4 467.3 155.3 468.8 155.2 470C155.1 471.2 154.9 472.4 154.6 473.4C154.4 474.3 154.1 475.1 153.8 475.6C153.5 476.1 153.1 476.4 152.8 476.4C152.5 476.4 152.1 476.1 151.8 475.6C151.5 475.1 151.2 474.3 151 473.4C150.7 472.4 150.5 471.2 150.4 470C150.3 468.8 150.2 467.3 150.2 466C150.2 464.7 150.3 463.2 150.4 462C150.5 460.8 150.7 459.6 151 458.6C151.2 457.7 151.5 456.9 151.8 456.4C152.1 455.9 152.5 455.6 152.8 455.6C153.1 455.6 153.5 455.9 153.8 456.4C154.1 456.9 154.4 457.7 154.6 458.6C154.9 459.6 155.1 460.8 155.2 462C155.3 463.2 155.4 464.7 155.4 466Z" fill="#62ff2b"/>
<path d="M155.1 466C155.1 467.2 155.1 468.5 155 469.6C154.8 470.7 154.7 471.8 154.5 472.6C154.2 473.5 154 474.2 153.7 474.6C153.4 475.1 153.1 475.4 152.8 475.4C152.5 475.4 152.2 475.1 151.9 474.6C151.6 474.2 151.4 473.5 151.1 472.6C150.9 471.8 150.8 470.7 150.6 469.6C150.5 468.5 150.5 467.2 150.5 466C150.5 464.8 150.5 463.5 150.6 462.4C150.8 461.3 150.9 460.2 151.1 459.4C151.4 458.5 151.6 457.8 151.9 457.4C152.2 456.9 152.5 456.6 152.8 456.6C153.1 456.6 153.4 456.9 153.7 457.4C154 457.8 154.2 458.5 154.5 459.4C154.7 460.2 154.8 461.3 155 462.4C155.1 463.5 155.1 464.8 155.1 466Z" fill="#c1fb00"/>
<path d="M154.7 466C154.7 467 154.6 468 154.5 468.9C154.4 469.7 154.3 470.6 154.1 471.3C154 471.9 153.7 472.5 153.5 472.9C153.3 473.3 153 473.5 152.8 473.5C152.6 473.5 152.3 473.3 152.1 472.9C151.9 472.5 151.6 471.9 151.5 471.3C151.3 470.6 151.2 469.7 151.1 468.9C151 468 150.9 467 150.9 466C150.9 465 151 464 151.1 463.1C151.2 462.3 151.3 461.4 151.5 460.7C151.6 460.1 151.9 459.5 152.1 459.1C152.3 458.7 152.6 458.5 152.8 458.5C153 458.5 153.3 458.7 153.5 459.1C153.7 459.5 154 460.1 154.1 460.7C154.3 461.4 154.4 462.3 154.5 463.1C154.6 464 154.7 465 154.7 466Z" fill="#edba00"/>
<path d="M154 466C154 466.6 154 467.3 154 467.9C153.9 468.5 153.8 469.1 153.7 469.5C153.6 470 153.4 470.4 153.3 470.6C153.1 470.9 153 471 152.8 471C152.6 471 152.5 470.9 152.3 470.6C152.2 470.4 152 470 151.9 469.5C151.8 469.1 151.7 468.5 151.6 467.9C151.6 467.3 151.6 466.6 151.6 466C151.6 465.4 151.6 464.7 151.6 464.1C151.7 463.5 151.8 462.9 151.9 462.5C152 462 152.2 461.6 152.3 461.4C152.5 461.1 152.6 461 152.8 461C153 461 153.1 461.1 153.3 461.4C153.4 461.6 153.6 462 153.7 462.5C153.8 462.9 153.9 463.5 154 464.1C154 464.7 154 465.4 154 466Z" fill="#fb6400"/>
<path d="M153.3 466C153.3 466.3 153.3 466.6 153.3 466.8C153.3 467 153.2 467.3 153.2 467.5C153.1 467.7 153.1 467.8 153 467.9C152.9 468 152.9 468.1 152.8 468.1C152.7 468.1 152.7 468 152.6 467.9C152.5 467.8 152.5 467.7 152.4 467.5C152.4 467.3 152.3 467 152.3 466.8C152.3 466.6 152.3 466.3 152.3 466C152.3 465.7 152.3 465.4 152.3 465.2C152.3 465 152.4 464.7 152.4 464.5C152.5 464.3 152.5 464.2 152.6 464.1C152.7 464 152.7 463.9 152.8 463.9C152.9 463.9 152.9 464 153 464.1C153.1 464.2 153.1 464.3 153.2 464.5C153.2 464.7 153.3 465 153.3 465.2C153.3 465.4 153.3 465.7 153.3 466Z" fill="#f50000"/>
<path d="M173.5 493.4C173.5 493.7 173.3 494 172.9 494.3C172.5 494.5 171.9 494.8 171.1 495C170.4 495.2 169.5 495.4 168.6 495.5C167.6 495.6 166.5 495.6 165.5 495.6C164.5 495.6 163.4 495.6 162.4 495.5C161.5 495.4 160.6 495.2 159.9 495C159.1 494.8 158.5 494.5 158.1 494.3C157.7 494 157.5 493.7 157.5 493.4C157.5 493.1 157.7 492.8 158.1 492.5C158.5 492.3 159.1 492 159.9 491.8C160.6 491.6 161.5 491.4 162.4 491.3C163.4 491.2 164.5 491.1 165.5 491.1C166.5 491.1 167.6 491.2 168.6 491.3C169.5 491.4 170.4 491.6 171.1 491.8C171.9 492 172.5 492.3 172.9 492.5C173.3 492.8 173.5 493.1 173.5 493.4Z" fill="#0ef67f"/>
<path d="M173 493.4C173 493.7 172.8 494 172.5 494.2C172.1 494.5 171.5 494.7 170.8 494.9C170.2 495.1 169.3 495.3 168.4 495.4C167.5 495.5 166.5 495.5 165.5 495.5C164.5 495.5 163.5 495.5 162.6 495.4C161.7 495.3 160.8 495.1 160.2 494.9C159.5 494.7 158.9 494.5 158.5 494.2C158.2 494 158 493.7 158 493.4C158 493.1 158.2 492.8 158.5 492.6C158.9 492.3 159.5 492.1 160.2 491.9C160.8 491.7 161.7 491.5 162.6 491.4C163.5 491.3 164.5 491.3 165.5 491.3C166.5 491.3 167.5 491.3 168.4 491.4C169.3 491.5 170.2 491.7 170.8 491.9C171.5 492.1 172.1 492.3 172.5 492.6C172.8 492.8 173 493.1 173 493.4Z" fill="#37ff40"/>
<path d="M172.2 493.4C172.2 493.6 172.1 493.9 171.7 494.1C171.4 494.4 170.9 494.6 170.3 494.7C169.7 494.9 168.9 495.1 168.1 495.2C167.3 495.3 166.4 495.3 165.5 495.3C164.6 495.3 163.7 495.3 162.9 495.2C162.1 495.1 161.3 494.9 160.7 494.7C160.1 494.6 159.6 494.4 159.3 494.1C158.9 493.9 158.8 493.6 158.8 493.4C158.8 493.2 158.9 492.9 159.3 492.7C159.6 492.4 160.1 492.2 160.7 492.1C161.3 491.9 162.1 491.7 162.9 491.6C163.7 491.5 164.6 491.5 165.5 491.5C166.4 491.5 167.3 491.5 168.1 491.6C168.9 491.7 169.7 491.9 170.3 492.1C170.9 492.2 171.4 492.4 171.7 492.7C172.1 492.9 172.2 493.2 172.2 493.4Z" fill="#8eff17"/>
<path d="M171.2 493.4C171.2 493.6 171.1 493.8 170.8 494C170.5 494.2 170.1 494.4 169.5 494.5C169 494.7 168.4 494.8 167.7 494.9C167 495 166.2 495 165.5 495C164.8 495 164 495 163.3 494.9C162.6 494.8 162 494.7 161.5 494.5C160.9 494.4 160.5 494.2 160.2 494C159.9 493.8 159.8 493.6 159.8 493.4C159.8 493.2 159.9 493 160.2 492.8C160.5 492.6 160.9 492.4 161.5 492.3C162 492.1 162.6 492 163.3 491.9C164 491.8 164.8 491.8 165.5 491.8C166.2 491.8 167 491.8 167.7 491.9C168.4 492 169 492.1 169.5 492.3C170.1 492.4 170.5 492.6 170.8 492.8C171.1 493 171.2 493.2 171.2 493.4Z" fill="#d0e500"/>
<path d="M170 493.4C170 493.6 169.9 493.7 169.7 493.9C169.4 494 169.1 494.2 168.7 494.3C168.3 494.4 167.8 494.5 167.2 494.6C166.7 494.6 166.1 494.7 165.5 494.7C164.9 494.7 164.3 494.6 163.8 494.6C163.2 494.5 162.7 494.4 162.3 494.3C161.9 494.2 161.6 494 161.3 493.9C161.1 493.7 161 493.6 161 493.4C161 493.2 161.1 493.1 161.3 492.9C161.6 492.8 161.9 492.6 162.3 492.5C162.7 492.4 163.2 492.3 163.8 492.2C164.3 492.2 164.9 492.1 165.5 492.1C166.1 492.1 166.7 492.2 167.2 492.2C167.8 492.3 168.3 492.4 168.7 492.5C169.1 492.6 169.4 492.8 169.7 492.9C169.9 493.1 170 493.2 170 493.4Z" fill="#f7ac00"/>
<path d="M168.6 493.4C168.6 493.5 168.5 493.6 168.4 493.7C168.2 493.8 168 493.9 167.7 494C167.4 494.1 167.1 494.2 166.7 494.2C166.3 494.3 165.9 494.3 165.5 494.3C165.1 494.3 164.7 494.3 164.3 494.2C163.9 494.2 163.6 494.1 163.3 494C163 493.9 162.8 493.8 162.6 493.7C162.5 493.6 162.4 493.5 162.4 493.4C162.4 493.3 162.5 493.2 162.6 493.1C162.8 493 163 492.9 163.3 492.8C163.6 492.7 163.9 492.6 164.3 492.6C164.7 492.5 165.1 492.5 165.5 492.5C165.9 492.5 166.3 492.5 166.7 492.6C167.1 492.6 167.4 492.7 167.7 492.8C168 492.9 168.2 493 168.4 493.1C168.5 493.2 168.6 493.3 168.6 493.4Z" fill="#fb5900"/>
<path d="M167.1 493.4C167.1 493.5 167.1 493.5 167 493.6C166.9 493.6 166.8 493.7 166.6 493.7C166.5 493.8 166.3 493.8 166.1 493.8C165.9 493.8 165.7 493.8 165.5 493.8C165.3 493.8 165.1 493.8 164.9 493.8C164.7 493.8 164.5 493.8 164.4 493.7C164.2 493.7 164.1 493.6 164 493.6C163.9 493.5 163.9 493.5 163.9 493.4C163.9 493.3 163.9 493.3 164 493.2C164.1 493.2 164.2 493.1 164.4 493.1C164.5 493 164.7 493 164.9 493C165.1 493 165.3 492.9 165.5 492.9C165.7 492.9 165.9 493 166.1 493C166.3 493 166.5 493 166.6 493.1C166.8 493.1 166.9 493.2 167 493.2C167.1 493.3 167.1 493.3 167.1 493.4Z" fill="#f50000"/>
<path d="M167.1 485.8C167.1 486.1 167 486.3 166.9 486.6C166.9 486.8 166.7 487 166.5 487.2C166.3 487.4 166.1 487.6 165.9 487.6C165.6 487.7 165.4 487.8 165.1 487.8C164.8 487.8 164.6 487.7 164.3 487.6C164.1 487.6 163.9 487.4 163.7 487.2C163.5 487 163.3 486.8 163.3 486.6C163.2 486.3 163.1 486.1 163.1 485.8C163.1 485.5 163.2 485.3 163.3 485C163.3 484.8 163.5 484.6 163.7 484.4C163.9 484.2 164.1 484 164.3 484C164.6 483.9 164.8 483.8 165.1 483.8C165.4 483.8 165.6 483.9 165.9 484C166.1 484 166.3 484.2 166.5 484.4C166.7 484.6 166.9 484.8 166.9 485C167 485.3 167.1 485.5 167.1 485.8Z" fill="#00a4fc"/>
<path d="M166.4 485.8C166.4 486 166.4 486.2 166.3 486.3C166.3 486.5 166.2 486.6 166 486.7C165.9 486.9 165.8 487 165.6 487C165.5 487.1 165.3 487.1 165.1 487.1C164.9 487.1 164.7 487.1 164.6 487C164.4 487 164.3 486.9 164.2 486.7C164 486.6 163.9 486.5 163.9 486.3C163.8 486.2 163.8 486 163.8 485.8C163.8 485.6 163.8 485.4 163.9 485.3C163.9 485.1 164 485 164.2 484.9C164.3 484.7 164.4 484.6 164.6 484.6C164.7 484.5 164.9 484.5 165.1 484.5C165.3 484.5 165.5 484.5 165.6 484.6C165.8 484.6 165.9 484.7 166 484.9C166.2 485 166.3 485.1 166.3 485.3C166.4 485.4 166.4 485.6 166.4 485.8Z" fill="#00cdf7"/>
<path d="M165.9 485.8C165.9 485.9 165.9 486 165.9 486.1C165.8 486.2 165.8 486.3 165.7 486.4C165.6 486.5 165.5 486.5 165.4 486.6C165.3 486.6 165.2 486.6 165.1 486.6C165 486.6 164.9 486.6 164.8 486.6C164.7 486.5 164.6 486.5 164.5 486.4C164.4 486.3 164.4 486.2 164.3 486.1C164.3 486 164.3 485.9 164.3 485.8C164.3 485.7 164.3 485.6 164.3 485.5C164.4 485.4 164.4 485.3 164.5 485.2C164.6 485.1 164.7 485.1 164.8 485C164.9 485 165 485 165.1 485C165.2 485 165.3 485 165.4 485C165.5 485.1 165.6 485.1 165.7 485.2C165.8 485.3 165.8 485.4 165.9 485.5C165.9 485.6 165.9 485.7 165.9 485.8Z" fill="#05e8ce"/>
<path d="M165.5 485.8C165.5 485.9 165.5 485.9 165.5 486C165.5 486 165.4 486 165.4 486.1C165.3 486.1 165.3 486.2 165.3 486.2C165.2 486.2 165.2 486.2 165.1 486.2C165 486.2 165 486.2 164.9 486.2C164.9 486.2 164.9 486.1 164.8 486.1C164.8 486 164.7 486 164.7 486C164.7 485.9 164.7 485.9 164.7 485.8C164.7 485.7 164.7 485.7 164.7 485.6C164.7 485.6 164.8 485.6 164.8 485.5C164.9 485.5 164.9 485.4 164.9 485.4C165 485.4 165 485.4 165.1 485.4C165.2 485.4 165.2 485.4 165.3 485.4C165.3 485.4 165.3 485.5 165.4 485.5C165.4 485.6 165.5 485.6 165.5 485.6C165.5 485.7 165.5 485.7 165.5 485.8Z" fill="#0ef67f"/>
</g></g>
<path d="M166.3 452.5L171.3 443.8L182.5 440L190.5 441.3L193.8 452.5L190 462.5L182.5 468.3L173.8 466.3L166.3 461.3Z" fill="none" stroke="#111" stroke-width="0.9"/>
<text transform="translate(195.5 432.2)" font-size="7.6" text-anchor="middle" dy="2.7">17</text>
<rect x="241.2" y="424.4" width="69.6" height="69.5" fill="none" stroke="#111" stroke-width="0.9"/>
<text transform="translate(235.4 432) scale(0.86 1)" font-size="8.6" text-anchor="end" dy="3.05">10<tspan font-size="6.19" dy="-3.44">5</tspan></text>
<text transform="translate(235.4 447.7) scale(0.86 1)" font-size="8.6" text-anchor="end" dy="3.05">10<tspan font-size="6.19" dy="-3.44">4</tspan></text>
<text transform="translate(235.4 463.4) scale(0.86 1)" font-size="8.6" text-anchor="end" dy="3.05">10<tspan font-size="6.19" dy="-3.44">3</tspan></text>
<text transform="translate(235.4 479.2) scale(0.86 1)" font-size="8.6" text-anchor="end" dy="3.05">10<tspan font-size="6.19" dy="-3.44">2</tspan></text>
<text transform="translate(235.6 488) scale(0.86 1)" font-size="8.6" text-anchor="end" dy="3.05">0</text>
<path d="M238.9 432H241.2M238.9 447.7H241.2M238.9 463.4H241.2M238.9 479.2H241.2M238.9 487.4H241.2M239.9 443H241.2M239.9 440.2H241.2M239.9 438.2H241.2M239.9 436.7H241.2M239.9 435.5H241.2M239.9 434.4H241.2M239.9 433.5H241.2M239.9 432.7H241.2M239.9 458.7H241.2M239.9 455.9H241.2M239.9 453.9H241.2M239.9 452.4H241.2M239.9 451.2H241.2M239.9 450.1H241.2M239.9 449.2H241.2M239.9 448.4H241.2M239.9 474.4H241.2M239.9 471.6H241.2M239.9 469.6H241.2M239.9 468.1H241.2M239.9 466.9H241.2M239.9 465.8H241.2M239.9 464.9H241.2M239.9 464.1H241.2M239.9 482.4H241.2M239.9 484.9H241.2M239.9 490.4H241.2M239.9 492.4H241.2M253.1 493.9V496.2M258.1 493.9V495.2M261 493.9V495.2M263 493.9V495.2M264.6 493.9V495.2M265.9 493.9V495.2M267 493.9V495.2M268 493.9V495.2M268.8 493.9V495.2M270.3 493.9V496.2M275.3 493.9V495.2M278.2 493.9V495.2M280.2 493.9V495.2M281.8 493.9V495.2M283.1 493.9V495.2M284.2 493.9V495.2M285.2 493.9V495.2M286 493.9V495.2M287.1 493.9V496.2M292.1 493.9V495.2M295 493.9V495.2M297 493.9V495.2M298.6 493.9V495.2M299.9 493.9V495.2M301 493.9V495.2M302 493.9V495.2M302.8 493.9V495.2M303.1 493.9V496.2M308.1 493.9V495.2M243.2 493.9V495.2M245.2 493.9V495.2M247.7 493.9V495.2M249.2 493.9V495.2" stroke="#111" stroke-width="0.75" fill="none"/>
<text transform="translate(248.4 503.7) scale(0.86 1)" font-size="8.6" text-anchor="middle" dy="3.05">0</text>
<text transform="translate(256.1 503.7) scale(0.86 1)" font-size="8.6" text-anchor="middle" dy="3.05">10<tspan font-size="6.19" dy="-3.44">2</tspan></text>
<text transform="translate(273.3 503.7) scale(0.86 1)" font-size="8.6" text-anchor="middle" dy="3.05">10<tspan font-size="6.19" dy="-3.44">3</tspan></text>
<text transform="translate(290.1 503.7) scale(0.86 1)" font-size="8.6" text-anchor="middle" dy="3.05">10<tspan font-size="6.19" dy="-3.44">4</tspan></text>
<text transform="translate(306.1 503.7) scale(0.86 1)" font-size="8.6" text-anchor="middle" dy="3.05">10<tspan font-size="6.19" dy="-3.44">5</tspan></text>
<g clip-path="url(#c15)"><g filter="url(#bl)">
<path d="M240.5 450.2C241 443.3 242.5 452.1 243.6 452.9C244.7 453.7 245.5 455.1 247.1 455.1C248.7 455.1 251.1 453.6 253.3 452.9C255.5 452.2 258.2 451.2 260.4 450.7C262.6 450.2 265.3 449.7 266.7 449.8C268.1 449.9 268.6 449.9 268.9 451.1C269.2 452.4 268.9 455.4 268.4 457.3C267.9 459.2 266.8 460.8 265.8 462.7C264.9 464.6 263.4 466.7 262.7 468.9C262 471.1 261.9 473.3 261.8 476C261.7 478.7 261.7 482.4 261.8 484.9C261.9 487.4 262.3 489.6 262.7 491.1C263.1 492.6 267.7 493.5 264 494C260.3 494.5 244.4 501.3 240.5 494C236.6 486.7 240 457.1 240.5 450.2Z" fill="#0a0aeb"/>
<path d="M241.7 452.4C242.1 446.2 243.4 454.1 244.4 454.8C245.4 455.5 246.1 456.8 247.6 456.8C249 456.8 251.2 455.5 253.2 454.8C255.2 454.1 257.6 453.3 259.6 452.8C261.6 452.4 264 452 265.2 452C266.5 452.1 267 452.1 267.2 453.2C267.5 454.3 267.2 457 266.8 458.8C266.3 460.5 265.3 461.9 264.4 463.6C263.6 465.4 262.2 467.2 261.6 469.2C261 471.2 261 473.2 260.8 475.6C260.7 478 260.7 481.3 260.8 483.6C261 485.9 261.3 487.8 261.6 489.2C262 490.6 266.1 491.4 262.8 491.8C259.5 492.2 245.2 498.4 241.7 491.8C238.1 485.2 241.2 458.5 241.7 452.4Z" fill="#0616f3"/>
<path d="M242.8 454.6C243.2 449.1 244.4 456.1 245.3 456.7C246.2 457.4 246.8 458.5 248.1 458.5C249.4 458.5 251.3 457.3 253 456.7C254.8 456.1 256.9 455.4 258.7 455C260.5 454.5 262.6 454.2 263.8 454.2C264.9 454.3 265.3 454.3 265.5 455.3C265.7 456.3 265.5 458.7 265.1 460.2C264.7 461.8 263.8 463 263 464.6C262.3 466.1 261.1 467.7 260.6 469.5C260 471.3 260 473.1 259.8 475.2C259.7 477.3 259.7 480.3 259.8 482.3C260 484.3 260.3 486.1 260.6 487.3C260.9 488.5 264.6 489.2 261.6 489.6C258.6 490 245.9 495.4 242.8 489.6C239.7 483.8 242.4 460 242.8 454.6Z" fill="#0222fb"/>
<path d="M243.9 456.7C244.3 451.9 245.3 458.1 246.1 458.6C246.9 459.2 247.4 460.2 248.6 460.2C249.7 460.2 251.4 459.1 252.9 458.6C254.5 458.1 256.3 457.5 257.9 457.1C259.4 456.7 261.3 456.4 262.3 456.5C263.3 456.5 263.6 456.5 263.8 457.4C264 458.2 263.8 460.4 263.5 461.7C263.1 463.1 262.3 464.1 261.7 465.5C261 466.8 260 468.3 259.5 469.8C259 471.4 259 472.9 258.9 474.8C258.8 476.7 258.8 479.3 258.9 481C259 482.8 259.2 484.3 259.5 485.4C259.7 486.4 263 487.1 260.4 487.4C257.8 487.7 246.7 492.5 243.9 487.4C241.2 482.3 243.6 461.5 243.9 456.7Z" fill="#003eff"/>
<path d="M266 457C266 457.4 265.9 457.9 265.6 458.3C265.4 458.8 265 459.2 264.5 459.5C264.1 459.8 263.5 460.1 262.9 460.2C262.3 460.4 261.6 460.5 261 460.5C260.4 460.5 259.7 460.4 259.1 460.2C258.5 460.1 257.9 459.8 257.5 459.5C257 459.2 256.6 458.8 256.4 458.3C256.1 457.9 256 457.4 256 457C256 456.6 256.1 456.1 256.4 455.7C256.6 455.2 257 454.8 257.5 454.5C257.9 454.2 258.5 453.9 259.1 453.8C259.7 453.6 260.4 453.5 261 453.5C261.6 453.5 262.3 453.6 262.9 453.8C263.5 453.9 264.1 454.2 264.5 454.5C265 454.8 265.4 455.2 265.6 455.7C265.9 456.1 266 456.6 266 457Z" fill="#041bf6"/>
<path d="M264.3 457C264.3 457.3 264.2 457.6 264.1 457.9C263.9 458.2 263.7 458.4 263.4 458.7C263.1 458.9 262.7 459 262.3 459.2C261.9 459.3 261.4 459.3 261 459.3C260.6 459.3 260.1 459.3 259.7 459.2C259.3 459 258.9 458.9 258.6 458.7C258.3 458.4 258.1 458.2 257.9 457.9C257.8 457.6 257.7 457.3 257.7 457C257.7 456.7 257.8 456.4 257.9 456.1C258.1 455.8 258.3 455.6 258.6 455.3C258.9 455.1 259.3 455 259.7 454.8C260.1 454.7 260.6 454.7 261 454.7C261.4 454.7 261.9 454.7 262.3 454.8C262.7 455 263.1 455.1 263.4 455.3C263.7 455.6 263.9 455.8 264.1 456.1C264.2 456.4 264.3 456.7 264.3 457Z" fill="#0126fe"/>
<path d="M263.1 457C263.1 457.2 263.1 457.4 262.9 457.6C262.8 457.7 262.7 457.9 262.5 458C262.3 458.2 262.1 458.3 261.8 458.4C261.6 458.4 261.3 458.5 261 458.5C260.7 458.5 260.4 458.4 260.2 458.4C259.9 458.3 259.7 458.2 259.5 458C259.3 457.9 259.2 457.7 259.1 457.6C258.9 457.4 258.9 457.2 258.9 457C258.9 456.8 258.9 456.6 259.1 456.4C259.2 456.3 259.3 456.1 259.5 456C259.7 455.8 259.9 455.7 260.2 455.6C260.4 455.6 260.7 455.5 261 455.5C261.3 455.5 261.6 455.6 261.8 455.6C262.1 455.7 262.3 455.8 262.5 456C262.7 456.1 262.8 456.3 262.9 456.4C263.1 456.6 263.1 456.8 263.1 457Z" fill="#0046ff"/>
<path d="M262 457C262 457.1 262 457.2 261.9 457.3C261.9 457.4 261.8 457.4 261.7 457.5C261.6 457.6 261.5 457.6 261.4 457.6C261.3 457.7 261.1 457.7 261 457.7C260.9 457.7 260.7 457.7 260.6 457.6C260.5 457.6 260.4 457.6 260.3 457.5C260.2 457.4 260.1 457.4 260.1 457.3C260 457.2 260 457.1 260 457C260 456.9 260 456.8 260.1 456.7C260.1 456.6 260.2 456.6 260.3 456.5C260.4 456.4 260.5 456.4 260.6 456.4C260.7 456.3 260.9 456.3 261 456.3C261.1 456.3 261.3 456.3 261.4 456.4C261.5 456.4 261.6 456.4 261.7 456.5C261.8 456.6 261.9 456.6 261.9 456.7C262 456.8 262 456.9 262 457Z" fill="#006bff"/>
<path d="M240.5 460C241.8 455.2 245.4 462.7 248 464C250.6 465.3 254.2 466.2 256 468C257.8 469.8 258.5 471.7 259 475C259.5 478.3 259.5 485 259 488C258.5 491 259.1 492.2 256 493C252.9 493.8 243.1 498.5 240.5 493C237.9 487.5 239.2 464.8 240.5 460Z" fill="#004fff"/>
<path d="M241.3 462.3C242.5 458 245.7 464.6 248 465.8C250.3 467 253.5 467.7 255.1 469.4C256.7 471 257.3 472.6 257.8 475.6C258.2 478.5 258.2 484.4 257.8 487.1C257.3 489.8 257.8 490.8 255.1 491.5C252.4 492.3 243.6 496.4 241.3 491.5C239.1 486.7 240.2 466.5 241.3 462.3Z" fill="#0075ff"/>
<path d="M242.1 464.2C243.1 460.4 246 466.3 248 467.4C250 468.4 252.9 469.1 254.3 470.5C255.8 472 256.3 473.4 256.7 476.1C257.1 478.7 257.1 483.9 256.7 486.3C256.3 488.7 256.8 489.6 254.3 490.3C251.9 490.9 244.1 494.6 242.1 490.3C240 485.9 241.1 468 242.1 464.2Z" fill="#009cfd"/>
<path d="M242.8 466.1C243.6 462.7 246.2 467.9 248 468.9C249.8 469.8 252.3 470.4 253.6 471.6C254.9 472.9 255.3 474.2 255.7 476.5C256 478.8 256 483.5 255.7 485.6C255.3 487.7 255.7 488.5 253.6 489.1C251.4 489.6 244.6 492.9 242.8 489.1C241 485.2 241.9 469.4 242.8 466.1Z" fill="#00c6f8"/>
<path d="M243.4 467.9C244.2 464.9 246.4 469.5 248 470.3C249.6 471.1 251.7 471.6 252.9 472.7C254 473.8 254.4 474.9 254.7 477C255 479 255 483 254.7 484.9C254.4 486.7 254.7 487.4 252.9 487.9C251 488.4 245 491.2 243.4 487.9C241.9 484.6 242.7 470.8 243.4 467.9Z" fill="#03e6d8"/>
<path d="M244.1 469.6C244.8 467.1 246.7 471 248 471.7C249.3 472.4 251.2 472.8 252.2 473.8C253.1 474.7 253.5 475.7 253.7 477.4C254 479.1 254 482.6 253.7 484.2C253.5 485.7 253.8 486.3 252.2 486.8C250.6 487.2 245.4 489.6 244.1 486.8C242.8 483.9 243.5 472.1 244.1 469.6Z" fill="#0df588"/>
<path d="M244.7 471.3C245.3 469.2 246.9 472.5 248 473.1C249.1 473.6 250.7 474 251.5 474.8C252.3 475.6 252.6 476.4 252.8 477.8C253 479.3 253 482.2 252.8 483.5C252.6 484.8 252.8 485.3 251.5 485.6C250.1 486 245.9 488 244.7 485.6C243.6 483.3 244.2 473.4 244.7 471.3Z" fill="#30ff43"/>
<path d="M245.4 473C245.8 471.3 247.1 473.9 248 474.4C248.9 474.9 250.2 475.2 250.8 475.8C251.4 476.4 251.7 477.1 251.8 478.2C252 479.4 252 481.8 251.8 482.8C251.7 483.9 251.9 484.3 250.8 484.6C249.7 484.8 246.3 486.5 245.4 484.6C244.5 482.6 244.9 474.7 245.4 473Z" fill="#8aff19"/>
<path d="M253.6 479C253.6 479.8 253.4 480.6 253.2 481.3C252.9 482 252.5 482.7 252.1 483.2C251.6 483.8 251 484.3 250.4 484.5C249.8 484.8 249.1 485 248.5 485C247.9 485 247.2 484.8 246.6 484.5C246 484.3 245.4 483.8 244.9 483.2C244.5 482.7 244.1 482 243.8 481.3C243.6 480.6 243.4 479.8 243.4 479C243.4 478.2 243.6 477.4 243.8 476.7C244.1 476 244.5 475.3 244.9 474.8C245.4 474.2 246 473.7 246.6 473.5C247.2 473.2 247.9 473 248.5 473C249.1 473 249.8 473.2 250.4 473.5C251 473.7 251.6 474.2 252.1 474.8C252.5 475.3 252.9 476 253.2 476.7C253.4 477.4 253.6 478.2 253.6 479Z" fill="#0ef67f"/>
<path d="M253.1 479C253.1 479.7 252.9 480.4 252.7 481.1C252.5 481.7 252.1 482.3 251.7 482.8C251.3 483.3 250.8 483.7 250.2 484C249.7 484.3 249.1 484.4 248.5 484.4C247.9 484.4 247.3 484.3 246.8 484C246.2 483.7 245.7 483.3 245.3 482.8C244.9 482.3 244.5 481.7 244.3 481.1C244.1 480.4 243.9 479.7 243.9 479C243.9 478.3 244.1 477.6 244.3 476.9C244.5 476.3 244.9 475.7 245.3 475.2C245.7 474.7 246.2 474.3 246.8 474C247.3 473.7 247.9 473.6 248.5 473.6C249.1 473.6 249.7 473.7 250.2 474C250.8 474.3 251.3 474.7 251.7 475.2C252.1 475.7 252.5 476.3 252.7 476.9C252.9 477.6 253.1 478.3 253.1 479Z" fill="#31ff42"/>
<path d="M252.1 479C252.1 479.5 252 480.1 251.9 480.6C251.7 481.2 251.4 481.7 251.1 482C250.7 482.4 250.3 482.8 249.9 483C249.5 483.2 249 483.3 248.5 483.3C248 483.3 247.5 483.2 247.1 483C246.7 482.8 246.3 482.4 245.9 482C245.6 481.7 245.3 481.2 245.1 480.6C245 480.1 244.9 479.5 244.9 479C244.9 478.5 245 477.9 245.1 477.4C245.3 476.8 245.6 476.3 245.9 476C246.3 475.6 246.7 475.2 247.1 475C247.5 474.8 248 474.7 248.5 474.7C249 474.7 249.5 474.8 249.9 475C250.3 475.2 250.7 475.6 251.1 476C251.4 476.3 251.7 476.8 251.9 477.4C252 477.9 252.1 478.5 252.1 479Z" fill="#83ff1c"/>
<path d="M250.9 479C250.9 479.4 250.9 479.8 250.8 480.1C250.6 480.4 250.4 480.8 250.2 481C250 481.3 249.7 481.5 249.4 481.7C249.1 481.8 248.8 481.9 248.5 481.9C248.2 481.9 247.9 481.8 247.6 481.7C247.3 481.5 247 481.3 246.8 481C246.6 480.8 246.4 480.4 246.2 480.1C246.1 479.8 246.1 479.4 246.1 479C246.1 478.6 246.1 478.2 246.2 477.9C246.4 477.6 246.6 477.2 246.8 477C247 476.7 247.3 476.5 247.6 476.3C247.9 476.2 248.2 476.1 248.5 476.1C248.8 476.1 249.1 476.2 249.4 476.3C249.7 476.5 250 476.7 250.2 477C250.4 477.2 250.6 477.6 250.8 477.9C250.9 478.2 250.9 478.6 250.9 479Z" fill="#c8f000"/>
<path d="M249.5 479C249.5 479.2 249.5 479.3 249.4 479.5C249.4 479.6 249.3 479.7 249.2 479.8C249.1 480 249 480.1 248.9 480.1C248.8 480.2 248.6 480.2 248.5 480.2C248.4 480.2 248.2 480.2 248.1 480.1C248 480.1 247.9 480 247.8 479.8C247.7 479.7 247.6 479.6 247.6 479.5C247.5 479.3 247.5 479.2 247.5 479C247.5 478.8 247.5 478.7 247.6 478.5C247.6 478.4 247.7 478.3 247.8 478.2C247.9 478 248 477.9 248.1 477.9C248.2 477.8 248.4 477.8 248.5 477.8C248.6 477.8 248.8 477.8 248.9 477.9C249 477.9 249.1 478 249.2 478.2C249.3 478.3 249.4 478.4 249.4 478.5C249.5 478.7 249.5 478.8 249.5 479Z" fill="#edba00"/>
<path d="M253.3 486.7C253.3 487 253.2 487.4 253.1 487.7C253 488 252.8 488.3 252.5 488.5C252.3 488.8 252 489 251.7 489.1C251.4 489.2 251 489.3 250.7 489.3C250.4 489.3 250 489.2 249.7 489.1C249.4 489 249.1 488.8 248.9 488.5C248.6 488.3 248.4 488 248.3 487.7C248.2 487.4 248.1 487 248.1 486.7C248.1 486.4 248.2 486 248.3 485.7C248.4 485.4 248.6 485.1 248.9 484.9C249.1 484.6 249.4 484.4 249.7 484.3C250 484.2 250.4 484.1 250.7 484.1C251 484.1 251.4 484.2 251.7 484.3C252 484.4 252.3 484.6 252.5 484.9C252.8 485.1 253 485.4 253.1 485.7C253.2 486 253.3 486.4 253.3 486.7Z" fill="#0ef67f"/>
<path d="M252.9 486.7C252.9 487 252.8 487.3 252.7 487.5C252.6 487.8 252.5 488.1 252.3 488.3C252.1 488.5 251.8 488.6 251.5 488.7C251.3 488.8 251 488.9 250.7 488.9C250.4 488.9 250.1 488.8 249.9 488.7C249.6 488.6 249.3 488.5 249.1 488.3C248.9 488.1 248.8 487.8 248.7 487.5C248.6 487.3 248.5 487 248.5 486.7C248.5 486.4 248.6 486.1 248.7 485.9C248.8 485.6 248.9 485.3 249.1 485.1C249.3 484.9 249.6 484.8 249.9 484.7C250.1 484.6 250.4 484.5 250.7 484.5C251 484.5 251.3 484.6 251.5 484.7C251.8 484.8 252.1 484.9 252.3 485.1C252.5 485.3 252.6 485.6 252.7 485.9C252.8 486.1 252.9 486.4 252.9 486.7Z" fill="#37ff40"/>
<path d="M252.2 486.7C252.2 486.9 252.1 487.1 252.1 487.3C252 487.4 251.9 487.6 251.7 487.7C251.6 487.9 251.4 488 251.3 488.1C251.1 488.1 250.9 488.2 250.7 488.2C250.5 488.2 250.3 488.1 250.1 488.1C250 488 249.8 487.9 249.7 487.7C249.5 487.6 249.4 487.4 249.3 487.3C249.3 487.1 249.2 486.9 249.2 486.7C249.2 486.5 249.3 486.3 249.3 486.1C249.4 486 249.5 485.8 249.7 485.7C249.8 485.5 250 485.4 250.1 485.3C250.3 485.3 250.5 485.2 250.7 485.2C250.9 485.2 251.1 485.3 251.3 485.3C251.4 485.4 251.6 485.5 251.7 485.7C251.9 485.8 252 486 252.1 486.1C252.1 486.3 252.2 486.5 252.2 486.7Z" fill="#8eff17"/>
<path d="M251.2 486.7C251.2 486.8 251.2 486.8 251.2 486.9C251.2 487 251.1 487 251.1 487.1C251 487.1 251 487.2 250.9 487.2C250.8 487.2 250.8 487.2 250.7 487.2C250.6 487.2 250.6 487.2 250.5 487.2C250.4 487.2 250.4 487.1 250.3 487.1C250.3 487 250.2 487 250.2 486.9C250.2 486.8 250.2 486.8 250.2 486.7C250.2 486.6 250.2 486.6 250.2 486.5C250.2 486.4 250.3 486.4 250.3 486.3C250.4 486.3 250.4 486.2 250.5 486.2C250.6 486.2 250.6 486.2 250.7 486.2C250.8 486.2 250.8 486.2 250.9 486.2C251 486.2 251 486.3 251.1 486.3C251.1 486.4 251.2 486.4 251.2 486.5C251.2 486.6 251.2 486.6 251.2 486.7Z" fill="#d0e500"/>
<path d="M243.6 474C243.6 475.3 243.6 476.8 243.5 478C243.3 479.2 243.2 480.4 243 481.4C242.7 482.3 242.5 483.1 242.2 483.6C241.9 484.1 241.6 484.4 241.3 484.4C241 484.4 240.7 484.1 240.4 483.6C240.1 483.1 239.9 482.3 239.6 481.4C239.4 480.4 239.3 479.2 239.1 478C239 476.8 239 475.3 239 474C239 472.7 239 471.2 239.1 470C239.3 468.8 239.4 467.6 239.6 466.6C239.9 465.7 240.1 464.9 240.4 464.4C240.7 463.9 241 463.6 241.3 463.6C241.6 463.6 241.9 463.9 242.2 464.4C242.5 464.9 242.7 465.7 243 466.6C243.2 467.6 243.3 468.8 243.5 470C243.6 471.2 243.6 472.7 243.6 474Z" fill="#62ff2b"/>
<path d="M243.4 474C243.4 475.2 243.3 476.5 243.2 477.6C243.1 478.7 243 479.8 242.8 480.6C242.6 481.5 242.4 482.2 242.1 482.6C241.9 483.1 241.6 483.4 241.3 483.4C241 483.4 240.7 483.1 240.5 482.6C240.2 482.2 240 481.5 239.8 480.6C239.6 479.8 239.5 478.7 239.4 477.6C239.3 476.5 239.2 475.2 239.2 474C239.2 472.8 239.3 471.5 239.4 470.4C239.5 469.3 239.6 468.2 239.8 467.4C240 466.5 240.2 465.8 240.5 465.4C240.7 464.9 241 464.6 241.3 464.6C241.6 464.6 241.9 464.9 242.1 465.4C242.4 465.8 242.6 466.5 242.8 467.4C243 468.2 243.1 469.3 243.2 470.4C243.3 471.5 243.4 472.8 243.4 474Z" fill="#c1fb00"/>
<path d="M243 474C243 475 242.9 476 242.9 476.9C242.8 477.7 242.6 478.6 242.5 479.3C242.3 479.9 242.1 480.5 241.9 480.9C241.7 481.3 241.5 481.5 241.3 481.5C241.1 481.5 240.9 481.3 240.7 480.9C240.5 480.5 240.3 479.9 240.1 479.3C240 478.6 239.8 477.7 239.7 476.9C239.7 476 239.6 475 239.6 474C239.6 473 239.7 472 239.7 471.1C239.8 470.3 240 469.4 240.1 468.7C240.3 468.1 240.5 467.5 240.7 467.1C240.9 466.7 241.1 466.5 241.3 466.5C241.5 466.5 241.7 466.7 241.9 467.1C242.1 467.5 242.3 468.1 242.5 468.7C242.6 469.4 242.8 470.3 242.9 471.1C242.9 472 243 473 243 474Z" fill="#edba00"/>
<path d="M242.4 474C242.4 474.6 242.4 475.3 242.3 475.9C242.3 476.5 242.2 477.1 242.1 477.5C242 478 241.9 478.4 241.7 478.6C241.6 478.9 241.4 479 241.3 479C241.2 479 241 478.9 240.9 478.6C240.7 478.4 240.6 478 240.5 477.5C240.4 477.1 240.3 476.5 240.3 475.9C240.2 475.3 240.2 474.6 240.2 474C240.2 473.4 240.2 472.7 240.3 472.1C240.3 471.5 240.4 470.9 240.5 470.5C240.6 470 240.7 469.6 240.9 469.4C241 469.1 241.2 469 241.3 469C241.4 469 241.6 469.1 241.7 469.4C241.9 469.6 242 470 242.1 470.5C242.2 470.9 242.3 471.5 242.3 472.1C242.4 472.7 242.4 473.4 242.4 474Z" fill="#fb6400"/>
<path d="M241.8 474C241.8 474.3 241.8 474.6 241.7 474.8C241.7 475 241.7 475.3 241.6 475.5C241.6 475.7 241.5 475.8 241.5 475.9C241.4 476 241.4 476.1 241.3 476.1C241.2 476.1 241.2 476 241.1 475.9C241.1 475.8 241 475.7 241 475.5C240.9 475.3 240.9 475 240.9 474.8C240.8 474.6 240.8 474.3 240.8 474C240.8 473.7 240.8 473.4 240.9 473.2C240.9 473 240.9 472.7 241 472.5C241 472.3 241.1 472.2 241.1 472.1C241.2 472 241.2 471.9 241.3 471.9C241.4 471.9 241.4 472 241.5 472.1C241.5 472.2 241.6 472.3 241.6 472.5C241.7 472.7 241.7 473 241.7 473.2C241.8 473.4 241.8 473.7 241.8 474Z" fill="#f50000"/>
<path d="M262.6 493.6C262.6 493.9 262.4 494.2 261.9 494.5C261.4 494.8 260.6 495.1 259.7 495.3C258.8 495.5 257.6 495.7 256.4 495.8C255.2 495.9 253.8 496 252.5 496C251.2 496 249.8 495.9 248.6 495.8C247.4 495.7 246.2 495.5 245.3 495.3C244.4 495.1 243.6 494.8 243.1 494.5C242.6 494.2 242.3 493.9 242.3 493.6C242.3 493.3 242.6 493 243.1 492.7C243.6 492.4 244.4 492.1 245.3 491.9C246.2 491.7 247.4 491.5 248.6 491.4C249.8 491.3 251.2 491.2 252.5 491.2C253.8 491.2 255.2 491.3 256.4 491.4C257.6 491.5 258.8 491.7 259.7 491.9C260.6 492.1 261.4 492.4 261.9 492.7C262.4 493 262.6 493.3 262.6 493.6Z" fill="#0ef67f"/>
<path d="M262.1 493.6C262.1 493.9 261.8 494.2 261.4 494.5C260.9 494.7 260.2 495 259.3 495.2C258.4 495.4 257.3 495.6 256.2 495.7C255 495.8 253.7 495.9 252.5 495.9C251.3 495.9 250 495.8 248.8 495.7C247.7 495.6 246.6 495.4 245.7 495.2C244.8 495 244.1 494.7 243.6 494.5C243.2 494.2 242.9 493.9 242.9 493.6C242.9 493.3 243.2 493 243.6 492.7C244.1 492.5 244.8 492.2 245.7 492C246.6 491.8 247.7 491.6 248.8 491.5C250 491.4 251.3 491.3 252.5 491.3C253.7 491.3 255 491.4 256.2 491.5C257.3 491.6 258.4 491.8 259.3 492C260.2 492.2 260.9 492.5 261.4 492.7C261.8 493 262.1 493.3 262.1 493.6Z" fill="#37ff40"/>
<path d="M261.1 493.6C261.1 493.9 260.9 494.1 260.4 494.4C260 494.6 259.3 494.9 258.6 495C257.8 495.2 256.8 495.4 255.8 495.5C254.8 495.6 253.6 495.6 252.5 495.6C251.4 495.6 250.2 495.6 249.2 495.5C248.2 495.4 247.2 495.2 246.4 495C245.7 494.9 245 494.6 244.6 494.4C244.1 494.1 243.9 493.9 243.9 493.6C243.9 493.3 244.1 493.1 244.6 492.8C245 492.6 245.7 492.3 246.4 492.2C247.2 492 248.2 491.8 249.2 491.7C250.2 491.6 251.4 491.6 252.5 491.6C253.6 491.6 254.8 491.6 255.8 491.7C256.8 491.8 257.8 492 258.6 492.2C259.3 492.3 260 492.6 260.4 492.8C260.9 493.1 261.1 493.3 261.1 493.6Z" fill="#8eff17"/>
<path d="M259.8 493.6C259.8 493.8 259.6 494.1 259.2 494.3C258.9 494.5 258.3 494.7 257.6 494.8C257 495 256.1 495.1 255.3 495.2C254.4 495.3 253.4 495.3 252.5 495.3C251.6 495.3 250.6 495.3 249.7 495.2C248.9 495.1 248 495 247.4 494.8C246.7 494.7 246.1 494.5 245.8 494.3C245.4 494.1 245.2 493.8 245.2 493.6C245.2 493.4 245.4 493.1 245.8 492.9C246.1 492.7 246.7 492.5 247.4 492.4C248 492.2 248.9 492.1 249.7 492C250.6 491.9 251.6 491.9 252.5 491.9C253.4 491.9 254.4 491.9 255.3 492C256.1 492.1 257 492.2 257.6 492.4C258.3 492.5 258.9 492.7 259.2 492.9C259.6 493.1 259.8 493.4 259.8 493.6Z" fill="#d0e500"/>
<path d="M258.2 493.6C258.2 493.8 258.1 494 257.8 494.1C257.5 494.3 257.1 494.4 256.6 494.6C256 494.7 255.4 494.8 254.7 494.9C254 494.9 253.2 495 252.5 495C251.8 495 251 494.9 250.3 494.9C249.6 494.8 249 494.7 248.4 494.6C247.9 494.4 247.5 494.3 247.2 494.1C246.9 494 246.8 493.8 246.8 493.6C246.8 493.4 246.9 493.2 247.2 493.1C247.5 492.9 247.9 492.8 248.4 492.6C249 492.5 249.6 492.4 250.3 492.3C251 492.3 251.8 492.2 252.5 492.2C253.2 492.2 254 492.3 254.7 492.3C255.4 492.4 256 492.5 256.6 492.6C257.1 492.8 257.5 492.9 257.8 493.1C258.1 493.2 258.2 493.4 258.2 493.6Z" fill="#f7ac00"/>
<path d="M256.5 493.6C256.5 493.7 256.4 493.8 256.2 494C256 494.1 255.7 494.2 255.3 494.3C255 494.3 254.5 494.4 254 494.5C253.6 494.5 253 494.5 252.5 494.5C252 494.5 251.4 494.5 251 494.5C250.5 494.4 250 494.3 249.7 494.3C249.3 494.2 249 494.1 248.8 494C248.6 493.8 248.5 493.7 248.5 493.6C248.5 493.5 248.6 493.4 248.8 493.2C249 493.1 249.3 493 249.7 492.9C250 492.9 250.5 492.8 251 492.7C251.4 492.7 252 492.7 252.5 492.7C253 492.7 253.6 492.7 254 492.7C254.5 492.8 255 492.9 255.3 492.9C255.7 493 256 493.1 256.2 493.2C256.4 493.4 256.5 493.5 256.5 493.6Z" fill="#fb5900"/>
<path d="M254.5 493.6C254.5 493.7 254.5 493.7 254.4 493.8C254.3 493.8 254.1 493.9 253.9 493.9C253.8 494 253.5 494 253.3 494C253 494.1 252.8 494.1 252.5 494.1C252.2 494.1 252 494.1 251.7 494C251.5 494 251.2 494 251.1 493.9C250.9 493.9 250.7 493.8 250.6 493.8C250.5 493.7 250.5 493.7 250.5 493.6C250.5 493.5 250.5 493.5 250.6 493.4C250.7 493.4 250.9 493.3 251.1 493.3C251.2 493.2 251.5 493.2 251.7 493.2C252 493.1 252.2 493.1 252.5 493.1C252.8 493.1 253 493.1 253.3 493.2C253.5 493.2 253.8 493.2 253.9 493.3C254.1 493.3 254.3 493.4 254.4 493.4C254.5 493.5 254.5 493.5 254.5 493.6Z" fill="#f50000"/>
</g></g>
<path d="M247.1 454.4L259.1 439.6L270.8 440.7L279.2 448.1L279.7 457.6L274.6 468.2L269.7 471.4L261.3 467.1L248.6 461.8Z" fill="none" stroke="#111" stroke-width="0.9"/>
<text transform="translate(277.5 431.3)" font-size="7.6" text-anchor="middle" dy="2.7">12</text>
<rect x="354.4" y="247.9" width="70.1" height="69.8" fill="none" stroke="#111" stroke-width="0.9"/>
<text transform="translate(348.6 255.5) scale(0.86 1)" font-size="8.6" text-anchor="end" dy="3.05">10<tspan font-size="6.19" dy="-3.44">5</tspan></text>
<text transform="translate(348.6 271.2) scale(0.86 1)" font-size="8.6" text-anchor="end" dy="3.05">10<tspan font-size="6.19" dy="-3.44">4</tspan></text>
<text transform="translate(348.6 286.9) scale(0.86 1)" font-size="8.6" text-anchor="end" dy="3.05">10<tspan font-size="6.19" dy="-3.44">3</tspan></text>
<text transform="translate(348.6 302.7) scale(0.86 1)" font-size="8.6" text-anchor="end" dy="3.05">10<tspan font-size="6.19" dy="-3.44">2</tspan></text>
<text transform="translate(348.8 311.5) scale(0.86 1)" font-size="8.6" text-anchor="end" dy="3.05">0</text>
<path d="M352.1 255.5H354.4M352.1 271.2H354.4M352.1 286.9H354.4M352.1 302.7H354.4M352.1 310.9H354.4M353.1 266.5H354.4M353.1 263.7H354.4M353.1 261.7H354.4M353.1 260.2H354.4M353.1 259H354.4M353.1 257.9H354.4M353.1 257H354.4M353.1 256.2H354.4M353.1 282.2H354.4M353.1 279.4H354.4M353.1 277.4H354.4M353.1 275.9H354.4M353.1 274.7H354.4M353.1 273.6H354.4M353.1 272.7H354.4M353.1 271.9H354.4M353.1 297.9H354.4M353.1 295.1H354.4M353.1 293.1H354.4M353.1 291.6H354.4M353.1 290.4H354.4M353.1 289.3H354.4M353.1 288.4H354.4M353.1 287.6H354.4M353.1 305.9H354.4M353.1 308.4H354.4M353.1 313.9H354.4M353.1 315.9H354.4M366.3 317.7V320M371.3 317.7V319M374.2 317.7V319M376.2 317.7V319M377.8 317.7V319M379.1 317.7V319M380.2 317.7V319M381.2 317.7V319M382 317.7V319M383.5 317.7V320M388.5 317.7V319M391.4 317.7V319M393.4 317.7V319M395 317.7V319M396.3 317.7V319M397.4 317.7V319M398.4 317.7V319M399.2 317.7V319M400.3 317.7V320M405.3 317.7V319M408.2 317.7V319M410.2 317.7V319M411.8 317.7V319M413.1 317.7V319M414.2 317.7V319M415.2 317.7V319M416 317.7V319M416.3 317.7V320M421.3 317.7V319M424.2 317.7V319M356.4 317.7V319M358.4 317.7V319M360.9 317.7V319M362.4 317.7V319" stroke="#111" stroke-width="0.75" fill="none"/>
<text transform="translate(361.6 327.5) scale(0.86 1)" font-size="8.6" text-anchor="middle" dy="3.05">0</text>
<text transform="translate(369.3 327.5) scale(0.86 1)" font-size="8.6" text-anchor="middle" dy="3.05">10<tspan font-size="6.19" dy="-3.44">2</tspan></text>
<text transform="translate(386.5 327.5) scale(0.86 1)" font-size="8.6" text-anchor="middle" dy="3.05">10<tspan font-size="6.19" dy="-3.44">3</tspan></text>
<text transform="translate(403.3 327.5) scale(0.86 1)" font-size="8.6" text-anchor="middle" dy="3.05">10<tspan font-size="6.19" dy="-3.44">4</tspan></text>
<text transform="translate(419.3 327.5) scale(0.86 1)" font-size="8.6" text-anchor="middle" dy="3.05">10<tspan font-size="6.19" dy="-3.44">5</tspan></text>
<path d="M391.2 256.7h.7v.7h-.7zM397.4 254.2h.7v.7h-.7zM395.2 263.3h.7v.7h-.7zM386.1 267.7h.7v.7h-.7zM385.7 265.4h.7v.7h-.7zM386.3 254.8h.7v.7h-.7zM393.1 277.6h.7v.7h-.7zM387.4 258.9h.7v.7h-.7zM396.9 281.4h.7v.7h-.7zM396 264.3h.7v.7h-.7zM403.5 253.4h.7v.7h-.7zM401.3 261h.7v.7h-.7zM387.7 255.7h.7v.7h-.7zM390.9 277.3h.7v.7h-.7zM388.4 270h.7v.7h-.7zM397.1 263.5h.7v.7h-.7zM395.4 253.9h.7v.7h-.7zM386.1 258.4h.7v.7h-.7zM397.9 265.3h.7v.7h-.7zM391 270.2h.7v.7h-.7zM393.6 261.3h.7v.7h-.7zM400.1 273.7h.7v.7h-.7zM389.6 269.8h.7v.7h-.7zM395 279.1h.7v.7h-.7zM398.9 260.9h.7v.7h-.7zM403.6 255.7h.7v.7h-.7zM392.9 275.5h.7v.7h-.7zM387.9 267.2h.7v.7h-.7zM385.7 272.7h.7v.7h-.7zM399.5 269.8h.7v.7h-.7zM401.6 261.7h.7v.7h-.7zM398.2 270.4h.7v.7h-.7zM396 266.1h.7v.7h-.7zM401 281.3h.7v.7h-.7zM394 272.6h.7v.7h-.7zM386.2 273.7h.7v.7h-.7zM397.3 282.8h.7v.7h-.7zM400.6 260.8h.7v.7h-.7zM392.3 272.7h.7v.7h-.7zM385.4 266.3h.7v.7h-.7zM388.2 255.6h.7v.7h-.7zM386.1 275.8h.7v.7h-.7zM387.5 259.7h.7v.7h-.7zM392.4 279h.7v.7h-.7zM386.5 265.9h.7v.7h-.7zM395.4 279.4h.7v.7h-.7zM400.6 278.8h.7v.7h-.7zM390.3 264.9h.7v.7h-.7zM391.8 279.4h.7v.7h-.7zM403.2 256.7h.7v.7h-.7zM388.3 259.2h.7v.7h-.7zM389.4 267h.7v.7h-.7zM396.2 260.1h.7v.7h-.7zM385.1 265h.7v.7h-.7zM392 269.6h.7v.7h-.7zM403.1 273.4h.7v.7h-.7zM394.8 271.1h.7v.7h-.7zM397.8 253.7h.7v.7h-.7zM402.1 276.2h.7v.7h-.7zM401.6 276.7h.7v.7h-.7zM392.5 264.4h.7v.7h-.7zM387 271.7h.7v.7h-.7zM386.2 254.1h.7v.7h-.7zM389 257h.7v.7h-.7zM391.5 253.6h.7v.7h-.7zM385 256.7h.7v.7h-.7zM386.9 263.3h.7v.7h-.7zM385.5 279.1h.7v.7h-.7zM396.7 256.6h.7v.7h-.7zM389.8 262.8h.7v.7h-.7zM391.9 255.8h.7v.7h-.7zM401.1 282.8h.7v.7h-.7zM393.9 267h.7v.7h-.7zM386.6 255.2h.7v.7h-.7zM391.5 260.2h.7v.7h-.7zM400.7 257h.7v.7h-.7zM385.4 281.5h.7v.7h-.7zM395 256.5h.7v.7h-.7zM395.3 252.8h.7v.7h-.7zM395 282.3h.7v.7h-.7zM401.4 273.6h.7v.7h-.7zM390 263.4h.7v.7h-.7zM388.2 275.9h.7v.7h-.7zM395.1 276.2h.7v.7h-.7zM391.3 258.9h.7v.7h-.7zM400.4 282.5h.7v.7h-.7zM401.2 277h.7v.7h-.7zM400.5 274.9h.7v.7h-.7zM389.3 268h.7v.7h-.7zM391.8 252.9h.7v.7h-.7zM385.5 260.7h.7v.7h-.7zM389.9 273.5h.7v.7h-.7zM403.2 265.9h.7v.7h-.7zM402.8 282.6h.7v.7h-.7zM403.1 263.3h.7v.7h-.7zM389.2 259h.7v.7h-.7zM388.7 258.3h.7v.7h-.7zM396.9 279.9h.7v.7h-.7zM401 266.9h.7v.7h-.7zM397.4 276.8h.7v.7h-.7zM386.6 272.5h.7v.7h-.7zM402.3 276.3h.7v.7h-.7zM399.3 266.8h.7v.7h-.7zM388.4 276.5h.7v.7h-.7zM391.3 276.8h.7v.7h-.7zM403.5 264.3h.7v.7h-.7zM392.6 281.4h.7v.7h-.7zM398.8 257.3h.7v.7h-.7zM387.4 256.7h.7v.7h-.7zM402.2 277h.7v.7h-.7zM407.3 314.1h.7v.7h-.7zM409.8 292.5h.7v.7h-.7zM392.2 308h.7v.7h-.7zM399.1 296.4h.7v.7h-.7zM409.6 291.4h.7v.7h-.7zM379.8 289.8h.7v.7h-.7zM383.4 305.4h.7v.7h-.7zM400.7 286.9h.7v.7h-.7zM398.1 305.6h.7v.7h-.7zM398.8 312h.7v.7h-.7zM397.7 308.3h.7v.7h-.7zM410.1 315.7h.7v.7h-.7zM392.8 306.2h.7v.7h-.7zM383.2 280.7h.7v.7h-.7zM382.5 308.7h.7v.7h-.7zM388.3 294.6h.7v.7h-.7zM396.7 294.4h.7v.7h-.7zM393.5 297.8h.7v.7h-.7zM412.5 295.4h.7v.7h-.7zM402.4 307.8h.7v.7h-.7zM396.6 278.4h.7v.7h-.7zM393.8 308.8h.7v.7h-.7zM385 287h.7v.7h-.7zM406.3 305.1h.7v.7h-.7zM398.3 305.3h.7v.7h-.7zM399.5 279.5h.7v.7h-.7zM385.7 286.5h.7v.7h-.7zM405.6 287.4h.7v.7h-.7zM391 284.8h.7v.7h-.7zM385.9 293.3h.7v.7h-.7zM388.8 299.5h.7v.7h-.7zM379.3 299.1h.7v.7h-.7zM393.1 269.6h.7v.7h-.7zM404 291.2h.7v.7h-.7zM380.4 283.4h.7v.7h-.7zM400.5 288.8h.7v.7h-.7zM404.4 304.5h.7v.7h-.7zM403.5 299h.7v.7h-.7zM408.9 303.4h.7v.7h-.7zM401.8 267.7h.7v.7h-.7zM405.4 311.8h.7v.7h-.7zM395.8 288.7h.7v.7h-.7zM413.7 271.9h.7v.7h-.7zM390.8 303.8h.7v.7h-.7zM413.3 293.2h.7v.7h-.7zM402.7 306.5h.7v.7h-.7zM391 293.6h.7v.7h-.7zM400.5 305.5h.7v.7h-.7zM397.9 292.3h.7v.7h-.7zM390.1 290.1h.7v.7h-.7zM405.3 296.1h.7v.7h-.7zM391.4 283.9h.7v.7h-.7zM419.5 309.6h.7v.7h-.7zM403.3 261.1h.7v.7h-.7zM403.2 301h.7v.7h-.7zM411.7 300.4h.7v.7h-.7zM397.7 301.6h.7v.7h-.7zM382.6 308.2h.7v.7h-.7zM400.8 285.7h.7v.7h-.7zM387 286.1h.7v.7h-.7zM400.5 297.2h.7v.7h-.7zM395 282.1h.7v.7h-.7zM415.2 308.3h.7v.7h-.7zM388.6 277.3h.7v.7h-.7zM411.8 307.7h.7v.7h-.7zM412.8 305.3h.7v.7h-.7zM391.2 298.2h.7v.7h-.7zM380.9 285.1h.7v.7h-.7zM397.7 301.6h.7v.7h-.7zM392.4 293.2h.7v.7h-.7zM401.9 299.7h.7v.7h-.7zM403.3 297.5h.7v.7h-.7zM395.6 305.1h.7v.7h-.7zM398.6 284.1h.7v.7h-.7zM393.2 294.8h.7v.7h-.7zM397.3 296.8h.7v.7h-.7zM398.2 297.1h.7v.7h-.7zM397.1 278.4h.7v.7h-.7zM401.6 308.5h.7v.7h-.7zM401.7 292.3h.7v.7h-.7zM401.8 282.2h.7v.7h-.7zM383 295.6h.7v.7h-.7zM390.8 304.4h.7v.7h-.7zM389.5 260.6h.7v.7h-.7zM389.9 315.3h.7v.7h-.7zM395.1 277h.7v.7h-.7zM392.1 301.6h.7v.7h-.7zM402.2 297.1h.7v.7h-.7z" fill="#9a9a9a"/>
<g clip-path="url(#c16)"><g filter="url(#bl)">
<path d="M384.4 300C383.9 297.5 384 292.6 384.8 290C385.6 287.4 387.1 285.7 389 284.5C390.9 283.3 393.6 283.1 396 283C398.4 282.9 401.7 282.6 403.5 283.6C405.3 284.6 406.1 286.6 406.6 289C407.1 291.4 406.9 295.2 406.5 298C406.1 300.8 404.9 303.7 404 306C403.1 308.3 401.8 310.2 401 312C400.2 313.8 399.9 315.8 399.5 317C399.1 318.2 398.9 319 398.5 319C398.1 319 397.9 318.3 397 317C396.1 315.7 394.6 313 393 311C391.4 309 388.9 306.8 387.5 305C386.1 303.2 384.8 302.5 384.4 300Z" fill="#0a0aeb"/>
<path d="M387.1 298.7C386.8 296.6 386.8 292.6 387.5 290.5C388.1 288.4 389.4 287 390.9 286C392.4 285.1 394.6 284.9 396.6 284.8C398.6 284.7 401.3 284.5 402.7 285.3C404.1 286.1 404.8 287.7 405.2 289.7C405.6 291.7 405.5 294.7 405.2 297C404.8 299.3 403.9 301.7 403.1 303.6C402.4 305.5 401.3 307 400.7 308.5C400.1 309.9 399.8 311.6 399.4 312.5C399.1 313.5 399 314.2 398.6 314.2C398.3 314.2 398.2 313.6 397.4 312.5C396.7 311.4 395.4 309.3 394.1 307.6C392.9 306 390.8 304.2 389.7 302.7C388.5 301.3 387.5 300.7 387.1 298.7Z" fill="#0616f3"/>
<path d="M388.5 298C388.2 296.2 388.3 292.6 388.8 290.8C389.4 288.9 390.5 287.7 391.9 286.8C393.2 286 395.2 285.9 396.9 285.7C398.6 285.6 401 285.5 402.3 286.2C403.6 286.9 404.2 288.3 404.5 290.1C404.9 291.8 404.8 294.5 404.5 296.5C404.1 298.6 403.3 300.6 402.7 302.3C402 304 401 305.3 400.5 306.6C400 307.9 399.7 309.4 399.4 310.2C399.1 311.1 399 311.7 398.7 311.7C398.4 311.7 398.3 311.2 397.6 310.2C397 309.3 395.9 307.3 394.7 305.9C393.6 304.5 391.8 302.9 390.8 301.6C389.7 300.3 388.9 299.8 388.5 298Z" fill="#0222fb"/>
<path d="M389.7 297.4C389.4 295.8 389.4 292.7 389.9 291C390.4 289.3 391.4 288.2 392.6 287.5C393.8 286.7 395.6 286.6 397.1 286.5C398.7 286.4 400.8 286.2 402 286.9C403.1 287.5 403.6 288.8 404 290.4C404.3 291.9 404.2 294.3 403.9 296.1C403.6 298 402.9 299.8 402.3 301.3C401.7 302.8 400.8 304 400.4 305.1C399.9 306.3 399.7 307.6 399.4 308.4C399.1 309.1 399 309.6 398.7 309.6C398.5 309.6 398.4 309.2 397.8 308.4C397.2 307.5 396.2 305.8 395.2 304.5C394.2 303.2 392.6 301.8 391.7 300.6C390.8 299.5 390 299 389.7 297.4Z" fill="#003bff"/>
<path d="M390.7 296.9C390.4 295.5 390.5 292.7 390.9 291.2C391.4 289.7 392.3 288.7 393.3 288C394.4 287.4 396 287.2 397.4 287.2C398.7 287.1 400.7 286.9 401.7 287.5C402.7 288.1 403.2 289.2 403.5 290.6C403.7 292 403.7 294.2 403.4 295.8C403.2 297.4 402.5 299.1 402 300.4C401.4 301.7 400.7 302.8 400.2 303.9C399.8 304.9 399.6 306.1 399.4 306.7C399.1 307.4 399 307.9 398.8 307.9C398.6 307.9 398.5 307.5 397.9 306.7C397.4 306 396.5 304.4 395.6 303.3C394.7 302.1 393.3 300.9 392.5 299.8C391.6 298.8 390.9 298.4 390.7 296.9Z" fill="#0063ff"/>
<path d="M391.6 296.5C391.3 295.2 391.4 292.7 391.8 291.4C392.2 290 393 289.1 393.9 288.5C394.9 287.9 396.3 287.8 397.6 287.8C398.8 287.7 400.5 287.5 401.4 288.1C402.3 288.6 402.8 289.6 403 290.8C403.3 292.1 403.2 294 403 295.5C402.7 296.9 402.1 298.4 401.7 299.6C401.2 300.8 400.5 301.7 400.1 302.7C399.7 303.6 399.6 304.7 399.4 305.3C399.1 305.9 399.1 306.3 398.8 306.3C398.6 306.3 398.5 305.9 398.1 305.3C397.6 304.6 396.8 303.2 396 302.2C395.2 301.1 393.9 300 393.2 299.1C392.4 298.1 391.8 297.8 391.6 296.5Z" fill="#008aff"/>
<path d="M392.4 296.1C392.2 295 392.2 292.7 392.6 291.5C392.9 290.3 393.7 289.5 394.5 289C395.4 288.5 396.6 288.4 397.7 288.3C398.8 288.2 400.4 288.1 401.2 288.6C402 289 402.4 290 402.6 291.1C402.8 292.2 402.7 293.9 402.5 295.2C402.3 296.5 401.8 297.8 401.4 298.9C401 299.9 400.4 300.8 400 301.6C399.7 302.4 399.5 303.4 399.3 303.9C399.1 304.4 399.1 304.8 398.9 304.8C398.7 304.8 398.6 304.5 398.2 303.9C397.8 303.3 397.1 302.1 396.4 301.1C395.6 300.2 394.5 299.2 393.8 298.4C393.2 297.6 392.6 297.2 392.4 296.1Z" fill="#00b6fa"/>
<path d="M393.2 295.7C393 294.7 393 292.7 393.4 291.7C393.7 290.6 394.3 289.9 395.1 289.4C395.8 289 396.9 288.9 397.9 288.8C398.9 288.8 400.2 288.7 400.9 289.1C401.7 289.5 402 290.3 402.2 291.3C402.4 292.2 402.3 293.8 402.2 294.9C402 296.1 401.5 297.2 401.1 298.2C400.8 299.1 400.2 299.9 399.9 300.6C399.6 301.3 399.5 302.2 399.3 302.6C399.2 303.1 399.1 303.4 398.9 303.4C398.7 303.4 398.7 303.2 398.3 302.6C397.9 302.1 397.3 301 396.7 300.2C396 299.4 395 298.5 394.4 297.8C393.9 297 393.4 296.7 393.2 295.7Z" fill="#00e1f5"/>
<path d="M393.9 295.4C393.8 294.5 393.8 292.7 394.1 291.8C394.3 290.9 394.9 290.3 395.6 289.8C396.2 289.4 397.2 289.4 398.1 289.3C398.9 289.3 400.1 289.2 400.7 289.5C401.4 289.9 401.7 290.6 401.8 291.4C402 292.3 402 293.6 401.8 294.7C401.6 295.7 401.2 296.7 400.9 297.5C400.6 298.3 400.1 299 399.8 299.6C399.6 300.3 399.5 301 399.3 301.4C399.2 301.8 399.1 302.1 399 302.1C398.8 302.1 398.7 301.9 398.4 301.4C398.1 301 397.6 300 397 299.3C396.4 298.6 395.5 297.8 395 297.2C394.5 296.5 394.1 296.3 393.9 295.4Z" fill="#0af0a1"/>
<path d="M394.6 295C394.5 294.3 394.5 292.7 394.7 291.9C395 291.1 395.5 290.6 396 290.2C396.6 289.9 397.5 289.8 398.2 289.8C399 289.7 400 289.6 400.5 290C401.1 290.3 401.3 290.9 401.5 291.6C401.6 292.4 401.6 293.5 401.5 294.4C401.3 295.3 401 296.2 400.7 296.9C400.4 297.6 400 298.2 399.8 298.7C399.5 299.3 399.4 299.9 399.3 300.3C399.2 300.7 399.1 300.9 399 300.9C398.9 300.9 398.8 300.7 398.5 300.3C398.2 299.9 397.8 299.1 397.3 298.4C396.8 297.8 396 297.1 395.6 296.6C395.1 296 394.8 295.8 394.6 295Z" fill="#18ff4e"/>
<path d="M395.3 294.7C395.2 294 395.2 292.7 395.4 292.1C395.6 291.4 396 290.9 396.5 290.6C397 290.3 397.7 290.2 398.4 290.2C399 290.2 399.9 290.1 400.3 290.4C400.8 290.6 401 291.2 401.2 291.8C401.3 292.4 401.2 293.4 401.1 294.2C401 294.9 400.7 295.7 400.5 296.3C400.2 296.9 399.9 297.4 399.7 297.9C399.5 298.4 399.4 298.9 399.3 299.2C399.2 299.5 399.1 299.7 399 299.7C398.9 299.7 398.9 299.6 398.6 299.2C398.4 298.8 398 298.1 397.6 297.6C397.1 297.1 396.5 296.5 396.1 296C395.7 295.5 395.4 295.4 395.3 294.7Z" fill="#75ff22"/>
<path d="M395.9 294.4C395.8 293.8 395.8 292.8 396 292.2C396.2 291.6 396.5 291.2 396.9 291C397.4 290.7 398 290.7 398.5 290.6C399 290.6 399.8 290.5 400.2 290.8C400.5 291 400.7 291.4 400.8 292C400.9 292.5 400.9 293.3 400.8 294C400.7 294.6 400.5 295.2 400.3 295.7C400.1 296.2 399.8 296.6 399.6 297C399.4 297.5 399.4 297.9 399.3 298.2C399.2 298.4 399.1 298.6 399 298.6C399 298.6 398.9 298.4 398.7 298.2C398.5 297.9 398.2 297.3 397.8 296.8C397.5 296.4 396.9 295.9 396.6 295.5C396.3 295.1 396 294.9 395.9 294.4Z" fill="#c7f100"/>
<path d="M396.5 294.1C396.5 293.6 396.5 292.8 396.6 292.3C396.8 291.8 397 291.5 397.4 291.3C397.7 291.1 398.2 291.1 398.6 291C399.1 291 399.7 291 400 291.1C400.3 291.3 400.4 291.7 400.5 292.1C400.6 292.5 400.6 293.2 400.5 293.7C400.4 294.2 400.2 294.8 400.1 295.2C399.9 295.6 399.7 295.9 399.5 296.2C399.4 296.6 399.3 296.9 399.3 297.1C399.2 297.4 399.1 297.5 399.1 297.5C399 297.5 399 297.4 398.8 297.1C398.6 296.9 398.4 296.4 398.1 296.1C397.8 295.7 397.4 295.3 397.1 295C396.8 294.7 396.6 294.5 396.5 294.1Z" fill="#f1b400"/>
<path d="M397.1 293.8C397.1 293.5 397.1 292.8 397.2 292.4C397.3 292.1 397.5 291.8 397.8 291.6C398 291.5 398.4 291.5 398.8 291.4C399.1 291.4 399.6 291.4 399.8 291.5C400 291.7 400.2 291.9 400.2 292.3C400.3 292.6 400.3 293.1 400.2 293.5C400.2 293.9 400 294.3 399.9 294.6C399.7 295 399.6 295.2 399.5 295.5C399.3 295.7 399.3 296 399.2 296.2C399.2 296.3 399.2 296.4 399.1 296.4C399 296.4 399 296.4 398.9 296.2C398.8 296 398.6 295.6 398.3 295.3C398.1 295.1 397.8 294.8 397.6 294.5C397.4 294.2 397.2 294.1 397.1 293.8Z" fill="#fb5f00"/>
<path d="M397.7 293.5C397.7 293.3 397.7 292.8 397.8 292.5C397.8 292.3 398 292.1 398.2 292C398.4 291.9 398.6 291.8 398.9 291.8C399.1 291.8 399.5 291.8 399.6 291.9C399.8 292 399.9 292.2 399.9 292.4C400 292.7 400 293 399.9 293.3C399.9 293.6 399.8 293.9 399.7 294.1C399.6 294.4 399.5 294.5 399.4 294.7C399.3 294.9 399.3 295.1 399.2 295.2C399.2 295.3 399.2 295.4 399.1 295.4C399.1 295.4 399.1 295.4 399 295.2C398.9 295.1 398.7 294.8 398.6 294.6C398.4 294.4 398.2 294.2 398 294C397.9 293.8 397.8 293.8 397.7 293.5Z" fill="#f50000"/>
</g></g>
<rect x="383.2" y="249.5" width="36.9" height="27.7" fill="none" stroke="#333" stroke-width="0.9"/>
<text transform="translate(362.6 264.3)" font-size="7.6" text-anchor="middle" dy="2.7">0.5</text>
<rect x="443.2" y="247.9" width="70.1" height="69.8" fill="none" stroke="#111" stroke-width="0.9"/>
<text transform="translate(437.4 255.5) scale(0.86 1)" font-size="8.6" text-anchor="end" dy="3.05">10<tspan font-size="6.19" dy="-3.44">5</tspan></text>
<text transform="translate(437.4 271.2) scale(0.86 1)" font-size="8.6" text-anchor="end" dy="3.05">10<tspan font-size="6.19" dy="-3.44">4</tspan></text>
<text transform="translate(437.4 286.9) scale(0.86 1)" font-size="8.6" text-anchor="end" dy="3.05">10<tspan font-size="6.19" dy="-3.44">3</tspan></text>
<text transform="translate(437.4 302.7) scale(0.86 1)" font-size="8.6" text-anchor="end" dy="3.05">10<tspan font-size="6.19" dy="-3.44">2</tspan></text>
<text transform="translate(437.6 311.5) scale(0.86 1)" font-size="8.6" text-anchor="end" dy="3.05">0</text>
<path d="M440.9 255.5H443.2M440.9 271.2H443.2M440.9 286.9H443.2M440.9 302.7H443.2M440.9 310.9H443.2M441.9 266.5H443.2M441.9 263.7H443.2M441.9 261.7H443.2M441.9 260.2H443.2M441.9 259H443.2M441.9 257.9H443.2M441.9 257H443.2M441.9 256.2H443.2M441.9 282.2H443.2M441.9 279.4H443.2M441.9 277.4H443.2M441.9 275.9H443.2M441.9 274.7H443.2M441.9 273.6H443.2M441.9 272.7H443.2M441.9 271.9H443.2M441.9 297.9H443.2M441.9 295.1H443.2M441.9 293.1H443.2M441.9 291.6H443.2M441.9 290.4H443.2M441.9 289.3H443.2M441.9 288.4H443.2M441.9 287.6H443.2M441.9 305.9H443.2M441.9 308.4H443.2M441.9 313.9H443.2M441.9 315.9H443.2M455.1 317.7V320M460.1 317.7V319M463 317.7V319M465 317.7V319M466.6 317.7V319M467.9 317.7V319M469 317.7V319M470 317.7V319M470.8 317.7V319M472.3 317.7V320M477.3 317.7V319M480.2 317.7V319M482.2 317.7V319M483.8 317.7V319M485.1 317.7V319M486.2 317.7V319M487.2 317.7V319M488 317.7V319M489.1 317.7V320M494.1 317.7V319M497 317.7V319M499 317.7V319M500.6 317.7V319M501.9 317.7V319M503 317.7V319M504 317.7V319M504.8 317.7V319M505.1 317.7V320M510.1 317.7V319M513 317.7V319M445.2 317.7V319M447.2 317.7V319M449.7 317.7V319M451.2 317.7V319" stroke="#111" stroke-width="0.75" fill="none"/>
<text transform="translate(450.4 327.5) scale(0.86 1)" font-size="8.6" text-anchor="middle" dy="3.05">0</text>
<text transform="translate(458.1 327.5) scale(0.86 1)" font-size="8.6" text-anchor="middle" dy="3.05">10<tspan font-size="6.19" dy="-3.44">2</tspan></text>
<text transform="translate(475.3 327.5) scale(0.86 1)" font-size="8.6" text-anchor="middle" dy="3.05">10<tspan font-size="6.19" dy="-3.44">3</tspan></text>
<text transform="translate(492.1 327.5) scale(0.86 1)" font-size="8.6" text-anchor="middle" dy="3.05">10<tspan font-size="6.19" dy="-3.44">4</tspan></text>
<text transform="translate(508.1 327.5) scale(0.86 1)" font-size="8.6" text-anchor="middle" dy="3.05">10<tspan font-size="6.19" dy="-3.44">5</tspan></text>
<path d="M477.7 301.7h.7v.7h-.7zM482.1 265.3h.7v.7h-.7zM478 308h.7v.7h-.7zM496.9 297.2h.7v.7h-.7zM482.8 270.3h.7v.7h-.7zM483 283.9h.7v.7h-.7zM479.8 283.1h.7v.7h-.7zM482.3 315.6h.7v.7h-.7zM499.3 289.5h.7v.7h-.7zM481.9 315.8h.7v.7h-.7zM483.4 277.5h.7v.7h-.7zM476 279h.7v.7h-.7zM487.4 286.7h.7v.7h-.7zM480.8 286.8h.7v.7h-.7zM476.1 271.6h.7v.7h-.7zM478.2 280.2h.7v.7h-.7zM477 256.4h.7v.7h-.7zM483.3 269.7h.7v.7h-.7zM490.1 288.3h.7v.7h-.7zM494 296.4h.7v.7h-.7zM493.2 310.4h.7v.7h-.7zM485.3 275.5h.7v.7h-.7zM499.6 264.4h.7v.7h-.7zM493.4 295.5h.7v.7h-.7zM477.1 307.6h.7v.7h-.7zM497.4 294.5h.7v.7h-.7zM493.6 306.2h.7v.7h-.7zM479.3 288h.7v.7h-.7zM488.1 307.6h.7v.7h-.7zM495.3 307.1h.7v.7h-.7zM490 311.2h.7v.7h-.7zM492.4 298.7h.7v.7h-.7zM481.5 257h.7v.7h-.7zM479.2 277.7h.7v.7h-.7zM478.5 307.7h.7v.7h-.7zM489.4 294.5h.7v.7h-.7zM491 297.9h.7v.7h-.7zM487.7 255.2h.7v.7h-.7zM495.1 302.1h.7v.7h-.7zM488.1 288.7h.7v.7h-.7zM485.2 290.1h.7v.7h-.7zM486.3 284.2h.7v.7h-.7zM492.4 298.7h.7v.7h-.7zM486.1 285.4h.7v.7h-.7zM485.4 258.7h.7v.7h-.7zM478.9 294.6h.7v.7h-.7zM474.8 296.7h.7v.7h-.7zM488 276.2h.7v.7h-.7zM484.8 290h.7v.7h-.7zM490.5 302.1h.7v.7h-.7zM486.5 283h.7v.7h-.7zM485.6 293.2h.7v.7h-.7zM492.7 297.9h.7v.7h-.7zM481 276.5h.7v.7h-.7zM483.8 284.5h.7v.7h-.7zM477.9 292.6h.7v.7h-.7zM482.9 295.5h.7v.7h-.7zM491 288.7h.7v.7h-.7zM505.4 289.9h.7v.7h-.7zM495.6 295.7h.7v.7h-.7zM495.7 263.2h.7v.7h-.7zM480.8 297.3h.7v.7h-.7zM489.4 310.7h.7v.7h-.7zM492.9 306.4h.7v.7h-.7zM490.9 292.1h.7v.7h-.7zM490.9 280.1h.7v.7h-.7zM496.3 280.9h.7v.7h-.7zM485 294.4h.7v.7h-.7zM496.1 294.4h.7v.7h-.7zM480.3 297.5h.7v.7h-.7zM491.5 303.3h.7v.7h-.7zM480.6 316.9h.7v.7h-.7zM500.1 294.3h.7v.7h-.7zM488.9 288.5h.7v.7h-.7zM498.1 284.9h.7v.7h-.7zM492.2 287.9h.7v.7h-.7zM481.2 303.4h.7v.7h-.7zM497.5 294h.7v.7h-.7zM481.4 304.6h.7v.7h-.7zM486.4 298.1h.7v.7h-.7zM499 308.8h.7v.7h-.7zM486.8 304.3h.7v.7h-.7zM481.6 293.5h.7v.7h-.7zM497.7 278.3h.7v.7h-.7zM474.8 273h.7v.7h-.7zM496.2 288.1h.7v.7h-.7zM486.3 290h.7v.7h-.7zM485.8 280h.7v.7h-.7zM487 275.4h.7v.7h-.7zM486.2 298.1h.7v.7h-.7zM490.5 291.1h.7v.7h-.7zM479.6 296.2h.7v.7h-.7zM482.9 314.5h.7v.7h-.7zM492.9 292.6h.7v.7h-.7zM483 285h.7v.7h-.7zM479.3 289.5h.7v.7h-.7zM489.2 300.8h.7v.7h-.7zM481.2 294.3h.7v.7h-.7zM509.2 269.8h.7v.7h-.7zM482.6 296.3h.7v.7h-.7zM488 299.4h.7v.7h-.7zM484.9 298.9h.7v.7h-.7zM487.2 304.1h.7v.7h-.7zM471.7 282.6h.7v.7h-.7zM486.8 280.7h.7v.7h-.7z" fill="#9a9a9a"/>
<g clip-path="url(#c17)"><g filter="url(#bl)">
<path d="M477.2 268.5C477.8 266.8 479.1 265.3 480.5 264.2C481.9 263.1 484.4 261.9 485.8 261.6C487.2 261.3 487.8 261.4 488.7 262.5C489.6 263.6 490.6 265.9 491.1 268.5C491.6 271.1 491.5 275.5 491.9 278.1C492.3 280.7 493.1 281.6 493.6 283.9C494.1 286.1 494.7 288.9 494.8 291.6C494.9 294.3 494.5 297.4 494 300.3C493.5 303.2 492.5 306.9 491.6 309C490.7 311.1 489.7 312.7 488.7 313C487.7 313.3 486.8 312.5 485.8 310.9C484.8 309.3 483.4 305.1 482.5 303.2C481.6 301.3 481.2 300.7 480.1 299.4C479 298.1 476.7 297.3 475.7 295.5C474.7 293.7 474.1 290.7 474.3 288.8C474.5 286.9 476.1 285.7 476.7 283.9C477.2 282.1 477.6 279.7 477.6 278.1C477.6 276.5 477 275.9 476.9 274.3C476.8 272.7 476.6 270.2 477.2 268.5Z" fill="#0a0aeb"/>
<path d="M479.2 272.9C479.6 271.5 480.7 270.3 481.8 269.4C483 268.4 485.1 267.5 486.2 267.2C487.3 267 487.8 267 488.5 268C489.3 268.9 490.1 270.7 490.5 272.9C490.9 275 490.8 278.6 491.1 280.7C491.5 282.8 492.1 283.6 492.5 285.4C492.9 287.2 493.5 289.5 493.5 291.7C493.6 293.9 493.3 296.4 492.9 298.8C492.4 301.1 491.6 304.2 490.9 305.9C490.2 307.6 489.3 308.9 488.5 309.1C487.7 309.4 487 308.8 486.2 307.4C485.3 306.1 484.3 302.7 483.5 301.1C482.7 299.6 482.4 299.1 481.5 298.1C480.6 297 478.7 296.3 477.9 294.9C477.1 293.4 476.7 291 476.8 289.4C476.9 287.8 478.3 286.9 478.8 285.4C479.2 284 479.5 282 479.5 280.7C479.5 279.4 479 278.9 478.9 277.6C478.9 276.3 478.7 274.2 479.2 272.9Z" fill="#0616f3"/>
<path d="M480.2 275.1C480.6 273.9 481.5 272.8 482.5 272C483.6 271.2 485.4 270.3 486.4 270.1C487.3 269.9 487.8 270 488.4 270.8C489.1 271.6 489.8 273.2 490.2 275.1C490.6 277 490.5 280.2 490.8 282C491.1 283.9 491.6 284.6 492 286.2C492.3 287.8 492.8 289.8 492.8 291.7C492.9 293.7 492.6 295.9 492.3 298C491.9 300.1 491.2 302.7 490.5 304.3C489.9 305.8 489.1 306.9 488.4 307.1C487.8 307.4 487.1 306.8 486.4 305.6C485.6 304.5 484.7 301.5 484 300.1C483.3 298.7 483.1 298.3 482.3 297.4C481.4 296.4 479.8 295.8 479.1 294.5C478.4 293.3 478 291.1 478.1 289.7C478.2 288.3 479.4 287.5 479.8 286.2C480.2 284.9 480.4 283.2 480.5 282C480.5 280.9 480 280.4 480 279.3C479.9 278.1 479.7 276.3 480.2 275.1Z" fill="#0222fb"/>
<path d="M481 276.9C481.4 275.8 482.2 274.9 483.1 274.2C484 273.4 485.6 272.7 486.5 272.5C487.4 272.3 487.8 272.3 488.4 273.1C488.9 273.8 489.6 275.3 489.9 276.9C490.3 278.6 490.2 281.4 490.4 283.1C490.7 284.7 491.2 285.4 491.5 286.8C491.8 288.3 492.3 290 492.3 291.8C492.3 293.5 492.1 295.5 491.8 297.4C491.4 299.2 490.8 301.6 490.2 303C489.7 304.3 489 305.3 488.4 305.5C487.8 305.7 487.2 305.2 486.5 304.2C485.8 303.1 485 300.5 484.4 299.2C483.8 298 483.6 297.6 482.8 296.8C482.1 296 480.6 295.4 480 294.3C479.4 293.2 479 291.2 479.1 290C479.2 288.7 480.3 288 480.7 286.8C481 285.7 481.2 284.1 481.2 283.1C481.3 282.1 480.8 281.7 480.8 280.7C480.7 279.6 480.6 278 481 276.9Z" fill="#003bff"/>
<path d="M481.7 278.5C482 277.5 482.8 276.7 483.6 276C484.4 275.4 485.9 274.7 486.6 274.5C487.4 274.4 487.8 274.4 488.3 275.1C488.8 275.7 489.4 277 489.7 278.5C490 280 489.9 282.6 490.2 284C490.4 285.5 490.9 286.1 491.1 287.4C491.4 288.7 491.8 290.2 491.8 291.8C491.9 293.4 491.7 295.2 491.4 296.8C491.1 298.5 490.5 300.6 490 301.8C489.5 303 488.9 303.9 488.3 304.1C487.8 304.3 487.2 303.9 486.6 302.9C486.1 302 485.3 299.6 484.7 298.5C484.2 297.4 484 297 483.4 296.3C482.7 295.6 481.4 295.1 480.8 294.1C480.3 293 479.9 291.3 480 290.2C480.1 289.1 481.1 288.4 481.4 287.4C481.7 286.4 481.9 285 481.9 284C481.9 283.1 481.6 282.8 481.5 281.9C481.5 280.9 481.4 279.5 481.7 278.5Z" fill="#0063ff"/>
<path d="M482.3 280C482.7 279.1 483.3 278.3 484 277.7C484.8 277.1 486.1 276.5 486.8 276.4C487.5 276.3 487.8 276.3 488.3 276.9C488.7 277.5 489.2 278.6 489.5 280C489.8 281.3 489.7 283.6 489.9 284.9C490.1 286.2 490.5 286.7 490.8 287.9C491 289 491.4 290.4 491.4 291.8C491.4 293.2 491.3 294.8 491 296.3C490.7 297.8 490.2 299.7 489.8 300.8C489.3 301.9 488.8 302.7 488.3 302.9C487.8 303 487.3 302.6 486.8 301.8C486.2 300.9 485.6 298.8 485.1 297.8C484.6 296.8 484.4 296.5 483.8 295.9C483.3 295.2 482.1 294.8 481.6 293.9C481.1 292.9 480.8 291.4 480.9 290.4C480.9 289.4 481.8 288.8 482.1 287.9C482.4 287 482.5 285.7 482.5 284.9C482.6 284.1 482.2 283.8 482.2 282.9C482.2 282.1 482 280.8 482.3 280Z" fill="#008aff"/>
<path d="M482.9 281.3C483.2 280.5 483.8 279.8 484.5 279.3C485.1 278.8 486.3 278.2 486.9 278.1C487.5 278 487.8 278 488.2 278.5C488.6 279.1 489.1 280.1 489.3 281.3C489.6 282.5 489.5 284.5 489.7 285.7C489.9 286.9 490.2 287.3 490.5 288.3C490.7 289.4 491 290.6 491 291.9C491 293.1 490.9 294.5 490.6 295.9C490.4 297.2 489.9 298.9 489.5 299.9C489.1 300.8 488.7 301.5 488.2 301.7C487.8 301.8 487.4 301.5 486.9 300.7C486.4 300 485.8 298.1 485.4 297.2C484.9 296.3 484.8 296 484.3 295.4C483.7 294.9 482.7 294.5 482.3 293.7C481.8 292.8 481.5 291.5 481.6 290.6C481.7 289.7 482.5 289.2 482.7 288.3C483 287.5 483.1 286.4 483.1 285.7C483.1 284.9 482.8 284.7 482.8 283.9C482.8 283.2 482.7 282 482.9 281.3Z" fill="#00b6fa"/>
<path d="M483.5 282.5C483.7 281.8 484.3 281.2 484.8 280.8C485.4 280.3 486.4 279.8 487 279.7C487.5 279.6 487.8 279.6 488.2 280.1C488.5 280.5 488.9 281.5 489.1 282.5C489.4 283.6 489.3 285.4 489.5 286.4C489.6 287.5 490 287.9 490.2 288.8C490.4 289.7 490.6 290.8 490.6 291.9C490.7 293 490.5 294.3 490.3 295.4C490.1 296.6 489.7 298.1 489.3 299C489 299.8 488.6 300.5 488.2 300.6C487.8 300.7 487.4 300.4 487 299.7C486.6 299.1 486 297.4 485.6 296.6C485.3 295.8 485.1 295.6 484.7 295.1C484.2 294.5 483.3 294.2 482.9 293.5C482.5 292.8 482.2 291.5 482.3 290.8C482.4 290 483.1 289.5 483.3 288.8C483.5 288 483.6 287.1 483.7 286.4C483.7 285.8 483.4 285.5 483.4 284.9C483.3 284.2 483.3 283.2 483.5 282.5Z" fill="#00e1f5"/>
<path d="M484 283.7C484.2 283.1 484.7 282.6 485.2 282.1C485.7 281.7 486.6 281.3 487.1 281.2C487.6 281.1 487.8 281.1 488.1 281.5C488.4 282 488.8 282.8 489 283.7C489.2 284.6 489.1 286.2 489.3 287.1C489.4 288 489.7 288.4 489.9 289.2C490 290 490.3 290.9 490.3 291.9C490.3 292.9 490.2 294 490 295C489.8 296.1 489.5 297.4 489.2 298.1C488.8 298.9 488.5 299.4 488.1 299.6C487.8 299.7 487.5 299.4 487.1 298.8C486.7 298.2 486.2 296.7 485.9 296.1C485.6 295.4 485.5 295.2 485.1 294.7C484.6 294.2 483.8 293.9 483.5 293.3C483.1 292.7 482.9 291.6 483 290.9C483 290.2 483.6 289.8 483.8 289.2C484 288.5 484.1 287.7 484.2 287.1C484.2 286.5 483.9 286.3 483.9 285.8C483.9 285.2 483.8 284.3 484 283.7Z" fill="#0af0a1"/>
<path d="M484.5 284.8C484.7 284.3 485.1 283.8 485.5 283.5C486 283.1 486.8 282.7 487.2 282.7C487.6 282.6 487.8 282.6 488.1 282.9C488.4 283.3 488.7 284 488.8 284.8C489 285.6 488.9 287 489.1 287.8C489.2 288.6 489.4 288.9 489.6 289.6C489.7 290.3 489.9 291.1 490 291.9C490 292.8 489.9 293.7 489.7 294.6C489.6 295.5 489.2 296.7 489 297.3C488.7 298 488.4 298.5 488.1 298.6C487.8 298.7 487.5 298.4 487.2 297.9C486.9 297.4 486.5 296.1 486.2 295.5C485.9 294.9 485.8 294.8 485.4 294.4C485.1 294 484.4 293.7 484.1 293.2C483.8 292.6 483.6 291.7 483.6 291.1C483.7 290.5 484.2 290.1 484.4 289.6C484.5 289 484.6 288.3 484.6 287.8C484.7 287.3 484.4 287.1 484.4 286.6C484.4 286.1 484.3 285.3 484.5 284.8Z" fill="#18ff4e"/>
<path d="M485 285.9C485.2 285.4 485.5 285 485.9 284.7C486.2 284.4 486.9 284.1 487.3 284C487.6 284 487.8 284 488 284.3C488.3 284.6 488.5 285.2 488.7 285.9C488.8 286.5 488.8 287.7 488.9 288.4C489 289.1 489.2 289.3 489.3 289.9C489.5 290.5 489.6 291.2 489.7 292C489.7 292.7 489.6 293.5 489.4 294.3C489.3 295 489 296 488.8 296.6C488.6 297.1 488.3 297.5 488 297.6C487.8 297.7 487.5 297.5 487.3 297.1C487 296.6 486.6 295.5 486.4 295C486.1 294.5 486.1 294.4 485.8 294C485.5 293.7 484.9 293.5 484.6 293C484.3 292.5 484.2 291.7 484.2 291.2C484.3 290.7 484.7 290.4 484.9 289.9C485 289.5 485.1 288.8 485.1 288.4C485.1 288 484.9 287.8 484.9 287.4C484.9 287 484.8 286.3 485 285.9Z" fill="#75ff22"/>
<path d="M485.5 286.9C485.6 286.5 485.9 286.2 486.2 285.9C486.5 285.7 487.1 285.4 487.4 285.4C487.7 285.3 487.8 285.3 488 285.6C488.2 285.8 488.4 286.3 488.5 286.9C488.6 287.5 488.6 288.4 488.7 289C488.8 289.6 489 289.8 489.1 290.3C489.2 290.8 489.3 291.4 489.3 292C489.4 292.6 489.3 293.3 489.2 293.9C489.1 294.6 488.8 295.4 488.6 295.8C488.4 296.3 488.2 296.7 488 296.7C487.8 296.8 487.6 296.6 487.4 296.3C487.1 295.9 486.8 295 486.6 294.6C486.4 294.1 486.3 294 486.1 293.7C485.8 293.4 485.3 293.2 485.1 292.9C484.9 292.5 484.8 291.8 484.8 291.4C484.9 290.9 485.2 290.7 485.3 290.3C485.5 289.9 485.5 289.4 485.5 289C485.6 288.6 485.4 288.5 485.4 288.2C485.4 287.8 485.3 287.3 485.5 286.9Z" fill="#c7f100"/>
<path d="M485.9 287.9C486 287.6 486.2 287.3 486.5 287.1C486.7 286.9 487.2 286.7 487.4 286.6C487.7 286.6 487.8 286.6 488 286.8C488.1 287 488.3 287.4 488.4 287.9C488.5 288.3 488.5 289.1 488.5 289.6C488.6 290 488.8 290.2 488.8 290.6C488.9 291 489 291.5 489.1 292C489.1 292.5 489 293.1 488.9 293.6C488.8 294.1 488.6 294.8 488.5 295.1C488.3 295.5 488.1 295.8 488 295.9C487.8 295.9 487.6 295.8 487.4 295.5C487.3 295.2 487 294.4 486.8 294.1C486.7 293.7 486.6 293.6 486.4 293.4C486.2 293.2 485.8 293 485.6 292.7C485.5 292.4 485.3 291.9 485.4 291.5C485.4 291.2 485.7 290.9 485.8 290.6C485.9 290.3 486 289.9 486 289.6C486 289.3 485.9 289.2 485.8 288.9C485.8 288.6 485.8 288.2 485.9 287.9Z" fill="#f1b400"/>
<path d="M486.3 288.8C486.4 288.6 486.6 288.4 486.8 288.2C487 288.1 487.3 287.9 487.5 287.9C487.7 287.8 487.8 287.8 487.9 288C488 288.1 488.2 288.5 488.3 288.8C488.3 289.2 488.3 289.8 488.4 290.2C488.4 290.5 488.5 290.6 488.6 291C488.7 291.3 488.8 291.7 488.8 292C488.8 292.4 488.7 292.8 488.7 293.2C488.6 293.6 488.5 294.2 488.3 294.5C488.2 294.7 488.1 295 487.9 295C487.8 295.1 487.7 294.9 487.5 294.7C487.4 294.5 487.2 293.9 487.1 293.6C486.9 293.4 486.9 293.3 486.7 293.1C486.6 292.9 486.3 292.8 486.1 292.6C486 292.3 485.9 291.9 485.9 291.6C485.9 291.4 486.2 291.2 486.3 291C486.3 290.7 486.4 290.4 486.4 290.2C486.4 289.9 486.3 289.8 486.3 289.6C486.3 289.4 486.2 289.1 486.3 288.8Z" fill="#fb5f00"/>
<path d="M486.7 289.7C486.8 289.6 486.9 289.4 487.1 289.3C487.2 289.2 487.5 289.1 487.6 289.1C487.7 289 487.8 289 487.9 289.1C488 289.3 488.1 289.5 488.1 289.7C488.2 290 488.2 290.4 488.2 290.7C488.3 291 488.3 291.1 488.4 291.3C488.4 291.5 488.5 291.8 488.5 292.1C488.5 292.3 488.5 292.6 488.4 292.9C488.4 293.2 488.3 293.6 488.2 293.8C488.1 294 488 294.2 487.9 294.2C487.8 294.2 487.7 294.1 487.6 294C487.5 293.8 487.4 293.4 487.3 293.2C487.2 293 487.1 293 487 292.8C486.9 292.7 486.7 292.6 486.6 292.4C486.5 292.3 486.4 292 486.4 291.8C486.5 291.6 486.6 291.5 486.7 291.3C486.7 291.1 486.8 290.9 486.8 290.7C486.8 290.5 486.7 290.5 486.7 290.3C486.7 290.2 486.7 289.9 486.7 289.7Z" fill="#f50000"/>
</g></g>
<rect x="473.1" y="249.5" width="28.1" height="29.4" fill="none" stroke="#333" stroke-width="0.9"/>
<text transform="translate(455 256.8)" font-size="7.6" text-anchor="middle" dy="2.7">6.6</text>
<rect x="354.6" y="336.6" width="70.1" height="69.8" fill="none" stroke="#111" stroke-width="0.9"/>
<text transform="translate(348.8 344.2) scale(0.86 1)" font-size="8.6" text-anchor="end" dy="3.05">10<tspan font-size="6.19" dy="-3.44">5</tspan></text>
<text transform="translate(348.8 359.9) scale(0.86 1)" font-size="8.6" text-anchor="end" dy="3.05">10<tspan font-size="6.19" dy="-3.44">4</tspan></text>
<text transform="translate(348.8 375.6) scale(0.86 1)" font-size="8.6" text-anchor="end" dy="3.05">10<tspan font-size="6.19" dy="-3.44">3</tspan></text>
<text transform="translate(348.8 391.4) scale(0.86 1)" font-size="8.6" text-anchor="end" dy="3.05">10<tspan font-size="6.19" dy="-3.44">2</tspan></text>
<text transform="translate(349 400.2) scale(0.86 1)" font-size="8.6" text-anchor="end" dy="3.05">0</text>
<path d="M352.3 344.2H354.6M352.3 359.9H354.6M352.3 375.6H354.6M352.3 391.4H354.6M352.3 399.6H354.6M353.3 355.2H354.6M353.3 352.4H354.6M353.3 350.4H354.6M353.3 348.9H354.6M353.3 347.7H354.6M353.3 346.6H354.6M353.3 345.7H354.6M353.3 344.9H354.6M353.3 370.9H354.6M353.3 368.1H354.6M353.3 366.1H354.6M353.3 364.6H354.6M353.3 363.4H354.6M353.3 362.3H354.6M353.3 361.4H354.6M353.3 360.6H354.6M353.3 386.6H354.6M353.3 383.8H354.6M353.3 381.8H354.6M353.3 380.3H354.6M353.3 379.1H354.6M353.3 378H354.6M353.3 377.1H354.6M353.3 376.3H354.6M353.3 394.6H354.6M353.3 397.1H354.6M353.3 402.6H354.6M353.3 404.6H354.6M366.5 406.4V408.7M371.5 406.4V407.7M374.4 406.4V407.7M376.4 406.4V407.7M378 406.4V407.7M379.3 406.4V407.7M380.4 406.4V407.7M381.4 406.4V407.7M382.2 406.4V407.7M383.7 406.4V408.7M388.7 406.4V407.7M391.6 406.4V407.7M393.6 406.4V407.7M395.2 406.4V407.7M396.5 406.4V407.7M397.6 406.4V407.7M398.6 406.4V407.7M399.4 406.4V407.7M400.5 406.4V408.7M405.5 406.4V407.7M408.4 406.4V407.7M410.4 406.4V407.7M412 406.4V407.7M413.3 406.4V407.7M414.4 406.4V407.7M415.4 406.4V407.7M416.2 406.4V407.7M416.5 406.4V408.7M421.5 406.4V407.7M424.4 406.4V407.7M356.6 406.4V407.7M358.6 406.4V407.7M361.1 406.4V407.7M362.6 406.4V407.7" stroke="#111" stroke-width="0.75" fill="none"/>
<text transform="translate(361.8 416.2) scale(0.86 1)" font-size="8.6" text-anchor="middle" dy="3.05">0</text>
<text transform="translate(369.5 416.2) scale(0.86 1)" font-size="8.6" text-anchor="middle" dy="3.05">10<tspan font-size="6.19" dy="-3.44">2</tspan></text>
<text transform="translate(386.7 416.2) scale(0.86 1)" font-size="8.6" text-anchor="middle" dy="3.05">10<tspan font-size="6.19" dy="-3.44">3</tspan></text>
<text transform="translate(403.5 416.2) scale(0.86 1)" font-size="8.6" text-anchor="middle" dy="3.05">10<tspan font-size="6.19" dy="-3.44">4</tspan></text>
<text transform="translate(419.5 416.2) scale(0.86 1)" font-size="8.6" text-anchor="middle" dy="3.05">10<tspan font-size="6.19" dy="-3.44">5</tspan></text>
<path d="M393.8 393.3h.7v.7h-.7zM393.3 390.7h.7v.7h-.7zM388.9 389.9h.7v.7h-.7zM401.5 387.8h.7v.7h-.7zM395 394.8h.7v.7h-.7zM399.7 372.1h.7v.7h-.7zM395.3 388.7h.7v.7h-.7zM389.1 387.3h.7v.7h-.7zM411 371.8h.7v.7h-.7zM397.3 377h.7v.7h-.7zM408.4 383.1h.7v.7h-.7zM403.3 370h.7v.7h-.7zM396 378.9h.7v.7h-.7zM381.9 397.7h.7v.7h-.7zM403.3 356.3h.7v.7h-.7zM402.1 377.3h.7v.7h-.7zM399.7 383.8h.7v.7h-.7zM384.1 376.2h.7v.7h-.7zM408 371.5h.7v.7h-.7zM387.9 361.3h.7v.7h-.7zM386.3 383.4h.7v.7h-.7zM409.6 384.6h.7v.7h-.7zM391.9 370.2h.7v.7h-.7zM400.3 386.1h.7v.7h-.7zM388 363.8h.7v.7h-.7zM398.4 382.2h.7v.7h-.7zM385.6 376.4h.7v.7h-.7zM391.8 385h.7v.7h-.7zM395.2 377.9h.7v.7h-.7z" fill="#9a9a9a"/>
<g clip-path="url(#c18)"><g filter="url(#bl)">
<path d="M386.8 349C387.6 346.3 389.1 346.3 391 345.6C392.9 344.9 396 344.9 398 345C400 345.1 401.9 345 403 346C404.1 347 404.4 348.7 404.6 351C404.8 353.3 404.2 357.3 404.3 360C404.4 362.7 404.9 364.5 405.2 367C405.5 369.5 406 372.3 406 375C406 377.7 406 380.8 405.2 383C404.4 385.2 403 387.4 401 388.4C399 389.4 395.4 389.2 393 388.8C390.6 388.4 388 387.8 386.5 386C385 384.2 384.4 380.7 384.2 378C384 375.3 385 372.7 385.3 370C385.6 367.3 385.9 365.5 386.2 362C386.4 358.5 386 351.7 386.8 349Z" fill="#0a0aeb"/>
<path d="M388.7 354.2C389.4 351.9 390.6 351.9 392.1 351.4C393.6 350.9 396.2 350.9 397.8 350.9C399.5 351 401 350.9 401.9 351.7C402.8 352.5 403 353.9 403.2 355.8C403.4 357.7 402.9 361 403 363.1C403.1 365.3 403.5 366.8 403.7 368.8C403.9 370.9 404.4 373.2 404.4 375.4C404.4 377.5 404.4 380.1 403.7 381.9C403 383.7 401.9 385.5 400.3 386.3C398.6 387.1 395.7 386.9 393.8 386.6C391.8 386.3 389.7 385.8 388.5 384.3C387.3 382.9 386.7 380 386.6 377.8C386.4 375.6 387.2 373.5 387.5 371.3C387.8 369.1 388 367.6 388.2 364.8C388.4 361.9 388.1 356.4 388.7 354.2Z" fill="#0616f3"/>
<path d="M389.7 356.8C390.3 354.9 391.4 354.9 392.7 354.4C394.1 353.9 396.3 353.9 397.7 354C399.2 354 400.6 354 401.3 354.7C402.1 355.4 402.3 356.6 402.5 358.3C402.7 360 402.2 362.8 402.3 364.8C402.4 366.7 402.7 368 402.9 369.8C403.1 371.6 403.5 373.6 403.5 375.6C403.5 377.5 403.5 379.7 402.9 381.3C402.3 382.9 401.4 384.5 399.9 385.2C398.4 385.9 395.9 385.8 394.1 385.5C392.4 385.2 390.5 384.8 389.5 383.5C388.4 382.2 388 379.6 387.8 377.7C387.7 375.8 388.4 373.9 388.6 372C388.8 370 389.1 368.7 389.3 366.2C389.4 363.7 389.1 358.8 389.7 356.8Z" fill="#0222fb"/>
<path d="M390.5 359C391 357.2 392 357.2 393.2 356.8C394.4 356.4 396.4 356.4 397.7 356.4C399 356.5 400.2 356.4 400.9 357.1C401.6 357.7 401.8 358.8 401.9 360.3C402.1 361.8 401.7 364.4 401.7 366.1C401.8 367.8 402.1 369 402.3 370.6C402.5 372.2 402.8 374 402.8 375.7C402.8 377.4 402.8 379.4 402.3 380.9C401.8 382.3 400.9 383.7 399.6 384.3C398.3 385 396 384.8 394.5 384.6C392.9 384.3 391.2 383.9 390.3 382.8C389.3 381.6 388.9 379.4 388.8 377.6C388.7 375.9 389.3 374.2 389.5 372.5C389.7 370.8 389.9 369.6 390.1 367.4C390.3 365.1 390 360.8 390.5 359Z" fill="#003bff"/>
<path d="M391.2 360.9C391.6 359.3 392.5 359.3 393.6 358.9C394.7 358.5 396.5 358.5 397.6 358.6C398.8 358.6 399.9 358.6 400.5 359.2C401.1 359.7 401.3 360.7 401.4 362C401.5 363.4 401.2 365.7 401.2 367.2C401.3 368.8 401.6 369.8 401.8 371.2C401.9 372.7 402.2 374.3 402.2 375.8C402.2 377.4 402.2 379.2 401.8 380.5C401.3 381.7 400.5 383 399.3 383.6C398.2 384.1 396.1 384 394.7 383.8C393.3 383.6 391.8 383.2 391 382.2C390.2 381.1 389.8 379.1 389.7 377.6C389.6 376 390.1 374.5 390.3 373C390.5 371.4 390.7 370.4 390.8 368.4C391 366.4 390.7 362.5 391.2 360.9Z" fill="#0063ff"/>
<path d="M391.8 362.6C392.2 361.2 393 361.2 394 360.8C394.9 360.5 396.5 360.5 397.6 360.5C398.6 360.6 399.6 360.5 400.1 361C400.7 361.6 400.8 362.4 401 363.6C401.1 364.8 400.8 366.9 400.8 368.2C400.9 369.6 401.1 370.6 401.3 371.9C401.4 373.1 401.7 374.6 401.7 376C401.7 377.3 401.7 378.9 401.3 380.1C400.8 381.2 400.2 382.4 399.1 382.9C398.1 383.4 396.2 383.3 395 383.1C393.7 382.9 392.4 382.6 391.6 381.6C390.9 380.7 390.6 378.9 390.5 377.5C390.4 376.1 390.9 374.8 391 373.4C391.2 372 391.4 371.1 391.5 369.3C391.6 367.5 391.4 364 391.8 362.6Z" fill="#008aff"/>
<path d="M392.4 364.2C392.7 362.9 393.4 362.9 394.3 362.6C395.2 362.3 396.6 362.3 397.5 362.3C398.4 362.4 399.3 362.3 399.8 362.8C400.3 363.2 400.4 364 400.5 365.1C400.6 366.1 400.4 368 400.4 369.2C400.4 370.4 400.7 371.3 400.8 372.4C400.9 373.6 401.2 374.9 401.2 376.1C401.2 377.3 401.2 378.7 400.8 379.8C400.4 380.8 399.8 381.8 398.9 382.2C398 382.7 396.3 382.6 395.2 382.4C394.1 382.2 392.9 382 392.2 381.1C391.6 380.3 391.3 378.7 391.2 377.5C391.1 376.2 391.5 375 391.7 373.8C391.8 372.6 392 371.7 392.1 370.1C392.2 368.5 392 365.4 392.4 364.2Z" fill="#00b6fa"/>
<path d="M392.9 365.6C393.2 364.5 393.9 364.5 394.6 364.2C395.4 364 396.7 364 397.5 364C398.3 364 399 364 399.5 364.4C399.9 364.8 400.1 365.5 400.1 366.4C400.2 367.4 400 369 400 370.1C400.1 371.2 400.3 371.9 400.4 372.9C400.5 374 400.7 375.1 400.7 376.2C400.7 377.3 400.7 378.5 400.4 379.4C400.1 380.3 399.5 381.2 398.7 381.6C397.9 382 396.4 382 395.4 381.8C394.5 381.6 393.4 381.4 392.8 380.7C392.2 379.9 391.9 378.5 391.9 377.4C391.8 376.3 392.2 375.2 392.3 374.2C392.4 373.1 392.6 372.3 392.7 370.9C392.8 369.5 392.6 366.7 392.9 365.6Z" fill="#00e1f5"/>
<path d="M393.4 367C393.7 366 394.3 366 394.9 365.8C395.6 365.6 396.7 365.6 397.4 365.6C398.1 365.6 398.8 365.6 399.2 365.9C399.6 366.3 399.7 366.9 399.8 367.7C399.9 368.6 399.6 370 399.7 370.9C399.7 371.9 399.9 372.5 400 373.4C400.1 374.3 400.3 375.3 400.3 376.3C400.3 377.2 400.3 378.3 400 379.1C399.7 379.9 399.2 380.7 398.5 381.1C397.8 381.4 396.5 381.4 395.6 381.2C394.8 381.1 393.8 380.9 393.3 380.2C392.8 379.6 392.6 378.3 392.5 377.4C392.4 376.4 392.8 375.5 392.9 374.5C393 373.6 393.1 372.9 393.2 371.6C393.3 370.4 393.1 368 393.4 367Z" fill="#0af0a1"/>
<path d="M393.9 368.3C394.2 367.5 394.6 367.5 395.2 367.3C395.8 367.1 396.8 367.1 397.4 367.1C398 367.1 398.6 367.1 398.9 367.4C399.3 367.7 399.4 368.2 399.4 369C399.5 369.7 399.3 370.9 399.3 371.7C399.4 372.6 399.5 373.1 399.6 373.9C399.7 374.7 399.9 375.6 399.9 376.4C399.9 377.2 399.9 378.2 399.6 378.9C399.3 379.5 398.9 380.2 398.3 380.5C397.7 380.8 396.6 380.8 395.8 380.7C395.1 380.5 394.3 380.3 393.8 379.8C393.4 379.2 393.2 378.1 393.1 377.3C393 376.5 393.3 375.7 393.4 374.8C393.6 374 393.6 373.4 393.7 372.4C393.8 371.3 393.7 369.2 393.9 368.3Z" fill="#18ff4e"/>
<path d="M394.4 369.6C394.6 368.9 395 368.9 395.5 368.7C396 368.5 396.8 368.5 397.3 368.5C397.9 368.6 398.4 368.5 398.7 368.8C399 369.1 399 369.5 399.1 370.1C399.1 370.7 399 371.8 399 372.5C399 373.2 399.2 373.7 399.2 374.4C399.3 375 399.5 375.8 399.5 376.5C399.5 377.2 399.5 378 399.2 378.6C399 379.2 398.7 379.8 398.1 380C397.6 380.3 396.7 380.2 396 380.1C395.4 380 394.7 379.9 394.3 379.4C393.9 378.9 393.7 378 393.7 377.3C393.6 376.6 393.9 375.9 394 375.1C394.1 374.4 394.2 374 394.2 373C394.3 372.1 394.2 370.3 394.4 369.6Z" fill="#75ff22"/>
<path d="M394.8 370.8C395 370.2 395.3 370.2 395.8 370.1C396.2 369.9 396.9 369.9 397.3 369.9C397.7 369.9 398.2 369.9 398.4 370.1C398.6 370.4 398.7 370.7 398.8 371.2C398.8 371.8 398.7 372.6 398.7 373.2C398.7 373.8 398.8 374.2 398.9 374.8C399 375.3 399.1 376 399.1 376.6C399.1 377.1 399.1 377.8 398.9 378.3C398.7 378.8 398.4 379.3 398 379.5C397.5 379.7 396.7 379.7 396.2 379.6C395.7 379.5 395.1 379.4 394.8 379C394.4 378.6 394.3 377.8 394.2 377.2C394.2 376.6 394.4 376 394.5 375.5C394.6 374.9 394.6 374.5 394.7 373.7C394.7 372.9 394.6 371.4 394.8 370.8Z" fill="#c7f100"/>
<path d="M395.3 372C395.4 371.5 395.7 371.5 396 371.4C396.3 371.2 396.9 371.2 397.3 371.3C397.6 371.3 398 371.3 398.2 371.4C398.4 371.6 398.4 371.9 398.4 372.3C398.5 372.8 398.4 373.5 398.4 373.9C398.4 374.4 398.5 374.8 398.6 375.2C398.6 375.7 398.7 376.2 398.7 376.6C398.7 377.1 398.7 377.7 398.6 378.1C398.4 378.5 398.2 378.9 397.8 379C397.4 379.2 396.8 379.2 396.4 379.1C395.9 379 395.5 378.9 395.2 378.6C394.9 378.3 394.8 377.7 394.8 377.2C394.7 376.7 394.9 376.2 395 375.7C395 375.3 395.1 374.9 395.1 374.3C395.2 373.7 395.1 372.5 395.3 372Z" fill="#f1b400"/>
<path d="M395.7 373.1C395.8 372.7 396 372.7 396.3 372.6C396.5 372.5 396.9 372.5 397.2 372.5C397.5 372.6 397.8 372.5 397.9 372.7C398.1 372.8 398.1 373.1 398.1 373.4C398.2 373.7 398.1 374.3 398.1 374.6C398.1 375 398.2 375.3 398.2 375.6C398.3 376 398.3 376.4 398.3 376.7C398.3 377.1 398.3 377.5 398.2 377.8C398.1 378.1 397.9 378.5 397.6 378.6C397.4 378.7 396.9 378.7 396.5 378.6C396.2 378.6 395.8 378.5 395.6 378.3C395.4 378 395.3 377.5 395.3 377.1C395.3 376.8 395.4 376.4 395.5 376C395.5 375.7 395.5 375.4 395.6 374.9C395.6 374.4 395.6 373.5 395.7 373.1Z" fill="#fb5f00"/>
<path d="M396.1 374.2C396.2 373.9 396.3 373.9 396.5 373.9C396.7 373.8 397 373.8 397.2 373.8C397.4 373.8 397.6 373.8 397.7 373.9C397.8 374 397.8 374.2 397.9 374.4C397.9 374.6 397.8 375 397.8 375.3C397.8 375.6 397.9 375.8 397.9 376C397.9 376.2 398 376.5 398 376.8C398 377.1 398 377.4 397.9 377.6C397.8 377.8 397.7 378 397.5 378.1C397.3 378.2 396.9 378.2 396.7 378.2C396.4 378.1 396.2 378.1 396 377.9C395.9 377.7 395.8 377.4 395.8 377.1C395.8 376.8 395.9 376.6 395.9 376.3C396 376 396 375.9 396 375.5C396 375.1 396 374.5 396.1 374.2Z" fill="#f50000"/>
<path d="M402.5 356.5C402.5 357.7 402.3 359 402 360.1C401.8 361.3 401.3 362.4 400.7 363.2C400.2 364.1 399.5 364.8 398.8 365.3C398.1 365.7 397.3 366 396.5 366C395.7 366 394.9 365.7 394.2 365.3C393.5 364.8 392.8 364.1 392.3 363.2C391.7 362.4 391.2 361.3 391 360.1C390.7 359 390.5 357.7 390.5 356.5C390.5 355.3 390.7 354 391 352.9C391.2 351.7 391.7 350.6 392.3 349.8C392.8 348.9 393.5 348.2 394.2 347.7C394.9 347.3 395.7 347 396.5 347C397.3 347 398.1 347.3 398.8 347.7C399.5 348.2 400.2 348.9 400.7 349.8C401.3 350.6 401.8 351.7 402 352.9C402.3 354 402.5 355.3 402.5 356.5Z" fill="#0223fc"/>
<path d="M401.8 356.5C401.8 357.6 401.6 358.7 401.4 359.7C401.1 360.7 400.7 361.6 400.2 362.4C399.8 363.2 399.1 363.8 398.5 364.2C397.9 364.6 397.2 364.8 396.5 364.8C395.8 364.8 395.1 364.6 394.5 364.2C393.9 363.8 393.2 363.2 392.8 362.4C392.3 361.6 391.9 360.7 391.6 359.7C391.4 358.7 391.2 357.6 391.2 356.5C391.2 355.4 391.4 354.3 391.6 353.3C391.9 352.3 392.3 351.4 392.8 350.6C393.2 349.8 393.9 349.2 394.5 348.8C395.1 348.4 395.8 348.2 396.5 348.2C397.2 348.2 397.9 348.4 398.5 348.8C399.1 349.2 399.8 349.8 400.2 350.6C400.7 351.4 401.1 352.3 401.4 353.3C401.6 354.3 401.8 355.4 401.8 356.5Z" fill="#003dff"/>
<path d="M401 356.5C401 357.4 400.9 358.4 400.7 359.3C400.5 360.1 400.1 360.9 399.7 361.6C399.3 362.2 398.8 362.8 398.2 363.1C397.7 363.5 397.1 363.7 396.5 363.7C395.9 363.7 395.3 363.5 394.8 363.1C394.2 362.8 393.7 362.2 393.3 361.6C392.9 360.9 392.5 360.1 392.3 359.3C392.1 358.4 392 357.4 392 356.5C392 355.6 392.1 354.6 392.3 353.7C392.5 352.9 392.9 352.1 393.3 351.4C393.7 350.8 394.2 350.2 394.8 349.9C395.3 349.5 395.9 349.3 396.5 349.3C397.1 349.3 397.7 349.5 398.2 349.9C398.8 350.2 399.3 350.8 399.7 351.4C400.1 352.1 400.5 352.9 400.7 353.7C400.9 354.6 401 355.6 401 356.5Z" fill="#0064ff"/>
<path d="M400.3 356.5C400.3 357.3 400.2 358.1 400 358.8C399.8 359.5 399.5 360.2 399.2 360.8C398.9 361.3 398.4 361.8 398 362.1C397.5 362.4 397 362.5 396.5 362.5C396 362.5 395.5 362.4 395 362.1C394.6 361.8 394.1 361.3 393.8 360.8C393.5 360.2 393.2 359.5 393 358.8C392.8 358.1 392.7 357.3 392.7 356.5C392.7 355.7 392.8 354.9 393 354.2C393.2 353.5 393.5 352.8 393.8 352.2C394.1 351.7 394.6 351.2 395 350.9C395.5 350.6 396 350.5 396.5 350.5C397 350.5 397.5 350.6 398 350.9C398.4 351.2 398.9 351.7 399.2 352.2C399.5 352.8 399.8 353.5 400 354.2C400.2 354.9 400.3 355.7 400.3 356.5Z" fill="#008aff"/>
<path d="M399.6 356.5C399.6 357.1 399.5 357.8 399.4 358.4C399.2 358.9 399 359.5 398.7 360C398.4 360.4 398 360.8 397.7 361C397.3 361.3 396.9 361.4 396.5 361.4C396.1 361.4 395.7 361.3 395.3 361C395 360.8 394.6 360.4 394.3 360C394 359.5 393.8 358.9 393.6 358.4C393.5 357.8 393.4 357.1 393.4 356.5C393.4 355.9 393.5 355.2 393.6 354.6C393.8 354.1 394 353.5 394.3 353C394.6 352.6 395 352.2 395.3 352C395.7 351.7 396.1 351.6 396.5 351.6C396.9 351.6 397.3 351.7 397.7 352C398 352.2 398.4 352.6 398.7 353C399 353.5 399.2 354.1 399.4 354.6C399.5 355.2 399.6 355.9 399.6 356.5Z" fill="#00b3fa"/>
<path d="M398.9 356.5C398.9 357 398.8 357.5 398.7 357.9C398.6 358.4 398.4 358.8 398.2 359.1C398 359.5 397.7 359.8 397.4 359.9C397.1 360.1 396.8 360.2 396.5 360.2C396.2 360.2 395.9 360.1 395.6 359.9C395.3 359.8 395 359.5 394.8 359.1C394.6 358.8 394.4 358.4 394.3 357.9C394.2 357.5 394.1 357 394.1 356.5C394.1 356 394.2 355.5 394.3 355.1C394.4 354.6 394.6 354.2 394.8 353.9C395 353.5 395.3 353.2 395.6 353.1C395.9 352.9 396.2 352.8 396.5 352.8C396.8 352.8 397.1 352.9 397.4 353.1C397.7 353.2 398 353.5 398.2 353.9C398.4 354.2 398.6 354.6 398.7 355.1C398.8 355.5 398.9 356 398.9 356.5Z" fill="#00ddf6"/>
<path d="M398.1 356.5C398.1 356.8 398.1 357.2 398 357.5C397.9 357.8 397.8 358.1 397.7 358.3C397.5 358.6 397.3 358.8 397.1 358.9C396.9 359 396.7 359.1 396.5 359.1C396.3 359.1 396.1 359 395.9 358.9C395.7 358.8 395.5 358.6 395.3 358.3C395.2 358.1 395.1 357.8 395 357.5C394.9 357.2 394.9 356.8 394.9 356.5C394.9 356.2 394.9 355.8 395 355.5C395.1 355.2 395.2 354.9 395.3 354.7C395.5 354.4 395.7 354.2 395.9 354.1C396.1 354 396.3 353.9 396.5 353.9C396.7 353.9 396.9 354 397.1 354.1C397.3 354.2 397.5 354.4 397.7 354.7C397.8 354.9 397.9 355.2 398 355.5C398.1 355.8 398.1 356.2 398.1 356.5Z" fill="#09eead"/>
<path d="M397.4 356.5C397.4 356.7 397.4 356.9 397.3 357C397.3 357.2 397.2 357.4 397.1 357.5C397.1 357.6 397 357.7 396.8 357.8C396.7 357.9 396.6 357.9 396.5 357.9C396.4 357.9 396.3 357.9 396.2 357.8C396 357.7 395.9 357.6 395.9 357.5C395.8 357.4 395.7 357.2 395.7 357C395.6 356.9 395.6 356.7 395.6 356.5C395.6 356.3 395.6 356.1 395.7 356C395.7 355.8 395.8 355.6 395.9 355.5C395.9 355.4 396 355.3 396.2 355.2C396.3 355.1 396.4 355.1 396.5 355.1C396.6 355.1 396.7 355.1 396.8 355.2C397 355.3 397.1 355.4 397.1 355.5C397.2 355.6 397.3 355.8 397.3 356C397.4 356.1 397.4 356.3 397.4 356.5Z" fill="#13fd5c"/>
<path d="M406.5 377.5C406.5 378.6 406.2 379.8 405.7 380.8C405.2 381.8 404.4 382.7 403.4 383.5C402.5 384.3 401.3 384.9 400 385.4C398.8 385.8 397.3 386 396 386C394.7 386 393.2 385.8 392 385.4C390.7 384.9 389.5 384.3 388.6 383.5C387.6 382.7 386.8 381.8 386.3 380.8C385.8 379.8 385.5 378.6 385.5 377.5C385.5 376.4 385.8 375.2 386.3 374.2C386.8 373.2 387.6 372.3 388.6 371.5C389.5 370.7 390.7 370.1 392 369.6C393.2 369.2 394.7 369 396 369C397.3 369 398.8 369.2 400 369.6C401.3 370.1 402.5 370.7 403.4 371.5C404.4 372.3 405.2 373.2 405.7 374.2C406.2 375.2 406.5 376.4 406.5 377.5Z" fill="#006bff"/>
<path d="M405.4 377.5C405.4 378.5 405.2 379.5 404.7 380.4C404.3 381.3 403.5 382.2 402.7 382.9C401.8 383.6 400.7 384.2 399.6 384.6C398.5 384.9 397.2 385.1 396 385.1C394.8 385.1 393.5 384.9 392.4 384.6C391.3 384.2 390.2 383.6 389.3 382.9C388.5 382.2 387.7 381.3 387.3 380.4C386.8 379.5 386.6 378.5 386.6 377.5C386.6 376.5 386.8 375.5 387.3 374.6C387.7 373.7 388.5 372.8 389.3 372.1C390.2 371.4 391.3 370.8 392.4 370.4C393.5 370.1 394.8 369.9 396 369.9C397.2 369.9 398.5 370.1 399.6 370.4C400.7 370.8 401.8 371.4 402.7 372.1C403.5 372.8 404.3 373.7 404.7 374.6C405.2 375.5 405.4 376.5 405.4 377.5Z" fill="#0092fe"/>
<path d="M404.4 377.5C404.4 378.4 404.2 379.3 403.8 380.1C403.4 380.9 402.7 381.7 401.9 382.3C401.2 382.9 400.2 383.5 399.2 383.8C398.2 384.1 397.1 384.3 396 384.3C394.9 384.3 393.8 384.1 392.8 383.8C391.8 383.5 390.8 382.9 390.1 382.3C389.3 381.7 388.6 380.9 388.2 380.1C387.8 379.3 387.6 378.4 387.6 377.5C387.6 376.6 387.8 375.7 388.2 374.9C388.6 374.1 389.3 373.3 390.1 372.7C390.8 372.1 391.8 371.5 392.8 371.2C393.8 370.9 394.9 370.7 396 370.7C397.1 370.7 398.2 370.9 399.2 371.2C400.2 371.5 401.2 372.1 401.9 372.7C402.7 373.3 403.4 374.1 403.8 374.9C404.2 375.7 404.4 376.6 404.4 377.5Z" fill="#00bdf9"/>
<path d="M403.4 377.5C403.4 378.3 403.1 379.1 402.8 379.8C402.4 380.5 401.9 381.2 401.2 381.7C400.5 382.2 399.7 382.7 398.8 383C397.9 383.3 396.9 383.4 396 383.4C395.1 383.4 394.1 383.3 393.2 383C392.3 382.7 391.5 382.2 390.8 381.7C390.1 381.2 389.6 380.5 389.2 379.8C388.9 379.1 388.6 378.3 388.6 377.5C388.6 376.7 388.9 375.9 389.2 375.2C389.6 374.5 390.1 373.8 390.8 373.3C391.5 372.8 392.3 372.3 393.2 372C394.1 371.7 395.1 371.6 396 371.6C396.9 371.6 397.9 371.7 398.8 372C399.7 372.3 400.5 372.8 401.2 373.3C401.9 373.8 402.4 374.5 402.8 375.2C403.1 375.9 403.4 376.7 403.4 377.5Z" fill="#01e3e9"/>
<path d="M402.3 377.5C402.3 378.2 402.1 378.9 401.8 379.5C401.5 380.1 401 380.6 400.5 381.1C399.9 381.6 399.2 382 398.4 382.2C397.7 382.5 396.8 382.6 396 382.6C395.2 382.6 394.3 382.5 393.6 382.2C392.8 382 392.1 381.6 391.5 381.1C391 380.6 390.5 380.1 390.2 379.5C389.9 378.9 389.7 378.2 389.7 377.5C389.7 376.8 389.9 376.1 390.2 375.5C390.5 374.9 391 374.4 391.5 373.9C392.1 373.4 392.8 373 393.6 372.8C394.3 372.5 395.2 372.4 396 372.4C396.8 372.4 397.7 372.5 398.4 372.8C399.2 373 399.9 373.4 400.5 373.9C401 374.4 401.5 374.9 401.8 375.5C402.1 376.1 402.3 376.8 402.3 377.5Z" fill="#0bf297"/>
<path d="M401.2 377.5C401.2 378 401.1 378.6 400.9 379.1C400.6 379.6 400.2 380.1 399.7 380.5C399.2 380.9 398.6 381.2 398 381.4C397.4 381.6 396.7 381.8 396 381.8C395.3 381.8 394.6 381.6 394 381.4C393.4 381.2 392.8 380.9 392.3 380.5C391.8 380.1 391.4 379.6 391.1 379.1C390.9 378.6 390.8 378 390.8 377.5C390.8 377 390.9 376.4 391.1 375.9C391.4 375.4 391.8 374.9 392.3 374.5C392.8 374.1 393.4 373.8 394 373.6C394.6 373.4 395.3 373.2 396 373.2C396.7 373.2 397.4 373.4 398 373.6C398.6 373.8 399.2 374.1 399.7 374.5C400.2 374.9 400.6 375.4 400.9 375.9C401.1 376.4 401.2 377 401.2 377.5Z" fill="#21ff4a"/>
<path d="M400.2 377.5C400.2 377.9 400.1 378.4 399.9 378.8C399.7 379.2 399.3 379.6 399 379.9C398.6 380.2 398.1 380.5 397.6 380.6C397.1 380.8 396.5 380.9 396 380.9C395.5 380.9 394.9 380.8 394.4 380.6C393.9 380.5 393.4 380.2 393 379.9C392.7 379.6 392.3 379.2 392.1 378.8C391.9 378.4 391.8 377.9 391.8 377.5C391.8 377.1 391.9 376.6 392.1 376.2C392.3 375.8 392.7 375.4 393 375.1C393.4 374.8 393.9 374.5 394.4 374.4C394.9 374.2 395.5 374.1 396 374.1C396.5 374.1 397.1 374.2 397.6 374.4C398.1 374.5 398.6 374.8 399 375.1C399.3 375.4 399.7 375.8 399.9 376.2C400.1 376.6 400.2 377.1 400.2 377.5Z" fill="#7dff1f"/>
<path d="M403.7 377C403.7 377.5 403.5 378.1 403.2 378.6C402.9 379.2 402.4 379.7 401.8 380C401.2 380.4 400.5 380.8 399.7 381C398.9 381.2 398 381.3 397.2 381.3C396.4 381.3 395.5 381.2 394.7 381C393.9 380.8 393.2 380.4 392.6 380C392 379.7 391.5 379.2 391.2 378.6C390.9 378.1 390.7 377.5 390.7 377C390.7 376.5 390.9 375.9 391.2 375.4C391.5 374.8 392 374.3 392.6 374C393.2 373.6 393.9 373.2 394.7 373C395.5 372.8 396.4 372.7 397.2 372.7C398 372.7 398.9 372.8 399.7 373C400.5 373.2 401.2 373.6 401.8 374C402.4 374.3 402.9 374.8 403.2 375.4C403.5 375.9 403.7 376.5 403.7 377Z" fill="#7dff1f"/>
<path d="M402.8 377C402.8 377.5 402.7 378 402.4 378.4C402.1 378.9 401.7 379.3 401.2 379.6C400.7 380 400 380.3 399.4 380.4C398.7 380.6 397.9 380.7 397.2 380.7C396.5 380.7 395.7 380.6 395 380.4C394.4 380.3 393.7 380 393.2 379.6C392.7 379.3 392.3 378.9 392 378.4C391.7 378 391.6 377.5 391.6 377C391.6 376.5 391.7 376 392 375.6C392.3 375.1 392.7 374.7 393.2 374.4C393.7 374 394.4 373.7 395 373.6C395.7 373.4 396.5 373.3 397.2 373.3C397.9 373.3 398.7 373.4 399.4 373.6C400 373.7 400.7 374 401.2 374.4C401.7 374.7 402.1 375.1 402.4 375.6C402.7 376 402.8 376.5 402.8 377Z" fill="#caee00"/>
<path d="M401.6 377C401.6 377.4 401.5 377.8 401.3 378.1C401 378.5 400.7 378.8 400.3 379.1C399.9 379.3 399.4 379.5 398.9 379.7C398.4 379.8 397.8 379.9 397.2 379.9C396.6 379.9 396 379.8 395.5 379.7C395 379.5 394.5 379.3 394.1 379.1C393.7 378.8 393.4 378.5 393.1 378.1C392.9 377.8 392.8 377.4 392.8 377C392.8 376.6 392.9 376.2 393.1 375.9C393.4 375.5 393.7 375.2 394.1 374.9C394.5 374.7 395 374.5 395.5 374.3C396 374.2 396.6 374.1 397.2 374.1C397.8 374.1 398.4 374.2 398.9 374.3C399.4 374.5 399.9 374.7 400.3 374.9C400.7 375.2 401 375.5 401.3 375.9C401.5 376.2 401.6 376.6 401.6 377Z" fill="#f3b100"/>
<path d="M400.1 377C400.1 377.2 400 377.5 399.9 377.7C399.8 378 399.5 378.2 399.3 378.4C399 378.5 398.7 378.7 398.3 378.8C398 378.9 397.6 378.9 397.2 378.9C396.8 378.9 396.4 378.9 396.1 378.8C395.7 378.7 395.4 378.5 395.1 378.4C394.9 378.2 394.6 378 394.5 377.7C394.4 377.5 394.3 377.2 394.3 377C394.3 376.8 394.4 376.5 394.5 376.3C394.6 376 394.9 375.8 395.1 375.6C395.4 375.5 395.7 375.3 396.1 375.2C396.4 375.1 396.8 375.1 397.2 375.1C397.6 375.1 398 375.1 398.3 375.2C398.7 375.3 399 375.5 399.3 375.6C399.5 375.8 399.8 376 399.9 376.3C400 376.5 400.1 376.8 400.1 377Z" fill="#fb5d00"/>
<path d="M398.5 377C398.5 377.1 398.5 377.2 398.4 377.3C398.3 377.4 398.2 377.5 398.1 377.6C398 377.7 397.9 377.8 397.7 377.8C397.5 377.8 397.4 377.9 397.2 377.9C397 377.9 396.9 377.8 396.7 377.8C396.5 377.8 396.4 377.7 396.3 377.6C396.2 377.5 396.1 377.4 396 377.3C395.9 377.2 395.9 377.1 395.9 377C395.9 376.9 395.9 376.8 396 376.7C396.1 376.6 396.2 376.5 396.3 376.4C396.4 376.3 396.5 376.2 396.7 376.2C396.9 376.2 397 376.1 397.2 376.1C397.4 376.1 397.5 376.2 397.7 376.2C397.9 376.2 398 376.3 398.1 376.4C398.2 376.5 398.3 376.6 398.4 376.7C398.5 376.8 398.5 376.9 398.5 377Z" fill="#f50000"/>
</g></g>
<rect x="382.9" y="337.8" width="36.9" height="28.3" fill="none" stroke="#333" stroke-width="0.9"/>
<text transform="translate(361.9 345.3)" font-size="7.6" text-anchor="middle" dy="2.7">25</text>
<rect x="443.3" y="336.3" width="70.1" height="69.8" fill="none" stroke="#111" stroke-width="0.9"/>
<text transform="translate(437.5 343.9) scale(0.86 1)" font-size="8.6" text-anchor="end" dy="3.05">10<tspan font-size="6.19" dy="-3.44">5</tspan></text>
<text transform="translate(437.5 359.6) scale(0.86 1)" font-size="8.6" text-anchor="end" dy="3.05">10<tspan font-size="6.19" dy="-3.44">4</tspan></text>
<text transform="translate(437.5 375.3) scale(0.86 1)" font-size="8.6" text-anchor="end" dy="3.05">10<tspan font-size="6.19" dy="-3.44">3</tspan></text>
<text transform="translate(437.5 391.1) scale(0.86 1)" font-size="8.6" text-anchor="end" dy="3.05">10<tspan font-size="6.19" dy="-3.44">2</tspan></text>
<text transform="translate(437.7 399.9) scale(0.86 1)" font-size="8.6" text-anchor="end" dy="3.05">0</text>
<path d="M441 343.9H443.3M441 359.6H443.3M441 375.3H443.3M441 391.1H443.3M441 399.3H443.3M442 354.9H443.3M442 352.1H443.3M442 350.1H443.3M442 348.6H443.3M442 347.4H443.3M442 346.3H443.3M442 345.4H443.3M442 344.6H443.3M442 370.6H443.3M442 367.8H443.3M442 365.8H443.3M442 364.3H443.3M442 363.1H443.3M442 362H443.3M442 361.1H443.3M442 360.3H443.3M442 386.3H443.3M442 383.5H443.3M442 381.5H443.3M442 380H443.3M442 378.8H443.3M442 377.7H443.3M442 376.8H443.3M442 376H443.3M442 394.3H443.3M442 396.8H443.3M442 402.3H443.3M442 404.3H443.3M455.2 406.1V408.4M460.2 406.1V407.4M463.1 406.1V407.4M465.1 406.1V407.4M466.7 406.1V407.4M468 406.1V407.4M469.1 406.1V407.4M470.1 406.1V407.4M470.9 406.1V407.4M472.4 406.1V408.4M477.4 406.1V407.4M480.3 406.1V407.4M482.3 406.1V407.4M483.9 406.1V407.4M485.2 406.1V407.4M486.3 406.1V407.4M487.3 406.1V407.4M488.1 406.1V407.4M489.2 406.1V408.4M494.2 406.1V407.4M497.1 406.1V407.4M499.1 406.1V407.4M500.7 406.1V407.4M502 406.1V407.4M503.1 406.1V407.4M504.1 406.1V407.4M504.9 406.1V407.4M505.2 406.1V408.4M510.2 406.1V407.4M513.1 406.1V407.4M445.3 406.1V407.4M447.3 406.1V407.4M449.8 406.1V407.4M451.3 406.1V407.4" stroke="#111" stroke-width="0.75" fill="none"/>
<text transform="translate(450.5 415.9) scale(0.86 1)" font-size="8.6" text-anchor="middle" dy="3.05">0</text>
<text transform="translate(458.2 415.9) scale(0.86 1)" font-size="8.6" text-anchor="middle" dy="3.05">10<tspan font-size="6.19" dy="-3.44">2</tspan></text>
<text transform="translate(475.4 415.9) scale(0.86 1)" font-size="8.6" text-anchor="middle" dy="3.05">10<tspan font-size="6.19" dy="-3.44">3</tspan></text>
<text transform="translate(492.2 415.9) scale(0.86 1)" font-size="8.6" text-anchor="middle" dy="3.05">10<tspan font-size="6.19" dy="-3.44">4</tspan></text>
<text transform="translate(508.2 415.9) scale(0.86 1)" font-size="8.6" text-anchor="middle" dy="3.05">10<tspan font-size="6.19" dy="-3.44">5</tspan></text>
<path d="M485.4 392.4h.7v.7h-.7zM497.3 395h.7v.7h-.7zM495.9 392.7h.7v.7h-.7zM484.2 389.5h.7v.7h-.7zM497.3 395.9h.7v.7h-.7zM485.5 380.4h.7v.7h-.7zM474.1 378h.7v.7h-.7zM480.7 382.6h.7v.7h-.7zM477.1 352.1h.7v.7h-.7zM486.4 381.2h.7v.7h-.7zM481.7 389.4h.7v.7h-.7zM483.9 369.9h.7v.7h-.7zM489.9 357.4h.7v.7h-.7zM480.7 377.5h.7v.7h-.7zM492.9 375.7h.7v.7h-.7zM488.6 369.3h.7v.7h-.7zM488.5 399.4h.7v.7h-.7zM480.9 378h.7v.7h-.7zM487.5 391.1h.7v.7h-.7zM476.2 350.5h.7v.7h-.7zM490.9 388.1h.7v.7h-.7zM487.7 381.1h.7v.7h-.7zM493.5 382.6h.7v.7h-.7zM499.4 361.7h.7v.7h-.7zM492.6 373h.7v.7h-.7zM486.1 374.5h.7v.7h-.7z" fill="#9a9a9a"/>
<g clip-path="url(#c19)"><g filter="url(#bl)">
<path d="M476.5 349C477.4 347.6 479.1 347 481 346.6C482.9 346.2 486 346 488 346.4C490 346.8 491.8 347.6 493 349C494.2 350.4 494.6 352.8 495 355C495.4 357.2 495 359.8 495.3 362C495.6 364.2 496.1 366.5 497 368C497.9 369.5 500.1 369.5 500.6 371C501.1 372.5 500.8 375 500 377C499.2 379 497.8 381.3 496 383C494.2 384.7 491.3 386.4 489 387C486.7 387.6 484 387.3 482 386.6C480 385.9 478.2 384.6 477 383C475.8 381.4 475 379.2 474.6 377C474.2 374.8 474.6 372.5 474.8 370C475 367.5 475.5 364.5 475.6 362C475.7 359.5 475.5 357.2 475.6 355C475.8 352.8 475.6 350.4 476.5 349Z" fill="#0a0aeb"/>
<path d="M478.5 354C479.2 352.8 480.6 352.3 482.1 352C483.7 351.6 486.2 351.5 487.8 351.8C489.5 352.2 491 352.8 491.9 354C492.9 355.1 493.2 357.1 493.5 358.8C493.9 360.6 493.5 362.8 493.8 364.5C494.1 366.3 494.5 368.2 495.2 369.4C495.9 370.7 497.7 370.7 498.1 371.9C498.5 373.1 498.2 375.1 497.6 376.8C497 378.4 495.9 380.3 494.4 381.7C492.9 383 490.6 384.4 488.6 384.9C486.7 385.4 484.6 385.1 482.9 384.6C481.3 384.1 479.9 383 478.9 381.7C477.9 380.4 477.2 378.5 476.9 376.8C476.6 375 476.9 373.1 477.1 371.1C477.2 369 477.6 366.6 477.7 364.5C477.8 362.5 477.6 360.6 477.7 358.8C477.8 357.1 477.7 355.1 478.5 354Z" fill="#0616f3"/>
<path d="M479.5 356.5C480.1 355.5 481.3 355.1 482.7 354.8C484.1 354.5 486.3 354.3 487.7 354.6C489.2 354.9 490.5 355.5 491.3 356.5C492.2 357.5 492.5 359.3 492.8 360.8C493.1 362.4 492.8 364.3 493 365.9C493.2 367.4 493.6 369.1 494.2 370.2C494.9 371.3 496.5 371.3 496.8 372.3C497.2 373.4 496.9 375.2 496.4 376.7C495.8 378.1 494.8 379.8 493.5 381C492.2 382.2 490.1 383.4 488.5 383.9C486.8 384.3 484.9 384.1 483.4 383.6C482 383.1 480.7 382.1 479.8 381C478.9 379.8 478.4 378.2 478.1 376.7C477.8 375.1 478.1 373.4 478.2 371.6C478.4 369.8 478.7 367.7 478.8 365.9C478.9 364.1 478.7 362.4 478.8 360.8C478.9 359.3 478.8 357.5 479.5 356.5Z" fill="#0222fb"/>
<path d="M480.3 358.6C480.9 357.7 481.9 357.3 483.2 357C484.4 356.7 486.4 356.6 487.7 356.9C489 357.2 490.1 357.6 490.9 358.6C491.6 359.5 491.9 361 492.2 362.4C492.4 363.8 492.2 365.5 492.4 366.9C492.6 368.3 492.9 369.8 493.5 370.8C494 371.7 495.5 371.7 495.8 372.7C496.1 373.7 495.9 375.3 495.4 376.6C494.9 377.9 494 379.4 492.8 380.4C491.6 381.5 489.8 382.6 488.3 383C486.8 383.4 485.1 383.2 483.8 382.7C482.5 382.3 481.4 381.5 480.6 380.4C479.8 379.4 479.3 378 479.1 376.6C478.8 375.2 479.1 373.7 479.2 372.1C479.3 370.5 479.6 368.5 479.7 366.9C479.8 365.3 479.6 363.8 479.7 362.4C479.8 361 479.7 359.5 480.3 358.6Z" fill="#003bff"/>
<path d="M481 360.4C481.5 359.6 482.5 359.2 483.6 359C484.7 358.7 486.5 358.6 487.6 358.9C488.8 359.1 489.8 359.5 490.5 360.4C491.2 361.2 491.4 362.6 491.6 363.8C491.9 365.1 491.6 366.6 491.8 367.9C492 369.1 492.3 370.4 492.8 371.3C493.3 372.2 494.6 372.2 494.9 373C495.2 373.9 495 375.3 494.5 376.5C494.1 377.6 493.3 379 492.2 379.9C491.2 380.9 489.5 381.9 488.2 382.2C486.9 382.6 485.3 382.4 484.2 382C483 381.6 482 380.9 481.3 379.9C480.6 379 480.1 377.7 479.9 376.5C479.7 375.2 479.9 373.9 480 372.5C480.1 371 480.4 369.3 480.5 367.9C480.6 366.4 480.4 365.1 480.5 363.8C480.6 362.6 480.5 361.2 481 360.4Z" fill="#0063ff"/>
<path d="M481.6 362C482.1 361.3 483 361 484 360.8C484.9 360.5 486.5 360.5 487.6 360.7C488.6 360.9 489.5 361.3 490.1 362C490.7 362.7 491 364 491.2 365.1C491.4 366.2 491.1 367.6 491.3 368.7C491.5 369.8 491.7 371 492.2 371.8C492.7 372.6 493.8 372.6 494 373.3C494.3 374.1 494.1 375.4 493.7 376.4C493.3 377.4 492.6 378.6 491.7 379.5C490.7 380.4 489.3 381.3 488.1 381.6C486.9 381.9 485.5 381.7 484.5 381.4C483.4 381 482.5 380.3 481.9 379.5C481.3 378.7 480.9 377.5 480.7 376.4C480.5 375.3 480.7 374.1 480.8 372.8C480.9 371.5 481.1 370 481.2 368.7C481.2 367.4 481.1 366.2 481.2 365.1C481.3 364 481.2 362.7 481.6 362Z" fill="#008aff"/>
<path d="M482.2 363.5C482.7 362.9 483.4 362.6 484.3 362.4C485.2 362.2 486.6 362.1 487.5 362.3C488.4 362.5 489.3 362.9 489.8 363.5C490.3 364.2 490.5 365.3 490.7 366.3C490.9 367.3 490.7 368.5 490.9 369.5C491 370.5 491.2 371.5 491.6 372.2C492 372.9 493.1 372.9 493.3 373.6C493.5 374.3 493.4 375.4 493 376.4C492.7 377.3 492 378.3 491.2 379.1C490.3 379.9 489 380.7 488 380.9C486.9 381.2 485.7 381.1 484.8 380.8C483.8 380.4 483 379.8 482.5 379.1C481.9 378.4 481.5 377.3 481.4 376.4C481.2 375.4 481.4 374.3 481.5 373.1C481.5 372 481.8 370.6 481.8 369.5C481.9 368.3 481.8 367.3 481.8 366.3C481.9 365.3 481.8 364.1 482.2 363.5Z" fill="#00b6fa"/>
<path d="M482.8 364.9C483.2 364.3 483.8 364.1 484.6 363.9C485.4 363.8 486.7 363.7 487.5 363.9C488.3 364 489 364.3 489.5 364.9C490 365.5 490.2 366.5 490.3 367.4C490.5 368.2 490.3 369.3 490.4 370.2C490.6 371.1 490.8 372 491.1 372.6C491.5 373.2 492.4 373.2 492.6 373.9C492.8 374.5 492.7 375.5 492.3 376.3C492 377.1 491.5 378 490.7 378.7C490 379.4 488.8 380.1 487.9 380.3C486.9 380.6 485.8 380.5 485 380.2C484.2 379.9 483.5 379.4 483 378.7C482.5 378.1 482.2 377.2 482 376.3C481.9 375.4 482 374.5 482.1 373.4C482.2 372.4 482.4 371.2 482.4 370.2C482.5 369.2 482.4 368.2 482.4 367.4C482.5 366.5 482.4 365.5 482.8 364.9Z" fill="#00e1f5"/>
<path d="M483.3 366.2C483.6 365.7 484.2 365.5 484.9 365.4C485.6 365.2 486.7 365.2 487.4 365.3C488.1 365.5 488.8 365.7 489.2 366.2C489.6 366.8 489.8 367.6 489.9 368.4C490.1 369.2 489.9 370.1 490 370.9C490.1 371.7 490.3 372.5 490.6 373C490.9 373.6 491.7 373.6 491.9 374.1C492.1 374.6 492 375.5 491.7 376.2C491.4 376.9 490.9 377.8 490.3 378.4C489.6 379 488.6 379.6 487.8 379.8C486.9 380 486 379.9 485.3 379.7C484.6 379.4 483.9 378.9 483.5 378.4C483.1 377.8 482.8 377 482.6 376.2C482.5 375.5 482.7 374.6 482.7 373.7C482.8 372.8 483 371.8 483 370.9C483 370 482.9 369.2 483 368.4C483.1 367.6 483 366.7 483.3 366.2Z" fill="#0af0a1"/>
<path d="M483.8 367.5C484.1 367.1 484.6 366.9 485.2 366.8C485.8 366.6 486.8 366.6 487.4 366.7C488 366.8 488.6 367.1 488.9 367.5C489.3 367.9 489.4 368.7 489.5 369.4C489.7 370 489.5 370.9 489.6 371.5C489.7 372.2 489.9 372.9 490.2 373.4C490.4 373.8 491.1 373.8 491.3 374.3C491.4 374.8 491.3 375.6 491.1 376.2C490.9 376.8 490.4 377.5 489.9 378C489.3 378.5 488.4 379.1 487.7 379.3C487 379.5 486.1 379.3 485.5 379.1C484.9 378.9 484.4 378.5 484 378C483.6 377.5 483.3 376.8 483.2 376.2C483.1 375.5 483.2 374.8 483.3 374C483.3 373.2 483.5 372.3 483.5 371.5C483.6 370.8 483.5 370 483.5 369.4C483.6 368.7 483.5 367.9 483.8 367.5Z" fill="#18ff4e"/>
<path d="M484.3 368.7C484.5 368.3 485 368.2 485.5 368.1C486 368 486.8 367.9 487.3 368C487.9 368.1 488.4 368.3 488.7 368.7C489 369.1 489.1 369.7 489.2 370.3C489.3 370.9 489.2 371.6 489.3 372.1C489.4 372.7 489.5 373.3 489.7 373.7C490 374.1 490.5 374.1 490.7 374.5C490.8 374.9 490.7 375.6 490.5 376.1C490.3 376.6 489.9 377.3 489.5 377.7C489 378.1 488.2 378.6 487.6 378.8C487 378.9 486.3 378.8 485.8 378.7C485.2 378.5 484.8 378.1 484.4 377.7C484.1 377.3 483.9 376.7 483.8 376.1C483.7 375.5 483.8 374.9 483.8 374.3C483.9 373.6 484 372.8 484.1 372.1C484.1 371.5 484 370.9 484.1 370.3C484.1 369.7 484.1 369.1 484.3 368.7Z" fill="#75ff22"/>
<path d="M484.8 369.9C485 369.6 485.3 369.4 485.8 369.3C486.2 369.2 486.9 369.2 487.3 369.3C487.7 369.4 488.1 369.6 488.4 369.9C488.7 370.2 488.8 370.7 488.8 371.2C488.9 371.7 488.8 372.3 488.9 372.7C489 373.2 489.1 373.7 489.3 374.1C489.5 374.4 490 374.4 490.1 374.7C490.2 375.1 490.1 375.6 490 376.1C489.8 376.5 489.5 377 489.1 377.4C488.7 377.8 488 378.1 487.5 378.3C487 378.4 486.4 378.3 486 378.2C485.5 378 485.1 377.7 484.9 377.4C484.6 377 484.4 376.5 484.3 376.1C484.3 375.6 484.3 375.1 484.4 374.5C484.4 374 484.5 373.3 484.6 372.7C484.6 372.2 484.5 371.7 484.6 371.2C484.6 370.7 484.6 370.2 484.8 369.9Z" fill="#c7f100"/>
<path d="M485.2 371C485.4 370.7 485.7 370.6 486 370.6C486.3 370.5 486.9 370.5 487.3 370.5C487.6 370.6 487.9 370.7 488.2 371C488.4 371.2 488.4 371.7 488.5 372.1C488.6 372.5 488.5 372.9 488.6 373.3C488.6 373.7 488.7 374.1 488.9 374.4C489 374.7 489.4 374.7 489.5 374.9C489.6 375.2 489.6 375.7 489.4 376C489.3 376.4 489 376.8 488.7 377.1C488.4 377.4 487.9 377.7 487.4 377.8C487 377.9 486.5 377.9 486.2 377.7C485.8 377.6 485.5 377.4 485.3 377.1C485.1 376.8 484.9 376.4 484.9 376C484.8 375.6 484.9 375.2 484.9 374.8C484.9 374.3 485 373.8 485 373.3C485.1 372.9 485 372.5 485 372.1C485.1 371.7 485 371.2 485.2 371Z" fill="#f1b400"/>
<path d="M485.6 372.1C485.8 371.9 486 371.8 486.3 371.7C486.5 371.7 486.9 371.7 487.2 371.7C487.5 371.8 487.8 371.9 487.9 372.1C488.1 372.3 488.1 372.6 488.2 372.9C488.3 373.2 488.2 373.6 488.2 373.9C488.3 374.2 488.4 374.5 488.5 374.7C488.6 374.9 488.9 374.9 489 375.1C489 375.3 489 375.7 488.9 376C488.8 376.2 488.6 376.6 488.3 376.8C488.1 377 487.7 377.3 487.4 377.4C487 377.4 486.7 377.4 486.4 377.3C486.1 377.2 485.9 377 485.7 376.8C485.5 376.6 485.4 376.3 485.4 376C485.3 375.7 485.4 375.3 485.4 375C485.4 374.6 485.5 374.2 485.5 373.9C485.5 373.5 485.5 373.2 485.5 372.9C485.5 372.6 485.5 372.3 485.6 372.1Z" fill="#fb5f00"/>
<path d="M486 373.1C486.1 373 486.3 372.9 486.5 372.9C486.7 372.8 487 372.8 487.2 372.9C487.4 372.9 487.6 373 487.7 373.1C487.8 373.3 487.9 373.5 487.9 373.7C487.9 373.9 487.9 374.2 487.9 374.4C488 374.6 488 374.9 488.1 375C488.2 375.2 488.4 375.2 488.5 375.3C488.5 375.5 488.5 375.7 488.4 375.9C488.3 376.1 488.2 376.4 488 376.5C487.8 376.7 487.5 376.9 487.3 376.9C487.1 377 486.8 376.9 486.6 376.9C486.4 376.8 486.2 376.7 486.1 376.5C486 376.4 485.9 376.1 485.9 375.9C485.8 375.7 485.9 375.5 485.9 375.2C485.9 375 485.9 374.7 486 374.4C486 374.2 485.9 373.9 486 373.7C486 373.5 486 373.3 486 373.1Z" fill="#f50000"/>
<path d="M492 357.5C492 358.7 491.8 360 491.5 361.1C491.2 362.3 490.7 363.4 490.1 364.2C489.5 365.1 488.8 365.8 488 366.3C487.2 366.7 486.3 367 485.5 367C484.7 367 483.8 366.7 483 366.3C482.2 365.8 481.5 365.1 480.9 364.2C480.3 363.4 479.8 362.3 479.5 361.1C479.2 360 479 358.7 479 357.5C479 356.3 479.2 355 479.5 353.9C479.8 352.7 480.3 351.6 480.9 350.8C481.5 349.9 482.2 349.2 483 348.7C483.8 348.3 484.7 348 485.5 348C486.3 348 487.2 348.3 488 348.7C488.8 349.2 489.5 349.9 490.1 350.8C490.7 351.6 491.2 352.7 491.5 353.9C491.8 355 492 356.3 492 357.5Z" fill="#0223fc"/>
<path d="M491.1 357.5C491.1 358.5 490.9 359.7 490.7 360.6C490.4 361.6 489.9 362.5 489.4 363.3C488.9 364 488.3 364.6 487.6 365C487 365.4 486.2 365.7 485.5 365.7C484.8 365.7 484 365.4 483.4 365C482.7 364.6 482.1 364 481.6 363.3C481.1 362.5 480.6 361.6 480.3 360.6C480.1 359.7 479.9 358.5 479.9 357.5C479.9 356.5 480.1 355.3 480.3 354.4C480.6 353.4 481.1 352.5 481.6 351.7C482.1 351 482.7 350.4 483.4 350C484 349.6 484.8 349.3 485.5 349.3C486.2 349.3 487 349.6 487.6 350C488.3 350.4 488.9 351 489.4 351.7C489.9 352.5 490.4 353.4 490.7 354.4C490.9 355.3 491.1 356.5 491.1 357.5Z" fill="#0041ff"/>
<path d="M490.2 357.5C490.2 358.4 490 359.3 489.8 360.1C489.6 360.9 489.2 361.7 488.8 362.3C488.4 362.9 487.8 363.5 487.3 363.8C486.7 364.1 486.1 364.3 485.5 364.3C484.9 364.3 484.3 364.1 483.7 363.8C483.2 363.5 482.6 362.9 482.2 362.3C481.8 361.7 481.4 360.9 481.2 360.1C481 359.3 480.8 358.4 480.8 357.5C480.8 356.6 481 355.7 481.2 354.9C481.4 354.1 481.8 353.3 482.2 352.7C482.6 352.1 483.2 351.5 483.7 351.2C484.3 350.9 484.9 350.7 485.5 350.7C486.1 350.7 486.7 350.9 487.3 351.2C487.8 351.5 488.4 352.1 488.8 352.7C489.2 353.3 489.6 354.1 489.8 354.9C490 355.7 490.2 356.6 490.2 357.5Z" fill="#006bff"/>
<path d="M489.2 357.5C489.2 358.2 489.1 358.9 489 359.6C488.8 360.2 488.5 360.9 488.1 361.4C487.8 361.9 487.4 362.3 486.9 362.5C486.5 362.8 486 363 485.5 363C485 363 484.5 362.8 484.1 362.5C483.6 362.3 483.2 361.9 482.9 361.4C482.5 360.9 482.2 360.2 482 359.6C481.9 358.9 481.8 358.2 481.8 357.5C481.8 356.8 481.9 356.1 482 355.4C482.2 354.8 482.5 354.1 482.9 353.6C483.2 353.1 483.6 352.7 484.1 352.5C484.5 352.2 485 352 485.5 352C486 352 486.5 352.2 486.9 352.5C487.4 352.7 487.8 353.1 488.1 353.6C488.5 354.1 488.8 354.8 489 355.4C489.1 356.1 489.2 356.8 489.2 357.5Z" fill="#0095fe"/>
<path d="M488.3 357.5C488.3 358 488.2 358.6 488.1 359.1C488 359.6 487.7 360 487.5 360.4C487.2 360.8 486.9 361.1 486.6 361.3C486.2 361.5 485.9 361.6 485.5 361.6C485.1 361.6 484.8 361.5 484.4 361.3C484.1 361.1 483.8 360.8 483.5 360.4C483.3 360 483 359.6 482.9 359.1C482.8 358.6 482.7 358 482.7 357.5C482.7 357 482.8 356.4 482.9 355.9C483 355.4 483.3 355 483.5 354.6C483.8 354.2 484.1 353.9 484.4 353.7C484.8 353.5 485.1 353.4 485.5 353.4C485.9 353.4 486.2 353.5 486.6 353.7C486.9 353.9 487.2 354.2 487.5 354.6C487.7 355 488 355.4 488.1 355.9C488.2 356.4 488.3 357 488.3 357.5Z" fill="#00c3f9"/>
<path d="M487.4 357.5C487.4 357.9 487.3 358.2 487.3 358.6C487.2 358.9 487 359.2 486.8 359.5C486.7 359.7 486.4 359.9 486.2 360.1C486 360.2 485.7 360.3 485.5 360.3C485.3 360.3 485 360.2 484.8 360.1C484.6 359.9 484.3 359.7 484.2 359.5C484 359.2 483.8 358.9 483.7 358.6C483.7 358.2 483.6 357.9 483.6 357.5C483.6 357.1 483.7 356.8 483.7 356.4C483.8 356.1 484 355.8 484.2 355.5C484.3 355.3 484.6 355.1 484.8 354.9C485 354.8 485.3 354.7 485.5 354.7C485.7 354.7 486 354.8 486.2 354.9C486.4 355.1 486.7 355.3 486.8 355.5C487 355.8 487.2 356.1 487.3 356.4C487.3 356.8 487.4 357.1 487.4 357.5Z" fill="#04e6d8"/>
<path d="M486.5 357.5C486.5 357.7 486.4 357.9 486.4 358C486.4 358.2 486.3 358.4 486.2 358.5C486.1 358.6 486 358.7 485.9 358.8C485.8 358.9 485.6 358.9 485.5 358.9C485.4 358.9 485.2 358.9 485.1 358.8C485 358.7 484.9 358.6 484.8 358.5C484.7 358.4 484.6 358.2 484.6 358C484.6 357.9 484.5 357.7 484.5 357.5C484.5 357.3 484.6 357.1 484.6 357C484.6 356.8 484.7 356.6 484.8 356.5C484.9 356.4 485 356.3 485.1 356.2C485.2 356.1 485.4 356.1 485.5 356.1C485.6 356.1 485.8 356.1 485.9 356.2C486 356.3 486.1 356.4 486.2 356.5C486.3 356.6 486.4 356.8 486.4 357C486.4 357.1 486.5 357.3 486.5 357.5Z" fill="#0ef67f"/>
<path d="M498.5 376C498.5 377.1 498.2 378.3 497.6 379.3C497.1 380.3 496.2 381.2 495.1 382C494.1 382.8 492.8 383.4 491.4 383.9C490 384.3 488.5 384.5 487 384.5C485.5 384.5 484 384.3 482.6 383.9C481.2 383.4 479.9 382.8 478.9 382C477.8 381.2 476.9 380.3 476.4 379.3C475.8 378.3 475.5 377.1 475.5 376C475.5 374.9 475.8 373.7 476.4 372.7C476.9 371.7 477.8 370.8 478.9 370C479.9 369.2 481.2 368.6 482.6 368.1C484 367.7 485.5 367.5 487 367.5C488.5 367.5 490 367.7 491.4 368.1C492.8 368.6 494.1 369.2 495.1 370C496.2 370.8 497.1 371.7 497.6 372.7C498.2 373.7 498.5 374.9 498.5 376Z" fill="#006bff"/>
<path d="M497.4 376C497.4 377 497.1 378 496.6 378.9C496.1 379.8 495.3 380.7 494.3 381.4C493.4 382.1 492.2 382.7 491 383.1C489.7 383.4 488.3 383.6 487 383.6C485.7 383.6 484.3 383.4 483 383.1C481.8 382.7 480.6 382.1 479.7 381.4C478.7 380.7 477.9 379.8 477.4 378.9C476.9 378 476.6 377 476.6 376C476.6 375 476.9 374 477.4 373.1C477.9 372.2 478.7 371.3 479.7 370.6C480.6 369.9 481.8 369.3 483 368.9C484.3 368.6 485.7 368.4 487 368.4C488.3 368.4 489.7 368.6 491 368.9C492.2 369.3 493.4 369.9 494.3 370.6C495.3 371.3 496.1 372.2 496.6 373.1C497.1 374 497.4 375 497.4 376Z" fill="#0092fe"/>
<path d="M496.2 376C496.2 376.9 495.9 377.8 495.5 378.6C495.1 379.4 494.3 380.2 493.5 380.8C492.7 381.4 491.6 382 490.5 382.3C489.4 382.6 488.2 382.8 487 382.8C485.8 382.8 484.6 382.6 483.5 382.3C482.4 382 481.3 381.4 480.5 380.8C479.7 380.2 478.9 379.4 478.5 378.6C478.1 377.8 477.8 376.9 477.8 376C477.8 375.1 478.1 374.2 478.5 373.4C478.9 372.6 479.7 371.8 480.5 371.2C481.3 370.6 482.4 370 483.5 369.7C484.6 369.4 485.8 369.2 487 369.2C488.2 369.2 489.4 369.4 490.5 369.7C491.6 370 492.7 370.6 493.5 371.2C494.3 371.8 495.1 372.6 495.5 373.4C495.9 374.2 496.2 375.1 496.2 376Z" fill="#00bdf9"/>
<path d="M495.1 376C495.1 376.8 494.8 377.6 494.4 378.3C494 379 493.4 379.7 492.7 380.2C492 380.7 491 381.2 490.1 381.5C489.1 381.8 488 381.9 487 381.9C486 381.9 484.9 381.8 483.9 381.5C483 381.2 482 380.7 481.3 380.2C480.6 379.7 480 379 479.6 378.3C479.2 377.6 478.9 376.8 478.9 376C478.9 375.2 479.2 374.4 479.6 373.7C480 373 480.6 372.3 481.3 371.8C482 371.3 483 370.8 483.9 370.5C484.9 370.2 486 370.1 487 370.1C488 370.1 489.1 370.2 490.1 370.5C491 370.8 492 371.3 492.7 371.8C493.4 372.3 494 373 494.4 373.7C494.8 374.4 495.1 375.2 495.1 376Z" fill="#01e3e9"/>
<path d="M493.9 376C493.9 376.7 493.7 377.4 493.4 378C493 378.6 492.5 379.1 491.9 379.6C491.3 380.1 490.5 380.5 489.6 380.7C488.8 381 487.9 381.1 487 381.1C486.1 381.1 485.2 381 484.4 380.7C483.5 380.5 482.7 380.1 482.1 379.6C481.5 379.1 481 378.6 480.6 378C480.3 377.4 480.1 376.7 480.1 376C480.1 375.3 480.3 374.6 480.6 374C481 373.4 481.5 372.9 482.1 372.4C482.7 371.9 483.5 371.5 484.4 371.3C485.2 371 486.1 370.9 487 370.9C487.9 370.9 488.8 371 489.6 371.3C490.5 371.5 491.3 371.9 491.9 372.4C492.5 372.9 493 373.4 493.4 374C493.7 374.6 493.9 375.3 493.9 376Z" fill="#0bf297"/>
<path d="M492.8 376C492.8 376.5 492.6 377.1 492.3 377.6C492 378.1 491.6 378.6 491.1 379C490.5 379.4 489.9 379.7 489.2 379.9C488.5 380.1 487.7 380.2 487 380.2C486.3 380.2 485.5 380.1 484.8 379.9C484.1 379.7 483.5 379.4 482.9 379C482.4 378.6 482 378.1 481.7 377.6C481.4 377.1 481.2 376.5 481.2 376C481.2 375.5 481.4 374.9 481.7 374.4C482 373.9 482.4 373.4 482.9 373C483.5 372.6 484.1 372.3 484.8 372.1C485.5 371.9 486.3 371.8 487 371.8C487.7 371.8 488.5 371.9 489.2 372.1C489.9 372.3 490.5 372.6 491.1 373C491.6 373.4 492 373.9 492.3 374.4C492.6 374.9 492.8 375.5 492.8 376Z" fill="#21ff4a"/>
<path d="M491.6 376C491.6 376.4 491.5 376.9 491.2 377.3C491 377.7 490.7 378.1 490.3 378.4C489.8 378.7 489.3 379 488.8 379.1C488.2 379.3 487.6 379.4 487 379.4C486.4 379.4 485.8 379.3 485.2 379.1C484.7 379 484.2 378.7 483.7 378.4C483.3 378.1 483 377.7 482.8 377.3C482.5 376.9 482.4 376.4 482.4 376C482.4 375.6 482.5 375.1 482.8 374.7C483 374.3 483.3 373.9 483.7 373.6C484.2 373.3 484.7 373 485.2 372.9C485.8 372.7 486.4 372.6 487 372.6C487.6 372.6 488.2 372.7 488.8 372.9C489.3 373 489.8 373.3 490.3 373.6C490.7 373.9 491 374.3 491.2 374.7C491.5 375.1 491.6 375.6 491.6 376Z" fill="#7dff1f"/>
<path d="M494.3 375.8C494.3 376.3 494.1 376.9 493.8 377.4C493.4 378 492.9 378.5 492.2 378.8C491.6 379.2 490.8 379.6 490 379.8C489.2 380 488.2 380.1 487.3 380.1C486.4 380.1 485.4 380 484.6 379.8C483.8 379.6 483 379.2 482.4 378.8C481.7 378.5 481.2 378 480.8 377.4C480.5 376.9 480.3 376.3 480.3 375.8C480.3 375.3 480.5 374.7 480.8 374.2C481.2 373.6 481.7 373.1 482.4 372.8C483 372.4 483.8 372 484.6 371.8C485.4 371.6 486.4 371.5 487.3 371.5C488.2 371.5 489.2 371.6 490 371.8C490.8 372 491.6 372.4 492.2 372.8C492.9 373.1 493.4 373.6 493.8 374.2C494.1 374.7 494.3 375.3 494.3 375.8Z" fill="#7dff1f"/>
<path d="M493.4 375.8C493.4 376.3 493.2 376.8 492.9 377.2C492.6 377.7 492.1 378.1 491.6 378.4C491 378.8 490.3 379.1 489.6 379.2C488.9 379.4 488.1 379.5 487.3 379.5C486.5 379.5 485.7 379.4 485 379.2C484.3 379.1 483.6 378.8 483 378.4C482.5 378.1 482 377.7 481.7 377.2C481.4 376.8 481.2 376.3 481.2 375.8C481.2 375.3 481.4 374.8 481.7 374.4C482 373.9 482.5 373.5 483 373.2C483.6 372.8 484.3 372.5 485 372.4C485.7 372.2 486.5 372.1 487.3 372.1C488.1 372.1 488.9 372.2 489.6 372.4C490.3 372.5 491 372.8 491.6 373.2C492.1 373.5 492.6 373.9 492.9 374.4C493.2 374.8 493.4 375.3 493.4 375.8Z" fill="#caee00"/>
<path d="M492 375.8C492 376.2 491.9 376.6 491.7 376.9C491.4 377.3 491.1 377.6 490.6 377.9C490.2 378.1 489.7 378.3 489.1 378.5C488.6 378.6 487.9 378.7 487.3 378.7C486.7 378.7 486 378.6 485.5 378.5C484.9 378.3 484.4 378.1 484 377.9C483.5 377.6 483.2 377.3 482.9 376.9C482.7 376.6 482.6 376.2 482.6 375.8C482.6 375.4 482.7 375 482.9 374.7C483.2 374.3 483.5 374 484 373.7C484.4 373.5 484.9 373.3 485.5 373.1C486 373 486.7 372.9 487.3 372.9C487.9 372.9 488.6 373 489.1 373.1C489.7 373.3 490.2 373.5 490.6 373.7C491.1 374 491.4 374.3 491.7 374.7C491.9 375 492 375.4 492 375.8Z" fill="#f3b100"/>
<path d="M490.4 375.8C490.4 376 490.4 376.3 490.2 376.5C490.1 376.8 489.8 377 489.5 377.2C489.2 377.3 488.9 377.5 488.5 377.6C488.1 377.7 487.7 377.7 487.3 377.7C486.9 377.7 486.5 377.7 486.1 377.6C485.7 377.5 485.4 377.3 485.1 377.2C484.8 377 484.5 376.8 484.4 376.5C484.2 376.3 484.2 376 484.2 375.8C484.2 375.6 484.2 375.3 484.4 375.1C484.5 374.8 484.8 374.6 485.1 374.4C485.4 374.3 485.7 374.1 486.1 374C486.5 373.9 486.9 373.9 487.3 373.9C487.7 373.9 488.1 373.9 488.5 374C488.9 374.1 489.2 374.3 489.5 374.4C489.8 374.6 490.1 374.8 490.2 375.1C490.4 375.3 490.4 375.6 490.4 375.8Z" fill="#fb5d00"/>
<path d="M488.7 375.8C488.7 375.9 488.7 376 488.6 376.1C488.5 376.2 488.4 376.3 488.3 376.4C488.2 376.5 488 376.6 487.8 376.6C487.7 376.6 487.5 376.7 487.3 376.7C487.1 376.7 486.9 376.6 486.8 376.6C486.6 376.6 486.4 376.5 486.3 376.4C486.2 376.3 486.1 376.2 486 376.1C485.9 376 485.9 375.9 485.9 375.8C485.9 375.7 485.9 375.6 486 375.5C486.1 375.4 486.2 375.3 486.3 375.2C486.4 375.1 486.6 375 486.8 375C486.9 375 487.1 374.9 487.3 374.9C487.5 374.9 487.7 375 487.8 375C488 375 488.2 375.1 488.3 375.2C488.4 375.3 488.5 375.4 488.6 375.5C488.7 375.6 488.7 375.7 488.7 375.8Z" fill="#f50000"/>
</g></g>
<rect x="473.4" y="336.9" width="28" height="30.1" fill="none" stroke="#333" stroke-width="0.9"/>
<text transform="translate(452.4 342.9)" font-size="7.6" text-anchor="middle" dy="2.7">26</text>
<rect x="354.6" y="423.8" width="70.1" height="69.8" fill="none" stroke="#111" stroke-width="0.9"/>
<text transform="translate(348.8 431.4) scale(0.86 1)" font-size="8.6" text-anchor="end" dy="3.05">10<tspan font-size="6.19" dy="-3.44">5</tspan></text>
<text transform="translate(348.8 447.1) scale(0.86 1)" font-size="8.6" text-anchor="end" dy="3.05">10<tspan font-size="6.19" dy="-3.44">4</tspan></text>
<text transform="translate(348.8 462.8) scale(0.86 1)" font-size="8.6" text-anchor="end" dy="3.05">10<tspan font-size="6.19" dy="-3.44">3</tspan></text>
<text transform="translate(348.8 478.6) scale(0.86 1)" font-size="8.6" text-anchor="end" dy="3.05">10<tspan font-size="6.19" dy="-3.44">2</tspan></text>
<text transform="translate(349 487.4) scale(0.86 1)" font-size="8.6" text-anchor="end" dy="3.05">0</text>
<path d="M352.3 431.4H354.6M352.3 447.1H354.6M352.3 462.8H354.6M352.3 478.6H354.6M352.3 486.8H354.6M353.3 442.4H354.6M353.3 439.6H354.6M353.3 437.6H354.6M353.3 436.1H354.6M353.3 434.9H354.6M353.3 433.8H354.6M353.3 432.9H354.6M353.3 432.1H354.6M353.3 458.1H354.6M353.3 455.3H354.6M353.3 453.3H354.6M353.3 451.8H354.6M353.3 450.6H354.6M353.3 449.5H354.6M353.3 448.6H354.6M353.3 447.8H354.6M353.3 473.8H354.6M353.3 471H354.6M353.3 469H354.6M353.3 467.5H354.6M353.3 466.3H354.6M353.3 465.2H354.6M353.3 464.3H354.6M353.3 463.5H354.6M353.3 481.8H354.6M353.3 484.3H354.6M353.3 489.8H354.6M353.3 491.8H354.6M366.5 493.6V495.9M371.5 493.6V494.9M374.4 493.6V494.9M376.4 493.6V494.9M378 493.6V494.9M379.3 493.6V494.9M380.4 493.6V494.9M381.4 493.6V494.9M382.2 493.6V494.9M383.7 493.6V495.9M388.7 493.6V494.9M391.6 493.6V494.9M393.6 493.6V494.9M395.2 493.6V494.9M396.5 493.6V494.9M397.6 493.6V494.9M398.6 493.6V494.9M399.4 493.6V494.9M400.5 493.6V495.9M405.5 493.6V494.9M408.4 493.6V494.9M410.4 493.6V494.9M412 493.6V494.9M413.3 493.6V494.9M414.4 493.6V494.9M415.4 493.6V494.9M416.2 493.6V494.9M416.5 493.6V495.9M421.5 493.6V494.9M424.4 493.6V494.9M356.6 493.6V494.9M358.6 493.6V494.9M361.1 493.6V494.9M362.6 493.6V494.9" stroke="#111" stroke-width="0.75" fill="none"/>
<text transform="translate(361.8 503.4) scale(0.86 1)" font-size="8.6" text-anchor="middle" dy="3.05">0</text>
<text transform="translate(369.5 503.4) scale(0.86 1)" font-size="8.6" text-anchor="middle" dy="3.05">10<tspan font-size="6.19" dy="-3.44">2</tspan></text>
<text transform="translate(386.7 503.4) scale(0.86 1)" font-size="8.6" text-anchor="middle" dy="3.05">10<tspan font-size="6.19" dy="-3.44">3</tspan></text>
<text transform="translate(403.5 503.4) scale(0.86 1)" font-size="8.6" text-anchor="middle" dy="3.05">10<tspan font-size="6.19" dy="-3.44">4</tspan></text>
<text transform="translate(419.5 503.4) scale(0.86 1)" font-size="8.6" text-anchor="middle" dy="3.05">10<tspan font-size="6.19" dy="-3.44">5</tspan></text>
<path d="M398 438.7h.7v.7h-.7zM392.7 437.6h.7v.7h-.7zM389 430.1h.7v.7h-.7zM391 438.1h.7v.7h-.7zM403.2 432.8h.7v.7h-.7zM403.4 434.8h.7v.7h-.7zM392.4 448.9h.7v.7h-.7zM400.8 439.9h.7v.7h-.7zM386.9 440.9h.7v.7h-.7zM392.7 451.1h.7v.7h-.7zM389.5 438.4h.7v.7h-.7zM402.1 430.7h.7v.7h-.7zM393.4 448.7h.7v.7h-.7zM399.8 430.9h.7v.7h-.7zM386.6 431.4h.7v.7h-.7zM402.6 435.9h.7v.7h-.7zM399.5 450.7h.7v.7h-.7zM392.1 436.3h.7v.7h-.7zM403.2 444.2h.7v.7h-.7zM390.7 446.5h.7v.7h-.7zM391.7 436.3h.7v.7h-.7zM386.1 447.4h.7v.7h-.7zM402.5 444.6h.7v.7h-.7zM403 430.6h.7v.7h-.7zM390.2 440.9h.7v.7h-.7zM403.2 451.9h.7v.7h-.7zM393 435.8h.7v.7h-.7zM393.7 441.3h.7v.7h-.7zM402.7 434.2h.7v.7h-.7zM400.4 447h.7v.7h-.7zM400.8 447.8h.7v.7h-.7zM396.9 437.5h.7v.7h-.7zM391.8 438.3h.7v.7h-.7zM400.1 431.8h.7v.7h-.7zM389.6 447.3h.7v.7h-.7zM390.5 431.5h.7v.7h-.7zM386.6 442.7h.7v.7h-.7zM391.9 452.5h.7v.7h-.7zM401.9 452.7h.7v.7h-.7zM390.8 431.9h.7v.7h-.7zM404.6 476.4h.7v.7h-.7zM394.7 454h.7v.7h-.7zM397.7 481.1h.7v.7h-.7zM388.2 454.3h.7v.7h-.7zM396.7 442.5h.7v.7h-.7zM394.8 462h.7v.7h-.7zM400.5 458.6h.7v.7h-.7zM389.8 462.6h.7v.7h-.7zM396.5 459.1h.7v.7h-.7zM397 477.5h.7v.7h-.7zM406.4 489.9h.7v.7h-.7zM390.6 462.2h.7v.7h-.7zM377 492.4h.7v.7h-.7zM391.1 467.3h.7v.7h-.7zM401.1 450h.7v.7h-.7zM400.6 467.4h.7v.7h-.7zM382.3 471.5h.7v.7h-.7zM406.5 443.4h.7v.7h-.7zM403.4 470.4h.7v.7h-.7zM400.7 473.4h.7v.7h-.7zM407.3 464.8h.7v.7h-.7zM403.9 462.4h.7v.7h-.7zM402.7 457.1h.7v.7h-.7zM396 490.2h.7v.7h-.7zM400.5 465.6h.7v.7h-.7zM387.7 457.4h.7v.7h-.7zM398.4 479.9h.7v.7h-.7zM400.3 474.5h.7v.7h-.7zM396.6 485.3h.7v.7h-.7zM393.8 460.6h.7v.7h-.7zM404 468.5h.7v.7h-.7zM394.7 460.2h.7v.7h-.7zM394.8 475.8h.7v.7h-.7zM399.7 452h.7v.7h-.7zM400.3 470h.7v.7h-.7zM388.9 477.7h.7v.7h-.7zM394.7 463.3h.7v.7h-.7zM403.3 484.9h.7v.7h-.7zM391.4 473.4h.7v.7h-.7z" fill="#9a9a9a"/>
<g clip-path="url(#c20)"><g filter="url(#bl)">
<path d="M394.5 435.5C395.1 434.3 396.5 434.7 397.5 434.6C398.5 434.5 399.9 433.8 400.5 435C401.1 436.2 401.1 440 401 442C400.9 444 399.9 445.3 400 447C400.1 448.7 400.7 450.7 401.5 452C402.3 453.3 404.1 453.3 405 455C405.9 456.7 406.5 459.5 406.6 462C406.7 464.5 406.3 467.5 405.5 470C404.7 472.5 403.2 475.4 402 477C400.8 478.6 399.7 479.4 398 479.4C396.3 479.4 394 478.4 392 477C390 475.6 387.4 473.3 386 471C384.6 468.7 383.8 465.3 383.8 463C383.8 460.7 384.6 458.6 386 457C387.4 455.4 390.6 455 392 453.5C393.4 452 394.2 449.9 394.5 448C394.8 446.1 393.8 444.1 393.8 442C393.8 439.9 393.9 436.7 394.5 435.5Z" fill="#0a0aeb"/>
<path d="M395.1 441.1C395.6 440.1 396.8 440.4 397.6 440.3C398.4 440.3 399.5 439.7 400 440.7C400.5 441.7 400.5 444.7 400.4 446.4C400.4 448 399.5 449.1 399.6 450.5C399.7 451.8 400.2 453.4 400.8 454.5C401.5 455.6 403 455.6 403.7 457C404.4 458.3 404.9 460.6 405 462.7C405.1 464.7 404.7 467.2 404.1 469.2C403.5 471.2 402.3 473.6 401.2 474.9C400.2 476.2 399.3 476.9 398 476.9C396.6 476.9 394.7 476.1 393.1 474.9C391.5 473.8 389.3 471.9 388.2 470C387.1 468.1 386.4 465.4 386.4 463.5C386.4 461.6 387.1 459.9 388.2 458.6C389.3 457.3 391.9 457 393.1 455.8C394.2 454.5 394.9 452.8 395.1 451.3C395.4 449.7 394.6 448.1 394.6 446.4C394.6 444.7 394.6 442.1 395.1 441.1Z" fill="#0616f3"/>
<path d="M395.5 444C395.9 443.1 396.9 443.4 397.6 443.3C398.3 443.2 399.4 442.7 399.8 443.6C400.2 444.5 400.2 447.2 400.1 448.6C400.1 450.1 399.4 451 399.4 452.2C399.5 453.4 399.9 454.9 400.5 455.8C401.1 456.8 402.4 456.8 403 458C403.6 459.2 404.1 461.2 404.2 463C404.2 464.8 403.9 467 403.4 468.8C402.8 470.6 401.8 472.7 400.9 473.8C400 475 399.2 475.6 398 475.6C396.8 475.6 395.1 474.8 393.7 473.8C392.2 472.8 390.3 471.2 389.3 469.5C388.3 467.8 387.7 465.4 387.7 463.8C387.7 462.1 388.3 460.6 389.3 459.4C390.3 458.3 392.6 458 393.7 456.9C394.7 455.8 395.2 454.3 395.5 453C395.7 451.6 394.9 450.1 394.9 448.6C394.9 447.1 395 444.8 395.5 444Z" fill="#0222fb"/>
<path d="M395.7 446.3C396.1 445.5 397 445.8 397.6 445.7C398.3 445.7 399.2 445.2 399.6 446C399.9 446.8 399.9 449.2 399.9 450.5C399.8 451.7 399.2 452.6 399.3 453.7C399.3 454.7 399.7 456 400.2 456.9C400.8 457.7 401.9 457.7 402.5 458.8C403 459.9 403.4 461.7 403.5 463.3C403.5 464.9 403.3 466.9 402.8 468.5C402.3 470.1 401.3 472 400.5 473C399.7 474 399 474.5 398 474.5C396.9 474.5 395.4 473.9 394.1 473C392.8 472.1 391.1 470.6 390.2 469.1C389.4 467.6 388.8 465.5 388.8 464C388.8 462.5 389.4 461.1 390.2 460.1C391.1 459.1 393.2 458.8 394.1 457.9C395 456.9 395.5 455.6 395.7 454.3C395.9 453.1 395.3 451.8 395.3 450.5C395.3 449.1 395.3 447.1 395.7 446.3Z" fill="#003bff"/>
<path d="M395.9 448.3C396.3 447.6 397.1 447.8 397.7 447.8C398.2 447.8 399.1 447.3 399.4 448C399.7 448.7 399.7 450.9 399.7 452.1C399.6 453.2 399.1 454 399.1 454.9C399.2 455.9 399.5 457 400 457.8C400.5 458.6 401.5 458.6 402 459.5C402.5 460.5 402.9 462.1 402.9 463.6C403 465 402.7 466.7 402.3 468.2C401.8 469.6 401 471.3 400.3 472.2C399.5 473.1 398.9 473.6 398 473.6C397 473.6 395.7 473 394.5 472.2C393.4 471.4 391.8 470.1 391.1 468.8C390.3 467.4 389.8 465.5 389.8 464.1C389.8 462.8 390.3 461.6 391.1 460.7C391.8 459.8 393.7 459.5 394.5 458.7C395.3 457.8 395.8 456.6 395.9 455.5C396.1 454.4 395.5 453.3 395.5 452.1C395.5 450.9 395.6 449 395.9 448.3Z" fill="#0063ff"/>
<path d="M396.1 450.2C396.5 449.5 397.2 449.7 397.7 449.7C398.2 449.6 398.9 449.3 399.2 449.9C399.5 450.5 399.5 452.5 399.5 453.5C399.5 454.5 398.9 455.2 399 456.1C399 456.9 399.3 458 399.8 458.6C400.2 459.3 401.1 459.3 401.6 460.2C402 461 402.3 462.5 402.4 463.8C402.4 465.1 402.2 466.6 401.8 467.9C401.4 469.2 400.7 470.7 400 471.5C399.4 472.3 398.8 472.8 398 472.8C397.1 472.8 395.9 472.2 394.9 471.5C393.8 470.8 392.5 469.6 391.8 468.4C391.1 467.2 390.6 465.5 390.6 464.3C390.6 463.1 391.1 462 391.8 461.2C392.5 460.4 394.1 460.2 394.9 459.4C395.6 458.6 396 457.6 396.1 456.6C396.3 455.6 395.8 454.6 395.8 453.5C395.8 452.4 395.8 450.8 396.1 450.2Z" fill="#008aff"/>
<path d="M396.3 451.8C396.6 451.3 397.3 451.5 397.7 451.4C398.2 451.4 398.8 451.1 399.1 451.6C399.4 452.2 399.4 453.9 399.3 454.8C399.3 455.7 398.8 456.4 398.9 457.1C398.9 457.9 399.2 458.8 399.6 459.4C399.9 460 400.8 460 401.2 460.8C401.5 461.6 401.9 462.9 401.9 464C401.9 465.1 401.7 466.5 401.4 467.7C401 468.8 400.4 470.2 399.8 470.9C399.2 471.6 398.7 472 397.9 472C397.2 472 396.1 471.5 395.2 470.9C394.3 470.2 393.1 469.2 392.4 468.1C391.8 467.1 391.4 465.5 391.4 464.5C391.4 463.4 391.8 462.4 392.4 461.7C393.1 461 394.5 460.8 395.2 460.1C395.8 459.4 396.2 458.5 396.3 457.6C396.5 456.7 396 455.8 396 454.8C396 453.9 396.1 452.4 396.3 451.8Z" fill="#00b6fa"/>
<path d="M396.5 453.4C396.8 452.9 397.3 453.1 397.7 453.1C398.1 453 398.7 452.7 399 453.2C399.2 453.7 399.2 455.3 399.2 456.1C399.1 456.9 398.7 457.4 398.8 458.1C398.8 458.8 399 459.6 399.4 460.1C399.7 460.7 400.4 460.7 400.8 461.4C401.1 462 401.4 463.2 401.4 464.2C401.5 465.2 401.3 466.4 401 467.4C400.7 468.5 400.1 469.7 399.6 470.3C399.1 470.9 398.6 471.3 397.9 471.3C397.3 471.3 396.3 470.9 395.5 470.3C394.7 469.7 393.6 468.8 393.1 467.9C392.5 466.9 392.2 465.6 392.2 464.6C392.2 463.7 392.5 462.8 393.1 462.2C393.6 461.5 394.9 461.4 395.5 460.7C396.1 460.1 396.4 459.3 396.5 458.5C396.6 457.7 396.2 456.9 396.2 456.1C396.2 455.2 396.3 453.9 396.5 453.4Z" fill="#00e1f5"/>
<path d="M396.7 454.9C396.9 454.5 397.4 454.6 397.8 454.6C398.1 454.6 398.6 454.3 398.8 454.7C399 455.2 399 456.5 399 457.2C399 458 398.6 458.4 398.6 459C398.7 459.6 398.9 460.3 399.2 460.8C399.5 461.3 400.1 461.3 400.4 461.9C400.7 462.5 401 463.5 401 464.4C401 465.3 400.9 466.3 400.6 467.2C400.3 468.1 399.8 469.2 399.4 469.7C398.9 470.3 398.5 470.6 397.9 470.6C397.3 470.6 396.5 470.2 395.8 469.7C395.1 469.2 394.1 468.4 393.7 467.6C393.2 466.8 392.9 465.6 392.9 464.7C392.9 463.9 393.2 463.2 393.7 462.6C394.1 462 395.3 461.9 395.8 461.3C396.3 460.8 396.6 460.1 396.7 459.4C396.8 458.7 396.4 458 396.4 457.2C396.4 456.5 396.5 455.4 396.7 454.9Z" fill="#0af0a1"/>
<path d="M396.8 456.4C397 456 397.5 456.1 397.8 456.1C398.1 456 398.5 455.8 398.7 456.2C398.9 456.6 398.9 457.7 398.9 458.4C398.8 459 398.5 459.4 398.6 459.9C398.6 460.4 398.8 461 399 461.5C399.3 461.9 399.8 461.9 400.1 462.4C400.4 462.9 400.6 463.8 400.6 464.6C400.6 465.3 400.5 466.3 400.3 467C400 467.8 399.6 468.7 399.2 469.2C398.8 469.7 398.4 469.9 397.9 469.9C397.4 469.9 396.7 469.6 396.1 469.2C395.5 468.8 394.6 468.1 394.2 467.3C393.8 466.6 393.5 465.6 393.5 464.9C393.5 464.1 393.8 463.5 394.2 463C394.6 462.5 395.6 462.4 396.1 461.9C396.5 461.5 396.8 460.8 396.8 460.2C396.9 459.6 396.6 459 396.6 458.4C396.6 457.7 396.7 456.7 396.8 456.4Z" fill="#18ff4e"/>
<path d="M397 457.7C397.2 457.4 397.5 457.5 397.8 457.5C398.1 457.5 398.4 457.3 398.6 457.6C398.7 457.9 398.7 458.9 398.7 459.4C398.7 460 398.4 460.3 398.5 460.8C398.5 461.2 398.6 461.7 398.9 462.1C399.1 462.4 399.6 462.4 399.8 462.9C400 463.3 400.2 464.1 400.2 464.7C400.2 465.4 400.1 466.2 399.9 466.8C399.7 467.5 399.3 468.3 399 468.7C398.7 469.1 398.4 469.3 397.9 469.3C397.5 469.3 396.9 469.1 396.3 468.7C395.8 468.3 395.1 467.7 394.8 467.1C394.4 466.5 394.2 465.6 394.2 465C394.2 464.4 394.4 463.8 394.8 463.4C395.1 463 396 462.9 396.3 462.5C396.7 462.1 396.9 461.5 397 461C397.1 460.5 396.8 460 396.8 459.4C396.8 458.9 396.8 458 397 457.7Z" fill="#75ff22"/>
<path d="M397.1 459C397.3 458.7 397.6 458.8 397.8 458.8C398 458.8 398.3 458.6 398.5 458.9C398.6 459.2 398.6 460 398.6 460.5C398.6 460.9 398.3 461.2 398.4 461.6C398.4 461.9 398.5 462.4 398.7 462.7C398.9 463 399.3 463 399.5 463.3C399.7 463.7 399.8 464.3 399.8 464.9C399.8 465.4 399.8 466.1 399.6 466.7C399.4 467.2 399.1 467.9 398.8 468.2C398.5 468.5 398.3 468.7 397.9 468.7C397.6 468.7 397 468.5 396.6 468.2C396.2 467.9 395.6 467.4 395.3 466.9C395 466.4 394.8 465.6 394.8 465.1C394.8 464.6 395 464.1 395.3 463.8C395.6 463.4 396.3 463.3 396.6 463C396.9 462.7 397.1 462.2 397.1 461.8C397.2 461.4 397 460.9 397 460.5C397 460 397 459.3 397.1 459Z" fill="#c7f100"/>
<path d="M397.3 460.3C397.4 460.1 397.6 460.1 397.8 460.1C398 460.1 398.3 460 398.4 460.2C398.5 460.4 398.5 461.1 398.5 461.4C398.4 461.8 398.3 462 398.3 462.3C398.3 462.6 398.4 463 398.5 463.2C398.7 463.5 399 463.5 399.2 463.8C399.3 464.1 399.4 464.6 399.5 465C399.5 465.5 399.4 466 399.3 466.5C399.1 466.9 398.9 467.4 398.6 467.7C398.4 468 398.2 468.2 397.9 468.2C397.6 468.2 397.2 468 396.8 467.7C396.5 467.5 396 467.1 395.8 466.7C395.5 466.2 395.4 465.6 395.4 465.2C395.4 464.8 395.5 464.4 395.8 464.1C396 463.9 396.6 463.8 396.8 463.5C397.1 463.2 397.2 462.9 397.3 462.5C397.3 462.2 397.2 461.8 397.2 461.4C397.2 461.1 397.2 460.5 397.3 460.3Z" fill="#f1b400"/>
<path d="M397.4 461.5C397.5 461.3 397.7 461.4 397.8 461.4C398 461.4 398.2 461.3 398.3 461.4C398.3 461.6 398.3 462.1 398.3 462.4C398.3 462.7 398.2 462.9 398.2 463.1C398.2 463.3 398.3 463.6 398.4 463.8C398.5 464 398.8 464 398.9 464.2C399 464.4 399.1 464.8 399.1 465.2C399.1 465.5 399.1 466 399 466.3C398.9 466.6 398.6 467.1 398.5 467.3C398.3 467.5 398.1 467.6 397.9 467.6C397.7 467.6 397.4 467.5 397.1 467.3C396.8 467.1 396.4 466.8 396.2 466.4C396.1 466.1 395.9 465.6 395.9 465.3C395.9 465 396.1 464.7 396.2 464.5C396.4 464.3 396.9 464.2 397.1 464C397.3 463.8 397.4 463.5 397.4 463.2C397.5 463 397.3 462.7 397.3 462.4C397.3 462.1 397.3 461.7 397.4 461.5Z" fill="#fb5f00"/>
<path d="M397.6 462.7C397.6 462.6 397.8 462.6 397.9 462.6C398 462.6 398.1 462.5 398.2 462.6C398.2 462.8 398.2 463.1 398.2 463.3C398.2 463.5 398.1 463.7 398.1 463.8C398.1 464 398.2 464.2 398.3 464.3C398.3 464.5 398.5 464.5 398.6 464.6C398.7 464.8 398.8 465.1 398.8 465.3C398.8 465.6 398.7 465.9 398.7 466.1C398.6 466.4 398.4 466.7 398.3 466.8C398.2 467 398.1 467.1 397.9 467.1C397.7 467.1 397.5 467 397.3 466.8C397.1 466.7 396.8 466.5 396.7 466.2C396.6 466 396.5 465.7 396.5 465.4C396.5 465.2 396.6 465 396.7 464.8C396.8 464.7 397.2 464.6 397.3 464.5C397.5 464.3 397.5 464.1 397.6 463.9C397.6 463.7 397.5 463.5 397.5 463.3C397.5 463.1 397.5 462.8 397.6 462.7Z" fill="#f50000"/>
<path d="M406 466C406 467 405.7 468.1 405.3 469.1C404.8 470 404.1 470.9 403.2 471.7C402.4 472.4 401.3 473 400.1 473.4C399 473.8 397.7 474 396.5 474C395.3 474 394 473.8 392.9 473.4C391.7 473 390.6 472.4 389.8 471.7C388.9 470.9 388.2 470 387.7 469.1C387.3 468.1 387 467 387 466C387 465 387.3 463.9 387.7 462.9C388.2 462 388.9 461.1 389.8 460.3C390.6 459.6 391.7 459 392.9 458.6C394 458.2 395.3 458 396.5 458C397.7 458 399 458.2 400.1 458.6C401.3 459 402.4 459.6 403.2 460.3C404.1 461.1 404.8 462 405.3 462.9C405.7 463.9 406 465 406 466Z" fill="#006bff"/>
<path d="M405.1 466C405.1 466.9 404.9 467.9 404.5 468.8C404.1 469.6 403.4 470.5 402.6 471.1C401.8 471.8 400.8 472.4 399.8 472.7C398.8 473.1 397.6 473.3 396.5 473.3C395.4 473.3 394.2 473.1 393.2 472.7C392.2 472.4 391.2 471.8 390.4 471.1C389.6 470.5 388.9 469.6 388.5 468.8C388.1 467.9 387.9 466.9 387.9 466C387.9 465.1 388.1 464.1 388.5 463.2C388.9 462.4 389.6 461.5 390.4 460.9C391.2 460.2 392.2 459.6 393.2 459.3C394.2 458.9 395.4 458.7 396.5 458.7C397.6 458.7 398.8 458.9 399.8 459.3C400.8 459.6 401.8 460.2 402.6 460.9C403.4 461.5 404.1 462.4 404.5 463.2C404.9 464.1 405.1 465.1 405.1 466Z" fill="#0092fe"/>
<path d="M404.3 466C404.3 466.8 404.1 467.7 403.7 468.5C403.3 469.3 402.7 470 402 470.6C401.3 471.2 400.4 471.7 399.5 472.1C398.6 472.4 397.5 472.6 396.5 472.6C395.5 472.6 394.4 472.4 393.5 472.1C392.6 471.7 391.7 471.2 391 470.6C390.3 470 389.7 469.3 389.3 468.5C388.9 467.7 388.7 466.8 388.7 466C388.7 465.2 388.9 464.3 389.3 463.5C389.7 462.7 390.3 462 391 461.4C391.7 460.8 392.6 460.3 393.5 459.9C394.4 459.6 395.5 459.4 396.5 459.4C397.5 459.4 398.6 459.6 399.5 459.9C400.4 460.3 401.3 460.8 402 461.4C402.7 462 403.3 462.7 403.7 463.5C404.1 464.3 404.3 465.2 404.3 466Z" fill="#00bdf9"/>
<path d="M403.4 466C403.4 466.7 403.2 467.5 402.9 468.2C402.6 468.9 402 469.6 401.4 470.1C400.8 470.7 400 471.1 399.2 471.4C398.3 471.7 397.4 471.8 396.5 471.8C395.6 471.8 394.7 471.7 393.8 471.4C393 471.1 392.2 470.7 391.6 470.1C391 469.6 390.4 468.9 390.1 468.2C389.8 467.5 389.6 466.7 389.6 466C389.6 465.3 389.8 464.5 390.1 463.8C390.4 463.1 391 462.4 391.6 461.9C392.2 461.3 393 460.9 393.8 460.6C394.7 460.3 395.6 460.2 396.5 460.2C397.4 460.2 398.3 460.3 399.2 460.6C400 460.9 400.8 461.3 401.4 461.9C402 462.4 402.6 463.1 402.9 463.8C403.2 464.5 403.4 465.3 403.4 466Z" fill="#01e3e9"/>
<path d="M402.6 466C402.6 466.7 402.4 467.4 402.1 468C401.8 468.6 401.3 469.2 400.8 469.6C400.3 470.1 399.5 470.5 398.8 470.7C398.1 471 397.3 471.1 396.5 471.1C395.7 471.1 394.9 471 394.2 470.7C393.5 470.5 392.7 470.1 392.2 469.6C391.7 469.2 391.2 468.6 390.9 468C390.6 467.4 390.4 466.7 390.4 466C390.4 465.3 390.6 464.6 390.9 464C391.2 463.4 391.7 462.8 392.2 462.4C392.7 461.9 393.5 461.5 394.2 461.3C394.9 461 395.7 460.9 396.5 460.9C397.3 460.9 398.1 461 398.8 461.3C399.5 461.5 400.3 461.9 400.8 462.4C401.3 462.8 401.8 463.4 402.1 464C402.4 464.6 402.6 465.3 402.6 466Z" fill="#0bf297"/>
<path d="M401.7 466C401.7 466.6 401.6 467.2 401.3 467.7C401.1 468.2 400.7 468.7 400.2 469.1C399.7 469.5 399.1 469.9 398.5 470.1C397.9 470.3 397.2 470.4 396.5 470.4C395.8 470.4 395.1 470.3 394.5 470.1C393.9 469.9 393.3 469.5 392.8 469.1C392.3 468.7 391.9 468.2 391.7 467.7C391.4 467.2 391.3 466.6 391.3 466C391.3 465.4 391.4 464.8 391.7 464.3C391.9 463.8 392.3 463.3 392.8 462.9C393.3 462.5 393.9 462.1 394.5 461.9C395.1 461.7 395.8 461.6 396.5 461.6C397.2 461.6 397.9 461.7 398.5 461.9C399.1 462.1 399.7 462.5 400.2 462.9C400.7 463.3 401.1 463.8 401.3 464.3C401.6 464.8 401.7 465.4 401.7 466Z" fill="#21ff4a"/>
<path d="M400.9 466C400.9 466.5 400.8 467 400.5 467.4C400.3 467.8 400 468.3 399.6 468.6C399.2 468.9 398.7 469.2 398.2 469.4C397.7 469.6 397.1 469.7 396.5 469.7C395.9 469.7 395.3 469.6 394.8 469.4C394.3 469.2 393.8 468.9 393.4 468.6C393 468.3 392.7 467.8 392.5 467.4C392.2 467 392.1 466.5 392.1 466C392.1 465.5 392.2 465 392.5 464.6C392.7 464.2 393 463.7 393.4 463.4C393.8 463.1 394.3 462.8 394.8 462.6C395.3 462.4 395.9 462.3 396.5 462.3C397.1 462.3 397.7 462.4 398.2 462.6C398.7 462.8 399.2 463.1 399.6 463.4C400 463.7 400.3 464.2 400.5 464.6C400.8 465 400.9 465.5 400.9 466Z" fill="#7dff1f"/>
<path d="M400 466C400 466.4 399.9 466.8 399.7 467.1C399.6 467.5 399.3 467.8 399 468.1C398.7 468.4 398.3 468.6 397.8 468.7C397.4 468.9 396.9 469 396.5 469C396.1 469 395.6 468.9 395.2 468.7C394.7 468.6 394.3 468.4 394 468.1C393.7 467.8 393.4 467.5 393.3 467.1C393.1 466.8 393 466.4 393 466C393 465.6 393.1 465.2 393.3 464.9C393.4 464.5 393.7 464.2 394 463.9C394.3 463.6 394.7 463.4 395.2 463.3C395.6 463.1 396.1 463 396.5 463C396.9 463 397.4 463.1 397.8 463.3C398.3 463.4 398.7 463.6 399 463.9C399.3 464.2 399.6 464.5 399.7 464.9C399.9 465.2 400 465.6 400 466Z" fill="#caee00"/>
<path d="M399.2 466C399.2 466.3 399.1 466.6 399 466.9C398.8 467.1 398.6 467.4 398.4 467.6C398.1 467.8 397.8 468 397.5 468.1C397.2 468.2 396.8 468.2 396.5 468.2C396.2 468.2 395.8 468.2 395.5 468.1C395.2 468 394.9 467.8 394.6 467.6C394.4 467.4 394.2 467.1 394 466.9C393.9 466.6 393.8 466.3 393.8 466C393.8 465.7 393.9 465.4 394 465.1C394.2 464.9 394.4 464.6 394.6 464.4C394.9 464.2 395.2 464 395.5 463.9C395.8 463.8 396.2 463.8 396.5 463.8C396.8 463.8 397.2 463.8 397.5 463.9C397.8 464 398.1 464.2 398.4 464.4C398.6 464.6 398.8 464.9 399 465.1C399.1 465.4 399.2 465.7 399.2 466Z" fill="#f3b100"/>
<path d="M398.3 466C398.3 466.2 398.3 466.4 398.2 466.6C398.1 466.8 397.9 466.9 397.8 467.1C397.6 467.2 397.4 467.3 397.2 467.4C397 467.5 396.7 467.5 396.5 467.5C396.3 467.5 396 467.5 395.8 467.4C395.6 467.3 395.4 467.2 395.2 467.1C395.1 466.9 394.9 466.8 394.8 466.6C394.7 466.4 394.7 466.2 394.7 466C394.7 465.8 394.7 465.6 394.8 465.4C394.9 465.2 395.1 465.1 395.2 464.9C395.4 464.8 395.6 464.7 395.8 464.6C396 464.5 396.3 464.5 396.5 464.5C396.7 464.5 397 464.5 397.2 464.6C397.4 464.7 397.6 464.8 397.8 464.9C397.9 465.1 398.1 465.2 398.2 465.4C398.3 465.6 398.3 465.8 398.3 466Z" fill="#fb5d00"/>
<path d="M397.4 466C397.4 466.1 397.4 466.2 397.4 466.3C397.3 466.4 397.3 466.5 397.2 466.6C397.1 466.6 397 466.7 396.9 466.7C396.8 466.8 396.6 466.8 396.5 466.8C396.4 466.8 396.2 466.8 396.1 466.7C396 466.7 395.9 466.6 395.8 466.6C395.7 466.5 395.7 466.4 395.6 466.3C395.6 466.2 395.6 466.1 395.6 466C395.6 465.9 395.6 465.8 395.6 465.7C395.7 465.6 395.7 465.5 395.8 465.4C395.9 465.4 396 465.3 396.1 465.3C396.2 465.2 396.4 465.2 396.5 465.2C396.6 465.2 396.8 465.2 396.9 465.3C397 465.3 397.1 465.4 397.2 465.4C397.3 465.5 397.3 465.6 397.4 465.7C397.4 465.8 397.4 465.9 397.4 466Z" fill="#f50000"/>
</g></g>
<rect x="382.5" y="425.5" width="36.9" height="28" fill="none" stroke="#333" stroke-width="0.9"/>
<text transform="translate(362 440.2)" font-size="7.6" text-anchor="middle" dy="2.7">2.8</text>
<rect x="443.3" y="423.8" width="70.1" height="69.8" fill="none" stroke="#111" stroke-width="0.9"/>
<text transform="translate(437.5 431.4) scale(0.86 1)" font-size="8.6" text-anchor="end" dy="3.05">10<tspan font-size="6.19" dy="-3.44">5</tspan></text>
<text transform="translate(437.5 447.1) scale(0.86 1)" font-size="8.6" text-anchor="end" dy="3.05">10<tspan font-size="6.19" dy="-3.44">4</tspan></text>
<text transform="translate(437.5 462.8) scale(0.86 1)" font-size="8.6" text-anchor="end" dy="3.05">10<tspan font-size="6.19" dy="-3.44">3</tspan></text>
<text transform="translate(437.5 478.6) scale(0.86 1)" font-size="8.6" text-anchor="end" dy="3.05">10<tspan font-size="6.19" dy="-3.44">2</tspan></text>
<text transform="translate(437.7 487.4) scale(0.86 1)" font-size="8.6" text-anchor="end" dy="3.05">0</text>
<path d="M441 431.4H443.3M441 447.1H443.3M441 462.8H443.3M441 478.6H443.3M441 486.8H443.3M442 442.4H443.3M442 439.6H443.3M442 437.6H443.3M442 436.1H443.3M442 434.9H443.3M442 433.8H443.3M442 432.9H443.3M442 432.1H443.3M442 458.1H443.3M442 455.3H443.3M442 453.3H443.3M442 451.8H443.3M442 450.6H443.3M442 449.5H443.3M442 448.6H443.3M442 447.8H443.3M442 473.8H443.3M442 471H443.3M442 469H443.3M442 467.5H443.3M442 466.3H443.3M442 465.2H443.3M442 464.3H443.3M442 463.5H443.3M442 481.8H443.3M442 484.3H443.3M442 489.8H443.3M442 491.8H443.3M455.2 493.6V495.9M460.2 493.6V494.9M463.1 493.6V494.9M465.1 493.6V494.9M466.7 493.6V494.9M468 493.6V494.9M469.1 493.6V494.9M470.1 493.6V494.9M470.9 493.6V494.9M472.4 493.6V495.9M477.4 493.6V494.9M480.3 493.6V494.9M482.3 493.6V494.9M483.9 493.6V494.9M485.2 493.6V494.9M486.3 493.6V494.9M487.3 493.6V494.9M488.1 493.6V494.9M489.2 493.6V495.9M494.2 493.6V494.9M497.1 493.6V494.9M499.1 493.6V494.9M500.7 493.6V494.9M502 493.6V494.9M503.1 493.6V494.9M504.1 493.6V494.9M504.9 493.6V494.9M505.2 493.6V495.9M510.2 493.6V494.9M513.1 493.6V494.9M445.3 493.6V494.9M447.3 493.6V494.9M449.8 493.6V494.9M451.3 493.6V494.9" stroke="#111" stroke-width="0.75" fill="none"/>
<text transform="translate(450.5 503.4) scale(0.86 1)" font-size="8.6" text-anchor="middle" dy="3.05">0</text>
<text transform="translate(458.2 503.4) scale(0.86 1)" font-size="8.6" text-anchor="middle" dy="3.05">10<tspan font-size="6.19" dy="-3.44">2</tspan></text>
<text transform="translate(475.4 503.4) scale(0.86 1)" font-size="8.6" text-anchor="middle" dy="3.05">10<tspan font-size="6.19" dy="-3.44">3</tspan></text>
<text transform="translate(492.2 503.4) scale(0.86 1)" font-size="8.6" text-anchor="middle" dy="3.05">10<tspan font-size="6.19" dy="-3.44">4</tspan></text>
<text transform="translate(508.2 503.4) scale(0.86 1)" font-size="8.6" text-anchor="middle" dy="3.05">10<tspan font-size="6.19" dy="-3.44">5</tspan></text>
<path d="M483.6 465.1h.7v.7h-.7zM484.4 455.8h.7v.7h-.7zM493.6 491.8h.7v.7h-.7zM484.5 442.2h.7v.7h-.7zM491.1 442.6h.7v.7h-.7zM478.1 485.9h.7v.7h-.7zM485.6 480.9h.7v.7h-.7zM485.3 484.7h.7v.7h-.7zM486.3 440.1h.7v.7h-.7zM478.3 464.2h.7v.7h-.7zM475.4 443.9h.7v.7h-.7zM496 475.5h.7v.7h-.7zM480 477.1h.7v.7h-.7zM490.5 474.3h.7v.7h-.7zM468.4 462h.7v.7h-.7zM493.7 475.4h.7v.7h-.7zM493.6 434h.7v.7h-.7zM487.9 472.3h.7v.7h-.7zM506.9 453.5h.7v.7h-.7zM483.9 466.4h.7v.7h-.7zM493.6 460.1h.7v.7h-.7zM495.7 455.7h.7v.7h-.7zM488.6 459h.7v.7h-.7zM487.8 456.9h.7v.7h-.7zM473.7 480.1h.7v.7h-.7zM488.9 458.6h.7v.7h-.7zM488.1 478.8h.7v.7h-.7zM478.7 464.5h.7v.7h-.7zM490.8 472.7h.7v.7h-.7zM483.8 438.5h.7v.7h-.7zM496.4 470.2h.7v.7h-.7zM486.6 462.3h.7v.7h-.7zM488.6 460.4h.7v.7h-.7zM478.3 456.3h.7v.7h-.7zM481.7 457.9h.7v.7h-.7zM477.2 474.2h.7v.7h-.7zM476 474.5h.7v.7h-.7zM478.4 470.5h.7v.7h-.7zM497.5 468.5h.7v.7h-.7zM480.7 466.5h.7v.7h-.7z" fill="#9a9a9a"/>
<g clip-path="url(#c21)"><g filter="url(#bl)">
<path d="M480 435C481.2 433.4 484 432.8 486 432.6C488 432.4 490.8 432.4 492 434C493.2 435.6 493.3 439 493.5 442C493.7 445 492.6 449.5 493 452C493.4 454.5 495.1 455.3 496 457C496.9 458.7 497.9 460.2 498.1 462C498.3 463.8 497.9 466 497 468C496.1 470 494.2 472.3 493 474C491.8 475.7 491 477 490 478C489 479 487.9 480.2 487 480C486.1 479.8 485.7 478.3 484.5 477C483.3 475.7 481.5 473.7 480 472C478.5 470.3 476.4 468.8 475.5 467C474.6 465.2 474.2 462.8 474.3 461C474.4 459.2 475.2 457.8 476 456C476.8 454.2 478.6 452.3 479 450C479.4 447.7 478.3 444.5 478.5 442C478.7 439.5 478.8 436.6 480 435Z" fill="#0a0aeb"/>
<path d="M481.4 440.3C482.4 439.1 484.6 438.5 486.3 438.4C487.9 438.2 490.1 438.2 491.2 439.5C492.2 440.8 492.3 443.6 492.4 446C492.5 448.5 491.6 452.2 492 454.2C492.3 456.2 493.7 456.9 494.4 458.3C495.1 459.6 496 460.9 496.1 462.4C496.3 463.8 495.9 465.6 495.2 467.2C494.6 468.9 492.9 470.8 492 472.1C491 473.5 490.4 474.6 489.5 475.4C488.7 476.2 487.8 477.2 487.1 477C486.3 476.9 486 475.7 485.1 474.6C484.1 473.5 482.6 471.9 481.4 470.5C480.2 469.1 478.5 467.9 477.7 466.4C476.9 464.9 476.7 463 476.7 461.5C476.8 460 477.5 459 478.1 457.5C478.8 456 480.2 454.5 480.6 452.6C480.9 450.7 480 448.1 480.2 446C480.3 444 480.4 441.6 481.4 440.3Z" fill="#0616f3"/>
<path d="M482.1 443.1C483 442 485 441.5 486.4 441.4C487.9 441.2 489.8 441.2 490.7 442.4C491.6 443.5 491.7 446 491.8 448.1C491.9 450.3 491.2 453.5 491.5 455.3C491.8 457.1 493 457.7 493.6 458.9C494.2 460.1 495 461.2 495.1 462.5C495.3 463.9 495 465.4 494.3 466.9C493.7 468.3 492.3 470 491.5 471.2C490.6 472.4 490 473.3 489.3 474.1C488.6 474.8 487.8 475.6 487.1 475.5C486.5 475.4 486.2 474.3 485.3 473.3C484.5 472.4 483.2 470.9 482.1 469.7C481 468.5 479.5 467.5 478.9 466.1C478.2 464.8 477.9 463.1 478 461.8C478.1 460.5 478.7 459.5 479.2 458.2C479.8 456.9 481.1 455.6 481.4 453.9C481.7 452.2 480.9 449.9 481 448.1C481.1 446.3 481.2 444.2 482.1 443.1Z" fill="#0222fb"/>
<path d="M482.7 445.3C483.5 444.3 485.2 443.9 486.5 443.8C487.8 443.7 489.6 443.7 490.4 444.7C491.2 445.7 491.3 447.9 491.4 449.8C491.5 451.7 490.8 454.6 491 456.2C491.3 457.9 492.4 458.4 493 459.5C493.5 460.5 494.2 461.5 494.3 462.7C494.4 463.9 494.2 465.3 493.6 466.5C493.1 467.8 491.8 469.3 491 470.4C490.3 471.5 489.8 472.3 489.1 473C488.5 473.6 487.8 474.4 487.2 474.3C486.6 474.1 486.3 473.2 485.6 472.3C484.8 471.5 483.6 470.2 482.7 469.1C481.7 468 480.4 467.1 479.8 465.9C479.2 464.7 479 463.2 479 462C479.1 460.9 479.6 460 480.1 458.8C480.6 457.6 481.8 456.5 482 455C482.3 453.5 481.6 451.4 481.7 449.8C481.8 448.2 481.9 446.3 482.7 445.3Z" fill="#003bff"/>
<path d="M483.2 447.3C483.9 446.4 485.5 446 486.6 445.9C487.8 445.8 489.4 445.8 490.1 446.7C490.8 447.6 490.9 449.6 491 451.3C491 453 490.4 455.6 490.7 457.1C490.9 458.5 491.9 459 492.4 459.9C492.9 460.9 493.5 461.8 493.6 462.8C493.7 463.9 493.5 465.1 493 466.3C492.5 467.4 491.3 468.8 490.7 469.7C490 470.7 489.5 471.4 488.9 472C488.4 472.6 487.7 473.3 487.2 473.2C486.7 473.1 486.4 472.2 485.8 471.4C485.1 470.7 484 469.5 483.2 468.6C482.3 467.6 481.1 466.7 480.6 465.7C480 464.6 479.9 463.3 479.9 462.2C480 461.2 480.4 460.4 480.9 459.4C481.3 458.3 482.4 457.2 482.6 455.9C482.8 454.6 482.2 452.7 482.3 451.3C482.4 449.9 482.5 448.2 483.2 447.3Z" fill="#0063ff"/>
<path d="M483.6 449C484.3 448.2 485.7 447.9 486.7 447.8C487.8 447.7 489.2 447.7 489.8 448.5C490.5 449.3 490.5 451.1 490.6 452.6C490.7 454.2 490.1 456.5 490.3 457.8C490.5 459.1 491.4 459.5 491.9 460.3C492.3 461.2 492.9 462 493 462.9C493 463.9 492.8 465 492.4 466C492 467 490.9 468.2 490.3 469.1C489.7 470 489.3 470.6 488.8 471.2C488.3 471.7 487.7 472.3 487.2 472.2C486.8 472.1 486.6 471.3 486 470.6C485.4 470 484.4 468.9 483.6 468.1C482.9 467.2 481.8 466.4 481.3 465.5C480.8 464.6 480.7 463.4 480.7 462.4C480.7 461.5 481.2 460.8 481.6 459.8C482 458.9 482.9 457.9 483.1 456.7C483.3 455.5 482.8 453.9 482.9 452.6C483 451.3 483 449.8 483.6 449Z" fill="#008aff"/>
<path d="M484.1 450.6C484.6 449.9 485.9 449.6 486.8 449.5C487.7 449.5 489 449.5 489.6 450.2C490.1 450.9 490.2 452.5 490.3 453.9C490.3 455.2 489.8 457.3 490 458.4C490.2 459.6 491 460 491.4 460.7C491.8 461.5 492.3 462.2 492.4 463C492.4 463.9 492.2 464.9 491.9 465.8C491.5 466.7 490.6 467.8 490 468.5C489.5 469.3 489.1 469.9 488.6 470.4C488.2 470.8 487.7 471.4 487.3 471.3C486.9 471.2 486.7 470.5 486.1 469.9C485.6 469.3 484.7 468.4 484.1 467.6C483.4 466.9 482.4 466.2 482 465.3C481.6 464.5 481.4 463.4 481.4 462.6C481.5 461.7 481.9 461.1 482.2 460.3C482.6 459.4 483.4 458.6 483.6 457.5C483.8 456.5 483.3 455 483.4 453.9C483.4 452.7 483.5 451.4 484.1 450.6Z" fill="#00b6fa"/>
<path d="M484.5 452.2C485 451.5 486.1 451.3 486.9 451.2C487.7 451.1 488.8 451.1 489.3 451.8C489.8 452.4 489.9 453.8 489.9 455C490 456.2 489.6 458.1 489.7 459.1C489.9 460.1 490.6 460.4 491 461.1C491.3 461.8 491.7 462.4 491.8 463.1C491.9 463.9 491.7 464.8 491.4 465.6C491 466.4 490.2 467.3 489.7 468C489.3 468.7 488.9 469.2 488.5 469.6C488.1 470 487.7 470.5 487.3 470.4C486.9 470.4 486.8 469.8 486.3 469.2C485.8 468.7 485.1 467.9 484.5 467.2C483.8 466.5 483 465.9 482.6 465.2C482.2 464.4 482.1 463.5 482.1 462.7C482.2 462 482.5 461.4 482.8 460.7C483.1 459.9 483.9 459.2 484 458.3C484.2 457.3 483.8 456 483.8 455C483.9 454 483.9 452.8 484.5 452.2Z" fill="#00e1f5"/>
<path d="M484.8 453.6C485.3 453 486.3 452.8 487 452.7C487.7 452.7 488.7 452.7 489.1 453.2C489.6 453.8 489.6 455 489.6 456.1C489.7 457.2 489.3 458.8 489.5 459.7C489.6 460.5 490.2 460.8 490.5 461.4C490.8 462 491.2 462.6 491.3 463.2C491.3 463.9 491.2 464.6 490.9 465.4C490.6 466.1 489.9 466.9 489.5 467.5C489 468.1 488.7 468.6 488.4 468.9C488 469.3 487.6 469.7 487.3 469.6C487 469.6 486.8 469 486.4 468.6C486 468.1 485.4 467.4 484.8 466.8C484.3 466.2 483.6 465.7 483.2 465C482.9 464.4 482.8 463.5 482.8 462.9C482.8 462.2 483.1 461.7 483.4 461.1C483.7 460.4 484.3 459.8 484.5 458.9C484.6 458.1 484.2 457 484.3 456.1C484.3 455.2 484.4 454.2 484.8 453.6Z" fill="#0af0a1"/>
<path d="M485.2 455C485.6 454.5 486.4 454.3 487 454.2C487.7 454.2 488.5 454.2 488.9 454.6C489.3 455.1 489.3 456.2 489.4 457.1C489.4 458 489.1 459.4 489.2 460.2C489.3 461 489.9 461.2 490.1 461.8C490.4 462.3 490.7 462.7 490.8 463.3C490.8 463.9 490.7 464.6 490.4 465.2C490.2 465.8 489.6 466.5 489.2 467C488.8 467.5 488.6 468 488.3 468.3C488 468.6 487.6 468.9 487.3 468.9C487.1 468.8 486.9 468.4 486.6 468C486.2 467.5 485.6 466.9 485.2 466.4C484.7 465.9 484.1 465.4 483.8 464.9C483.5 464.3 483.4 463.6 483.4 463C483.4 462.4 483.7 462 483.9 461.5C484.2 460.9 484.7 460.3 484.9 459.6C485 458.9 484.7 457.9 484.7 457.1C484.8 456.3 484.8 455.4 485.2 455Z" fill="#18ff4e"/>
<path d="M485.5 456.3C485.8 455.8 486.6 455.7 487.1 455.6C487.6 455.6 488.4 455.6 488.7 456C489 456.4 489 457.3 489.1 458.1C489.1 458.9 488.8 460.1 489 460.8C489.1 461.4 489.5 461.6 489.7 462.1C490 462.5 490.3 462.9 490.3 463.4C490.3 463.9 490.2 464.5 490 465C489.8 465.5 489.3 466.1 489 466.6C488.6 467 488.4 467.4 488.2 467.6C487.9 467.9 487.6 468.2 487.4 468.2C487.1 468.1 487 467.7 486.7 467.4C486.4 467 485.9 466.5 485.5 466C485.1 465.6 484.6 465.2 484.3 464.7C484.1 464.2 484 463.6 484 463.1C484 462.6 484.3 462.3 484.5 461.8C484.7 461.3 485.1 460.8 485.3 460.2C485.4 459.6 485.1 458.8 485.1 458.1C485.2 457.4 485.2 456.7 485.5 456.3Z" fill="#75ff22"/>
<path d="M485.8 457.5C486.1 457.2 486.7 457 487.2 457C487.6 456.9 488.2 456.9 488.5 457.3C488.8 457.6 488.8 458.4 488.8 459.1C488.9 459.7 488.6 460.7 488.7 461.3C488.8 461.8 489.2 462 489.4 462.4C489.6 462.7 489.8 463.1 489.8 463.5C489.9 463.9 489.8 464.4 489.6 464.8C489.4 465.2 489 465.8 488.7 466.1C488.5 466.5 488.3 466.8 488.1 467C487.8 467.2 487.6 467.5 487.4 467.5C487.2 467.4 487.1 467.1 486.8 466.8C486.6 466.5 486.2 466.1 485.8 465.7C485.5 465.3 485.1 465 484.8 464.6C484.6 464.2 484.6 463.7 484.6 463.3C484.6 462.9 484.8 462.6 485 462.2C485.1 461.7 485.5 461.3 485.6 460.8C485.7 460.3 485.5 459.6 485.5 459.1C485.5 458.5 485.6 457.9 485.8 457.5Z" fill="#c7f100"/>
<path d="M486.2 458.7C486.4 458.4 486.9 458.3 487.2 458.3C487.6 458.3 488.1 458.3 488.3 458.5C488.5 458.8 488.5 459.4 488.6 460C488.6 460.5 488.4 461.3 488.5 461.8C488.6 462.2 488.9 462.4 489 462.7C489.2 463 489.4 463.2 489.4 463.6C489.4 463.9 489.4 464.3 489.2 464.6C489.1 465 488.7 465.4 488.5 465.7C488.3 466 488.1 466.3 487.9 466.4C487.8 466.6 487.6 466.8 487.4 466.8C487.2 466.8 487.2 466.5 487 466.3C486.8 466 486.4 465.7 486.2 465.4C485.9 465.1 485.5 464.8 485.3 464.5C485.2 464.1 485.1 463.7 485.1 463.4C485.1 463.1 485.3 462.8 485.4 462.5C485.6 462.2 485.9 461.8 486 461.4C486 461 485.9 460.4 485.9 460C485.9 459.5 485.9 459 486.2 458.7Z" fill="#f1b400"/>
<path d="M486.5 459.9C486.6 459.7 487 459.6 487.3 459.5C487.6 459.5 488 459.5 488.1 459.7C488.3 460 488.3 460.4 488.3 460.9C488.4 461.3 488.2 461.9 488.3 462.2C488.3 462.6 488.6 462.7 488.7 462.9C488.8 463.2 489 463.4 489 463.6C489 463.9 488.9 464.2 488.8 464.5C488.7 464.7 488.4 465.1 488.3 465.3C488.1 465.5 488 465.7 487.8 465.9C487.7 466 487.6 466.2 487.4 466.1C487.3 466.1 487.2 465.9 487.1 465.7C486.9 465.5 486.7 465.3 486.5 465C486.2 464.8 486 464.6 485.8 464.3C485.7 464.1 485.7 463.8 485.7 463.5C485.7 463.2 485.8 463.1 485.9 462.8C486 462.5 486.3 462.3 486.3 462C486.4 461.6 486.2 461.2 486.2 460.9C486.3 460.5 486.3 460.1 486.5 459.9Z" fill="#fb5f00"/>
<path d="M486.8 461C486.9 460.9 487.2 460.8 487.4 460.8C487.6 460.8 487.8 460.8 487.9 460.9C488.1 461.1 488.1 461.4 488.1 461.7C488.1 462 488 462.5 488.1 462.7C488.1 463 488.3 463 488.4 463.2C488.4 463.4 488.5 463.5 488.6 463.7C488.6 463.9 488.5 464.1 488.4 464.3C488.4 464.5 488.2 464.7 488.1 464.9C487.9 465.1 487.9 465.2 487.8 465.3C487.6 465.4 487.5 465.5 487.4 465.5C487.4 465.5 487.3 465.3 487.2 465.2C487.1 465.1 486.9 464.9 486.8 464.7C486.6 464.5 486.4 464.4 486.3 464.2C486.2 464 486.2 463.8 486.2 463.6C486.2 463.4 486.3 463.3 486.4 463.1C486.4 462.9 486.6 462.7 486.6 462.5C486.7 462.3 486.6 462 486.6 461.7C486.6 461.5 486.6 461.2 486.8 461Z" fill="#f50000"/>
<path d="M489 445C489 446 488.9 447.1 488.7 448.1C488.6 449 488.3 449.9 488 450.7C487.7 451.4 487.3 452 486.8 452.4C486.4 452.8 485.9 453 485.5 453C485.1 453 484.6 452.8 484.2 452.4C483.7 452 483.3 451.4 483 450.7C482.7 449.9 482.4 449 482.3 448.1C482.1 447.1 482 446 482 445C482 444 482.1 442.9 482.3 441.9C482.4 441 482.7 440.1 483 439.3C483.3 438.6 483.7 438 484.2 437.6C484.6 437.2 485.1 437 485.5 437C485.9 437 486.4 437.2 486.8 437.6C487.3 438 487.7 438.6 488 439.3C488.3 440.1 488.6 441 488.7 441.9C488.9 442.9 489 444 489 445Z" fill="#0223fc"/>
<path d="M488.1 445C488.1 445.8 488.1 446.6 487.9 447.3C487.8 448 487.6 448.7 487.4 449.3C487.1 449.8 486.8 450.3 486.5 450.6C486.2 450.8 485.8 451 485.5 451C485.2 451 484.8 450.8 484.5 450.6C484.2 450.3 483.9 449.8 483.6 449.3C483.4 448.7 483.2 448 483.1 447.3C482.9 446.6 482.9 445.8 482.9 445C482.9 444.2 482.9 443.4 483.1 442.7C483.2 442 483.4 441.3 483.6 440.7C483.9 440.2 484.2 439.7 484.5 439.4C484.8 439.2 485.2 439 485.5 439C485.8 439 486.2 439.2 486.5 439.4C486.8 439.7 487.1 440.2 487.4 440.7C487.6 441.3 487.8 442 487.9 442.7C488.1 443.4 488.1 444.2 488.1 445Z" fill="#003eff"/>
<path d="M487.5 445C487.5 445.6 487.4 446.2 487.3 446.7C487.2 447.3 487.1 447.8 486.9 448.2C486.7 448.6 486.5 449 486.3 449.2C486 449.4 485.8 449.5 485.5 449.5C485.2 449.5 485 449.4 484.7 449.2C484.5 449 484.3 448.6 484.1 448.2C483.9 447.8 483.8 447.3 483.7 446.7C483.6 446.2 483.5 445.6 483.5 445C483.5 444.4 483.6 443.8 483.7 443.3C483.8 442.7 483.9 442.2 484.1 441.8C484.3 441.4 484.5 441 484.7 440.8C485 440.6 485.2 440.5 485.5 440.5C485.8 440.5 486 440.6 486.3 440.8C486.5 441 486.7 441.4 486.9 441.8C487.1 442.2 487.2 442.7 487.3 443.3C487.4 443.8 487.5 444.4 487.5 445Z" fill="#0065ff"/>
<path d="M486.9 445C486.9 445.4 486.9 445.9 486.8 446.2C486.7 446.6 486.6 447 486.5 447.3C486.4 447.6 486.2 447.8 486 448C485.9 448.1 485.7 448.2 485.5 448.2C485.3 448.2 485.1 448.1 485 448C484.8 447.8 484.6 447.6 484.5 447.3C484.4 447 484.3 446.6 484.2 446.2C484.1 445.9 484.1 445.4 484.1 445C484.1 444.6 484.1 444.1 484.2 443.8C484.3 443.4 484.4 443 484.5 442.7C484.6 442.4 484.8 442.2 485 442C485.1 441.9 485.3 441.8 485.5 441.8C485.7 441.8 485.9 441.9 486 442C486.2 442.2 486.4 442.4 486.5 442.7C486.6 443 486.7 443.4 486.8 443.8C486.9 444.1 486.9 444.6 486.9 445Z" fill="#008cff"/>
<path d="M486.4 445C486.4 445.3 486.3 445.5 486.3 445.8C486.3 446 486.2 446.2 486.1 446.4C486 446.6 485.9 446.7 485.8 446.8C485.7 446.9 485.6 447 485.5 447C485.4 447 485.3 446.9 485.2 446.8C485.1 446.7 485 446.6 484.9 446.4C484.8 446.2 484.7 446 484.7 445.8C484.7 445.5 484.6 445.3 484.6 445C484.6 444.7 484.7 444.5 484.7 444.2C484.7 444 484.8 443.8 484.9 443.6C485 443.4 485.1 443.3 485.2 443.2C485.3 443.1 485.4 443 485.5 443C485.6 443 485.7 443.1 485.8 443.2C485.9 443.3 486 443.4 486.1 443.6C486.2 443.8 486.3 444 486.3 444.2C486.3 444.5 486.4 444.7 486.4 445Z" fill="#00b6fa"/>
<path d="M485.9 445C485.9 445.1 485.8 445.2 485.8 445.3C485.8 445.4 485.8 445.5 485.7 445.6C485.7 445.6 485.7 445.7 485.6 445.7C485.6 445.8 485.5 445.8 485.5 445.8C485.5 445.8 485.4 445.8 485.4 445.7C485.3 445.7 485.3 445.6 485.3 445.6C485.2 445.5 485.2 445.4 485.2 445.3C485.2 445.2 485.1 445.1 485.1 445C485.1 444.9 485.2 444.8 485.2 444.7C485.2 444.6 485.2 444.5 485.3 444.4C485.3 444.4 485.3 444.3 485.4 444.3C485.4 444.2 485.5 444.2 485.5 444.2C485.5 444.2 485.6 444.2 485.6 444.3C485.7 444.3 485.7 444.4 485.7 444.4C485.8 444.5 485.8 444.6 485.8 444.7C485.8 444.8 485.9 444.9 485.9 445Z" fill="#00e1f5"/>
<path d="M495.8 464C495.8 465.1 495.6 466.3 495.2 467.3C494.7 468.3 494.1 469.2 493.3 470C492.5 470.8 491.6 471.4 490.6 471.9C489.6 472.3 488.4 472.5 487.3 472.5C486.2 472.5 485 472.3 484 471.9C483 471.4 482.1 470.8 481.3 470C480.5 469.2 479.9 468.3 479.4 467.3C479 466.3 478.8 465.1 478.8 464C478.8 462.9 479 461.7 479.4 460.7C479.9 459.7 480.5 458.8 481.3 458C482.1 457.2 483 456.6 484 456.1C485 455.7 486.2 455.5 487.3 455.5C488.4 455.5 489.6 455.7 490.6 456.1C491.6 456.6 492.5 457.2 493.3 458C494.1 458.8 494.7 459.7 495.2 460.7C495.6 461.7 495.8 462.9 495.8 464Z" fill="#0076ff"/>
<path d="M495 464C495 465 494.8 466 494.4 467C494.1 467.9 493.5 468.8 492.8 469.5C492.1 470.2 491.2 470.8 490.3 471.1C489.3 471.5 488.3 471.7 487.3 471.7C486.3 471.7 485.3 471.5 484.3 471.1C483.4 470.8 482.5 470.2 481.8 469.5C481.1 468.8 480.5 467.9 480.2 467C479.8 466 479.6 465 479.6 464C479.6 463 479.8 462 480.2 461C480.5 460.1 481.1 459.2 481.8 458.5C482.5 457.8 483.4 457.2 484.3 456.9C485.3 456.5 486.3 456.3 487.3 456.3C488.3 456.3 489.3 456.5 490.3 456.9C491.2 457.2 492.1 457.8 492.8 458.5C493.5 459.2 494.1 460.1 494.4 461C494.8 462 495 463 495 464Z" fill="#009dfd"/>
<path d="M494.3 464C494.3 464.9 494.1 465.8 493.7 466.7C493.4 467.5 492.9 468.3 492.2 468.9C491.6 469.6 490.8 470.1 490 470.4C489.1 470.8 488.2 471 487.3 471C486.4 471 485.5 470.8 484.6 470.4C483.8 470.1 483 469.6 482.4 468.9C481.7 468.3 481.2 467.5 480.9 466.7C480.5 465.8 480.3 464.9 480.3 464C480.3 463.1 480.5 462.2 480.9 461.3C481.2 460.5 481.7 459.7 482.4 459.1C483 458.4 483.8 457.9 484.6 457.6C485.5 457.2 486.4 457 487.3 457C488.2 457 489.1 457.2 490 457.6C490.8 457.9 491.6 458.4 492.2 459.1C492.9 459.7 493.4 460.5 493.7 461.3C494.1 462.2 494.3 463.1 494.3 464Z" fill="#00c6f8"/>
<path d="M493.5 464C493.5 464.8 493.3 465.6 493 466.4C492.7 467.1 492.2 467.8 491.7 468.4C491.1 468.9 490.4 469.4 489.7 469.7C488.9 470 488.1 470.2 487.3 470.2C486.5 470.2 485.7 470 484.9 469.7C484.2 469.4 483.5 468.9 482.9 468.4C482.4 467.8 481.9 467.1 481.6 466.4C481.3 465.6 481.1 464.8 481.1 464C481.1 463.2 481.3 462.4 481.6 461.6C481.9 460.9 482.4 460.2 482.9 459.6C483.5 459.1 484.2 458.6 484.9 458.3C485.7 458 486.5 457.8 487.3 457.8C488.1 457.8 488.9 458 489.7 458.3C490.4 458.6 491.1 459.1 491.7 459.6C492.2 460.2 492.7 460.9 493 461.6C493.3 462.4 493.5 463.2 493.5 464Z" fill="#03e6d9"/>
<path d="M492.7 464C492.7 464.7 492.6 465.4 492.3 466.1C492.1 466.7 491.6 467.4 491.1 467.8C490.7 468.3 490 468.8 489.4 469C488.7 469.3 488 469.4 487.3 469.4C486.6 469.4 485.9 469.3 485.2 469C484.6 468.8 483.9 468.3 483.5 467.8C483 467.4 482.5 466.7 482.3 466.1C482 465.4 481.9 464.7 481.9 464C481.9 463.3 482 462.6 482.3 461.9C482.5 461.3 483 460.6 483.5 460.2C483.9 459.7 484.6 459.2 485.2 459C485.9 458.7 486.6 458.6 487.3 458.6C488 458.6 488.7 458.7 489.4 459C490 459.2 490.7 459.7 491.1 460.2C491.6 460.6 492.1 461.3 492.3 461.9C492.6 462.6 492.7 463.3 492.7 464Z" fill="#0df589"/>
<path d="M492 464C492 464.6 491.8 465.2 491.6 465.8C491.4 466.3 491 466.9 490.6 467.3C490.2 467.7 489.6 468.1 489.1 468.3C488.5 468.5 487.9 468.7 487.3 468.7C486.7 468.7 486.1 468.5 485.5 468.3C485 468.1 484.4 467.7 484 467.3C483.6 466.9 483.2 466.3 483 465.8C482.8 465.2 482.6 464.6 482.6 464C482.6 463.4 482.8 462.8 483 462.2C483.2 461.7 483.6 461.1 484 460.7C484.4 460.3 485 459.9 485.5 459.7C486.1 459.5 486.7 459.3 487.3 459.3C487.9 459.3 488.5 459.5 489.1 459.7C489.6 459.9 490.2 460.3 490.6 460.7C491 461.1 491.4 461.7 491.6 462.2C491.8 462.8 492 463.4 492 464Z" fill="#2eff44"/>
<path d="M491.2 464C491.2 464.5 491.1 465 490.9 465.5C490.7 466 490.4 466.4 490.1 466.8C489.7 467.1 489.3 467.4 488.8 467.6C488.3 467.8 487.8 467.9 487.3 467.9C486.8 467.9 486.3 467.8 485.8 467.6C485.3 467.4 484.9 467.1 484.5 466.8C484.2 466.4 483.9 466 483.7 465.5C483.5 465 483.4 464.5 483.4 464C483.4 463.5 483.5 463 483.7 462.5C483.9 462 484.2 461.6 484.5 461.2C484.9 460.9 485.3 460.6 485.8 460.4C486.3 460.2 486.8 460.1 487.3 460.1C487.8 460.1 488.3 460.2 488.8 460.4C489.3 460.6 489.7 460.9 490.1 461.2C490.4 461.6 490.7 462 490.9 462.5C491.1 463 491.2 463.5 491.2 464Z" fill="#87ff1a"/>
<path d="M490.4 464C490.4 464.4 490.4 464.8 490.2 465.2C490.1 465.6 489.8 465.9 489.5 466.2C489.2 466.5 488.9 466.8 488.5 466.9C488.1 467.1 487.7 467.1 487.3 467.1C486.9 467.1 486.5 467.1 486.1 466.9C485.7 466.8 485.4 466.5 485.1 466.2C484.8 465.9 484.5 465.6 484.4 465.2C484.2 464.8 484.2 464.4 484.2 464C484.2 463.6 484.2 463.2 484.4 462.8C484.5 462.4 484.8 462.1 485.1 461.8C485.4 461.5 485.7 461.2 486.1 461.1C486.5 460.9 486.9 460.9 487.3 460.9C487.7 460.9 488.1 460.9 488.5 461.1C488.9 461.2 489.2 461.5 489.5 461.8C489.8 462.1 490.1 462.4 490.2 462.8C490.4 463.2 490.4 463.6 490.4 464Z" fill="#cde900"/>
<path d="M489.7 464C489.7 464.3 489.6 464.6 489.5 464.9C489.4 465.2 489.2 465.5 489 465.7C488.8 465.9 488.5 466.1 488.2 466.2C487.9 466.3 487.6 466.4 487.3 466.4C487 466.4 486.7 466.3 486.4 466.2C486.1 466.1 485.8 465.9 485.6 465.7C485.4 465.5 485.2 465.2 485.1 464.9C485 464.6 484.9 464.3 484.9 464C484.9 463.7 485 463.4 485.1 463.1C485.2 462.8 485.4 462.5 485.6 462.3C485.8 462.1 486.1 461.9 486.4 461.8C486.7 461.7 487 461.6 487.3 461.6C487.6 461.6 487.9 461.7 488.2 461.8C488.5 461.9 488.8 462.1 489 462.3C489.2 462.5 489.4 462.8 489.5 463.1C489.6 463.4 489.7 463.7 489.7 464Z" fill="#f6ae00"/>
<path d="M488.9 464C488.9 464.2 488.9 464.4 488.8 464.6C488.7 464.8 488.6 465 488.4 465.1C488.3 465.3 488.1 465.4 487.9 465.5C487.7 465.6 487.5 465.6 487.3 465.6C487.1 465.6 486.9 465.6 486.7 465.5C486.5 465.4 486.3 465.3 486.2 465.1C486 465 485.9 464.8 485.8 464.6C485.7 464.4 485.7 464.2 485.7 464C485.7 463.8 485.7 463.6 485.8 463.4C485.9 463.2 486 463 486.2 462.9C486.3 462.7 486.5 462.6 486.7 462.5C486.9 462.4 487.1 462.4 487.3 462.4C487.5 462.4 487.7 462.4 487.9 462.5C488.1 462.6 488.3 462.7 488.4 462.9C488.6 463 488.7 463.2 488.8 463.4C488.9 463.6 488.9 463.8 488.9 464Z" fill="#fb5b00"/>
<path d="M488.2 464C488.2 464.1 488.1 464.2 488.1 464.3C488 464.4 488 464.5 487.9 464.6C487.8 464.7 487.7 464.7 487.6 464.8C487.5 464.8 487.4 464.9 487.3 464.9C487.2 464.9 487.1 464.8 487 464.8C486.9 464.7 486.8 464.7 486.7 464.6C486.6 464.5 486.6 464.4 486.5 464.3C486.5 464.2 486.4 464.1 486.4 464C486.4 463.9 486.5 463.8 486.5 463.7C486.6 463.6 486.6 463.5 486.7 463.4C486.8 463.3 486.9 463.3 487 463.2C487.1 463.2 487.2 463.1 487.3 463.1C487.4 463.1 487.5 463.2 487.6 463.2C487.7 463.3 487.8 463.3 487.9 463.4C488 463.5 488 463.6 488.1 463.7C488.1 463.8 488.2 463.9 488.2 464Z" fill="#f50000"/>
</g></g>
<rect x="472.9" y="424.6" width="27.9" height="29.8" fill="none" stroke="#333" stroke-width="0.9"/>
<text transform="translate(453.4 431.7)" font-size="7.6" text-anchor="middle" dy="2.7">17</text>
<line x1="70" y1="535.6" x2="70" y2="639" stroke="#1a1a1a" stroke-width="1.1"/>
<line x1="69.5" y1="638.6" x2="271.6" y2="638.6" stroke="#1a1a1a" stroke-width="1.1"/>
<line x1="67.3" y1="638.6" x2="70" y2="638.6" stroke="#1a1a1a" stroke-width="0.9"/>
<text transform="translate(64.6 638.6) scale(0.9 1)" font-size="8.4" text-anchor="end" dy="2.98">0</text>
<line x1="67.3" y1="613.47" x2="70" y2="613.47" stroke="#1a1a1a" stroke-width="0.9"/>
<text transform="translate(64.6 613.47) scale(0.9 1)" font-size="8.4" text-anchor="end" dy="2.98">10</text>
<line x1="67.3" y1="588.34" x2="70" y2="588.34" stroke="#1a1a1a" stroke-width="0.9"/>
<text transform="translate(64.6 588.34) scale(0.9 1)" font-size="8.4" text-anchor="end" dy="2.98">20</text>
<line x1="67.3" y1="563.21" x2="70" y2="563.21" stroke="#1a1a1a" stroke-width="0.9"/>
<text transform="translate(64.6 563.21) scale(0.9 1)" font-size="8.4" text-anchor="end" dy="2.98">30</text>
<line x1="67.3" y1="538.08" x2="70" y2="538.08" stroke="#1a1a1a" stroke-width="0.9"/>
<text transform="translate(64.6 538.08) scale(0.9 1)" font-size="8.4" text-anchor="end" dy="2.98">40</text>
<line x1="103.8" y1="638.6" x2="103.8" y2="641.2" stroke="#1a1a1a" stroke-width="0.9"/>
<text transform="translate(103.8 649) scale(0.85 1)" font-size="9.2" text-anchor="middle" dy="3.27">Foxp3</text>
<line x1="170.8" y1="638.6" x2="170.8" y2="641.2" stroke="#1a1a1a" stroke-width="0.9"/>
<text transform="translate(170.8 649) scale(0.85 1)" font-size="9.2" text-anchor="middle" dy="3.27">Tfr</text>
<line x1="237.6" y1="638.6" x2="237.6" y2="641.2" stroke="#1a1a1a" stroke-width="0.9"/>
<text transform="translate(237.6 649) scale(0.85 1)" font-size="9.2" text-anchor="middle" dy="3.27">Tfh</text>
<text transform="translate(46 586.6) rotate(-90) scale(0.77 1)" font-size="9.6" text-anchor="middle" dy="3.41">% in donor CD4</text>
<circle cx="82.1" cy="606.9" r="3" fill="none" stroke="#6cae4a" stroke-width="0.95"/>
<circle cx="86.9" cy="605" r="3" fill="none" stroke="#6cae4a" stroke-width="0.95"/>
<circle cx="90.8" cy="608.8" r="3" fill="none" stroke="#6cae4a" stroke-width="0.95"/>
<circle cx="83.1" cy="611.7" r="3" fill="none" stroke="#6cae4a" stroke-width="0.95"/>
<circle cx="86.9" cy="614.6" r="3" fill="none" stroke="#6cae4a" stroke-width="0.95"/>
<circle cx="89.8" cy="615.6" r="3" fill="none" stroke="#6cae4a" stroke-width="0.95"/>
<circle cx="84" cy="609" r="3" fill="none" stroke="#6cae4a" stroke-width="0.95"/>
<rect x="92.2" y="615.7" width="5.6" height="5.6" fill="#ac0a2f" stroke="none" stroke-width="1"/>
<rect x="105.3" y="611" width="5.6" height="5.6" fill="#ac0a2f" stroke="none" stroke-width="1"/>
<rect x="96.6" y="622.4" width="5.6" height="5.6" fill="#ac0a2f" stroke="none" stroke-width="1"/>
<rect x="105.3" y="624.3" width="5.6" height="5.6" fill="#ac0a2f" stroke="none" stroke-width="1"/>
<rect x="97.6" y="629.1" width="5.6" height="5.6" fill="#ac0a2f" stroke="none" stroke-width="1"/>
<rect x="105.3" y="630.7" width="5.6" height="5.6" fill="#ac0a2f" stroke="none" stroke-width="1"/>
<rect x="101" y="634.6" width="5.6" height="5.6" fill="#ac0a2f" stroke="none" stroke-width="1"/>
<path d="M120.6 591.04L123.8 596.8L117.4 596.8Z" fill="#2c4c88"/>
<path d="M115.8 604.44L119 610.2L112.6 610.2Z" fill="#2c4c88"/>
<path d="M125.4 604.44L128.6 610.2L122.2 610.2Z" fill="#2c4c88"/>
<path d="M120.6 605.04L123.8 610.8L117.4 610.8Z" fill="#2c4c88"/>
<path d="M120.6 608.04L123.8 613.8L117.4 613.8Z" fill="#2c4c88"/>
<path d="M117 607.04L120.2 612.8L113.8 612.8Z" fill="#2c4c88"/>
<path d="M124 607.04L127.2 612.8L120.8 612.8Z" fill="#2c4c88"/>
<path d="M120.6 612.14L123.8 617.9L117.4 617.9Z" fill="#2c4c88"/>
<line x1="79.2" y1="611.7" x2="94.6" y2="611.7" stroke="#6cae4a" stroke-width="1.1"/>
<line x1="86.9" y1="609.5" x2="86.9" y2="614" stroke="#6cae4a" stroke-width="1"/>
<line x1="83.7" y1="609.5" x2="90.1" y2="609.5" stroke="#6cae4a" stroke-width="1"/>
<line x1="83.7" y1="614" x2="90.1" y2="614" stroke="#6cae4a" stroke-width="1"/>
<line x1="96.5" y1="626.7" x2="111" y2="626.7" stroke="#ac0a2f" stroke-width="1.1"/>
<line x1="103.75" y1="623.5" x2="103.75" y2="630" stroke="#ac0a2f" stroke-width="1"/>
<line x1="100.55" y1="623.5" x2="106.95" y2="623.5" stroke="#ac0a2f" stroke-width="1"/>
<line x1="100.55" y1="630" x2="106.95" y2="630" stroke="#ac0a2f" stroke-width="1"/>
<line x1="112.9" y1="608.8" x2="128.3" y2="608.8" stroke="#2c4c88" stroke-width="1.1"/>
<line x1="120.6" y1="607" x2="120.6" y2="611" stroke="#2c4c88" stroke-width="1"/>
<line x1="117.4" y1="607" x2="123.8" y2="607" stroke="#2c4c88" stroke-width="1"/>
<line x1="117.4" y1="611" x2="123.8" y2="611" stroke="#2c4c88" stroke-width="1"/>
<circle cx="149.6" cy="580.8" r="3" fill="none" stroke="#6cae4a" stroke-width="0.95"/>
<circle cx="158.3" cy="580.8" r="3" fill="none" stroke="#6cae4a" stroke-width="0.95"/>
<circle cx="153.5" cy="612.9" r="3" fill="none" stroke="#6cae4a" stroke-width="0.95"/>
<circle cx="150.6" cy="617.7" r="3" fill="none" stroke="#6cae4a" stroke-width="0.95"/>
<circle cx="154.4" cy="621.9" r="3" fill="none" stroke="#6cae4a" stroke-width="0.95"/>
<circle cx="158.3" cy="622.5" r="3" fill="none" stroke="#6cae4a" stroke-width="0.95"/>
<rect x="168" y="588" width="5.6" height="5.6" fill="#ac0a2f" stroke="none" stroke-width="1"/>
<rect x="164.1" y="595.7" width="5.6" height="5.6" fill="#ac0a2f" stroke="none" stroke-width="1"/>
<rect x="168" y="595.7" width="5.6" height="5.6" fill="#ac0a2f" stroke="none" stroke-width="1"/>
<rect x="171.8" y="595.7" width="5.6" height="5.6" fill="#ac0a2f" stroke="none" stroke-width="1"/>
<rect x="168" y="608.2" width="5.6" height="5.6" fill="#ac0a2f" stroke="none" stroke-width="1"/>
<rect x="164.1" y="629.3" width="5.6" height="5.6" fill="#ac0a2f" stroke="none" stroke-width="1"/>
<rect x="171.8" y="630.7" width="5.6" height="5.6" fill="#ac0a2f" stroke="none" stroke-width="1"/>
<rect x="168" y="634.2" width="5.6" height="5.6" fill="#ac0a2f" stroke="none" stroke-width="1"/>
<path d="M187.7 560.54L190.9 566.3L184.5 566.3Z" fill="#2c4c88"/>
<path d="M191.9 583.54L195.1 589.3L188.7 589.3Z" fill="#2c4c88"/>
<path d="M183.8 591.54L187 597.3L180.6 597.3Z" fill="#2c4c88"/>
<path d="M187.7 593.14L190.9 598.9L184.5 598.9Z" fill="#2c4c88"/>
<path d="M184.2 598.24L187.4 604L181 604Z" fill="#2c4c88"/>
<path d="M191.5 598.24L194.7 604L188.3 604Z" fill="#2c4c88"/>
<path d="M187.7 603.14L190.9 608.9L184.5 608.9Z" fill="#2c4c88"/>
<path d="M191.9 608.44L195.1 614.2L188.7 614.2Z" fill="#2c4c88"/>
<path d="M183.3 613.14L186.5 618.9L180.1 618.9Z" fill="#2c4c88"/>
<line x1="145.8" y1="606.5" x2="162.1" y2="606.5" stroke="#6cae4a" stroke-width="1.1"/>
<line x1="153.95" y1="598.5" x2="153.95" y2="614.4" stroke="#6cae4a" stroke-width="1"/>
<line x1="150.75" y1="598.5" x2="157.15" y2="598.5" stroke="#6cae4a" stroke-width="1"/>
<line x1="150.75" y1="614.4" x2="157.15" y2="614.4" stroke="#6cae4a" stroke-width="1"/>
<line x1="163.1" y1="612.5" x2="178.5" y2="612.5" stroke="#ac0a2f" stroke-width="1.1"/>
<line x1="170.8" y1="606.5" x2="170.8" y2="619.6" stroke="#ac0a2f" stroke-width="1"/>
<line x1="167.6" y1="606.5" x2="174" y2="606.5" stroke="#ac0a2f" stroke-width="1"/>
<line x1="167.6" y1="619.6" x2="174" y2="619.6" stroke="#ac0a2f" stroke-width="1"/>
<line x1="179.4" y1="596.9" x2="195.8" y2="596.9" stroke="#2c4c88" stroke-width="1.1"/>
<line x1="187.6" y1="591.2" x2="187.6" y2="603.3" stroke="#2c4c88" stroke-width="1"/>
<line x1="184.4" y1="591.2" x2="190.8" y2="591.2" stroke="#2c4c88" stroke-width="1"/>
<line x1="184.4" y1="603.3" x2="190.8" y2="603.3" stroke="#2c4c88" stroke-width="1"/>
<circle cx="217" cy="608" r="3" fill="none" stroke="#6cae4a" stroke-width="0.95"/>
<circle cx="225.6" cy="603.4" r="3" fill="none" stroke="#6cae4a" stroke-width="0.95"/>
<circle cx="217" cy="627" r="3" fill="none" stroke="#6cae4a" stroke-width="0.95"/>
<circle cx="221.6" cy="625" r="3" fill="none" stroke="#6cae4a" stroke-width="0.95"/>
<circle cx="221" cy="634.6" r="3" fill="none" stroke="#6cae4a" stroke-width="0.95"/>
<circle cx="225" cy="633" r="3" fill="none" stroke="#6cae4a" stroke-width="0.95"/>
<rect x="234.8" y="547.8" width="5.6" height="5.6" fill="#ac0a2f" stroke="none" stroke-width="1"/>
<rect x="230.8" y="563.2" width="5.6" height="5.6" fill="#ac0a2f" stroke="none" stroke-width="1"/>
<rect x="239.2" y="568.2" width="5.6" height="5.6" fill="#ac0a2f" stroke="none" stroke-width="1"/>
<rect x="226.2" y="588.2" width="5.6" height="5.6" fill="#ac0a2f" stroke="none" stroke-width="1"/>
<rect x="239.2" y="585.8" width="5.6" height="5.6" fill="#ac0a2f" stroke="none" stroke-width="1"/>
<rect x="230.8" y="595.8" width="5.6" height="5.6" fill="#ac0a2f" stroke="none" stroke-width="1"/>
<rect x="239.2" y="598.2" width="5.6" height="5.6" fill="#ac0a2f" stroke="none" stroke-width="1"/>
<rect x="234.8" y="608.6" width="5.6" height="5.6" fill="#ac0a2f" stroke="none" stroke-width="1"/>
<path d="M254.4 587.94L257.6 593.7L251.2 593.7Z" fill="#2c4c88"/>
<path d="M254.4 602.94L257.6 608.7L251.2 608.7Z" fill="#2c4c88"/>
<path d="M251 613.54L254.2 619.3L247.8 619.3Z" fill="#2c4c88"/>
<path d="M258.4 612.34L261.6 618.1L255.2 618.1Z" fill="#2c4c88"/>
<path d="M251 617.54L254.2 623.3L247.8 623.3Z" fill="#2c4c88"/>
<path d="M255 615.94L258.2 621.7L251.8 621.7Z" fill="#2c4c88"/>
<path d="M254 626.34L257.2 632.1L250.8 632.1Z" fill="#2c4c88"/>
<path d="M258.4 625.54L261.6 631.3L255.2 631.3Z" fill="#2c4c88"/>
<line x1="213" y1="622" x2="229.6" y2="622" stroke="#6cae4a" stroke-width="1.1"/>
<line x1="221.3" y1="617" x2="221.3" y2="627" stroke="#6cae4a" stroke-width="1"/>
<line x1="218.1" y1="617" x2="224.5" y2="617" stroke="#6cae4a" stroke-width="1"/>
<line x1="218.1" y1="627" x2="224.5" y2="627" stroke="#6cae4a" stroke-width="1"/>
<line x1="229.6" y1="584.6" x2="246" y2="584.6" stroke="#ac0a2f" stroke-width="1.1"/>
<line x1="237.8" y1="578" x2="237.8" y2="592" stroke="#ac0a2f" stroke-width="1"/>
<line x1="234.6" y1="578" x2="241" y2="578" stroke="#ac0a2f" stroke-width="1"/>
<line x1="234.6" y1="592" x2="241" y2="592" stroke="#ac0a2f" stroke-width="1"/>
<line x1="246.4" y1="616" x2="263" y2="616" stroke="#2c4c88" stroke-width="1.1"/>
<line x1="254.7" y1="611" x2="254.7" y2="620.6" stroke="#2c4c88" stroke-width="1"/>
<line x1="251.5" y1="611" x2="257.9" y2="611" stroke="#2c4c88" stroke-width="1"/>
<line x1="251.5" y1="620.6" x2="257.9" y2="620.6" stroke="#2c4c88" stroke-width="1"/>
<path d="M100.4 586.9V582.1H121.2V586.9" fill="none" stroke="#111" stroke-width="0.95"/>
<text transform="translate(110.8 577.5)" font-size="7.6" text-anchor="middle" dy="2.7">***</text>
<path d="M237 543.4V539H257.6V543.4" fill="none" stroke="#111" stroke-width="0.95"/>
<text transform="translate(247.3 534.5)" font-size="7.6" text-anchor="middle" dy="2.7">**</text>
<circle cx="123.7" cy="663.9" r="3.2" fill="none" stroke="#6cae4a" stroke-width="1"/>
<text transform="translate(129.2 663.9) scale(0.84 1)" font-size="8.2" dy="2.91">BM</text>
<rect x="144.1" y="661" width="5.8" height="5.8" fill="#ac0a2f" stroke="none" stroke-width="1"/>
<text transform="translate(153.2 663.9) scale(0.84 1)" font-size="8.2" dy="2.91">WT SP</text>
<path d="M181.2 660.44L184.4 666.2L178 666.2Z" fill="#2c4c88"/>
<text transform="translate(187.7 663.9) scale(0.84 1)" font-size="8.2" dy="2.91">Sirt-1<tspan font-size="5.08" dy="-3.28">-/-</tspan><tspan dy="3.28"> SP</tspan></text>
<line x1="349" y1="535.4" x2="349" y2="639" stroke="#1a1a1a" stroke-width="1.1"/>
<line x1="348.5" y1="638.6" x2="504.6" y2="638.6" stroke="#1a1a1a" stroke-width="1.1"/>
<line x1="346.3" y1="638.6" x2="349" y2="638.6" stroke="#1a1a1a" stroke-width="0.9"/>
<text transform="translate(343.6 638.6) scale(0.9 1)" font-size="8.4" text-anchor="end" dy="2.98">0</text>
<line x1="346.3" y1="605.1" x2="349" y2="605.1" stroke="#1a1a1a" stroke-width="0.9"/>
<text transform="translate(343.6 605.1) scale(0.9 1)" font-size="8.4" text-anchor="end" dy="2.98">20</text>
<line x1="346.3" y1="571.6" x2="349" y2="571.6" stroke="#1a1a1a" stroke-width="0.9"/>
<text transform="translate(343.6 571.6) scale(0.9 1)" font-size="8.4" text-anchor="end" dy="2.98">40</text>
<line x1="346.3" y1="538.1" x2="349" y2="538.1" stroke="#1a1a1a" stroke-width="0.9"/>
<text transform="translate(343.6 538.1) scale(0.9 1)" font-size="8.4" text-anchor="end" dy="2.98">60</text>
<line x1="387" y1="638.6" x2="387" y2="641.2" stroke="#1a1a1a" stroke-width="0.9"/>
<text transform="translate(387 649.4) scale(0.85 1)" font-size="9.2" text-anchor="middle" dy="3.27">CD4</text>
<line x1="465" y1="638.6" x2="465" y2="641.2" stroke="#1a1a1a" stroke-width="0.9"/>
<text transform="translate(465 649.4) scale(0.85 1)" font-size="9.2" text-anchor="middle" dy="3.27">CD8</text>
<text transform="translate(325.5 585.5) rotate(-90) scale(0.77 1)" font-size="9.6" text-anchor="middle" dy="3.41">% IFN-γ</text>
<circle cx="368.4" cy="606.6" r="3" fill="none" stroke="#6cae4a" stroke-width="0.95"/>
<circle cx="363.6" cy="618" r="3" fill="none" stroke="#6cae4a" stroke-width="0.95"/>
<circle cx="373" cy="620.6" r="3" fill="none" stroke="#6cae4a" stroke-width="0.95"/>
<circle cx="363.6" cy="627.4" r="3" fill="none" stroke="#6cae4a" stroke-width="0.95"/>
<circle cx="368.4" cy="631.4" r="3" fill="none" stroke="#6cae4a" stroke-width="0.95"/>
<circle cx="373.6" cy="630.6" r="3" fill="none" stroke="#6cae4a" stroke-width="0.95"/>
<circle cx="368.4" cy="621" r="3" fill="none" stroke="#6cae4a" stroke-width="0.95"/>
<rect x="375.6" y="575.2" width="5.6" height="5.6" fill="#ac0a2f" stroke="none" stroke-width="1"/>
<rect x="389.6" y="572.2" width="5.6" height="5.6" fill="#ac0a2f" stroke="none" stroke-width="1"/>
<rect x="380.2" y="581.8" width="5.6" height="5.6" fill="#ac0a2f" stroke="none" stroke-width="1"/>
<rect x="389.6" y="588.6" width="5.6" height="5.6" fill="#ac0a2f" stroke="none" stroke-width="1"/>
<rect x="380.2" y="602.2" width="5.6" height="5.6" fill="#ac0a2f" stroke="none" stroke-width="1"/>
<rect x="385.2" y="600.2" width="5.6" height="5.6" fill="#ac0a2f" stroke="none" stroke-width="1"/>
<rect x="389.6" y="610.6" width="5.6" height="5.6" fill="#ac0a2f" stroke="none" stroke-width="1"/>
<rect x="380.2" y="624.2" width="5.6" height="5.6" fill="#ac0a2f" stroke="none" stroke-width="1"/>
<rect x="389.6" y="621.2" width="5.6" height="5.6" fill="#ac0a2f" stroke="none" stroke-width="1"/>
<path d="M407 604.04L410.2 609.8L403.8 609.8Z" fill="#2c4c88"/>
<path d="M402 615.14L405.2 620.9L398.8 620.9Z" fill="#2c4c88"/>
<path d="M412 614.54L415.2 620.3L408.8 620.3Z" fill="#2c4c88"/>
<path d="M401 622.54L404.2 628.3L397.8 628.3Z" fill="#2c4c88"/>
<path d="M407 624.54L410.2 630.3L403.8 630.3Z" fill="#2c4c88"/>
<path d="M405 627.54L408.2 633.3L401.8 633.3Z" fill="#2c4c88"/>
<path d="M410 627.54L413.2 633.3L406.8 633.3Z" fill="#2c4c88"/>
<path d="M413 626.54L416.2 632.3L409.8 632.3Z" fill="#2c4c88"/>
<line x1="359" y1="622.6" x2="377" y2="622.6" stroke="#6cae4a" stroke-width="1.1"/>
<line x1="368" y1="619" x2="368" y2="626" stroke="#6cae4a" stroke-width="1"/>
<line x1="364.8" y1="619" x2="371.2" y2="619" stroke="#6cae4a" stroke-width="1"/>
<line x1="364.8" y1="626" x2="371.2" y2="626" stroke="#6cae4a" stroke-width="1"/>
<line x1="378" y1="600.6" x2="397" y2="600.6" stroke="#ac0a2f" stroke-width="1.1"/>
<line x1="387.5" y1="594" x2="387.5" y2="606.6" stroke="#ac0a2f" stroke-width="1"/>
<line x1="384.3" y1="594" x2="390.7" y2="594" stroke="#ac0a2f" stroke-width="1"/>
<line x1="384.3" y1="606.6" x2="390.7" y2="606.6" stroke="#ac0a2f" stroke-width="1"/>
<line x1="398" y1="624" x2="417" y2="624" stroke="#2c4c88" stroke-width="1.1"/>
<line x1="407.5" y1="621.5" x2="407.5" y2="626.5" stroke="#2c4c88" stroke-width="1"/>
<line x1="404.3" y1="621.5" x2="410.7" y2="621.5" stroke="#2c4c88" stroke-width="1"/>
<line x1="404.3" y1="626.5" x2="410.7" y2="626.5" stroke="#2c4c88" stroke-width="1"/>
<circle cx="446" cy="588.6" r="3" fill="none" stroke="#6cae4a" stroke-width="0.95"/>
<circle cx="451.4" cy="596.6" r="3" fill="none" stroke="#6cae4a" stroke-width="0.95"/>
<circle cx="440.6" cy="603.4" r="3" fill="none" stroke="#6cae4a" stroke-width="0.95"/>
<circle cx="446" cy="605" r="3" fill="none" stroke="#6cae4a" stroke-width="0.95"/>
<circle cx="441" cy="622" r="3" fill="none" stroke="#6cae4a" stroke-width="0.95"/>
<circle cx="450.6" cy="620" r="3" fill="none" stroke="#6cae4a" stroke-width="0.95"/>
<rect x="462.6" y="540.2" width="5.6" height="5.6" fill="#ac0a2f" stroke="none" stroke-width="1"/>
<rect x="462.6" y="559.8" width="5.6" height="5.6" fill="#ac0a2f" stroke="none" stroke-width="1"/>
<rect x="457.2" y="564.6" width="5.6" height="5.6" fill="#ac0a2f" stroke="none" stroke-width="1"/>
<rect x="468.2" y="563.8" width="5.6" height="5.6" fill="#ac0a2f" stroke="none" stroke-width="1"/>
<rect x="462.6" y="567.8" width="5.6" height="5.6" fill="#ac0a2f" stroke="none" stroke-width="1"/>
<rect x="457.2" y="570.2" width="5.6" height="5.6" fill="#ac0a2f" stroke="none" stroke-width="1"/>
<rect x="468.2" y="570.2" width="5.6" height="5.6" fill="#ac0a2f" stroke="none" stroke-width="1"/>
<rect x="462.6" y="573.2" width="5.6" height="5.6" fill="#ac0a2f" stroke="none" stroke-width="1"/>
<rect x="457.8" y="607.2" width="5.6" height="5.6" fill="#ac0a2f" stroke="none" stroke-width="1"/>
<rect x="467.2" y="603.8" width="5.6" height="5.6" fill="#ac0a2f" stroke="none" stroke-width="1"/>
<path d="M479.4 580.54L482.6 586.3L476.2 586.3Z" fill="#2c4c88"/>
<path d="M494 585.94L497.2 591.7L490.8 591.7Z" fill="#2c4c88"/>
<path d="M489.4 592.34L492.6 598.1L486.2 598.1Z" fill="#2c4c88"/>
<path d="M480 596.94L483.2 602.7L476.8 602.7Z" fill="#2c4c88"/>
<path d="M490 602.34L493.2 608.1L486.8 608.1Z" fill="#2c4c88"/>
<path d="M479 608.94L482.2 614.7L475.8 614.7Z" fill="#2c4c88"/>
<path d="M484.6 610.94L487.8 616.7L481.4 616.7Z" fill="#2c4c88"/>
<path d="M484.6 620.34L487.8 626.1L481.4 626.1Z" fill="#2c4c88"/>
<line x1="436.6" y1="606" x2="455" y2="606" stroke="#6cae4a" stroke-width="1.1"/>
<line x1="445.8" y1="600.6" x2="445.8" y2="611" stroke="#6cae4a" stroke-width="1"/>
<line x1="442.6" y1="600.6" x2="449" y2="600.6" stroke="#6cae4a" stroke-width="1"/>
<line x1="442.6" y1="611" x2="449" y2="611" stroke="#6cae4a" stroke-width="1"/>
<line x1="456" y1="575.4" x2="474.6" y2="575.4" stroke="#ac0a2f" stroke-width="1.1"/>
<line x1="465.3" y1="568" x2="465.3" y2="582.6" stroke="#ac0a2f" stroke-width="1"/>
<line x1="462.1" y1="568" x2="468.5" y2="568" stroke="#ac0a2f" stroke-width="1"/>
<line x1="462.1" y1="582.6" x2="468.5" y2="582.6" stroke="#ac0a2f" stroke-width="1"/>
<line x1="475.4" y1="602" x2="494" y2="602" stroke="#2c4c88" stroke-width="1.1"/>
<line x1="484.7" y1="598" x2="484.7" y2="607.4" stroke="#2c4c88" stroke-width="1"/>
<line x1="481.5" y1="598" x2="487.9" y2="598" stroke="#2c4c88" stroke-width="1"/>
<line x1="481.5" y1="607.4" x2="487.9" y2="607.4" stroke="#2c4c88" stroke-width="1"/>
<path d="M385.6 567.6V563.6H406.4V567.6" fill="none" stroke="#111" stroke-width="0.95"/>
<text transform="translate(396 558.5)" font-size="7.6" text-anchor="middle" dy="2.7">**</text>
<path d="M464.4 536.6V532.6H485V536.6" fill="none" stroke="#111" stroke-width="0.95"/>
<text transform="translate(474.7 528)" font-size="7.6" text-anchor="middle" dy="2.7">**</text>
<circle cx="379.3" cy="663.4" r="3.2" fill="none" stroke="#6cae4a" stroke-width="1"/>
<text transform="translate(385.3 663.4) scale(0.84 1)" font-size="8.2" dy="2.91">BM</text>
<rect x="400.1" y="660.5" width="5.8" height="5.8" fill="#ac0a2f" stroke="none" stroke-width="1"/>
<text transform="translate(409 663.4) scale(0.84 1)" font-size="8.2" dy="2.91">WT SP</text>
<path d="M437.5 659.94L440.7 665.7L434.3 665.7Z" fill="#2c4c88"/>
<text transform="translate(443.2 663.4) scale(0.84 1)" font-size="8.2" dy="2.91">Sirt-1<tspan font-size="5.08" dy="-3.28">-/-</tspan><tspan dy="3.28"> SP</tspan></text>
<rect x="0.5" y="0.5" width="519" height="674" fill="none" stroke="#000" stroke-width="1.2"/>
</svg>
</body></html>
